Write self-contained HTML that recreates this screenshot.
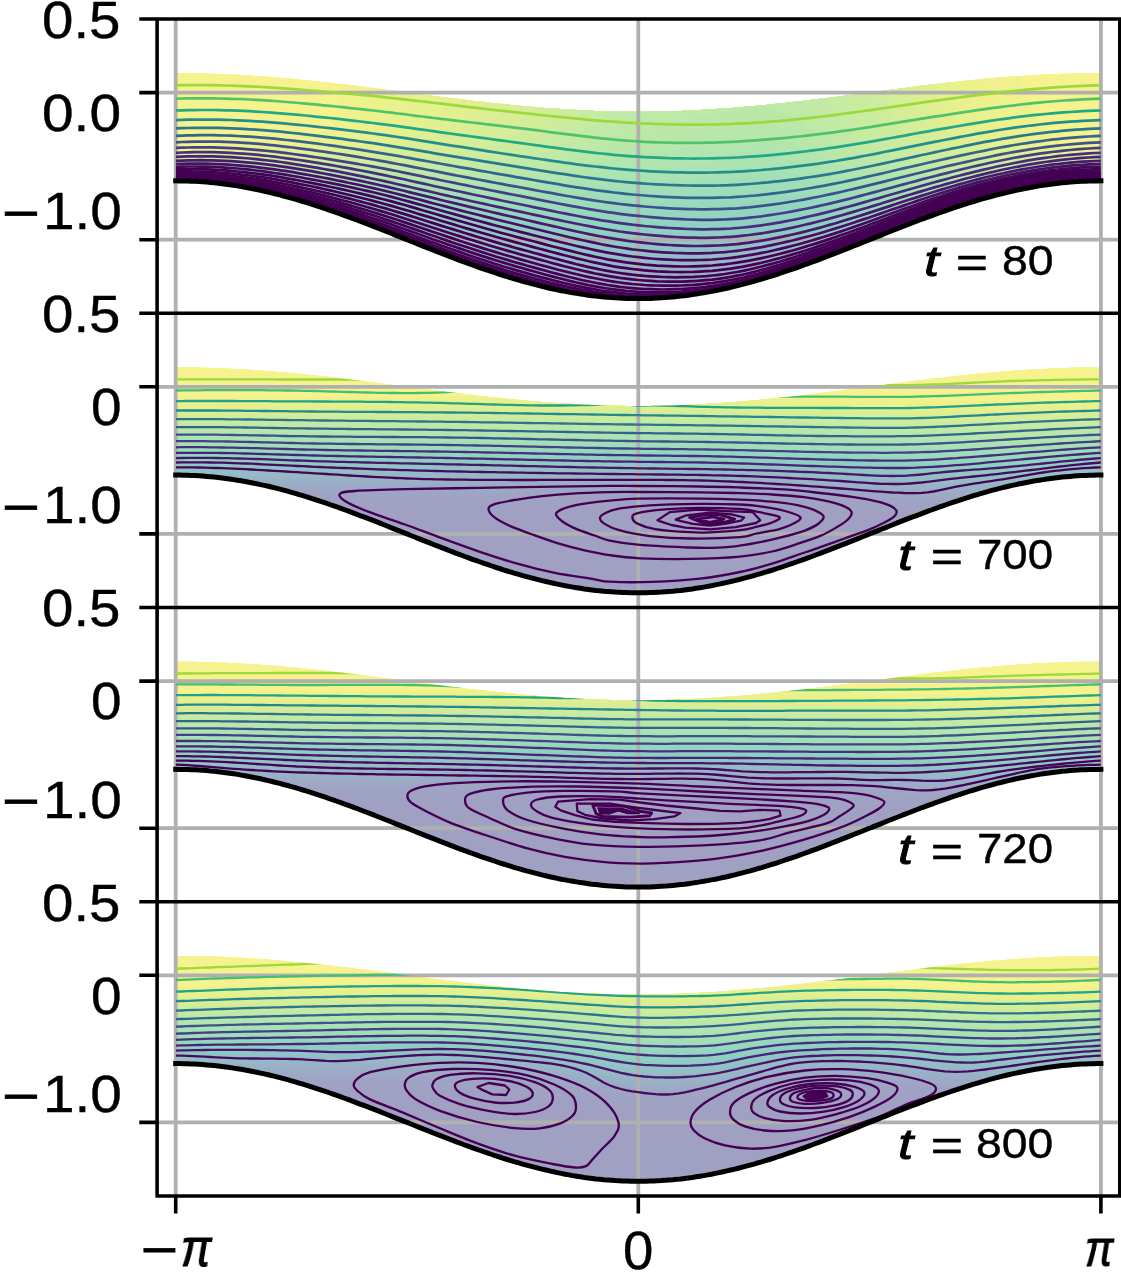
<!DOCTYPE html>
<html><head><meta charset="utf-8"><title>contours</title>
<style>
html,body{margin:0;padding:0;background:#fff}
#fig{position:relative;width:1121px;height:1280px;overflow:hidden;background:#fff;font-family:"Liberation Sans",sans-serif;color:#000}
.t{-webkit-text-stroke:0.4px #000;will-change:transform;position:absolute;white-space:nowrap;line-height:1;transform-origin:0 0}
.i{font-style:italic}
</style></head><body><div id="fig">
<svg width="1121" height="1280" viewBox="0 0 1121 1280" style="position:absolute;left:0;top:0">
<defs><clipPath id="c0"><path d="M175.7 73.1L179.6 73.1L183.4 73.2L187.3 73.2L191.1 73.2L195 73.3L198.8 73.4L202.7 73.5L206.5 73.6L210.4 73.7L214.3 73.8L218.1 73.9L222 74.1L225.8 74.2L229.7 74.4L233.5 74.6L237.4 74.8L241.2 75L245.1 75.2L248.9 75.5L252.8 75.7L256.7 76L260.5 76.3L264.4 76.5L268.2 76.8L272.1 77.1L275.9 77.4L279.8 77.8L283.6 78.1L287.5 78.4L291.4 78.8L295.2 79.1L299.1 79.5L302.9 79.9L306.8 80.3L310.6 80.7L314.5 81.1L318.3 81.5L322.2 81.9L326 82.3L329.9 82.8L333.8 83.2L337.6 83.7L341.5 84.1L345.3 84.6L349.2 85L353 85.5L356.9 86L360.7 86.5L364.6 86.9L368.5 87.4L372.3 87.9L376.2 88.4L380 88.9L383.9 89.4L387.7 89.9L391.6 90.4L395.4 90.9L399.3 91.4L403.1 91.9L407 92.4L410.9 92.9L414.7 93.4L418.6 93.9L422.4 94.4L426.3 94.9L430.1 95.4L434 95.9L437.8 96.4L441.7 96.9L445.6 97.4L449.4 97.9L453.3 98.4L457.1 98.8L461 99.3L464.8 99.8L468.7 100.3L472.5 100.7L476.4 101.2L480.2 101.6L484.1 102.1L488 102.5L491.8 102.9L495.7 103.3L499.5 103.7L503.4 104.1L507.2 104.5L511.1 104.9L514.9 105.3L518.8 105.7L522.7 106L526.5 106.4L530.4 106.7L534.2 107.1L538.1 107.4L541.9 107.7L545.8 108L549.6 108.3L553.5 108.6L557.3 108.8L561.2 109.1L565.1 109.4L568.9 109.6L572.8 109.8L576.6 110L580.5 110.2L584.3 110.4L588.2 110.6L592 110.7L595.9 110.9L599.8 111L603.6 111.2L607.5 111.3L611.3 111.4L615.2 111.5L619 111.5L622.9 111.6L626.7 111.6L630.6 111.7L634.4 111.7L638.3 111.7L642.2 111.7L646 111.7L649.9 111.6L653.7 111.6L657.6 111.5L661.4 111.5L665.3 111.4L669.1 111.3L673 111.2L676.8 111L680.7 110.9L684.6 110.7L688.4 110.6L692.3 110.4L696.1 110.2L700 110L703.8 109.8L707.7 109.6L711.5 109.4L715.4 109.1L719.3 108.8L723.1 108.6L727 108.3L730.8 108L734.7 107.7L738.5 107.4L742.4 107.1L746.2 106.7L750.1 106.4L753.9 106L757.8 105.7L761.7 105.3L765.5 104.9L769.4 104.5L773.2 104.1L777.1 103.7L780.9 103.3L784.8 102.9L788.6 102.5L792.5 102.1L796.4 101.6L800.2 101.2L804.1 100.7L807.9 100.3L811.8 99.8L815.6 99.3L819.5 98.8L823.3 98.4L827.2 97.9L831 97.4L834.9 96.9L838.8 96.4L842.6 95.9L846.5 95.4L850.3 94.9L854.2 94.4L858 93.9L861.9 93.4L865.7 92.9L869.6 92.4L873.5 91.9L877.3 91.4L881.2 90.9L885 90.4L888.9 89.9L892.7 89.4L896.6 88.9L900.4 88.4L904.3 87.9L908.1 87.4L912 86.9L915.9 86.5L919.7 86L923.6 85.5L927.4 85L931.3 84.6L935.1 84.1L939 83.7L942.8 83.2L946.7 82.8L950.6 82.3L954.4 81.9L958.3 81.5L962.1 81.1L966 80.7L969.8 80.3L973.7 79.9L977.5 79.5L981.4 79.1L985.2 78.8L989.1 78.4L993 78.1L996.8 77.8L1000.7 77.4L1004.5 77.1L1008.4 76.8L1012.2 76.5L1016.1 76.3L1019.9 76L1023.8 75.7L1027.7 75.5L1031.5 75.2L1035.4 75L1039.2 74.8L1043.1 74.6L1046.9 74.4L1050.8 74.2L1054.6 74.1L1058.5 73.9L1062.3 73.8L1066.2 73.7L1070.1 73.6L1073.9 73.5L1077.8 73.4L1081.6 73.3L1085.5 73.2L1089.3 73.2L1093.2 73.2L1097 73.1L1100.9 73.1L1100.9 180.8L1097 180.9L1093.2 180.9L1089.3 181L1085.5 181.2L1081.6 181.3L1077.8 181.6L1073.9 181.8L1070.1 182.1L1066.2 182.5L1062.3 182.8L1058.5 183.3L1054.6 183.7L1050.8 184.2L1046.9 184.7L1043.1 185.3L1039.2 185.9L1035.4 186.6L1031.5 187.3L1027.7 188L1023.8 188.7L1019.9 189.5L1016.1 190.3L1012.2 191.2L1008.4 192.1L1004.5 193L1000.7 194L996.8 194.9L993 196L989.1 197L985.2 198.1L981.4 199.2L977.5 200.3L973.7 201.5L969.8 202.7L966 203.9L962.1 205.1L958.3 206.4L954.4 207.6L950.6 208.9L946.7 210.3L942.8 211.6L939 213L935.1 214.4L931.3 215.8L927.4 217.2L923.6 218.6L919.7 220L915.9 221.5L912 223L908.1 224.5L904.3 225.9L900.4 227.5L896.6 229L892.7 230.5L888.9 232L885 233.5L881.2 235.1L877.3 236.6L873.5 238.1L869.6 239.7L865.7 241.2L861.9 242.8L858 244.3L854.2 245.8L850.3 247.4L846.5 248.9L842.6 250.4L838.8 251.9L834.9 253.4L831 254.9L827.2 256.4L823.3 257.9L819.5 259.3L815.6 260.8L811.8 262.2L807.9 263.6L804.1 265L800.2 266.4L796.4 267.8L792.5 269.1L788.6 270.4L784.8 271.7L780.9 273L777.1 274.3L773.2 275.5L769.4 276.7L765.5 277.9L761.7 279.1L757.8 280.2L753.9 281.3L750.1 282.4L746.2 283.4L742.4 284.4L738.5 285.4L734.7 286.4L730.8 287.3L727 288.2L723.1 289L719.3 289.9L715.4 290.7L711.5 291.4L707.7 292.1L703.8 292.8L700 293.4L696.1 294.1L692.3 294.6L688.4 295.2L684.6 295.7L680.7 296.1L676.8 296.5L673 296.9L669.1 297.3L665.3 297.6L661.4 297.8L657.6 298L653.7 298.2L649.9 298.4L646 298.5L642.2 298.5L638.3 298.5L634.4 298.5L630.6 298.5L626.7 298.4L622.9 298.2L619 298L615.2 297.8L611.3 297.6L607.5 297.3L603.6 296.9L599.8 296.5L595.9 296.1L592 295.7L588.2 295.2L584.3 294.6L580.5 294.1L576.6 293.4L572.8 292.8L568.9 292.1L565.1 291.4L561.2 290.7L557.3 289.9L553.5 289L549.6 288.2L545.8 287.3L541.9 286.4L538.1 285.4L534.2 284.4L530.4 283.4L526.5 282.4L522.7 281.3L518.8 280.2L514.9 279.1L511.1 277.9L507.2 276.7L503.4 275.5L499.5 274.3L495.7 273L491.8 271.7L488 270.4L484.1 269.1L480.2 267.8L476.4 266.4L472.5 265L468.7 263.6L464.8 262.2L461 260.8L457.1 259.3L453.3 257.9L449.4 256.4L445.6 254.9L441.7 253.4L437.8 251.9L434 250.4L430.1 248.9L426.3 247.4L422.4 245.8L418.6 244.3L414.7 242.8L410.9 241.2L407 239.7L403.1 238.1L399.3 236.6L395.4 235.1L391.6 233.5L387.7 232L383.9 230.5L380 229L376.2 227.5L372.3 225.9L368.5 224.5L364.6 223L360.7 221.5L356.9 220L353 218.6L349.2 217.2L345.3 215.8L341.5 214.4L337.6 213L333.8 211.6L329.9 210.3L326 208.9L322.2 207.6L318.3 206.4L314.5 205.1L310.6 203.9L306.8 202.7L302.9 201.5L299.1 200.3L295.2 199.2L291.4 198.1L287.5 197L283.6 196L279.8 194.9L275.9 194L272.1 193L268.2 192.1L264.4 191.2L260.5 190.3L256.7 189.5L252.8 188.7L248.9 188L245.1 187.3L241.2 186.6L237.4 185.9L233.5 185.3L229.7 184.7L225.8 184.2L222 183.7L218.1 183.3L214.3 182.8L210.4 182.5L206.5 182.1L202.7 181.8L198.8 181.6L195 181.3L191.1 181.2L187.3 181L183.4 180.9L179.6 180.9L175.7 180.8Z"/></clipPath><clipPath id="c1"><path d="M175.7 367.4L179.6 367.4L183.4 367.4L187.3 367.5L191.1 367.5L195 367.6L198.8 367.6L202.7 367.7L206.5 367.8L210.4 367.9L214.3 368L218.1 368.2L222 368.3L225.8 368.5L229.7 368.7L233.5 368.9L237.4 369.1L241.2 369.3L245.1 369.5L248.9 369.7L252.8 370L256.7 370.2L260.5 370.5L264.4 370.8L268.2 371.1L272.1 371.4L275.9 371.7L279.8 372L283.6 372.3L287.5 372.7L291.4 373L295.2 373.4L299.1 373.8L302.9 374.1L306.8 374.5L310.6 374.9L314.5 375.3L318.3 375.7L322.2 376.2L326 376.6L329.9 377L333.8 377.5L337.6 377.9L341.5 378.4L345.3 378.8L349.2 379.3L353 379.8L356.9 380.2L360.7 380.7L364.6 381.2L368.5 381.7L372.3 382.2L376.2 382.7L380 383.2L383.9 383.7L387.7 384.1L391.6 384.7L395.4 385.2L399.3 385.7L403.1 386.2L407 386.7L410.9 387.2L414.7 387.7L418.6 388.2L422.4 388.7L426.3 389.2L430.1 389.7L434 390.2L437.8 390.7L441.7 391.2L445.6 391.7L449.4 392.1L453.3 392.6L457.1 393.1L461 393.6L464.8 394L468.7 394.5L472.5 395L476.4 395.4L480.2 395.9L484.1 396.3L488 396.7L491.8 397.2L495.7 397.6L499.5 398L503.4 398.4L507.2 398.8L511.1 399.2L514.9 399.6L518.8 399.9L522.7 400.3L526.5 400.6L530.4 401L534.2 401.3L538.1 401.6L541.9 402L545.8 402.3L549.6 402.5L553.5 402.8L557.3 403.1L561.2 403.4L565.1 403.6L568.9 403.8L572.8 404.1L576.6 404.3L580.5 404.5L584.3 404.7L588.2 404.8L592 405L595.9 405.1L599.8 405.3L603.6 405.4L607.5 405.5L611.3 405.6L615.2 405.7L619 405.8L622.9 405.8L626.7 405.9L630.6 405.9L634.4 405.9L638.3 405.9L642.2 405.9L646 405.9L649.9 405.9L653.7 405.8L657.6 405.8L661.4 405.7L665.3 405.6L669.1 405.5L673 405.4L676.8 405.3L680.7 405.1L684.6 405L688.4 404.8L692.3 404.7L696.1 404.5L700 404.3L703.8 404.1L707.7 403.8L711.5 403.6L715.4 403.4L719.3 403.1L723.1 402.8L727 402.5L730.8 402.3L734.7 402L738.5 401.6L742.4 401.3L746.2 401L750.1 400.6L753.9 400.3L757.8 399.9L761.7 399.6L765.5 399.2L769.4 398.8L773.2 398.4L777.1 398L780.9 397.6L784.8 397.2L788.6 396.7L792.5 396.3L796.4 395.9L800.2 395.4L804.1 395L807.9 394.5L811.8 394L815.6 393.6L819.5 393.1L823.3 392.6L827.2 392.1L831 391.7L834.9 391.2L838.8 390.7L842.6 390.2L846.5 389.7L850.3 389.2L854.2 388.7L858 388.2L861.9 387.7L865.7 387.2L869.6 386.7L873.5 386.2L877.3 385.7L881.2 385.2L885 384.7L888.9 384.1L892.7 383.7L896.6 383.2L900.4 382.7L904.3 382.2L908.1 381.7L912 381.2L915.9 380.7L919.7 380.2L923.6 379.8L927.4 379.3L931.3 378.8L935.1 378.4L939 377.9L942.8 377.5L946.7 377L950.6 376.6L954.4 376.2L958.3 375.7L962.1 375.3L966 374.9L969.8 374.5L973.7 374.1L977.5 373.8L981.4 373.4L985.2 373L989.1 372.7L993 372.3L996.8 372L1000.7 371.7L1004.5 371.4L1008.4 371.1L1012.2 370.8L1016.1 370.5L1019.9 370.2L1023.8 370L1027.7 369.7L1031.5 369.5L1035.4 369.3L1039.2 369.1L1043.1 368.9L1046.9 368.7L1050.8 368.5L1054.6 368.3L1058.5 368.2L1062.3 368L1066.2 367.9L1070.1 367.8L1073.9 367.7L1077.8 367.6L1081.6 367.6L1085.5 367.5L1089.3 367.5L1093.2 367.4L1097 367.4L1100.9 367.4L1100.9 475.1L1097 475.1L1093.2 475.2L1089.3 475.3L1085.5 475.4L1081.6 475.6L1077.8 475.8L1073.9 476.1L1070.1 476.4L1066.2 476.7L1062.3 477.1L1058.5 477.5L1054.6 478L1050.8 478.5L1046.9 479L1043.1 479.6L1039.2 480.2L1035.4 480.8L1031.5 481.5L1027.7 482.2L1023.8 483L1019.9 483.8L1016.1 484.6L1012.2 485.4L1008.4 486.3L1004.5 487.2L1000.7 488.2L996.8 489.2L993 490.2L989.1 491.2L985.2 492.3L981.4 493.4L977.5 494.6L973.7 495.7L969.8 496.9L966 498.1L962.1 499.3L958.3 500.6L954.4 501.9L950.6 503.2L946.7 504.5L942.8 505.9L939 507.2L935.1 508.6L931.3 510L927.4 511.4L923.6 512.8L919.7 514.3L915.9 515.8L912 517.2L908.1 518.7L904.3 520.2L900.4 521.7L896.6 523.2L892.7 524.7L888.9 526.3L885 527.8L881.2 529.3L877.3 530.9L873.5 532.4L869.6 533.9L865.7 535.5L861.9 537L858 538.6L854.2 540.1L850.3 541.6L846.5 543.1L842.6 544.7L838.8 546.2L834.9 547.7L831 549.2L827.2 550.7L823.3 552.1L819.5 553.6L815.6 555L811.8 556.5L807.9 557.9L804.1 559.3L800.2 560.7L796.4 562L792.5 563.4L788.6 564.7L784.8 566L780.9 567.3L777.1 568.5L773.2 569.8L769.4 571L765.5 572.2L761.7 573.3L757.8 574.4L753.9 575.6L750.1 576.6L746.2 577.7L742.4 578.7L738.5 579.7L734.7 580.6L730.8 581.5L727 582.4L723.1 583.3L719.3 584.1L715.4 584.9L711.5 585.7L707.7 586.4L703.8 587.1L700 587.7L696.1 588.3L692.3 588.9L688.4 589.4L684.6 589.9L680.7 590.4L676.8 590.8L673 591.2L669.1 591.5L665.3 591.8L661.4 592.1L657.6 592.3L653.7 592.5L649.9 592.6L646 592.7L642.2 592.8L638.3 592.8L634.4 592.8L630.6 592.7L626.7 592.6L622.9 592.5L619 592.3L615.2 592.1L611.3 591.8L607.5 591.5L603.6 591.2L599.8 590.8L595.9 590.4L592 589.9L588.2 589.4L584.3 588.9L580.5 588.3L576.6 587.7L572.8 587.1L568.9 586.4L565.1 585.7L561.2 584.9L557.3 584.1L553.5 583.3L549.6 582.4L545.8 581.5L541.9 580.6L538.1 579.7L534.2 578.7L530.4 577.7L526.5 576.6L522.7 575.6L518.8 574.4L514.9 573.3L511.1 572.2L507.2 571L503.4 569.8L499.5 568.5L495.7 567.3L491.8 566L488 564.7L484.1 563.4L480.2 562L476.4 560.7L472.5 559.3L468.7 557.9L464.8 556.5L461 555L457.1 553.6L453.3 552.1L449.4 550.7L445.6 549.2L441.7 547.7L437.8 546.2L434 544.7L430.1 543.1L426.3 541.6L422.4 540.1L418.6 538.6L414.7 537L410.9 535.5L407 533.9L403.1 532.4L399.3 530.9L395.4 529.3L391.6 527.8L387.7 526.3L383.9 524.7L380 523.2L376.2 521.7L372.3 520.2L368.5 518.7L364.6 517.2L360.7 515.8L356.9 514.3L353 512.8L349.2 511.4L345.3 510L341.5 508.6L337.6 507.2L333.8 505.9L329.9 504.5L326 503.2L322.2 501.9L318.3 500.6L314.5 499.3L310.6 498.1L306.8 496.9L302.9 495.7L299.1 494.6L295.2 493.4L291.4 492.3L287.5 491.2L283.6 490.2L279.8 489.2L275.9 488.2L272.1 487.2L268.2 486.3L264.4 485.4L260.5 484.6L256.7 483.8L252.8 483L248.9 482.2L245.1 481.5L241.2 480.8L237.4 480.2L233.5 479.6L229.7 479L225.8 478.5L222 478L218.1 477.5L214.3 477.1L210.4 476.7L206.5 476.4L202.7 476.1L198.8 475.8L195 475.6L191.1 475.4L187.3 475.3L183.4 475.2L179.6 475.1L175.7 475.1Z"/></clipPath><clipPath id="c2"><path d="M175.7 661.6L179.6 661.6L183.4 661.7L187.3 661.7L191.1 661.7L195 661.8L198.8 661.9L202.7 662L206.5 662.1L210.4 662.2L214.3 662.3L218.1 662.4L222 662.6L225.8 662.7L229.7 662.9L233.5 663.1L237.4 663.3L241.2 663.5L245.1 663.7L248.9 664L252.8 664.2L256.7 664.5L260.5 664.8L264.4 665L268.2 665.3L272.1 665.6L275.9 665.9L279.8 666.3L283.6 666.6L287.5 666.9L291.4 667.3L295.2 667.6L299.1 668L302.9 668.4L306.8 668.8L310.6 669.2L314.5 669.6L318.3 670L322.2 670.4L326 670.8L329.9 671.3L333.8 671.7L337.6 672.2L341.5 672.6L345.3 673.1L349.2 673.5L353 674L356.9 674.5L360.7 675L364.6 675.4L368.5 675.9L372.3 676.4L376.2 676.9L380 677.4L383.9 677.9L387.7 678.4L391.6 678.9L395.4 679.4L399.3 679.9L403.1 680.4L407 680.9L410.9 681.4L414.7 681.9L418.6 682.4L422.4 682.9L426.3 683.4L430.1 683.9L434 684.4L437.8 684.9L441.7 685.4L445.6 685.9L449.4 686.4L453.3 686.9L457.1 687.3L461 687.8L464.8 688.3L468.7 688.8L472.5 689.2L476.4 689.7L480.2 690.1L484.1 690.6L488 691L491.8 691.4L495.7 691.8L499.5 692.2L503.4 692.6L507.2 693L511.1 693.4L514.9 693.8L518.8 694.2L522.7 694.5L526.5 694.9L530.4 695.2L534.2 695.6L538.1 695.9L541.9 696.2L545.8 696.5L549.6 696.8L553.5 697.1L557.3 697.3L561.2 697.6L565.1 697.9L568.9 698.1L572.8 698.3L576.6 698.5L580.5 698.7L584.3 698.9L588.2 699.1L592 699.2L595.9 699.4L599.8 699.5L603.6 699.7L607.5 699.8L611.3 699.9L615.2 700L619 700L622.9 700.1L626.7 700.1L630.6 700.2L634.4 700.2L638.3 700.2L642.2 700.2L646 700.2L649.9 700.1L653.7 700.1L657.6 700L661.4 700L665.3 699.9L669.1 699.8L673 699.7L676.8 699.5L680.7 699.4L684.6 699.2L688.4 699.1L692.3 698.9L696.1 698.7L700 698.5L703.8 698.3L707.7 698.1L711.5 697.9L715.4 697.6L719.3 697.3L723.1 697.1L727 696.8L730.8 696.5L734.7 696.2L738.5 695.9L742.4 695.6L746.2 695.2L750.1 694.9L753.9 694.5L757.8 694.2L761.7 693.8L765.5 693.4L769.4 693L773.2 692.6L777.1 692.2L780.9 691.8L784.8 691.4L788.6 691L792.5 690.6L796.4 690.1L800.2 689.7L804.1 689.2L807.9 688.8L811.8 688.3L815.6 687.8L819.5 687.3L823.3 686.9L827.2 686.4L831 685.9L834.9 685.4L838.8 684.9L842.6 684.4L846.5 683.9L850.3 683.4L854.2 682.9L858 682.4L861.9 681.9L865.7 681.4L869.6 680.9L873.5 680.4L877.3 679.9L881.2 679.4L885 678.9L888.9 678.4L892.7 677.9L896.6 677.4L900.4 676.9L904.3 676.4L908.1 675.9L912 675.4L915.9 675L919.7 674.5L923.6 674L927.4 673.5L931.3 673.1L935.1 672.6L939 672.2L942.8 671.7L946.7 671.3L950.6 670.8L954.4 670.4L958.3 670L962.1 669.6L966 669.2L969.8 668.8L973.7 668.4L977.5 668L981.4 667.6L985.2 667.3L989.1 666.9L993 666.6L996.8 666.3L1000.7 665.9L1004.5 665.6L1008.4 665.3L1012.2 665L1016.1 664.8L1019.9 664.5L1023.8 664.2L1027.7 664L1031.5 663.7L1035.4 663.5L1039.2 663.3L1043.1 663.1L1046.9 662.9L1050.8 662.7L1054.6 662.6L1058.5 662.4L1062.3 662.3L1066.2 662.2L1070.1 662.1L1073.9 662L1077.8 661.9L1081.6 661.8L1085.5 661.7L1089.3 661.7L1093.2 661.7L1097 661.6L1100.9 661.6L1100.9 769.3L1097 769.4L1093.2 769.4L1089.3 769.5L1085.5 769.7L1081.6 769.8L1077.8 770.1L1073.9 770.3L1070.1 770.6L1066.2 771L1062.3 771.3L1058.5 771.8L1054.6 772.2L1050.8 772.7L1046.9 773.2L1043.1 773.8L1039.2 774.4L1035.4 775.1L1031.5 775.8L1027.7 776.5L1023.8 777.2L1019.9 778L1016.1 778.8L1012.2 779.7L1008.4 780.6L1004.5 781.5L1000.7 782.5L996.8 783.4L993 784.5L989.1 785.5L985.2 786.6L981.4 787.7L977.5 788.8L973.7 790L969.8 791.2L966 792.4L962.1 793.6L958.3 794.9L954.4 796.1L950.6 797.4L946.7 798.8L942.8 800.1L939 801.5L935.1 802.9L931.3 804.3L927.4 805.7L923.6 807.1L919.7 808.5L915.9 810L912 811.5L908.1 813L904.3 814.4L900.4 816L896.6 817.5L892.7 819L888.9 820.5L885 822L881.2 823.6L877.3 825.1L873.5 826.6L869.6 828.2L865.7 829.7L861.9 831.3L858 832.8L854.2 834.3L850.3 835.9L846.5 837.4L842.6 838.9L838.8 840.4L834.9 841.9L831 843.4L827.2 844.9L823.3 846.4L819.5 847.8L815.6 849.3L811.8 850.7L807.9 852.1L804.1 853.5L800.2 854.9L796.4 856.3L792.5 857.6L788.6 858.9L784.8 860.2L780.9 861.5L777.1 862.8L773.2 864L769.4 865.2L765.5 866.4L761.7 867.6L757.8 868.7L753.9 869.8L750.1 870.9L746.2 871.9L742.4 872.9L738.5 873.9L734.7 874.9L730.8 875.8L727 876.7L723.1 877.5L719.3 878.4L715.4 879.2L711.5 879.9L707.7 880.6L703.8 881.3L700 881.9L696.1 882.6L692.3 883.1L688.4 883.7L684.6 884.2L680.7 884.6L676.8 885L673 885.4L669.1 885.8L665.3 886.1L661.4 886.3L657.6 886.5L653.7 886.7L649.9 886.9L646 887L642.2 887L638.3 887L634.4 887L630.6 887L626.7 886.9L622.9 886.7L619 886.5L615.2 886.3L611.3 886.1L607.5 885.8L603.6 885.4L599.8 885L595.9 884.6L592 884.2L588.2 883.7L584.3 883.1L580.5 882.6L576.6 881.9L572.8 881.3L568.9 880.6L565.1 879.9L561.2 879.2L557.3 878.4L553.5 877.5L549.6 876.7L545.8 875.8L541.9 874.9L538.1 873.9L534.2 872.9L530.4 871.9L526.5 870.9L522.7 869.8L518.8 868.7L514.9 867.6L511.1 866.4L507.2 865.2L503.4 864L499.5 862.8L495.7 861.5L491.8 860.2L488 858.9L484.1 857.6L480.2 856.3L476.4 854.9L472.5 853.5L468.7 852.1L464.8 850.7L461 849.3L457.1 847.8L453.3 846.4L449.4 844.9L445.6 843.4L441.7 841.9L437.8 840.4L434 838.9L430.1 837.4L426.3 835.9L422.4 834.3L418.6 832.8L414.7 831.3L410.9 829.7L407 828.2L403.1 826.6L399.3 825.1L395.4 823.6L391.6 822L387.7 820.5L383.9 819L380 817.5L376.2 816L372.3 814.4L368.5 813L364.6 811.5L360.7 810L356.9 808.5L353 807.1L349.2 805.7L345.3 804.3L341.5 802.9L337.6 801.5L333.8 800.1L329.9 798.8L326 797.4L322.2 796.1L318.3 794.9L314.5 793.6L310.6 792.4L306.8 791.2L302.9 790L299.1 788.8L295.2 787.7L291.4 786.6L287.5 785.5L283.6 784.5L279.8 783.4L275.9 782.5L272.1 781.5L268.2 780.6L264.4 779.7L260.5 778.8L256.7 778L252.8 777.2L248.9 776.5L245.1 775.8L241.2 775.1L237.4 774.4L233.5 773.8L229.7 773.2L225.8 772.7L222 772.2L218.1 771.8L214.3 771.3L210.4 771L206.5 770.6L202.7 770.3L198.8 770.1L195 769.8L191.1 769.7L187.3 769.5L183.4 769.4L179.6 769.4L175.7 769.3Z"/></clipPath><clipPath id="c3"><path d="M175.7 955.9L179.6 955.9L183.4 955.9L187.3 956L191.1 956L195 956.1L198.8 956.1L202.7 956.2L206.5 956.3L210.4 956.4L214.3 956.5L218.1 956.7L222 956.8L225.8 957L229.7 957.2L233.5 957.4L237.4 957.6L241.2 957.8L245.1 958L248.9 958.2L252.8 958.5L256.7 958.7L260.5 959L264.4 959.3L268.2 959.6L272.1 959.9L275.9 960.2L279.8 960.5L283.6 960.8L287.5 961.2L291.4 961.5L295.2 961.9L299.1 962.3L302.9 962.6L306.8 963L310.6 963.4L314.5 963.8L318.3 964.2L322.2 964.7L326 965.1L329.9 965.5L333.8 966L337.6 966.4L341.5 966.9L345.3 967.3L349.2 967.8L353 968.3L356.9 968.7L360.7 969.2L364.6 969.7L368.5 970.2L372.3 970.7L376.2 971.2L380 971.7L383.9 972.2L387.7 972.6L391.6 973.2L395.4 973.7L399.3 974.2L403.1 974.7L407 975.2L410.9 975.7L414.7 976.2L418.6 976.7L422.4 977.2L426.3 977.7L430.1 978.2L434 978.7L437.8 979.2L441.7 979.7L445.6 980.2L449.4 980.6L453.3 981.1L457.1 981.6L461 982.1L464.8 982.5L468.7 983L472.5 983.5L476.4 983.9L480.2 984.4L484.1 984.8L488 985.2L491.8 985.7L495.7 986.1L499.5 986.5L503.4 986.9L507.2 987.3L511.1 987.7L514.9 988.1L518.8 988.4L522.7 988.8L526.5 989.1L530.4 989.5L534.2 989.8L538.1 990.1L541.9 990.5L545.8 990.8L549.6 991L553.5 991.3L557.3 991.6L561.2 991.9L565.1 992.1L568.9 992.3L572.8 992.6L576.6 992.8L580.5 993L584.3 993.2L588.2 993.3L592 993.5L595.9 993.6L599.8 993.8L603.6 993.9L607.5 994L611.3 994.1L615.2 994.2L619 994.3L622.9 994.3L626.7 994.4L630.6 994.4L634.4 994.4L638.3 994.4L642.2 994.4L646 994.4L649.9 994.4L653.7 994.3L657.6 994.3L661.4 994.2L665.3 994.1L669.1 994L673 993.9L676.8 993.8L680.7 993.6L684.6 993.5L688.4 993.3L692.3 993.2L696.1 993L700 992.8L703.8 992.6L707.7 992.3L711.5 992.1L715.4 991.9L719.3 991.6L723.1 991.3L727 991L730.8 990.8L734.7 990.5L738.5 990.1L742.4 989.8L746.2 989.5L750.1 989.1L753.9 988.8L757.8 988.4L761.7 988.1L765.5 987.7L769.4 987.3L773.2 986.9L777.1 986.5L780.9 986.1L784.8 985.7L788.6 985.2L792.5 984.8L796.4 984.4L800.2 983.9L804.1 983.5L807.9 983L811.8 982.5L815.6 982.1L819.5 981.6L823.3 981.1L827.2 980.6L831 980.2L834.9 979.7L838.8 979.2L842.6 978.7L846.5 978.2L850.3 977.7L854.2 977.2L858 976.7L861.9 976.2L865.7 975.7L869.6 975.2L873.5 974.7L877.3 974.2L881.2 973.7L885 973.2L888.9 972.6L892.7 972.2L896.6 971.7L900.4 971.2L904.3 970.7L908.1 970.2L912 969.7L915.9 969.2L919.7 968.7L923.6 968.3L927.4 967.8L931.3 967.3L935.1 966.9L939 966.4L942.8 966L946.7 965.5L950.6 965.1L954.4 964.7L958.3 964.2L962.1 963.8L966 963.4L969.8 963L973.7 962.6L977.5 962.3L981.4 961.9L985.2 961.5L989.1 961.2L993 960.8L996.8 960.5L1000.7 960.2L1004.5 959.9L1008.4 959.6L1012.2 959.3L1016.1 959L1019.9 958.7L1023.8 958.5L1027.7 958.2L1031.5 958L1035.4 957.8L1039.2 957.6L1043.1 957.4L1046.9 957.2L1050.8 957L1054.6 956.8L1058.5 956.7L1062.3 956.5L1066.2 956.4L1070.1 956.3L1073.9 956.2L1077.8 956.1L1081.6 956.1L1085.5 956L1089.3 956L1093.2 955.9L1097 955.9L1100.9 955.9L1100.9 1063.6L1097 1063.6L1093.2 1063.7L1089.3 1063.8L1085.5 1063.9L1081.6 1064.1L1077.8 1064.3L1073.9 1064.6L1070.1 1064.9L1066.2 1065.2L1062.3 1065.6L1058.5 1066L1054.6 1066.5L1050.8 1067L1046.9 1067.5L1043.1 1068.1L1039.2 1068.7L1035.4 1069.3L1031.5 1070L1027.7 1070.7L1023.8 1071.5L1019.9 1072.3L1016.1 1073.1L1012.2 1073.9L1008.4 1074.8L1004.5 1075.7L1000.7 1076.7L996.8 1077.7L993 1078.7L989.1 1079.7L985.2 1080.8L981.4 1081.9L977.5 1083.1L973.7 1084.2L969.8 1085.4L966 1086.6L962.1 1087.8L958.3 1089.1L954.4 1090.4L950.6 1091.7L946.7 1093L942.8 1094.4L939 1095.7L935.1 1097.1L931.3 1098.5L927.4 1099.9L923.6 1101.3L919.7 1102.8L915.9 1104.3L912 1105.7L908.1 1107.2L904.3 1108.7L900.4 1110.2L896.6 1111.7L892.7 1113.2L888.9 1114.8L885 1116.3L881.2 1117.8L877.3 1119.4L873.5 1120.9L869.6 1122.4L865.7 1124L861.9 1125.5L858 1127.1L854.2 1128.6L850.3 1130.1L846.5 1131.6L842.6 1133.2L838.8 1134.7L834.9 1136.2L831 1137.7L827.2 1139.2L823.3 1140.6L819.5 1142.1L815.6 1143.5L811.8 1145L807.9 1146.4L804.1 1147.8L800.2 1149.2L796.4 1150.5L792.5 1151.9L788.6 1153.2L784.8 1154.5L780.9 1155.8L777.1 1157L773.2 1158.3L769.4 1159.5L765.5 1160.7L761.7 1161.8L757.8 1162.9L753.9 1164.1L750.1 1165.1L746.2 1166.2L742.4 1167.2L738.5 1168.2L734.7 1169.1L730.8 1170L727 1170.9L723.1 1171.8L719.3 1172.6L715.4 1173.4L711.5 1174.2L707.7 1174.9L703.8 1175.6L700 1176.2L696.1 1176.8L692.3 1177.4L688.4 1177.9L684.6 1178.4L680.7 1178.9L676.8 1179.3L673 1179.7L669.1 1180L665.3 1180.3L661.4 1180.6L657.6 1180.8L653.7 1181L649.9 1181.1L646 1181.2L642.2 1181.3L638.3 1181.3L634.4 1181.3L630.6 1181.2L626.7 1181.1L622.9 1181L619 1180.8L615.2 1180.6L611.3 1180.3L607.5 1180L603.6 1179.7L599.8 1179.3L595.9 1178.9L592 1178.4L588.2 1177.9L584.3 1177.4L580.5 1176.8L576.6 1176.2L572.8 1175.6L568.9 1174.9L565.1 1174.2L561.2 1173.4L557.3 1172.6L553.5 1171.8L549.6 1170.9L545.8 1170L541.9 1169.1L538.1 1168.2L534.2 1167.2L530.4 1166.2L526.5 1165.1L522.7 1164.1L518.8 1162.9L514.9 1161.8L511.1 1160.7L507.2 1159.5L503.4 1158.3L499.5 1157L495.7 1155.8L491.8 1154.5L488 1153.2L484.1 1151.9L480.2 1150.5L476.4 1149.2L472.5 1147.8L468.7 1146.4L464.8 1145L461 1143.5L457.1 1142.1L453.3 1140.6L449.4 1139.2L445.6 1137.7L441.7 1136.2L437.8 1134.7L434 1133.2L430.1 1131.6L426.3 1130.1L422.4 1128.6L418.6 1127.1L414.7 1125.5L410.9 1124L407 1122.4L403.1 1120.9L399.3 1119.4L395.4 1117.8L391.6 1116.3L387.7 1114.8L383.9 1113.2L380 1111.7L376.2 1110.2L372.3 1108.7L368.5 1107.2L364.6 1105.7L360.7 1104.3L356.9 1102.8L353 1101.3L349.2 1099.9L345.3 1098.5L341.5 1097.1L337.6 1095.7L333.8 1094.4L329.9 1093L326 1091.7L322.2 1090.4L318.3 1089.1L314.5 1087.8L310.6 1086.6L306.8 1085.4L302.9 1084.2L299.1 1083.1L295.2 1081.9L291.4 1080.8L287.5 1079.7L283.6 1078.7L279.8 1077.7L275.9 1076.7L272.1 1075.7L268.2 1074.8L264.4 1073.9L260.5 1073.1L256.7 1072.3L252.8 1071.5L248.9 1070.7L245.1 1070L241.2 1069.3L237.4 1068.7L233.5 1068.1L229.7 1067.5L225.8 1067L222 1066.5L218.1 1066L214.3 1065.6L210.4 1065.2L206.5 1064.9L202.7 1064.6L198.8 1064.3L195 1064.1L191.1 1063.9L187.3 1063.8L183.4 1063.7L179.6 1063.6L175.7 1063.6Z"/></clipPath></defs>
<rect width="1121" height="1280" fill="#fff"/>
<g clip-path="url(#c0)"><rect x="170" y="59" width="940" height="250" fill="#fdf391"/><path d="M175.7 67.1L187.7 67.2L199.7 67.4L211.7 67.7L223.7 68.2L235.7 68.7L247.7 69.4L259.7 70.2L271.7 71.1L283.7 72.1L295.7 73.2L307.7 74.4L319.7 75.6L331.7 77L343.7 78.4L355.7 79.8L367.7 81.3L379.7 82.9L391.7 84.4L403.7 86L415.7 87.6L427.7 89.1L439.7 90.7L451.7 92.2L463.7 93.7L475.7 95.1L487.7 96.5L499.7 97.8L511.7 99L523.7 100.1L535.7 101.2L547.7 102.2L559.7 103L571.7 103.8L583.7 104.4L595.7 104.9L607.7 105.3L619.7 105.5L631.7 105.7L643.7 105.7L655.7 105.6L667.7 105.3L679.7 104.9L691.7 104.4L703.7 103.8L715.7 103.1L727.7 102.2L739.7 101.3L751.7 100.3L763.7 99.1L775.7 97.9L787.7 96.6L799.7 95.2L811.7 93.8L823.7 92.3L835.7 90.8L847.7 89.3L859.7 87.7L871.7 86.1L883.7 84.6L895.7 83L907.7 81.5L919.7 80L931.7 78.5L943.7 77.1L955.7 75.8L967.7 74.5L979.7 73.3L991.7 72.2L1003.7 71.2L1015.7 70.3L1027.7 69.5L1039.7 68.8L1051.7 68.2L1063.7 67.8L1075.7 67.4L1087.7 67.2L1099.7 67.1L1100.9 67.1V309H175.7Z" fill="#f9f28f"/><path d="M175.7 67.1L187.7 67.2L199.7 67.4L211.7 67.7L223.7 68.2L235.7 68.7L247.7 69.4L259.7 70.2L271.7 71.1L283.7 72.1L295.7 73.2L307.7 74.4L319.7 75.6L331.7 77L343.7 78.4L355.7 79.8L367.7 81.3L379.7 82.9L391.7 84.4L403.7 86L415.7 87.6L427.7 89.1L439.7 90.7L451.7 92.2L463.7 93.7L475.7 95.1L487.7 96.5L499.7 97.8L511.7 99L523.7 100.1L535.7 101.2L547.7 102.2L559.7 103L571.7 103.8L583.7 104.4L595.7 104.9L607.7 105.3L619.7 105.5L631.7 105.7L643.7 105.7L655.7 105.6L667.7 105.3L679.7 104.9L691.7 104.4L703.7 103.8L715.7 103.1L727.7 102.2L739.7 101.3L751.7 100.3L763.7 99.1L775.7 97.9L787.7 96.6L799.7 95.2L811.7 93.8L823.7 92.3L835.7 90.8L847.7 89.3L859.7 87.7L871.7 86.1L883.7 84.6L895.7 83L907.7 81.5L919.7 80L931.7 78.5L943.7 77.1L955.7 75.8L967.7 74.5L979.7 73.3L991.7 72.2L1003.7 71.2L1015.7 70.3L1027.7 69.5L1039.7 68.8L1051.7 68.2L1063.7 67.8L1075.7 67.4L1087.7 67.2L1099.7 67.1L1100.9 149.8V309H175.7Z" fill="#f6f28d"/><path d="M175.7 152.2L187.7 150.5L199.7 147.8L211.7 144.9L223.7 143L235.7 141.5L247.7 140.4L259.7 139.5L271.7 138.6L283.7 137.6L295.7 136.4L307.7 134.7L319.7 132.3L331.7 129.1L343.7 78.4L355.7 79.8L367.7 81.3L379.7 82.9L391.7 84.4L403.7 86L415.7 87.6L427.7 89.1L439.7 90.7L451.7 92.2L463.7 93.7L475.7 95.1L487.7 96.5L499.7 97.8L511.7 99L523.7 100.1L535.7 101.2L547.7 102.2L559.7 103L571.7 103.8L583.7 104.4L595.7 104.9L607.7 105.3L619.7 105.5L631.7 105.7L643.7 105.7L655.7 105.6L667.7 105.3L679.7 104.9L691.7 104.4L703.7 103.8L715.7 103.1L727.7 102.2L739.7 101.3L751.7 100.3L763.7 99.1L775.7 97.9L787.7 96.6L799.7 95.2L811.7 93.8L823.7 92.3L835.7 90.8L847.7 89.3L859.7 87.7L871.7 86.1L883.7 84.6L895.7 83L907.7 81.5L919.7 80L931.7 78.5L943.7 77.1L955.7 75.8L967.7 74.5L979.7 73.3L991.7 72.2L1003.7 71.2L1015.7 70.3L1027.7 95.1L1039.7 123.2L1051.7 135.9L1063.7 142.1L1075.7 147.4L1087.7 150.8L1099.7 152.1L1100.9 152.2V309H175.7Z" fill="#f0f18c"/><path d="M175.7 153.6L187.7 152.2L199.7 150.9L211.7 149.1L223.7 146.9L235.7 145.5L247.7 144.4L259.7 143.8L271.7 143.4L283.7 143.2L295.7 143.1L307.7 142.1L319.7 139.7L331.7 136.9L343.7 133.9L355.7 129.9L367.7 81.3L379.7 82.9L391.7 84.4L403.7 86L415.7 87.6L427.7 89.1L439.7 90.7L451.7 92.2L463.7 93.7L475.7 95.1L487.7 96.5L499.7 97.8L511.7 99L523.7 100.1L535.7 101.2L547.7 102.2L559.7 103L571.7 103.8L583.7 104.4L595.7 104.9L607.7 105.3L619.7 105.5L631.7 105.7L643.7 105.7L655.7 105.6L667.7 105.3L679.7 104.9L691.7 104.4L703.7 103.8L715.7 103.1L727.7 102.2L739.7 101.3L751.7 100.3L763.7 99.1L775.7 97.9L787.7 96.6L799.7 95.2L811.7 93.8L823.7 92.3L835.7 90.8L847.7 89.3L859.7 87.7L871.7 86.1L883.7 84.6L895.7 83L907.7 81.5L919.7 80L931.7 78.5L943.7 77.1L955.7 75.8L967.7 74.5L979.7 73.3L991.7 89.3L1003.7 105.7L1015.7 122.1L1027.7 133.8L1039.7 140.1L1051.7 144.8L1063.7 149.1L1075.7 151.6L1087.7 152.7L1099.7 153.6L1100.9 153.6V309H175.7Z" fill="#edf18c"/><path d="M175.7 154.8L187.7 153.5L199.7 152.5L211.7 151.6L223.7 150.3L235.7 148.7L247.7 147.7L259.7 147.1L271.7 146.8L283.7 146.8L295.7 147L307.7 146.8L319.7 145.8L331.7 143.2L343.7 140.4L355.7 137.6L367.7 134.1L379.7 127.5L391.7 84.4L403.7 86L415.7 87.6L427.7 89.1L439.7 90.7L451.7 92.2L463.7 93.7L475.7 95.1L487.7 96.5L499.7 97.8L511.7 99L523.7 100.1L535.7 101.2L547.7 102.2L559.7 103L571.7 103.8L583.7 104.4L595.7 104.9L607.7 105.3L619.7 105.5L631.7 105.7L643.7 105.7L655.7 105.6L667.7 105.3L679.7 104.9L691.7 104.4L703.7 103.8L715.7 103.1L727.7 102.2L739.7 101.3L751.7 100.3L763.7 99.1L775.7 97.9L787.7 96.6L799.7 95.2L811.7 93.8L823.7 92.3L835.7 90.8L847.7 89.3L859.7 87.7L871.7 86.1L883.7 84.6L895.7 83L907.7 81.5L919.7 80L931.7 78.5L943.7 77.1L955.7 75.8L967.7 92.5L979.7 108.3L991.7 121L1003.7 131.4L1015.7 138.7L1027.7 143.2L1039.7 147L1051.7 150.6L1063.7 152.6L1075.7 153.5L1087.7 154.1L1099.7 154.8L1100.9 154.8V309H175.7Z" fill="#e9f08d"/><path d="M175.7 155.8L187.7 154.6L199.7 153.7L211.7 153.1L223.7 152.5L235.7 151.5L247.7 150.5L259.7 149.9L271.7 149.6L283.7 149.7L295.7 150L307.7 150L319.7 149.7L331.7 148.5L343.7 146L355.7 143.4L367.7 140.8L379.7 137.6L391.7 133.1L403.7 121.8L415.7 105.4L427.7 89.1L439.7 90.7L451.7 92.2L463.7 93.7L475.7 95.1L487.7 96.5L499.7 97.8L511.7 99L523.7 100.1L535.7 101.2L547.7 102.2L559.7 103L571.7 103.8L583.7 104.4L595.7 104.9L607.7 105.3L619.7 105.5L631.7 105.7L643.7 105.7L655.7 105.6L667.7 105.3L679.7 104.9L691.7 104.4L703.7 103.8L715.7 103.1L727.7 102.2L739.7 101.3L751.7 100.3L763.7 99.1L775.7 97.9L787.7 96.6L799.7 95.2L811.7 93.8L823.7 92.3L835.7 90.8L847.7 89.3L859.7 87.7L871.7 86.1L883.7 84.6L895.7 83L907.7 81.5L919.7 80L931.7 78.5L943.7 77.1L955.7 102.2L967.7 118.4L979.7 129.7L991.7 137.4L1003.7 142.2L1015.7 145.8L1027.7 148.9L1039.7 152L1051.7 153.9L1063.7 154.6L1075.7 155L1087.7 155.4L1099.7 155.8L1100.9 155.9V309H175.7Z" fill="#e5f08f"/><path d="M175.7 156.9L187.7 155.6L199.7 154.8L211.7 154.2L223.7 153.9L235.7 153.7L247.7 153L259.7 152.4L271.7 152.1L283.7 152.2L295.7 152.6L307.7 152.7L319.7 152.6L331.7 152.2L343.7 151L355.7 148.5L367.7 146.2L379.7 143.8L391.7 141.1L403.7 138.1L415.7 133.6L427.7 123.7L439.7 113.6L451.7 92.2L463.7 93.7L475.7 95.1L487.7 96.5L499.7 97.8L511.7 99L523.7 100.1L535.7 101.2L547.7 102.2L559.7 103L571.7 103.8L583.7 104.4L595.7 104.9L607.7 105.3L619.7 105.5L631.7 105.7L643.7 105.7L655.7 105.6L667.7 105.3L679.7 104.9L691.7 104.4L703.7 103.8L715.7 103.1L727.7 102.2L739.7 101.3L751.7 100.3L763.7 99.1L775.7 97.9L787.7 96.6L799.7 95.2L811.7 93.8L823.7 92.3L835.7 90.8L847.7 89.3L859.7 87.7L871.7 86.1L883.7 84.6L895.7 83L907.7 81.5L919.7 80L931.7 78.5L943.7 108.4L955.7 124.6L967.7 134.9L979.7 141.8L991.7 145.3L1003.7 148.2L1015.7 150.9L1027.7 153.6L1039.7 155.3L1051.7 155.9L1063.7 156.1L1075.7 156.3L1087.7 156.5L1099.7 156.8L1100.9 156.9V309H175.7Z" fill="#e1ef91"/><path d="M175.7 157.8L187.7 156.6L199.7 155.7L211.7 155.2L223.7 155L235.7 155L247.7 155L259.7 154.6L271.7 154.4L283.7 154.5L295.7 154.9L307.7 155.1L319.7 155.1L331.7 154.9L343.7 154.4L355.7 153.2L367.7 151L379.7 148.9L391.7 146.9L403.7 144.9L415.7 142.8L427.7 139.6L439.7 133.3L451.7 125.6L463.7 118.4L475.7 109.2L487.7 96.5L499.7 97.8L511.7 99L523.7 100.1L535.7 101.2L547.7 102.2L559.7 103L571.7 103.8L583.7 104.4L595.7 104.9L607.7 105.3L619.7 105.5L631.7 105.7L643.7 105.7L655.7 105.6L667.7 105.3L679.7 104.9L691.7 104.4L703.7 103.8L715.7 103.1L727.7 102.2L739.7 101.3L751.7 100.3L763.7 99.1L775.7 97.9L787.7 96.6L799.7 95.2L811.7 93.8L823.7 92.3L835.7 90.8L847.7 89.3L859.7 87.7L871.7 86.1L883.7 84.6L895.7 83L907.7 81.5L919.7 80L931.7 112.9L943.7 128.7L955.7 138.3L967.7 145L979.7 148.2L991.7 150.6L1003.7 152.9L1015.7 155.2L1027.7 156.9L1039.7 157.4L1051.7 157.5L1063.7 157.4L1075.7 157.4L1087.7 157.5L1099.7 157.8L1100.9 157.8V309H175.7Z" fill="#dbee94"/><path d="M175.7 158.7L187.7 157.5L199.7 156.6L211.7 156.2L223.7 156L235.7 156.1L247.7 156.4L259.7 156.6L271.7 156.5L283.7 156.6L295.7 157L307.7 157.3L319.7 157.3L331.7 157.3L343.7 157.1L355.7 156.7L367.7 155.4L379.7 153.5L391.7 151.8L403.7 150.3L415.7 148.9L427.7 146.9L439.7 144.2L451.7 139.9L463.7 133.5L475.7 127.7L487.7 122L499.7 114.9L511.7 99L523.7 100.1L535.7 101.2L547.7 102.2L559.7 103L571.7 103.8L583.7 104.4L595.7 104.9L607.7 105.3L619.7 105.5L631.7 105.7L643.7 105.7L655.7 105.6L667.7 105.3L679.7 104.9L691.7 104.4L703.7 103.8L715.7 103.1L727.7 102.2L739.7 101.3L751.7 100.3L763.7 99.1L775.7 97.9L787.7 96.6L799.7 95.2L811.7 93.8L823.7 92.3L835.7 90.8L847.7 89.3L859.7 87.7L871.7 86.1L883.7 84.6L895.7 83L907.7 81.5L919.7 116.7L931.7 131.9L943.7 140.9L955.7 147.4L967.7 150.6L979.7 153L991.7 155L1003.7 157L1015.7 158.6L1027.7 159.2L1039.7 159.2L1051.7 158.9L1063.7 158.7L1075.7 158.5L1087.7 158.5L1099.7 158.7L1100.9 158.7V309H175.7Z" fill="#d7ee97"/><path d="M175.7 159.6L187.7 158.3L199.7 157.5L211.7 157L223.7 156.9L235.7 157.1L247.7 157.5L259.7 158L271.7 158.4L283.7 158.6L295.7 158.9L307.7 159.3L319.7 159.4L331.7 159.5L343.7 159.5L355.7 159.3L367.7 159L379.7 157.7L391.7 156.2L403.7 154.9L415.7 153.9L427.7 152.5L439.7 150.6L451.7 148.1L463.7 144.8L475.7 139.8L487.7 134.6L499.7 129.8L511.7 124.7L523.7 118.1L535.7 101.2L547.7 102.2L559.7 103L571.7 103.8L583.7 104.4L595.7 104.9L607.7 105.3L619.7 105.5L631.7 105.7L643.7 105.7L655.7 105.6L667.7 105.3L679.7 104.9L691.7 104.4L703.7 103.8L715.7 103.1L727.7 102.2L739.7 101.3L751.7 100.3L763.7 99.1L775.7 97.9L787.7 96.6L799.7 95.2L811.7 93.8L823.7 92.3L835.7 90.8L847.7 89.3L859.7 87.7L871.7 86.1L883.7 84.6L895.7 83L907.7 120.7L919.7 134.7L931.7 143L943.7 149.5L955.7 152.7L967.7 155L979.7 157.1L991.7 158.9L1003.7 160.5L1015.7 161.1L1027.7 161L1039.7 160.6L1051.7 160.2L1063.7 159.8L1075.7 159.6L1087.7 159.5L1099.7 159.6L1100.9 159.6V309H175.7Z" fill="#d3ed99"/><path d="M175.7 160.3L187.7 159.2L199.7 158.3L211.7 157.9L223.7 157.8L235.7 158L247.7 158.5L259.7 159.2L271.7 159.9L283.7 160.4L295.7 160.8L307.7 161.1L319.7 161.3L331.7 161.5L343.7 161.6L355.7 161.6L367.7 161.7L379.7 161.3L391.7 160.3L403.7 159.2L415.7 158.3L427.7 157.2L439.7 155.7L451.7 153.9L463.7 151.8L475.7 149L487.7 145.3L499.7 140.5L511.7 136.2L523.7 131.7L535.7 125.7L547.7 114.4L559.7 103L571.7 103.8L583.7 104.4L595.7 104.9L607.7 105.3L619.7 105.5L631.7 105.7L643.7 105.7L655.7 105.6L667.7 105.3L679.7 104.9L691.7 104.4L703.7 103.8L715.7 103.1L727.7 102.2L739.7 101.3L751.7 100.3L763.7 99.1L775.7 97.9L787.7 96.6L799.7 95.2L811.7 93.8L823.7 92.3L835.7 90.8L847.7 89.3L859.7 87.7L871.7 86.1L883.7 84.6L895.7 125.4L907.7 137.4L919.7 145.1L931.7 151.4L943.7 154.6L955.7 156.9L967.7 158.9L979.7 160.9L991.7 162.5L1003.7 163.2L1015.7 163.2L1027.7 162.6L1039.7 162L1051.7 161.4L1063.7 160.8L1075.7 160.4L1087.7 160.3L1099.7 160.3L1100.9 160.3V309H175.7Z" fill="#cfec9c"/><path d="M175.7 161L187.7 159.9L199.7 159.1L211.7 158.7L223.7 158.6L235.7 158.9L247.7 159.4L259.7 160.1L271.7 161L283.7 162L295.7 162.6L307.7 162.9L319.7 163.2L331.7 163.3L343.7 163.5L355.7 163.7L367.7 163.9L379.7 164L391.7 163.9L403.7 163.2L415.7 162.4L427.7 161.5L439.7 160.3L451.7 158.8L463.7 157.1L475.7 155.1L487.7 152.8L499.7 149.9L511.7 145.9L523.7 141.8L535.7 137.1L547.7 130.9L559.7 121.7L571.7 103.8L583.7 104.4L595.7 104.9L607.7 105.3L619.7 105.5L631.7 105.7L643.7 105.7L655.7 105.6L667.7 105.3L679.7 104.9L691.7 104.4L703.7 103.8L715.7 103.1L727.7 102.2L739.7 101.3L751.7 100.3L763.7 99.1L775.7 97.9L787.7 96.6L799.7 95.2L811.7 93.8L823.7 92.3L835.7 90.8L847.7 89.3L859.7 87.7L871.7 105.9L883.7 130.6L895.7 140.3L907.7 147.1L919.7 153.1L931.7 156.5L943.7 158.7L955.7 160.6L967.7 162.6L979.7 164.5L991.7 165.5L1003.7 165.5L1015.7 164.9L1027.7 164.1L1039.7 163.3L1051.7 162.4L1063.7 161.7L1075.7 161.3L1087.7 161.1L1099.7 161L1100.9 161V309H175.7Z" fill="#cbec9f"/><path d="M175.7 161.6L187.7 160.7L199.7 159.9L211.7 159.5L223.7 159.4L235.7 159.7L247.7 160.2L259.7 161.1L271.7 162L283.7 163.1L295.7 164.1L307.7 164.6L319.7 164.9L331.7 165.1L343.7 165.3L355.7 165.6L367.7 166L379.7 166.3L391.7 166.7L403.7 166.8L415.7 166.3L427.7 165.5L439.7 164.4L451.7 163.2L463.7 161.8L475.7 160.2L487.7 158.5L499.7 156.4L511.7 154L523.7 151L535.7 146.6L547.7 141.5L559.7 135.2L571.7 127L583.7 104.4L595.7 104.9L607.7 105.3L619.7 105.5L631.7 105.7L643.7 105.7L655.7 105.6L667.7 105.3L679.7 104.9L691.7 104.4L703.7 103.8L715.7 103.1L727.7 102.2L739.7 101.3L751.7 100.3L763.7 99.1L775.7 97.9L787.7 96.6L799.7 95.2L811.7 93.8L823.7 92.3L835.7 90.8L847.7 89.3L859.7 121L871.7 135.9L883.7 143.4L895.7 149.4L907.7 154.9L919.7 158.5L931.7 160.5L943.7 162.3L955.7 164.2L967.7 166.2L979.7 167.8L991.7 168L1003.7 167.4L1015.7 166.4L1027.7 165.4L1039.7 164.3L1051.7 163.3L1063.7 162.6L1075.7 162L1087.7 161.6L1099.7 161.6L1100.9 161.6V309H175.7Z" fill="#c6eba2"/><path d="M175.7 162.2L187.7 161.3L199.7 160.7L211.7 160.3L223.7 160.2L235.7 160.4L247.7 161.1L259.7 161.9L271.7 163L283.7 164.2L295.7 165.4L307.7 166.2L319.7 166.6L331.7 166.8L343.7 167.1L355.7 167.4L367.7 167.9L379.7 168.4L391.7 169L403.7 169.6L415.7 169.9L427.7 169.3L439.7 168.3L451.7 167.3L463.7 166.1L475.7 164.7L487.7 163.3L499.7 161.7L511.7 160L523.7 158L535.7 155.2L547.7 150.8L559.7 145.3L571.7 139.1L583.7 131.7L595.7 121.7L607.7 105.3L619.7 105.5L631.7 105.7L643.7 105.7L655.7 105.6L667.7 105.3L679.7 104.9L691.7 104.4L703.7 103.8L715.7 103.1L727.7 102.2L739.7 101.3L751.7 100.3L763.7 99.1L775.7 97.9L787.7 96.6L799.7 95.2L811.7 93.8L823.7 92.3L835.7 114.8L847.7 128.6L859.7 140.6L871.7 147L883.7 152L895.7 156.9L907.7 160.5L919.7 162.4L931.7 164L943.7 165.7L955.7 167.7L967.7 169.8L979.7 170.6L991.7 170.1L1003.7 169L1015.7 167.7L1027.7 166.4L1039.7 165.2L1051.7 164.1L1063.7 163.2L1075.7 162.6L1087.7 162.2L1099.7 162.2L1100.9 162.2V309H175.7Z" fill="#c3eaa4"/><path d="M175.7 162.7L187.7 161.9L199.7 161.4L211.7 161L223.7 160.9L235.7 161.2L247.7 161.8L259.7 162.7L271.7 163.8L283.7 165.1L295.7 166.5L307.7 167.7L319.7 168.2L331.7 168.5L343.7 168.8L355.7 169.2L367.7 169.7L379.7 170.3L391.7 171.1L403.7 171.9L415.7 172.7L427.7 172.8L439.7 172.1L451.7 171.1L463.7 170L475.7 168.9L487.7 167.7L499.7 166.4L511.7 165L523.7 163.6L535.7 161.7L547.7 158.7L559.7 154.5L571.7 149L583.7 143.1L595.7 136.6L607.7 129.5L619.7 121L631.7 105.7L643.7 105.7L655.7 105.6L667.7 105.3L679.7 104.9L691.7 104.4L703.7 103.8L715.7 103.1L727.7 102.2L739.7 101.3L751.7 100.3L763.7 99.1L775.7 97.9L787.7 96.6L799.7 95.2L811.7 112L823.7 122.7L835.7 133.7L847.7 143.9L859.7 150.4L871.7 155L883.7 159.2L895.7 162.8L907.7 164.5L919.7 165.8L931.7 167.3L943.7 169.1L955.7 171.4L967.7 173.1L979.7 172.9L991.7 171.8L1003.7 170.4L1015.7 168.9L1027.7 167.3L1039.7 165.9L1051.7 164.7L1063.7 163.8L1075.7 163.2L1087.7 162.8L1099.7 162.7L1100.9 162.7V309H175.7Z" fill="#bfe9a7"/><path d="M175.7 163.2L187.7 162.5L199.7 162L211.7 161.7L223.7 161.7L235.7 162L247.7 162.6L259.7 163.5L271.7 164.7L283.7 166L295.7 167.5L307.7 168.8L319.7 169.7L331.7 170.1L343.7 170.5L355.7 170.9L367.7 171.4L379.7 172.1L391.7 173L403.7 174.1L415.7 175.1L427.7 175.7L439.7 175.6L451.7 174.8L463.7 173.8L475.7 172.8L487.7 171.7L499.7 170.6L511.7 169.6L523.7 168.5L535.7 167L547.7 164.8L559.7 161.9L571.7 158L583.7 152.8L595.7 147.4L607.7 142L619.7 137L631.7 132.9L643.7 130.2L655.7 127.7L667.7 124.9L679.7 122L691.7 119L703.7 115.9L715.7 112.9L727.7 110L739.7 107.8L751.7 106.3L763.7 106.5L775.7 110.1L787.7 115.2L799.7 121.6L811.7 128.9L823.7 137.9L835.7 146.5L847.7 153L859.7 158.1L871.7 161.9L883.7 165.1L895.7 166.7L907.7 167.8L919.7 169L931.7 170.6L943.7 172.7L955.7 175.1L967.7 175.7L979.7 174.9L991.7 173.3L1003.7 171.6L1015.7 169.7L1027.7 168.1L1039.7 166.6L1051.7 165.4L1063.7 164.4L1075.7 163.7L1087.7 163.3L1099.7 163.2L1100.9 163.2V309H175.7Z" fill="#bbe8a9"/><path d="M175.7 163.7L187.7 163L199.7 162.6L211.7 162.4L223.7 162.4L235.7 162.7L247.7 163.4L259.7 164.3L271.7 165.5L283.7 166.9L295.7 168.4L307.7 169.9L319.7 171.1L331.7 171.7L343.7 172.1L355.7 172.5L367.7 173.1L379.7 173.8L391.7 174.8L403.7 176L415.7 177.3L427.7 178.2L439.7 178.6L451.7 178.3L463.7 177.4L475.7 176.5L487.7 175.5L499.7 174.6L511.7 173.7L523.7 172.9L535.7 171.7L547.7 170L559.7 167.7L571.7 164.9L583.7 161.4L595.7 157.1L607.7 152.4L619.7 148.2L631.7 145L643.7 143.1L655.7 141.2L667.7 139.3L679.7 137.3L691.7 135.2L703.7 133.1L715.7 131.1L727.7 129.1L739.7 127.3L751.7 125.6L763.7 124.9L775.7 126.4L787.7 129.8L799.7 135L811.7 141.9L823.7 149.1L835.7 155.2L847.7 160.4L859.7 164.7L871.7 167.8L883.7 169.2L895.7 170L907.7 170.9L919.7 172.1L931.7 174L943.7 176.6L955.7 178.3L967.7 177.9L979.7 176.4L991.7 174.5L1003.7 172.4L1015.7 170.5L1027.7 168.8L1039.7 167.3L1051.7 166L1063.7 164.9L1075.7 164.2L1087.7 163.8L1099.7 163.7L1100.9 163.7V309H175.7Z" fill="#b8e7ab"/><path d="M175.7 164.1L187.7 163.5L199.7 163.2L211.7 163L223.7 163.2L235.7 163.5L247.7 164.1L259.7 165.1L271.7 166.3L283.7 167.7L295.7 169.3L307.7 170.9L319.7 172.3L331.7 173.2L343.7 173.7L355.7 174.1L367.7 174.7L379.7 175.5L391.7 176.5L403.7 177.8L415.7 179.3L427.7 180.4L439.7 181.2L451.7 181.4L463.7 180.9L475.7 180.1L487.7 179.2L499.7 178.4L511.7 177.7L523.7 177L535.7 176L547.7 174.6L559.7 172.8L571.7 170.5L583.7 167.9L595.7 164.9L607.7 161.6L619.7 158.2L631.7 155.4L643.7 153.7L655.7 152.1L667.7 150.4L679.7 148.6L691.7 146.8L703.7 144.9L715.7 143.1L727.7 141.2L739.7 139.4L751.7 137.7L763.7 136.9L775.7 138.1L787.7 141.3L799.7 146.4L811.7 151.8L823.7 157.2L835.7 162.3L847.7 166.8L859.7 170.5L871.7 171.9L883.7 172.5L895.7 173.1L907.7 174L919.7 175.4L931.7 177.7L943.7 180.5L955.7 180.9L967.7 179.6L979.7 177.6L991.7 175.4L1003.7 173.3L1015.7 171.3L1027.7 169.4L1039.7 167.8L1051.7 166.5L1063.7 165.5L1075.7 164.7L1087.7 164.3L1099.7 164.1L1100.9 164.2V309H175.7Z" fill="#b3e6ae"/><path d="M175.7 164.6L187.7 164L199.7 163.7L211.7 163.6L223.7 163.8L235.7 164.2L247.7 164.9L259.7 165.8L271.7 167L283.7 168.5L295.7 170.1L307.7 171.8L319.7 173.4L331.7 174.6L343.7 175.3L355.7 175.8L367.7 176.3L379.7 177.2L391.7 178.2L403.7 179.6L415.7 181.1L427.7 182.5L439.7 183.5L451.7 184L463.7 184.1L475.7 183.6L487.7 182.8L499.7 182.1L511.7 181.5L523.7 180.9L535.7 180.2L547.7 179L559.7 177.4L571.7 175.5L583.7 173.3L595.7 171L607.7 168.5L619.7 166.2L631.7 164.3L643.7 163.1L655.7 161.8L667.7 160.3L679.7 158.7L691.7 157.1L703.7 155.3L715.7 153.5L727.7 151.7L739.7 149.9L751.7 148.2L763.7 147.3L775.7 148.5L787.7 151.3L799.7 155.1L811.7 159.6L823.7 164.1L835.7 168.6L847.7 172.6L859.7 174.7L871.7 175.3L883.7 175.6L895.7 176.1L907.7 177.1L919.7 178.9L931.7 182.1L943.7 183.6L955.7 182.8L967.7 180.9L979.7 178.6L991.7 176.3L1003.7 174L1015.7 171.9L1027.7 170L1039.7 168.4L1051.7 167L1063.7 166L1075.7 165.2L1087.7 164.7L1099.7 164.6L1100.9 164.6V309H175.7Z" fill="#b0e4b0"/><path d="M175.7 165L187.7 164.5L199.7 164.2L211.7 164.2L223.7 164.5L235.7 165L247.7 165.6L259.7 166.6L271.7 167.8L283.7 169.3L295.7 171L307.7 172.7L319.7 174.4L331.7 175.8L343.7 176.8L355.7 177.4L367.7 178L379.7 178.8L391.7 179.9L403.7 181.3L415.7 183L427.7 184.4L439.7 185.6L451.7 186.5L463.7 186.9L475.7 186.8L487.7 186.3L499.7 185.7L511.7 185.1L523.7 184.7L535.7 184.1L547.7 183.1L559.7 181.7L571.7 180.1L583.7 178.2L595.7 176.3L607.7 174.3L619.7 172.5L631.7 171L643.7 170.1L655.7 169.2L667.7 168.1L679.7 166.8L691.7 165.4L703.7 163.9L715.7 162.3L727.7 160.6L739.7 158.9L751.7 157.2L763.7 156.2L775.7 157L787.7 159.2L799.7 162.4L811.7 166.2L823.7 170.3L835.7 174.3L847.7 177.1L859.7 178.1L871.7 178.3L883.7 178.5L895.7 179.1L907.7 180.4L919.7 183.1L931.7 186L943.7 186L955.7 184.3L967.7 182L979.7 179.6L991.7 177L1003.7 174.7L1015.7 172.5L1027.7 170.6L1039.7 169L1051.7 167.5L1063.7 166.4L1075.7 165.7L1087.7 165.2L1099.7 165L1100.9 165V309H175.7Z" fill="#ace3b2"/><path d="M175.7 165.5L187.7 165L199.7 164.7L211.7 164.8L223.7 165.1L235.7 165.6L247.7 166.4L259.7 167.4L271.7 168.6L283.7 170.1L295.7 171.8L307.7 173.6L319.7 175.4L331.7 177L343.7 178.2L355.7 179L367.7 179.6L379.7 180.4L391.7 181.5L403.7 183L415.7 184.7L427.7 186.3L439.7 187.7L451.7 188.7L463.7 189.4L475.7 189.7L487.7 189.6L499.7 189.2L511.7 188.7L523.7 188.4L535.7 187.9L547.7 187L559.7 185.9L571.7 184.4L583.7 182.8L595.7 181.1L607.7 179.4L619.7 177.9L631.7 176.8L643.7 176.1L655.7 175.3L667.7 174.4L679.7 173.4L691.7 172.1L703.7 170.8L715.7 169.3L727.7 167.8L739.7 166.2L751.7 164.6L763.7 163.5L775.7 164L787.7 165.9L799.7 168.7L811.7 172.2L823.7 175.9L835.7 179.1L847.7 180.7L859.7 181.2L871.7 181.3L883.7 181.4L895.7 182.2L907.7 184.2L919.7 187.9L931.7 189L943.7 187.7L955.7 185.5L967.7 183L979.7 180.4L991.7 177.8L1003.7 175.4L1015.7 173.2L1027.7 171.2L1039.7 169.5L1051.7 168L1063.7 166.9L1075.7 166.1L1087.7 165.6L1099.7 165.5L1100.9 165.5V309H175.7Z" fill="#a9e2b3"/><path d="M175.7 165.9L187.7 165.4L199.7 165.2L211.7 165.3L223.7 165.7L235.7 166.3L247.7 167.1L259.7 168.1L271.7 169.4L283.7 170.9L295.7 172.6L307.7 174.5L319.7 176.3L331.7 178.1L343.7 179.5L355.7 180.5L367.7 181.2L379.7 182L391.7 183.2L403.7 184.7L415.7 186.4L427.7 188.1L439.7 189.6L451.7 190.9L463.7 191.8L475.7 192.4L487.7 192.6L499.7 192.6L511.7 192.3L523.7 192.1L535.7 191.7L547.7 190.9L559.7 189.8L571.7 188.6L583.7 187.1L595.7 185.6L607.7 184.1L619.7 182.9L631.7 181.9L643.7 181.4L655.7 180.8L667.7 180L679.7 179.1L691.7 178L703.7 176.8L715.7 175.5L727.7 174.1L739.7 172.5L751.7 171L763.7 169.9L775.7 170.3L787.7 171.9L799.7 174.5L811.7 177.7L823.7 180.9L835.7 182.9L847.7 183.8L859.7 184.2L871.7 184.1L883.7 184.4L895.7 185.7L907.7 189L919.7 191.6L931.7 191.2L943.7 189.1L955.7 186.6L967.7 183.9L979.7 181.2L991.7 178.5L1003.7 176L1015.7 173.7L1027.7 171.7L1039.7 170L1051.7 168.5L1063.7 167.4L1075.7 166.5L1087.7 166.1L1099.7 165.9L1100.9 165.9V309H175.7Z" fill="#a6e1b5"/><path d="M175.7 166.3L187.7 165.9L199.7 165.7L211.7 165.9L223.7 166.3L235.7 166.9L247.7 167.8L259.7 168.9L271.7 170.2L283.7 171.7L295.7 173.4L307.7 175.3L319.7 177.3L331.7 179.1L343.7 180.7L355.7 182L367.7 182.8L379.7 183.7L391.7 184.8L403.7 186.3L415.7 188.2L427.7 189.9L439.7 191.5L451.7 192.9L463.7 194.1L475.7 194.9L487.7 195.4L499.7 195.6L511.7 195.7L523.7 195.7L535.7 195.4L547.7 194.7L559.7 193.7L571.7 192.6L583.7 191.3L595.7 189.9L607.7 188.6L619.7 187.5L631.7 186.7L643.7 186.3L655.7 185.9L667.7 185.2L679.7 184.4L691.7 183.4L703.7 182.3L715.7 181.1L727.7 179.7L739.7 178.3L751.7 176.8L763.7 175.7L775.7 176L787.7 177.5L799.7 179.9L811.7 182.8L823.7 184.9L835.7 186.2L847.7 186.8L859.7 187.1L871.7 187.1L883.7 187.7L895.7 189.9L907.7 193.7L919.7 194.3L931.7 192.7L943.7 190.3L955.7 187.6L967.7 184.7L979.7 181.9L991.7 179.1L1003.7 176.6L1015.7 174.3L1027.7 172.2L1039.7 170.5L1051.7 169L1063.7 167.8L1075.7 167L1087.7 166.5L1099.7 166.3L1100.9 166.3V309H175.7Z" fill="#a2dfb7"/><path d="M175.7 166.7L187.7 166.3L199.7 166.2L211.7 166.4L223.7 166.8L235.7 167.5L247.7 168.5L259.7 169.6L271.7 171L283.7 172.5L295.7 174.3L307.7 176.2L319.7 178.2L331.7 180.1L343.7 181.9L355.7 183.4L367.7 184.5L379.7 185.3L391.7 186.5L403.7 188L415.7 189.9L427.7 191.7L439.7 193.4L451.7 195L463.7 196.3L475.7 197.3L487.7 198L499.7 198.5L511.7 198.8L523.7 199L535.7 198.9L547.7 198.4L559.7 197.6L571.7 196.5L583.7 195.3L595.7 194.1L607.7 193L619.7 192L631.7 191.3L643.7 191L655.7 190.6L667.7 190.1L679.7 189.4L691.7 188.5L703.7 187.5L715.7 186.3L727.7 185L739.7 183.6L751.7 182.1L763.7 181.1L775.7 181.3L787.7 182.7L799.7 184.9L811.7 187L823.7 188.4L835.7 189.3L847.7 189.8L859.7 190L871.7 190.2L883.7 191.5L895.7 195.1L907.7 197.2L919.7 196.3L931.7 194.1L943.7 191.4L955.7 188.5L967.7 185.5L979.7 182.6L991.7 179.8L1003.7 177.2L1015.7 174.8L1027.7 172.8L1039.7 171L1051.7 169.5L1063.7 168.3L1075.7 167.4L1087.7 166.9L1099.7 166.7L1100.9 166.7V309H175.7Z" fill="#a0deb9"/><path d="M175.7 167.1L187.7 166.8L199.7 166.7L211.7 166.9L223.7 167.4L235.7 168.1L247.7 169.1L259.7 170.3L271.7 171.7L283.7 173.3L295.7 175.1L307.7 177.1L319.7 179.1L331.7 181.2L343.7 183.1L355.7 184.7L367.7 186L379.7 187L391.7 188.1L403.7 189.7L415.7 191.6L427.7 193.5L439.7 195.3L451.7 196.9L463.7 198.4L475.7 199.6L487.7 200.5L499.7 201.2L511.7 201.8L523.7 202.2L535.7 202.3L547.7 202.1L559.7 201.4L571.7 200.4L583.7 199.4L595.7 198.2L607.7 197.2L619.7 196.3L631.7 195.7L643.7 195.5L655.7 195.2L667.7 194.7L679.7 194.1L691.7 193.3L703.7 192.4L715.7 191.3L727.7 190L739.7 188.7L751.7 187.2L763.7 186.1L775.7 186.4L787.7 187.6L799.7 189.2L811.7 190.7L823.7 191.7L835.7 192.3L847.7 192.7L859.7 193L871.7 193.7L883.7 196.3L895.7 199.5L907.7 199.7L919.7 197.9L931.7 195.4L943.7 192.4L955.7 189.3L967.7 186.3L979.7 183.3L991.7 180.4L1003.7 177.8L1015.7 175.4L1027.7 173.3L1039.7 171.4L1051.7 169.9L1063.7 168.7L1075.7 167.9L1087.7 167.3L1099.7 167.1L1100.9 167.1V309H175.7Z" fill="#9dddba"/><path d="M175.7 167.6L187.7 167.2L199.7 167.1L211.7 167.4L223.7 167.9L235.7 168.7L247.7 169.7L259.7 171L271.7 172.5L283.7 174.2L295.7 176L307.7 178L319.7 180.1L331.7 182.2L343.7 184.2L355.7 186L367.7 187.5L379.7 188.7L391.7 189.9L403.7 191.4L415.7 193.3L427.7 195.2L439.7 197.1L451.7 198.9L463.7 200.4L475.7 201.8L487.7 202.9L499.7 203.8L511.7 204.6L523.7 205.2L535.7 205.5L547.7 205.5L559.7 205L571.7 204.3L583.7 203.3L595.7 202.3L607.7 201.3L619.7 200.5L631.7 200L643.7 199.9L655.7 199.7L667.7 199.3L679.7 198.7L691.7 198L703.7 197.1L715.7 196L727.7 194.8L739.7 193.5L751.7 192.1L763.7 191L775.7 191.1L787.7 192L799.7 193.1L811.7 194L823.7 194.7L835.7 195.2L847.7 195.6L859.7 196.3L871.7 198L883.7 201.4L895.7 202.8L907.7 201.7L919.7 199.4L931.7 196.5L943.7 193.4L955.7 190.2L967.7 187L979.7 183.9L991.7 181L1003.7 178.3L1015.7 175.9L1027.7 173.8L1039.7 171.9L1051.7 170.4L1063.7 169.2L1075.7 168.3L1087.7 167.7L1099.7 167.6L1100.9 167.6V309H175.7Z" fill="#9bdcbb"/><path d="M175.7 168L187.7 167.6L199.7 167.6L211.7 167.9L223.7 168.4L235.7 169.3L247.7 170.4L259.7 171.7L271.7 173.2L283.7 175L295.7 176.8L307.7 178.9L319.7 181L331.7 183.2L343.7 185.3L355.7 187.3L367.7 189L379.7 190.4L391.7 191.7L403.7 193.2L415.7 195.1L427.7 197L439.7 199L451.7 200.8L463.7 202.5L475.7 204L487.7 205.3L499.7 206.3L511.7 207.3L523.7 208.1L535.7 208.6L547.7 208.8L559.7 208.5L571.7 208L583.7 207.2L595.7 206.3L607.7 205.5L619.7 204.7L631.7 204.3L643.7 204.2L655.7 204.1L667.7 203.7L679.7 203.2L691.7 202.5L703.7 201.6L715.7 200.6L727.7 199.5L739.7 198.1L751.7 196.7L763.7 195.5L775.7 195.3L787.7 195.8L799.7 196.6L811.7 197.2L823.7 197.7L835.7 198.2L847.7 198.8L859.7 200.1L871.7 202.9L883.7 205.4L895.7 205.4L907.7 203.5L919.7 200.7L931.7 197.6L943.7 194.3L955.7 190.9L967.7 187.7L979.7 184.6L991.7 181.6L1003.7 178.9L1015.7 176.4L1027.7 174.2L1039.7 172.4L1051.7 170.8L1063.7 169.6L1075.7 168.7L1087.7 168.2L1099.7 168L1100.9 168V309H175.7Z" fill="#99dabd"/><path d="M175.7 168.4L187.7 168.1L199.7 168.1L211.7 168.4L223.7 169L235.7 169.8L247.7 171L259.7 172.4L271.7 174L283.7 175.8L295.7 177.7L307.7 179.8L319.7 182L331.7 184.2L343.7 186.4L355.7 188.5L367.7 190.4L379.7 192L391.7 193.4L403.7 195L415.7 196.9L427.7 198.9L439.7 200.8L451.7 202.7L463.7 204.5L475.7 206.1L487.7 207.5L499.7 208.8L511.7 209.9L523.7 210.8L535.7 211.5L547.7 211.9L559.7 211.8L571.7 211.5L583.7 210.9L595.7 210.2L607.7 209.5L619.7 208.9L631.7 208.5L643.7 208.5L655.7 208.3L667.7 208L679.7 207.5L691.7 206.8L703.7 206L715.7 205L727.7 203.7L739.7 202.4L751.7 200.9L763.7 199.6L775.7 199.2L787.7 199.4L799.7 199.8L811.7 200.3L823.7 200.7L835.7 201.2L847.7 202.2L859.7 204.5L871.7 207.6L883.7 208.7L895.7 207.6L907.7 205L919.7 201.9L931.7 198.6L943.7 195.1L955.7 191.7L967.7 188.4L979.7 185.2L991.7 182.2L1003.7 179.4L1015.7 176.9L1027.7 174.7L1039.7 172.9L1051.7 171.3L1063.7 170L1075.7 169.1L1087.7 168.6L1099.7 168.4L1100.9 168.4V309H175.7Z" fill="#96d8be"/><path d="M175.7 168.8L187.7 168.5L199.7 168.5L211.7 168.8L223.7 169.5L235.7 170.4L247.7 171.6L259.7 173L271.7 174.7L283.7 176.5L295.7 178.6L307.7 180.7L319.7 183L331.7 185.3L343.7 187.6L355.7 189.8L367.7 191.8L379.7 193.6L391.7 195.2L403.7 196.9L415.7 198.8L427.7 200.7L439.7 202.7L451.7 204.7L463.7 206.5L475.7 208.2L487.7 209.8L499.7 211.2L511.7 212.4L523.7 213.5L535.7 214.4L547.7 214.9L559.7 215L571.7 214.8L583.7 214.4L595.7 213.9L607.7 213.3L619.7 212.8L631.7 212.5L643.7 212.5L655.7 212.4L667.7 212.1L679.7 211.6L691.7 210.9L703.7 210L715.7 209L727.7 207.7L739.7 206.3L751.7 204.7L763.7 203.4L775.7 202.8L787.7 202.8L799.7 203L811.7 203.3L823.7 203.7L835.7 204.4L847.7 206.1L859.7 209.2L871.7 211.6L883.7 211.5L895.7 209.4L907.7 206.4L919.7 203L931.7 199.5L943.7 196L955.7 192.5L967.7 189.1L979.7 185.8L991.7 182.8L1003.7 180L1015.7 177.5L1027.7 175.2L1039.7 173.3L1051.7 171.7L1063.7 170.5L1075.7 169.6L1087.7 169L1099.7 168.8L1100.9 168.8V309H175.7Z" fill="#94d7bf"/><path d="M175.7 169.2L187.7 168.9L199.7 169L211.7 169.3L223.7 170L235.7 171L247.7 172.2L259.7 173.7L271.7 175.4L283.7 177.3L295.7 179.4L307.7 181.6L319.7 184L331.7 186.3L343.7 188.7L355.7 191L367.7 193.2L379.7 195.2L391.7 196.9L403.7 198.7L415.7 200.7L427.7 202.7L439.7 204.7L451.7 206.6L463.7 208.5L475.7 210.3L487.7 212L499.7 213.5L511.7 214.9L523.7 216.1L535.7 217.1L547.7 217.8L559.7 218L571.7 218.1L583.7 217.8L595.7 217.5L607.7 217L619.7 216.6L631.7 216.4L643.7 216.4L655.7 216.3L667.7 215.9L679.7 215.4L691.7 214.7L703.7 213.8L715.7 212.7L727.7 211.5L739.7 210L751.7 208.4L763.7 206.9L775.7 206.2L787.7 206L799.7 206L811.7 206.2L823.7 206.7L835.7 207.8L847.7 210.1L859.7 213.5L871.7 215.3L883.7 213.9L895.7 211.1L907.7 207.7L919.7 204.1L931.7 200.4L943.7 196.8L955.7 193.2L967.7 189.7L979.7 186.4L991.7 183.3L1003.7 180.5L1015.7 178L1027.7 175.7L1039.7 173.8L1051.7 172.2L1063.7 170.9L1075.7 170L1087.7 169.4L1099.7 169.2L1100.9 169.2V309H175.7Z" fill="#93d6c0"/><path d="M175.7 169.6L187.7 169.4L199.7 169.4L211.7 169.8L223.7 170.5L235.7 171.5L247.7 172.8L259.7 174.3L271.7 176.1L283.7 178.1L295.7 180.2L307.7 182.5L319.7 185L331.7 187.4L343.7 189.9L355.7 192.3L367.7 194.6L379.7 196.7L391.7 198.6L403.7 200.5L415.7 202.6L427.7 204.6L439.7 206.6L451.7 208.6L463.7 210.6L475.7 212.5L487.7 214.2L499.7 215.8L511.7 217.3L523.7 218.7L535.7 219.8L547.7 220.6L559.7 221L571.7 221.2L583.7 221.1L595.7 220.8L607.7 220.5L619.7 220.2L631.7 220.1L643.7 220.1L655.7 219.9L667.7 219.6L679.7 219.1L691.7 218.3L703.7 217.4L715.7 216.3L727.7 215L739.7 213.5L751.7 211.8L763.7 210.2L775.7 209.4L787.7 209L799.7 209L811.7 209.2L823.7 209.9L835.7 211.4L847.7 214.3L859.7 218L871.7 218.5L883.7 215.9L895.7 212.6L907.7 208.9L919.7 205.1L931.7 201.3L943.7 197.5L955.7 193.9L967.7 190.4L979.7 187L991.7 183.9L1003.7 181.1L1015.7 178.5L1027.7 176.2L1039.7 174.3L1051.7 172.6L1063.7 171.4L1075.7 170.4L1087.7 169.9L1099.7 169.6L1100.9 169.6V309H175.7Z" fill="#91d4c1"/><path d="M175.7 170.1L187.7 169.8L199.7 169.9L211.7 170.3L223.7 171L235.7 172L247.7 173.4L259.7 175L271.7 176.8L283.7 178.8L295.7 181.1L307.7 183.5L319.7 186L331.7 188.5L343.7 191.1L355.7 193.6L367.7 196L379.7 198.3L391.7 200.3L403.7 202.3L415.7 204.4L427.7 206.5L439.7 208.6L451.7 210.7L463.7 212.6L475.7 214.6L487.7 216.4L499.7 218.1L511.7 219.7L523.7 221.2L535.7 222.4L547.7 223.3L559.7 223.8L571.7 224.1L583.7 224.2L595.7 224.1L607.7 223.9L619.7 223.7L631.7 223.6L643.7 223.5L655.7 223.4L667.7 223.1L679.7 222.5L691.7 221.8L703.7 220.8L715.7 219.7L727.7 218.3L739.7 216.8L751.7 215L763.7 213.5L775.7 212.5L787.7 212.1L799.7 212L811.7 212.3L823.7 213.2L835.7 215.1L847.7 218.5L859.7 222.4L871.7 221L883.7 217.7L895.7 214L907.7 210.1L919.7 206.1L931.7 202.2L943.7 198.3L955.7 194.6L967.7 191L979.7 187.6L991.7 184.5L1003.7 181.6L1015.7 179L1027.7 176.7L1039.7 174.7L1051.7 173.1L1063.7 171.8L1075.7 170.9L1087.7 170.3L1099.7 170.1L1100.9 170.1V309H175.7Z" fill="#90d3c2"/><path d="M175.7 170.5L187.7 170.3L199.7 170.3L211.7 170.8L223.7 171.5L235.7 172.6L247.7 173.9L259.7 175.6L271.7 177.5L283.7 179.6L295.7 181.9L307.7 184.4L319.7 186.9L331.7 189.6L343.7 192.3L355.7 194.9L367.7 197.4L379.7 199.8L391.7 202L403.7 204.2L415.7 206.3L427.7 208.4L439.7 210.6L451.7 212.7L463.7 214.7L475.7 216.7L487.7 218.6L499.7 220.4L511.7 222L523.7 223.6L535.7 224.9L547.7 225.9L559.7 226.6L571.7 227L583.7 227.2L595.7 227.2L607.7 227.1L619.7 227L631.7 226.9L643.7 226.9L655.7 226.7L667.7 226.4L679.7 225.8L691.7 225L703.7 224L715.7 222.9L727.7 221.5L739.7 219.9L751.7 218.2L763.7 216.5L775.7 215.5L787.7 215L799.7 214.9L811.7 215.4L823.7 216.5L835.7 218.8L847.7 223.4L859.7 225.8L871.7 223.1L883.7 219.3L895.7 215.3L907.7 211.1L919.7 207L931.7 202.9L943.7 199L955.7 195.2L967.7 191.6L979.7 188.2L991.7 185L1003.7 182.1L1015.7 179.5L1027.7 177.2L1039.7 175.2L1051.7 173.6L1063.7 172.2L1075.7 171.3L1087.7 170.7L1099.7 170.5L1100.9 170.5V309H175.7Z" fill="#8fd1c3"/><path d="M175.7 170.9L187.7 170.7L199.7 170.8L211.7 171.3L223.7 172L235.7 173.1L247.7 174.5L259.7 176.2L271.7 178.1L283.7 180.3L295.7 182.7L307.7 185.2L319.7 187.9L331.7 190.7L343.7 193.5L355.7 196.2L367.7 198.9L379.7 201.4L391.7 203.7L403.7 206L415.7 208.2L427.7 210.3L439.7 212.5L451.7 214.7L463.7 216.8L475.7 218.8L487.7 220.8L499.7 222.6L511.7 224.4L523.7 226L535.7 227.4L547.7 228.4L559.7 229.2L571.7 229.8L583.7 230.1L595.7 230.2L607.7 230.2L619.7 230.1L631.7 230.1L643.7 230.1L655.7 229.9L667.7 229.5L679.7 228.9L691.7 228.1L703.7 227.1L715.7 225.9L727.7 224.5L739.7 222.9L751.7 221.2L763.7 219.5L775.7 218.4L787.7 217.9L799.7 217.9L811.7 218.4L823.7 219.7L835.7 222.7L847.7 228.1L859.7 228.3L871.7 224.7L883.7 220.6L895.7 216.3L907.7 212L919.7 207.8L931.7 203.7L943.7 199.7L955.7 195.9L967.7 192.2L979.7 188.7L991.7 185.5L1003.7 182.6L1015.7 180L1027.7 177.7L1039.7 175.7L1051.7 174L1063.7 172.7L1075.7 171.7L1087.7 171.1L1099.7 170.9L1100.9 170.9V309H175.7Z" fill="#8fd0c3"/><path d="M175.7 171.3L187.7 171.1L199.7 171.3L211.7 171.7L223.7 172.5L235.7 173.7L247.7 175.1L259.7 176.8L271.7 178.8L283.7 181L295.7 183.5L307.7 186.1L319.7 188.9L331.7 191.8L343.7 194.7L355.7 197.5L367.7 200.3L379.7 203L391.7 205.4L403.7 207.8L415.7 210L427.7 212.2L439.7 214.4L451.7 216.6L463.7 218.8L475.7 220.9L487.7 222.9L499.7 224.8L511.7 226.6L523.7 228.3L535.7 229.8L547.7 230.9L559.7 231.8L571.7 232.4L583.7 232.8L595.7 233.1L607.7 233.1L619.7 233.1L631.7 233.1L643.7 233.1L655.7 232.9L667.7 232.5L679.7 231.9L691.7 231.1L703.7 230.1L715.7 228.9L727.7 227.5L739.7 225.9L751.7 224.1L763.7 222.4L775.7 221.3L787.7 220.8L799.7 220.7L811.7 221.3L823.7 223L835.7 227.3L847.7 231.4L859.7 229.9L871.7 226.1L883.7 221.7L895.7 217.3L907.7 213L919.7 208.7L931.7 204.5L943.7 200.4L955.7 196.5L967.7 192.8L979.7 189.3L991.7 186.1L1003.7 183.1L1015.7 180.5L1027.7 178.1L1039.7 176.1L1051.7 174.5L1063.7 173.1L1075.7 172.2L1087.7 171.6L1099.7 171.3L1100.9 171.3V309H175.7Z" fill="#8fcec4"/><path d="M175.7 171.8L187.7 171.6L199.7 171.7L211.7 172.2L223.7 173L235.7 174.2L247.7 175.6L259.7 177.4L271.7 179.4L283.7 181.7L295.7 184.2L307.7 187L319.7 189.8L331.7 192.8L343.7 195.8L355.7 198.9L367.7 201.8L379.7 204.6L391.7 207.2L403.7 209.6L415.7 211.9L427.7 214.1L439.7 216.4L451.7 218.6L463.7 220.7L475.7 222.9L487.7 225L499.7 226.9L511.7 228.8L523.7 230.6L535.7 232.1L547.7 233.4L559.7 234.3L571.7 235L583.7 235.5L595.7 235.8L607.7 235.9L619.7 236L631.7 236L643.7 236L655.7 235.8L667.7 235.4L679.7 234.8L691.7 234L703.7 233L715.7 231.7L727.7 230.3L739.7 228.7L751.7 226.9L763.7 225.2L775.7 224.1L787.7 223.5L799.7 223.5L811.7 224.2L823.7 226.5L835.7 232L847.7 233.7L859.7 231.3L871.7 227.1L883.7 222.6L895.7 218.1L907.7 213.7L919.7 209.3L931.7 205.1L943.7 201L955.7 197L967.7 193.3L979.7 189.8L991.7 186.6L1003.7 183.6L1015.7 181L1027.7 178.6L1039.7 176.6L1051.7 174.9L1063.7 173.6L1075.7 172.6L1087.7 172L1099.7 171.8L1100.9 171.8V309H175.7Z" fill="#8fcdc4"/><path d="M175.7 172.2L187.7 172L199.7 172.2L211.7 172.7L223.7 173.5L235.7 174.7L247.7 176.2L259.7 178L271.7 180.1L283.7 182.4L295.7 185L307.7 187.8L319.7 190.8L331.7 193.9L343.7 197L355.7 200.2L367.7 203.3L379.7 206.2L391.7 208.9L403.7 211.5L415.7 213.8L427.7 216.1L439.7 218.3L451.7 220.5L463.7 222.7L475.7 224.8L487.7 226.9L499.7 229L511.7 230.9L523.7 232.8L535.7 234.4L547.7 235.7L559.7 236.7L571.7 237.5L583.7 238.1L595.7 238.4L607.7 238.6L619.7 238.7L631.7 238.8L643.7 238.8L655.7 238.6L667.7 238.2L679.7 237.6L691.7 236.7L703.7 235.7L715.7 234.5L727.7 233L739.7 231.4L751.7 229.6L763.7 227.9L775.7 226.7L787.7 226.1L799.7 226.1L811.7 227.2L823.7 230.4L835.7 235.4L847.7 235.4L859.7 232.2L871.7 228L883.7 223.4L895.7 218.9L907.7 214.4L919.7 210L931.7 205.7L943.7 201.5L955.7 197.6L967.7 193.8L979.7 190.3L991.7 187.1L1003.7 184.1L1015.7 181.4L1027.7 179.1L1039.7 177L1051.7 175.3L1063.7 174L1075.7 173L1087.7 172.4L1099.7 172.2L1100.9 172.2V309H175.7Z" fill="#8fccc5"/><path d="M175.7 172.6L187.7 172.4L199.7 172.6L211.7 173.2L223.7 174L235.7 175.2L247.7 176.8L259.7 178.6L271.7 180.7L283.7 183.1L295.7 185.7L307.7 188.6L319.7 191.7L331.7 194.8L343.7 198.1L355.7 201.4L367.7 204.7L379.7 207.8L391.7 210.7L403.7 213.4L415.7 215.8L427.7 218L439.7 220.2L451.7 222.4L463.7 224.6L475.7 226.8L487.7 228.9L499.7 231L511.7 232.9L523.7 234.8L535.7 236.5L547.7 237.9L559.7 239L571.7 239.9L583.7 240.5L595.7 240.9L607.7 241.2L619.7 241.4L631.7 241.4L643.7 241.4L655.7 241.2L667.7 240.8L679.7 240.2L691.7 239.4L703.7 238.3L715.7 237.1L727.7 235.6L739.7 234L751.7 232.1L763.7 230.3L775.7 229.2L787.7 228.6L799.7 228.8L811.7 230.2L823.7 234.6L835.7 237.8L847.7 236.4L859.7 233.1L871.7 228.9L883.7 224.2L895.7 219.6L907.7 215.1L919.7 210.6L931.7 206.3L943.7 202.1L955.7 198.1L967.7 194.4L979.7 190.8L991.7 187.5L1003.7 184.6L1015.7 181.9L1027.7 179.5L1039.7 177.5L1051.7 175.8L1063.7 174.4L1075.7 173.4L1087.7 172.8L1099.7 172.6L1100.9 172.6V309H175.7Z" fill="#8fcac5"/><path d="M175.7 173L187.7 172.9L199.7 173.1L211.7 173.6L223.7 174.5L235.7 175.8L247.7 177.3L259.7 179.2L271.7 181.3L283.7 183.8L295.7 186.5L307.7 189.4L319.7 192.5L331.7 195.8L343.7 199.2L355.7 202.7L367.7 206.1L379.7 209.4L391.7 212.5L403.7 215.3L415.7 217.8L427.7 220L439.7 222.2L451.7 224.4L463.7 226.6L475.7 228.7L487.7 230.9L499.7 232.9L511.7 234.9L523.7 236.8L535.7 238.5L547.7 239.9L559.7 241.1L571.7 242L583.7 242.7L595.7 243.3L607.7 243.6L619.7 243.8L631.7 243.9L643.7 243.9L655.7 243.7L667.7 243.3L679.7 242.7L691.7 241.8L703.7 240.7L715.7 239.4L727.7 237.9L739.7 236.3L751.7 234.5L763.7 232.7L775.7 231.5L787.7 231L799.7 231.4L811.7 233.5L823.7 238.1L835.7 239.6L847.7 237.4L859.7 233.9L871.7 229.5L883.7 224.9L895.7 220.3L907.7 215.7L919.7 211.2L931.7 206.9L943.7 202.7L955.7 198.7L967.7 194.9L979.7 191.3L991.7 188L1003.7 185L1015.7 182.3L1027.7 179.9L1039.7 177.9L1051.7 176.2L1063.7 174.8L1075.7 173.8L1087.7 173.2L1099.7 173L1100.9 173V309H175.7Z" fill="#90c8c6"/><path d="M175.7 173.4L187.7 173.3L199.7 173.5L211.7 174.1L223.7 175L235.7 176.3L247.7 177.9L259.7 179.8L271.7 182L283.7 184.4L295.7 187.2L307.7 190.2L319.7 193.4L331.7 196.8L343.7 200.3L355.7 203.9L367.7 207.4L379.7 210.9L391.7 214.2L403.7 217.2L415.7 219.9L427.7 222.1L439.7 224.2L451.7 226.4L463.7 228.5L475.7 230.6L487.7 232.8L499.7 234.8L511.7 236.9L523.7 238.8L535.7 240.5L547.7 241.9L559.7 243.1L571.7 244L583.7 244.8L595.7 245.4L607.7 245.7L619.7 246L631.7 246.1L643.7 246.1L655.7 245.9L667.7 245.4L679.7 244.8L691.7 244L703.7 242.9L715.7 241.6L727.7 240.1L739.7 238.5L751.7 236.6L763.7 234.9L775.7 233.8L787.7 233.4L799.7 234.1L811.7 237L823.7 240.9L835.7 240.8L847.7 238.4L859.7 234.6L871.7 230.2L883.7 225.6L895.7 220.9L907.7 216.3L919.7 211.8L931.7 207.4L943.7 203.2L955.7 199.2L967.7 195.3L979.7 191.8L991.7 188.5L1003.7 185.5L1015.7 182.8L1027.7 180.4L1039.7 178.3L1051.7 176.6L1063.7 175.2L1075.7 174.3L1087.7 173.6L1099.7 173.4L1100.9 173.4V309H175.7Z" fill="#90c7c6"/><path d="M175.7 173.8L187.7 173.7L199.7 173.9L211.7 174.5L223.7 175.5L235.7 176.8L247.7 178.4L259.7 180.3L271.7 182.6L283.7 185.1L295.7 187.9L307.7 190.9L319.7 194.2L331.7 197.7L343.7 201.3L355.7 205L367.7 208.7L379.7 212.3L391.7 215.8L403.7 219L415.7 221.9L427.7 224.2L439.7 226.3L451.7 228.4L463.7 230.5L475.7 232.6L487.7 234.7L499.7 236.8L511.7 238.8L523.7 240.7L535.7 242.4L547.7 243.8L559.7 245L571.7 246L583.7 246.8L595.7 247.3L607.7 247.7L619.7 248L631.7 248.1L643.7 248.1L655.7 247.9L667.7 247.5L679.7 246.9L691.7 246L703.7 244.9L715.7 243.7L727.7 242.2L739.7 240.6L751.7 238.8L763.7 237.1L775.7 236L787.7 235.8L799.7 236.9L811.7 240.3L823.7 242.9L835.7 241.9L847.7 239.1L859.7 235.4L871.7 230.9L883.7 226.2L895.7 221.5L907.7 216.9L919.7 212.4L931.7 207.9L943.7 203.7L955.7 199.6L967.7 195.8L979.7 192.2L991.7 188.9L1003.7 185.9L1015.7 183.2L1027.7 180.8L1039.7 178.7L1051.7 177L1063.7 175.6L1075.7 174.7L1087.7 174L1099.7 173.8L1100.9 173.8V309H175.7Z" fill="#91c5c6"/><path d="M175.7 174.2L187.7 174.1L199.7 174.4L211.7 175L223.7 176L235.7 177.3L247.7 178.9L259.7 180.9L271.7 183.2L283.7 185.7L295.7 188.6L307.7 191.7L319.7 195L331.7 198.6L343.7 202.3L355.7 206.1L367.7 209.9L379.7 213.7L391.7 217.3L403.7 220.8L415.7 223.8L427.7 226.3L439.7 228.4L451.7 230.4L463.7 232.4L475.7 234.5L487.7 236.6L499.7 238.7L511.7 240.7L523.7 242.6L535.7 244.3L547.7 245.7L559.7 246.9L571.7 247.9L583.7 248.7L595.7 249.2L607.7 249.6L619.7 249.9L631.7 250L643.7 250L655.7 249.8L667.7 249.4L679.7 248.8L691.7 248L703.7 246.9L715.7 245.6L727.7 244.2L739.7 242.6L751.7 240.8L763.7 239.2L775.7 238.2L787.7 238.2L799.7 239.8L811.7 243.1L823.7 244.5L835.7 242.9L847.7 239.9L859.7 236.1L871.7 231.6L883.7 226.9L895.7 222.2L907.7 217.5L919.7 212.9L931.7 208.5L943.7 204.2L955.7 200.1L967.7 196.3L979.7 192.7L991.7 189.4L1003.7 186.3L1015.7 183.6L1027.7 181.2L1039.7 179.1L1051.7 177.4L1063.7 176L1075.7 175L1087.7 174.4L1099.7 174.2L1100.9 174.2V309H175.7Z" fill="#91c4c6"/><path d="M175.7 174.6L187.7 174.5L199.7 174.8L211.7 175.5L223.7 176.5L235.7 177.8L247.7 179.5L259.7 181.5L271.7 183.8L283.7 186.4L295.7 189.2L307.7 192.4L319.7 195.8L331.7 199.4L343.7 203.2L355.7 207.1L367.7 211L379.7 215L391.7 218.8L403.7 222.4L415.7 225.7L427.7 228.3L439.7 230.5L451.7 232.4L463.7 234.4L475.7 236.4L487.7 238.5L499.7 240.5L511.7 242.5L523.7 244.5L535.7 246.2L547.7 247.6L559.7 248.8L571.7 249.7L583.7 250.5L595.7 251.1L607.7 251.5L619.7 251.7L631.7 251.9L643.7 251.9L655.7 251.7L667.7 251.3L679.7 250.7L691.7 249.8L703.7 248.8L715.7 247.6L727.7 246.2L739.7 244.6L751.7 242.9L763.7 241.3L775.7 240.4L787.7 240.6L799.7 242.6L811.7 245.5L823.7 245.7L835.7 243.8L847.7 240.7L859.7 236.7L871.7 232.1L883.7 227.4L895.7 222.7L907.7 218L919.7 213.4L931.7 209L943.7 204.7L955.7 200.6L967.7 196.7L979.7 193.1L991.7 189.8L1003.7 186.8L1015.7 184L1027.7 181.6L1039.7 179.5L1051.7 177.8L1063.7 176.4L1075.7 175.4L1087.7 174.8L1099.7 174.6L1100.9 174.6V309H175.7Z" fill="#92c2c6"/><path d="M175.7 175L187.7 174.9L199.7 175.2L211.7 175.9L223.7 176.9L235.7 178.3L247.7 180L259.7 182L271.7 184.4L283.7 187L295.7 189.9L307.7 193.1L319.7 196.6L331.7 200.3L343.7 204.1L355.7 208.1L367.7 212.2L379.7 216.2L391.7 220.2L403.7 223.9L415.7 227.4L427.7 230.2L439.7 232.5L451.7 234.5L463.7 236.4L475.7 238.3L487.7 240.3L499.7 242.4L511.7 244.4L523.7 246.3L535.7 248.1L547.7 249.5L559.7 250.7L571.7 251.6L583.7 252.4L595.7 252.9L607.7 253.3L619.7 253.6L631.7 253.7L643.7 253.7L655.7 253.5L667.7 253.1L679.7 252.5L691.7 251.7L703.7 250.7L715.7 249.5L727.7 248.2L739.7 246.6L751.7 244.9L763.7 243.4L775.7 242.6L787.7 243.1L799.7 245.3L811.7 247.3L823.7 247L835.7 244.6L847.7 241.3L859.7 237.3L871.7 232.7L883.7 228L895.7 223.2L907.7 218.5L919.7 213.9L931.7 209.5L943.7 205.1L955.7 201L967.7 197.2L979.7 193.6L991.7 190.2L1003.7 187.2L1015.7 184.4L1027.7 182L1039.7 179.9L1051.7 178.2L1063.7 176.8L1075.7 175.8L1087.7 175.2L1099.7 175L1100.9 175V309H175.7Z" fill="#92c1c7"/><path d="M175.7 175.4L187.7 175.3L199.7 175.6L211.7 176.3L223.7 177.4L235.7 178.8L247.7 180.5L259.7 182.6L271.7 184.9L283.7 187.6L295.7 190.5L307.7 193.8L319.7 197.3L331.7 201.1L343.7 205L355.7 209.1L367.7 213.2L379.7 217.4L391.7 221.5L403.7 225.4L415.7 229L427.7 232L439.7 234.4L451.7 236.5L463.7 238.3L475.7 240.2L487.7 242.2L499.7 244.2L511.7 246.2L523.7 248.2L535.7 250L547.7 251.4L559.7 252.6L571.7 253.5L583.7 254.2L595.7 254.8L607.7 255.1L619.7 255.4L631.7 255.5L643.7 255.5L655.7 255.3L667.7 254.9L679.7 254.4L691.7 253.6L703.7 252.6L715.7 251.5L727.7 250.2L739.7 248.7L751.7 247L763.7 245.5L775.7 244.8L787.7 245.6L799.7 247.7L811.7 248.9L823.7 247.9L835.7 245.4L847.7 241.9L859.7 237.9L871.7 233.3L883.7 228.5L895.7 223.8L907.7 219.1L919.7 214.4L931.7 209.9L943.7 205.6L955.7 201.5L967.7 197.6L979.7 194L991.7 190.6L1003.7 187.6L1015.7 184.8L1027.7 182.4L1039.7 180.3L1051.7 178.6L1063.7 177.2L1075.7 176.2L1087.7 175.6L1099.7 175.4L1100.9 175.4V309H175.7Z" fill="#93bfc7"/><path d="M175.7 175.7L187.7 175.7L199.7 176.1L211.7 176.8L223.7 177.8L235.7 179.3L247.7 181L259.7 183.1L271.7 185.5L283.7 188.2L295.7 191.2L307.7 194.5L319.7 198L331.7 201.9L343.7 205.9L355.7 210L367.7 214.3L379.7 218.5L391.7 222.7L403.7 226.8L415.7 230.5L427.7 233.7L439.7 236.3L451.7 238.4L463.7 240.3L475.7 242.1L487.7 244L499.7 246L511.7 248L523.7 250L535.7 251.8L547.7 253.3L559.7 254.5L571.7 255.4L583.7 256.1L595.7 256.6L607.7 257L619.7 257.2L631.7 257.3L643.7 257.3L655.7 257.1L667.7 256.8L679.7 256.2L691.7 255.5L703.7 254.6L715.7 253.5L727.7 252.2L739.7 250.7L751.7 249L763.7 247.5L775.7 247L787.7 247.9L799.7 249.8L811.7 250.3L823.7 248.9L835.7 246.1L847.7 242.6L859.7 238.5L871.7 233.9L883.7 229.1L895.7 224.3L907.7 219.6L919.7 214.9L931.7 210.4L943.7 206L955.7 201.9L967.7 198L979.7 194.4L991.7 191L1003.7 188L1015.7 185.2L1027.7 182.8L1039.7 180.7L1051.7 179L1063.7 177.6L1075.7 176.6L1087.7 176L1099.7 175.7L1100.9 175.7V309H175.7Z" fill="#93bec7"/><path d="M175.7 176.1L187.7 176.1L199.7 176.5L211.7 177.2L223.7 178.3L235.7 179.7L247.7 181.5L259.7 183.6L271.7 186.1L283.7 188.8L295.7 191.8L307.7 195.1L319.7 198.8L331.7 202.6L343.7 206.7L355.7 210.9L367.7 215.3L379.7 219.6L391.7 223.9L403.7 228.1L415.7 231.9L427.7 235.3L439.7 238L451.7 240.3L463.7 242.2L475.7 244L487.7 245.8L499.7 247.7L511.7 249.8L523.7 251.8L535.7 253.6L547.7 255.2L559.7 256.4L571.7 257.3L583.7 258.1L595.7 258.6L607.7 258.9L619.7 259.1L631.7 259.2L643.7 259.2L655.7 259.1L667.7 258.7L679.7 258.2L691.7 257.5L703.7 256.6L715.7 255.5L727.7 254.2L739.7 252.7L751.7 251L763.7 249.5L775.7 249.1L787.7 250.2L799.7 251.6L811.7 251.6L823.7 249.8L835.7 246.9L847.7 243.2L859.7 239L871.7 234.4L883.7 229.6L895.7 224.8L907.7 220.1L919.7 215.4L931.7 210.9L943.7 206.5L955.7 202.3L967.7 198.4L979.7 194.8L991.7 191.4L1003.7 188.4L1015.7 185.6L1027.7 183.2L1039.7 181.1L1051.7 179.4L1063.7 178L1075.7 177L1087.7 176.4L1099.7 176.1L1100.9 176.1V309H175.7Z" fill="#94bdc7"/><path d="M175.7 176.5L187.7 176.5L199.7 176.9L211.7 177.6L223.7 178.8L235.7 180.2L247.7 182L259.7 184.2L271.7 186.6L283.7 189.4L295.7 192.4L307.7 195.8L319.7 199.5L331.7 203.4L343.7 207.5L355.7 211.8L367.7 216.2L379.7 220.7L391.7 225.1L403.7 229.4L415.7 233.3L427.7 236.8L439.7 239.7L451.7 242.1L463.7 244L475.7 245.8L487.7 247.6L499.7 249.5L511.7 251.5L523.7 253.5L535.7 255.4L547.7 257L559.7 258.3L571.7 259.3L583.7 260L595.7 260.5L607.7 260.9L619.7 261.1L631.7 261.1L643.7 261.1L655.7 261L667.7 260.7L679.7 260.2L691.7 259.5L703.7 258.6L715.7 257.5L727.7 256.2L739.7 254.7L751.7 252.9L763.7 251.5L775.7 251.2L787.7 252.3L799.7 253.3L811.7 252.7L823.7 250.7L835.7 247.6L847.7 243.8L859.7 239.5L871.7 234.9L883.7 230.1L895.7 225.3L907.7 220.6L919.7 215.9L931.7 211.3L943.7 206.9L955.7 202.8L967.7 198.8L979.7 195.2L991.7 191.8L1003.7 188.8L1015.7 186L1027.7 183.6L1039.7 181.5L1051.7 179.8L1063.7 178.4L1075.7 177.4L1087.7 176.7L1099.7 176.5L1100.9 176.5V309H175.7Z" fill="#95bbc7"/><path d="M175.7 176.9L187.7 176.9L199.7 177.3L211.7 178.1L223.7 179.2L235.7 180.7L247.7 182.5L259.7 184.7L271.7 187.2L283.7 190L295.7 193.1L307.7 196.5L319.7 200.2L331.7 204.1L343.7 208.3L355.7 212.7L367.7 217.2L379.7 221.7L391.7 226.2L403.7 230.6L415.7 234.7L427.7 238.3L439.7 241.3L451.7 243.8L463.7 245.9L475.7 247.7L487.7 249.4L499.7 251.3L511.7 253.2L523.7 255.3L535.7 257.2L547.7 258.8L559.7 260.1L571.7 261.1L583.7 261.9L595.7 262.5L607.7 262.8L619.7 263.1L631.7 263.1L643.7 263.1L655.7 263L667.7 262.7L679.7 262.2L691.7 261.4L703.7 260.5L715.7 259.4L727.7 258.1L739.7 256.6L751.7 254.9L763.7 253.4L775.7 253.3L787.7 254.2L799.7 254.8L811.7 253.9L823.7 251.5L835.7 248.2L847.7 244.4L859.7 240.1L871.7 235.4L883.7 230.6L895.7 225.8L907.7 221L919.7 216.3L931.7 211.8L943.7 207.4L955.7 203.2L967.7 199.3L979.7 195.6L991.7 192.2L1003.7 189.2L1015.7 186.4L1027.7 184L1039.7 181.9L1051.7 180.1L1063.7 178.8L1075.7 177.7L1087.7 177.1L1099.7 176.9L1100.9 176.9V309H175.7Z" fill="#95b9c7"/><path d="M175.7 177.2L187.7 177.3L199.7 177.7L211.7 178.5L223.7 179.7L235.7 181.2L247.7 183L259.7 185.2L271.7 187.7L283.7 190.5L295.7 193.7L307.7 197.1L319.7 200.8L331.7 204.9L343.7 209.1L355.7 213.5L367.7 218.1L379.7 222.7L391.7 227.3L403.7 231.8L415.7 236L427.7 239.7L439.7 242.9L451.7 245.5L463.7 247.7L475.7 249.6L487.7 251.3L499.7 253.1L511.7 255L523.7 257L535.7 259L547.7 260.6L559.7 261.9L571.7 263L583.7 263.8L595.7 264.4L607.7 264.8L619.7 265L631.7 265.1L643.7 265.1L655.7 264.9L667.7 264.6L679.7 264.1L691.7 263.4L703.7 262.5L715.7 261.4L727.7 260L739.7 258.5L751.7 256.8L763.7 255.4L775.7 255.3L787.7 256.1L799.7 256.2L811.7 254.9L823.7 252.3L835.7 248.9L847.7 244.9L859.7 240.6L871.7 235.9L883.7 231.1L895.7 226.3L907.7 221.5L919.7 216.8L931.7 212.2L943.7 207.8L955.7 203.6L967.7 199.6L979.7 196L991.7 192.6L1003.7 189.6L1015.7 186.8L1027.7 184.4L1039.7 182.3L1051.7 180.5L1063.7 179.1L1075.7 178.1L1087.7 177.5L1099.7 177.2L1100.9 177.2V309H175.7Z" fill="#96b8c7"/><path d="M175.7 177.6L187.7 177.7L199.7 178.1L211.7 178.9L223.7 180.1L235.7 181.6L247.7 183.5L259.7 185.7L271.7 188.3L283.7 191.1L295.7 194.2L307.7 197.7L319.7 201.5L331.7 205.6L343.7 209.9L355.7 214.4L367.7 219L379.7 223.7L391.7 228.4L403.7 232.9L415.7 237.2L427.7 241.1L439.7 244.4L451.7 247.2L463.7 249.5L475.7 251.4L487.7 253.2L499.7 254.9L511.7 256.8L523.7 258.9L535.7 260.8L547.7 262.4L559.7 263.8L571.7 264.8L583.7 265.7L595.7 266.3L607.7 266.7L619.7 266.9L631.7 267L643.7 267L655.7 266.9L667.7 266.6L679.7 266L691.7 265.3L703.7 264.4L715.7 263.3L727.7 262L739.7 260.5L751.7 258.7L763.7 257.4L775.7 257.4L787.7 257.9L799.7 257.6L811.7 255.9L823.7 253.1L835.7 249.5L847.7 245.5L859.7 241.1L871.7 236.4L883.7 231.6L895.7 226.8L907.7 222L919.7 217.2L931.7 212.6L943.7 208.2L955.7 204L967.7 200L979.7 196.4L991.7 193L1003.7 189.9L1015.7 187.2L1027.7 184.7L1039.7 182.6L1051.7 180.9L1063.7 179.5L1075.7 178.5L1087.7 177.9L1099.7 177.6L1100.9 177.6V309H175.7Z" fill="#97b6c7"/><path d="M175.7 178L187.7 178.1L199.7 178.5L211.7 179.3L223.7 180.5L235.7 182.1L247.7 184L259.7 186.2L271.7 188.8L283.7 191.7L295.7 194.8L307.7 198.3L319.7 202.2L331.7 206.3L343.7 210.6L355.7 215.2L367.7 219.9L379.7 224.7L391.7 229.4L403.7 234.1L415.7 238.5L427.7 242.4L439.7 245.9L451.7 248.8L463.7 251.3L475.7 253.3L487.7 255.1L499.7 256.8L511.7 258.7L523.7 260.7L535.7 262.7L547.7 264.3L559.7 265.6L571.7 266.7L583.7 267.6L595.7 268.2L607.7 268.6L619.7 268.9L631.7 269L643.7 269L655.7 268.8L667.7 268.5L679.7 268L691.7 267.3L703.7 266.4L715.7 265.3L727.7 264L739.7 262.5L751.7 260.7L763.7 259.4L775.7 259.4L787.7 259.6L799.7 258.8L811.7 256.8L823.7 253.8L835.7 250.2L847.7 246.1L859.7 241.6L871.7 236.9L883.7 232.1L895.7 227.2L907.7 222.4L919.7 217.7L931.7 213L943.7 208.6L955.7 204.4L967.7 200.4L979.7 196.7L991.7 193.4L1003.7 190.3L1015.7 187.5L1027.7 185.1L1039.7 183L1051.7 181.2L1063.7 179.9L1075.7 178.8L1087.7 178.2L1099.7 178L1100.9 178V309H175.7Z" fill="#97b5c6"/><path d="M175.7 178.3L187.7 178.4L199.7 178.9L211.7 179.7L223.7 181L235.7 182.5L247.7 184.5L259.7 186.7L271.7 189.3L283.7 192.2L295.7 195.4L307.7 199L319.7 202.8L331.7 207L343.7 211.4L355.7 216L367.7 220.8L379.7 225.6L391.7 230.4L403.7 235.2L415.7 239.6L427.7 243.7L439.7 247.3L451.7 250.4L463.7 253L475.7 255.2L487.7 257.1L499.7 258.8L511.7 260.6L523.7 262.7L535.7 264.6L547.7 266.2L559.7 267.6L571.7 268.7L583.7 269.5L595.7 270.2L607.7 270.6L619.7 270.9L631.7 271L643.7 271L655.7 270.8L667.7 270.5L679.7 270L691.7 269.3L703.7 268.4L715.7 267.4L727.7 266.1L739.7 264.6L751.7 262.8L763.7 261.5L775.7 261.3L787.7 261.2L799.7 260L811.7 257.7L823.7 254.6L835.7 250.8L847.7 246.6L859.7 242.1L871.7 237.4L883.7 232.6L895.7 227.7L907.7 222.9L919.7 218.1L931.7 213.5L943.7 209L955.7 204.8L967.7 200.8L979.7 197.1L991.7 193.8L1003.7 190.7L1015.7 187.9L1027.7 185.5L1039.7 183.4L1051.7 181.6L1063.7 180.2L1075.7 179.2L1087.7 178.6L1099.7 178.3L1100.9 178.3V309H175.7Z" fill="#98b3c6"/><path d="M175.7 178.7L187.7 178.8L199.7 179.3L211.7 180.2L223.7 181.4L235.7 183L247.7 184.9L259.7 187.2L271.7 189.8L283.7 192.8L295.7 196L307.7 199.6L319.7 203.5L331.7 207.7L343.7 212.1L355.7 216.8L367.7 221.6L379.7 226.5L391.7 231.4L403.7 236.3L415.7 240.8L427.7 245L439.7 248.7L451.7 252L463.7 254.8L475.7 257L487.7 259L499.7 260.9L511.7 262.7L523.7 264.8L535.7 266.7L547.7 268.4L559.7 269.7L571.7 270.8L583.7 271.6L595.7 272.3L607.7 272.7L619.7 272.9L631.7 273L643.7 273L655.7 272.9L667.7 272.6L679.7 272.1L691.7 271.5L703.7 270.6L715.7 269.5L727.7 268.3L739.7 266.8L751.7 265L763.7 263.6L775.7 263.3L787.7 262.7L799.7 261.2L811.7 258.6L823.7 255.3L835.7 251.4L847.7 247.1L859.7 242.6L871.7 237.9L883.7 233L895.7 228.2L907.7 223.3L919.7 218.5L931.7 213.9L943.7 209.4L955.7 205.2L967.7 201.2L979.7 197.5L991.7 194.1L1003.7 191.1L1015.7 188.3L1027.7 185.8L1039.7 183.7L1051.7 182L1063.7 180.6L1075.7 179.6L1087.7 178.9L1099.7 178.7L1100.9 178.7V309H175.7Z" fill="#99b1c6"/><path d="M175.7 179.1L187.7 179.2L199.7 179.7L211.7 180.6L223.7 181.8L235.7 183.4L247.7 185.4L259.7 187.7L271.7 190.4L283.7 193.3L295.7 196.6L307.7 200.2L319.7 204.1L331.7 208.3L343.7 212.8L355.7 217.6L367.7 222.5L379.7 227.4L391.7 232.4L403.7 237.3L415.7 241.9L427.7 246.2L439.7 250.1L451.7 253.5L463.7 256.5L475.7 258.9L487.7 261L499.7 262.9L511.7 264.9L523.7 267L535.7 269L547.7 270.6L559.7 272L571.7 273.1L583.7 273.9L595.7 274.5L607.7 274.9L619.7 275.1L631.7 275.3L643.7 275.3L655.7 275.1L667.7 274.8L679.7 274.3L691.7 273.7L703.7 272.9L715.7 271.9L727.7 270.6L739.7 269.1L751.7 267.3L763.7 265.8L775.7 265.2L787.7 264.3L799.7 262.4L811.7 259.5L823.7 256L835.7 252L847.7 247.7L859.7 243.1L871.7 238.4L883.7 233.5L895.7 228.6L907.7 223.7L919.7 218.9L931.7 214.3L943.7 209.8L955.7 205.6L967.7 201.6L979.7 197.9L991.7 194.5L1003.7 191.4L1015.7 188.6L1027.7 186.2L1039.7 184.1L1051.7 182.3L1063.7 180.9L1075.7 179.9L1087.7 179.3L1099.7 179.1L1100.9 179.1V309H175.7Z" fill="#99b0c6"/><path d="M175.7 179.4L187.7 179.6L199.7 180.1L211.7 181L223.7 182.3L235.7 183.9L247.7 185.9L259.7 188.2L271.7 190.9L283.7 193.9L295.7 197.1L307.7 200.8L319.7 204.7L331.7 209L343.7 213.5L355.7 218.3L367.7 223.3L379.7 228.3L391.7 233.4L403.7 238.4L415.7 243.1L427.7 247.5L439.7 251.5L451.7 255.1L463.7 258.2L475.7 260.8L487.7 263L499.7 265L511.7 267L523.7 269.2L535.7 271.3L547.7 273L559.7 274.5L571.7 275.6L583.7 276.4L595.7 276.9L607.7 277.4L619.7 277.6L631.7 277.7L643.7 277.7L655.7 277.6L667.7 277.3L679.7 276.9L691.7 276.3L703.7 275.5L715.7 274.4L727.7 273.1L739.7 271.5L751.7 269.6L763.7 268L775.7 267L787.7 265.7L799.7 263.5L811.7 260.4L823.7 256.7L835.7 252.6L847.7 248.2L859.7 243.6L871.7 238.8L883.7 234L895.7 229.1L907.7 224.2L919.7 219.4L931.7 214.7L943.7 210.2L955.7 205.9L967.7 201.9L979.7 198.2L991.7 194.9L1003.7 191.8L1015.7 189L1027.7 186.5L1039.7 184.4L1051.7 182.7L1063.7 181.3L1075.7 180.3L1087.7 179.7L1099.7 179.4L1100.9 179.4V309H175.7Z" fill="#9aaec6"/><path d="M175.7 179.8L187.7 179.9L199.7 180.5L211.7 181.4L223.7 182.7L235.7 184.3L247.7 186.4L259.7 188.7L271.7 191.4L283.7 194.4L295.7 197.7L307.7 201.3L319.7 205.3L331.7 209.6L343.7 214.2L355.7 219.1L367.7 224.1L379.7 304L391.7 304L403.7 304L415.7 304L427.7 304L439.7 304L451.7 256.6L463.7 259.8L475.7 262.6L487.7 265L499.7 267.2L511.7 269.3L523.7 271.6L535.7 273.7L547.7 275.6L559.7 277.1L571.7 278.3L583.7 279.1L595.7 279.7L607.7 280.2L619.7 280.4L631.7 280.5L643.7 280.5L655.7 280.4L667.7 280.1L679.7 279.7L691.7 279.1L703.7 278.2L715.7 277.1L727.7 275.7L739.7 274L751.7 272L763.7 270.2L775.7 268.9L787.7 267.2L799.7 264.5L811.7 261.2L823.7 257.4L835.7 304L847.7 304L859.7 304L871.7 304L883.7 304L895.7 304L907.7 224.6L919.7 219.8L931.7 215.1L943.7 210.6L955.7 206.3L967.7 202.3L979.7 198.6L991.7 195.2L1003.7 192.1L1015.7 189.4L1027.7 186.9L1039.7 184.8L1051.7 183L1063.7 181.7L1075.7 180.6L1087.7 180L1099.7 179.8L1100.9 179.8V309H175.7Z" fill="#9badc6"/><path d="M175.7 180.1L187.7 180.3L199.7 180.8L211.7 181.8L223.7 183.1L235.7 184.8L247.7 186.8L259.7 189.2L271.7 191.9L283.7 194.9L295.7 198.2L307.7 201.9L319.7 205.9L331.7 210.3L343.7 214.9L355.7 304L367.7 304L379.7 304L391.7 304L403.7 304L415.7 304L427.7 304L439.7 304L451.7 304L463.7 261.5L475.7 264.5L487.7 267.1L499.7 269.4L511.7 271.6L523.7 274L535.7 276.3L547.7 278.2L559.7 279.8L571.7 281.1L583.7 282L595.7 282.7L607.7 283.2L619.7 283.5L631.7 283.6L643.7 283.6L655.7 283.5L667.7 283.2L679.7 282.7L691.7 282L703.7 281.1L715.7 279.9L727.7 278.4L739.7 276.6L751.7 274.5L763.7 272.4L775.7 270.8L787.7 268.6L799.7 265.6L811.7 262.1L823.7 304L835.7 304L847.7 304L859.7 304L871.7 304L883.7 304L895.7 304L907.7 304L919.7 304L931.7 215.5L943.7 211L955.7 206.7L967.7 202.7L979.7 199L991.7 195.6L1003.7 192.5L1015.7 189.7L1027.7 187.3L1039.7 185.1L1051.7 183.4L1063.7 182L1075.7 181L1087.7 180.4L1099.7 180.1L1100.9 180.1V309H175.7Z" fill="#9cabc5"/><path d="M175.7 180.5L187.7 180.7L199.7 181.2L211.7 182.2L223.7 183.5L235.7 185.2L247.7 187.3L259.7 189.7L271.7 192.4L283.7 195.4L295.7 198.8L307.7 202.5L319.7 206.6L331.7 304L343.7 304L355.7 304L367.7 304L379.7 304L391.7 304L403.7 304L415.7 304L427.7 304L439.7 304L451.7 304L463.7 304L475.7 304L487.7 269.2L499.7 271.6L511.7 274L523.7 276.6L535.7 279L547.7 281L559.7 282.8L571.7 284.1L583.7 285.2L595.7 286L607.7 286.5L619.7 286.8L631.7 286.9L643.7 286.9L655.7 286.8L667.7 286.5L679.7 286L691.7 285.2L703.7 284.2L715.7 282.9L727.7 281.3L739.7 279.3L751.7 277L763.7 274.7L775.7 272.6L787.7 269.9L799.7 304L811.7 304L823.7 304L835.7 304L847.7 304L859.7 304L871.7 304L883.7 304L895.7 304L907.7 304L919.7 304L931.7 304L943.7 304L955.7 207.1L967.7 203L979.7 199.3L991.7 195.9L1003.7 192.8L1015.7 190.1L1027.7 187.6L1039.7 185.5L1051.7 183.7L1063.7 182.4L1075.7 181.3L1087.7 180.7L1099.7 180.5L1100.9 180.5V309H175.7Z" fill="#9da9c5"/><path d="M175.7 180.8L187.7 181L199.7 181.6L211.7 182.6L223.7 183.9L235.7 185.7L247.7 187.7L259.7 190.2L271.7 192.9L283.7 196L295.7 304L307.7 304L319.7 304L331.7 304L343.7 304L355.7 304L367.7 304L379.7 304L391.7 304L403.7 304L415.7 304L427.7 304L439.7 304L451.7 304L463.7 304L475.7 304L487.7 304L499.7 274L511.7 276.6L523.7 279.3L535.7 281.8L547.7 284.1L559.7 286L571.7 287.5L583.7 288.6L595.7 289.5L607.7 290.1L619.7 290.5L631.7 290.7L643.7 290.7L655.7 290.5L667.7 290.2L679.7 289.6L691.7 288.7L703.7 287.6L715.7 286.2L727.7 284.4L739.7 282.2L751.7 279.7L763.7 277L775.7 274.4L787.7 304L799.7 304L811.7 304L823.7 304L835.7 304L847.7 304L859.7 304L871.7 304L883.7 304L895.7 304L907.7 304L919.7 304L931.7 304L943.7 304L955.7 304L967.7 304L979.7 304L991.7 196.3L1003.7 193.2L1015.7 190.4L1027.7 188L1039.7 185.8L1051.7 184.1L1063.7 182.7L1075.7 181.7L1087.7 181.1L1099.7 180.8L1100.9 180.8V309H175.7Z" fill="#9da8c5"/><path d="M175.7 304L187.7 304L199.7 304L211.7 304L223.7 304L235.7 304L247.7 304L259.7 304L271.7 304L283.7 304L295.7 304L307.7 304L319.7 304L331.7 304L343.7 304L355.7 304L367.7 304L379.7 304L391.7 304L403.7 304L415.7 304L427.7 304L439.7 304L451.7 304L463.7 304L475.7 304L487.7 304L499.7 304L511.7 304L523.7 304L535.7 304L547.7 287.5L559.7 289.6L571.7 291.3L583.7 292.7L595.7 293.7L607.7 294.4L619.7 294.9L631.7 295.1L643.7 295.1L655.7 294.9L667.7 294.5L679.7 293.8L691.7 292.9L703.7 291.5L715.7 289.8L727.7 287.7L739.7 304L751.7 304L763.7 304L775.7 304L787.7 304L799.7 304L811.7 304L823.7 304L835.7 304L847.7 304L859.7 304L871.7 304L883.7 304L895.7 304L907.7 304L919.7 304L931.7 304L943.7 304L955.7 304L967.7 304L979.7 304L991.7 304L1003.7 304L1015.7 304L1027.7 304L1039.7 304L1051.7 304L1063.7 304L1075.7 304L1087.7 304L1099.7 304L1100.9 304V309H175.7Z" fill="#9ea6c4"/></g>
<g clip-path="url(#c1)"><rect x="170" y="353.2" width="940" height="250" fill="#fdf391"/><path d="M175.7 360.2L200.7 360.2L225.7 360.2L250.7 360.2L275.7 360.2L300.7 360.2L325.7 360.2L350.7 360.2L375.7 360.2L400.7 360.2L425.7 360.2L450.7 360.2L475.7 360.2L500.7 360.2L525.7 360.2L550.7 360.2L575.7 360.2L600.7 360.2L625.7 360.2L650.7 360.2L675.7 360.2L700.7 360.2L725.7 360.2L750.7 360.2L775.7 360.2L800.7 360.2L825.7 360.2L850.7 360.2L875.7 360.2L900.7 360.2L925.7 360.2L950.7 360.2L975.7 360.2L1000.7 360.2L1025.7 360.2L1050.7 360.2L1075.7 360.2L1100.7 360.2L1100.9 360.2V603.2H175.7Z" fill="#f9f28f"/><path d="M175.7 360.2L200.7 360.2L225.7 360.2L250.7 360.2L275.7 360.2L300.7 360.2L325.7 360.2L350.7 360.2L375.7 360.2L400.7 360.2L425.7 360.2L450.7 360.2L475.7 360.2L500.7 360.2L525.7 360.2L550.7 360.2L575.7 360.2L600.7 360.2L625.7 360.2L650.7 360.2L675.7 360.2L700.7 360.2L725.7 360.2L750.7 360.2L775.7 360.2L800.7 360.2L825.7 360.2L850.7 360.2L875.7 360.2L900.7 360.2L925.7 360.2L950.7 360.2L975.7 360.2L1000.7 360.2L1025.7 360.2L1050.7 360.2L1075.7 360.2L1100.7 360.2L1100.9 360.2V603.2H175.7Z" fill="#f6f28d"/><path d="M175.7 399L200.7 398.5L225.7 398L250.7 397.5L275.7 397.1L300.7 396.9L325.7 396.7L350.7 396.6L375.7 396.4L400.7 396.3L425.7 396.1L450.7 396L475.7 395.8L500.7 395.7L525.7 395.5L550.7 395.3L575.7 395.1L600.7 394.8L625.7 394.6L650.7 394.7L675.7 395L700.7 395.4L725.7 395.7L750.7 396L775.7 396.5L800.7 396.9L825.7 397.3L850.7 397.8L875.7 398.6L900.7 399.6L925.7 400.3L950.7 401.1L975.7 401.3L1000.7 401.3L1025.7 401.3L1050.7 401.2L1075.7 400.3L1100.7 399L1100.9 399V603.2H175.7Z" fill="#f0f18c"/><path d="M175.7 401.7L200.7 401.1L225.7 400.6L250.7 400.1L275.7 399.7L300.7 399.5L325.7 399.3L350.7 399.1L375.7 399L400.7 398.9L425.7 398.8L450.7 398.6L475.7 398.5L500.7 398.3L525.7 398.1L550.7 397.9L575.7 397.7L600.7 397.4L625.7 397.3L650.7 397.3L675.7 397.6L700.7 398L725.7 398.3L750.7 398.7L775.7 399.1L800.7 399.5L825.7 399.9L850.7 400.4L875.7 401.2L900.7 402.1L925.7 403L950.7 403.6L975.7 403.9L1000.7 403.9L1025.7 403.9L1050.7 403.8L1075.7 402.9L1100.7 401.7L1100.9 401.7V603.2H175.7Z" fill="#edf18c"/><path d="M175.7 404.2L200.7 403.7L225.7 403.1L250.7 402.7L275.7 402.3L300.7 402L325.7 401.9L350.7 401.7L375.7 401.6L400.7 401.5L425.7 401.4L450.7 401.2L475.7 401L500.7 400.9L525.7 400.7L550.7 400.5L575.7 400.2L600.7 400L625.7 399.9L650.7 399.9L675.7 400.2L700.7 400.6L725.7 400.9L750.7 401.3L775.7 401.6L800.7 402.1L825.7 402.5L850.7 403L875.7 403.8L900.7 404.7L925.7 405.6L950.7 406.2L975.7 406.5L1000.7 406.5L1025.7 406.5L1050.7 406.4L1075.7 405.5L1100.7 404.2L1100.9 404.2V603.2H175.7Z" fill="#e9f08d"/><path d="M175.7 406.8L200.7 406.3L225.7 405.7L250.7 405.3L275.7 404.9L300.7 404.6L325.7 404.4L350.7 404.3L375.7 404.2L400.7 404.1L425.7 403.9L450.7 403.8L475.7 403.6L500.7 403.4L525.7 403.2L550.7 403.1L575.7 402.8L600.7 402.6L625.7 402.4L650.7 402.5L675.7 402.8L700.7 403.2L725.7 403.5L750.7 403.8L775.7 404.2L800.7 404.6L825.7 405.1L850.7 405.6L875.7 406.4L900.7 407.3L925.7 408.1L950.7 408.8L975.7 409L1000.7 409L1025.7 409L1050.7 408.9L1075.7 408.1L1100.7 406.8L1100.9 406.8V603.2H175.7Z" fill="#e5f08f"/><path d="M175.7 409.3L200.7 408.8L225.7 408.2L250.7 407.8L275.7 407.4L300.7 407.1L325.7 407L350.7 406.8L375.7 406.7L400.7 406.6L425.7 406.5L450.7 406.3L475.7 406.1L500.7 405.9L525.7 405.8L550.7 405.6L575.7 405.3L600.7 405.1L625.7 404.9L650.7 405L675.7 405.3L700.7 405.7L725.7 406L750.7 406.4L775.7 406.7L800.7 407.1L825.7 407.6L850.7 408.1L875.7 408.9L900.7 409.8L925.7 410.7L950.7 411.4L975.7 411.6L1000.7 411.6L1025.7 411.6L1050.7 411.4L1075.7 410.5L1100.7 409.3L1100.9 409.3V603.2H175.7Z" fill="#e1ef91"/><path d="M175.7 411.6L200.7 411L225.7 410.5L250.7 410.1L275.7 409.7L300.7 409.5L325.7 409.3L350.7 409.1L375.7 409L400.7 408.9L425.7 408.8L450.7 408.6L475.7 408.5L500.7 408.3L525.7 408.1L550.7 407.9L575.7 407.7L600.7 407.5L625.7 407.3L650.7 407.3L675.7 407.6L700.7 408L725.7 408.4L750.7 408.7L775.7 409.1L800.7 409.5L825.7 410L850.7 410.5L875.7 411.3L900.7 412.3L925.7 413.1L950.7 413.8L975.7 414.1L1000.7 414L1025.7 413.9L1050.7 413.7L1075.7 412.8L1100.7 411.6L1100.9 411.6V603.2H175.7Z" fill="#dbee94"/><path d="M175.7 413.8L200.7 413.3L225.7 412.8L250.7 412.3L275.7 412L300.7 411.7L325.7 411.6L350.7 411.4L375.7 411.3L400.7 411.2L425.7 411.1L450.7 410.9L475.7 410.8L500.7 410.6L525.7 410.4L550.7 410.3L575.7 410L600.7 409.8L625.7 409.6L650.7 409.7L675.7 410L700.7 410.3L725.7 410.7L750.7 411L775.7 411.4L800.7 411.9L825.7 412.3L850.7 412.9L875.7 413.7L900.7 414.7L925.7 415.6L950.7 416.2L975.7 416.5L1000.7 416.4L1025.7 416.3L1050.7 416L1075.7 415.1L1100.7 413.8L1100.9 413.8V603.2H175.7Z" fill="#d7ee97"/><path d="M175.7 416.1L200.7 415.5L225.7 415L250.7 414.6L275.7 414.2L300.7 414L325.7 413.8L350.7 413.7L375.7 413.6L400.7 413.5L425.7 413.4L450.7 413.2L475.7 413.1L500.7 412.9L525.7 412.7L550.7 412.6L575.7 412.3L600.7 412.1L625.7 412L650.7 412L675.7 412.3L700.7 412.7L725.7 413L750.7 413.4L775.7 413.8L800.7 414.2L825.7 414.7L850.7 415.3L875.7 416.1L900.7 417.1L925.7 418L950.7 418.7L975.7 418.9L1000.7 418.8L1025.7 418.6L1050.7 418.3L1075.7 417.4L1100.7 416.1L1100.9 416.1V603.2H175.7Z" fill="#d3ed99"/><path d="M175.7 418.3L200.7 417.8L225.7 417.3L250.7 416.8L275.7 416.5L300.7 416.3L325.7 416.1L350.7 416L375.7 415.9L400.7 415.8L425.7 415.7L450.7 415.5L475.7 415.4L500.7 415.2L525.7 415.1L550.7 414.9L575.7 414.7L600.7 414.4L625.7 414.3L650.7 414.3L675.7 414.6L700.7 415L725.7 415.3L750.7 415.7L775.7 416.1L800.7 416.6L825.7 417.1L850.7 417.7L875.7 418.5L900.7 419.5L925.7 420.4L950.7 421.1L975.7 421.3L1000.7 421.2L1025.7 420.9L1050.7 420.6L1075.7 419.6L1100.7 418.3L1100.9 418.3V603.2H175.7Z" fill="#cfec9c"/><path d="M175.7 420.4L200.7 419.9L225.7 419.4L250.7 418.9L275.7 418.6L300.7 418.4L325.7 418.2L350.7 418.1L375.7 418L400.7 417.9L425.7 417.8L450.7 417.7L475.7 417.5L500.7 417.4L525.7 417.2L550.7 417.1L575.7 416.8L600.7 416.6L625.7 416.5L650.7 416.5L675.7 416.8L700.7 417.1L725.7 417.5L750.7 417.9L775.7 418.3L800.7 418.8L825.7 419.3L850.7 419.9L875.7 420.8L900.7 421.7L925.7 422.7L950.7 423.3L975.7 423.6L1000.7 423.4L1025.7 423.1L1050.7 422.7L1075.7 421.7L1100.7 420.4L1100.9 420.4V603.2H175.7Z" fill="#cbec9f"/><path d="M175.7 422.4L200.7 421.9L225.7 421.4L250.7 421L275.7 420.7L300.7 420.4L325.7 420.3L350.7 420.2L375.7 420.1L400.7 420L425.7 419.9L450.7 419.8L475.7 419.6L500.7 419.5L525.7 419.3L550.7 419.2L575.7 419L600.7 418.8L625.7 418.6L650.7 418.7L675.7 418.9L700.7 419.3L725.7 419.6L750.7 420L775.7 420.4L800.7 421L825.7 421.5L850.7 422.1L875.7 423L900.7 424L925.7 424.9L950.7 425.6L975.7 425.8L1000.7 425.6L1025.7 425.3L1050.7 424.8L1075.7 423.8L1100.7 422.4L1100.9 422.4V603.2H175.7Z" fill="#c6eba2"/><path d="M175.7 424.5L200.7 424L225.7 423.5L250.7 423.1L275.7 422.7L300.7 422.5L325.7 422.4L350.7 422.3L375.7 422.2L400.7 422.1L425.7 422L450.7 421.9L475.7 421.7L500.7 421.6L525.7 421.5L550.7 421.3L575.7 421.1L600.7 420.9L625.7 420.8L650.7 420.8L675.7 421.1L700.7 421.4L725.7 421.7L750.7 422.1L775.7 422.6L800.7 423.1L825.7 423.7L850.7 424.3L875.7 425.2L900.7 426.2L925.7 427.1L950.7 427.8L975.7 428L1000.7 427.8L1025.7 427.4L1050.7 426.9L1075.7 425.9L1100.7 424.5L1100.9 424.5V603.2H175.7Z" fill="#c3eaa4"/><path d="M175.7 426.5L200.7 426L225.7 425.6L250.7 425.1L275.7 424.8L300.7 424.6L325.7 424.5L350.7 424.4L375.7 424.3L400.7 424.2L425.7 424.1L450.7 424L475.7 423.8L500.7 423.7L525.7 423.6L550.7 423.4L575.7 423.2L600.7 423.1L625.7 422.9L650.7 423L675.7 423.2L700.7 423.5L725.7 423.8L750.7 424.2L775.7 424.7L800.7 425.3L825.7 425.9L850.7 426.5L875.7 427.4L900.7 428.4L925.7 429.3L950.7 430L975.7 430.3L1000.7 430L1025.7 429.6L1050.7 429.1L1075.7 428L1100.7 426.5L1100.9 426.5V603.2H175.7Z" fill="#bfe9a7"/><path d="M175.7 428.6L200.7 428.1L225.7 427.7L250.7 427.3L275.7 426.9L300.7 426.7L325.7 426.6L350.7 426.5L375.7 426.4L400.7 426.3L425.7 426.3L450.7 426.1L475.7 426L500.7 425.9L525.7 425.7L550.7 425.6L575.7 425.4L600.7 425.2L625.7 425.1L650.7 425.1L675.7 425.3L700.7 425.7L725.7 426L750.7 426.4L775.7 426.9L800.7 427.5L825.7 428.1L850.7 428.8L875.7 429.6L900.7 430.7L925.7 431.6L950.7 432.3L975.7 432.5L1000.7 432.3L1025.7 431.8L1050.7 431.2L1075.7 430.1L1100.7 428.6L1100.9 428.6V603.2H175.7Z" fill="#bbe8a9"/><path d="M175.7 431.1L200.7 430.6L225.7 430.1L250.7 429.7L275.7 429.4L300.7 429.2L325.7 429L350.7 429L375.7 428.9L400.7 428.8L425.7 428.7L450.7 428.6L475.7 428.5L500.7 428.4L525.7 428.2L550.7 428.1L575.7 427.9L600.7 427.8L625.7 427.7L650.7 427.7L675.7 427.9L700.7 428.2L725.7 428.5L750.7 428.9L775.7 429.5L800.7 430.1L825.7 430.7L850.7 431.4L875.7 432.3L900.7 433.3L925.7 434.2L950.7 434.9L975.7 435.1L1000.7 434.9L1025.7 434.3L1050.7 433.7L1075.7 432.5L1100.7 431.1L1100.9 431.1V603.2H175.7Z" fill="#b8e7ab"/><path d="M175.7 433.5L200.7 433L225.7 432.6L250.7 432.2L275.7 431.9L300.7 431.7L325.7 431.5L350.7 431.5L375.7 431.4L400.7 431.3L425.7 431.2L450.7 431.1L475.7 431L500.7 430.9L525.7 430.8L550.7 430.7L575.7 430.5L600.7 430.3L625.7 430.2L650.7 430.2L675.7 430.5L700.7 430.7L725.7 431L750.7 431.5L775.7 432L800.7 432.7L825.7 433.3L850.7 434L875.7 434.9L900.7 435.9L925.7 436.8L950.7 437.5L975.7 437.8L1000.7 437.5L1025.7 436.9L1050.7 436.2L1075.7 435L1100.7 433.5L1100.9 433.5V603.2H175.7Z" fill="#b3e6ae"/><path d="M175.7 436L200.7 435.5L225.7 435L250.7 434.6L275.7 434.3L300.7 434.2L325.7 434L350.7 434L375.7 433.9L400.7 433.8L425.7 433.7L450.7 433.6L475.7 433.5L500.7 433.4L525.7 433.3L550.7 433.2L575.7 433L600.7 432.9L625.7 432.8L650.7 432.8L675.7 433L700.7 433.3L725.7 433.6L750.7 434L775.7 434.6L800.7 435.3L825.7 436L850.7 436.6L875.7 437.5L900.7 438.6L925.7 439.5L950.7 440.2L975.7 440.5L1000.7 440.1L1025.7 439.5L1050.7 438.7L1075.7 437.5L1100.7 436L1100.9 436V603.2H175.7Z" fill="#b0e4b0"/><path d="M175.7 438.5L200.7 437.9L225.7 437.5L250.7 437.1L275.7 436.8L300.7 436.6L325.7 436.5L350.7 436.4L375.7 436.3L400.7 436.3L425.7 436.2L450.7 436.1L475.7 436L500.7 435.9L525.7 435.8L550.7 435.7L575.7 435.6L600.7 435.5L625.7 435.4L650.7 435.4L675.7 435.6L700.7 435.8L725.7 436L750.7 436.5L775.7 437.2L800.7 437.8L825.7 438.6L850.7 439.2L875.7 440.1L900.7 441.2L925.7 442.1L950.7 442.8L975.7 443.1L1000.7 442.8L1025.7 442L1050.7 441.3L1075.7 440L1100.7 438.5L1100.9 438.5V603.2H175.7Z" fill="#ace3b2"/><path d="M175.7 440.5L200.7 440L225.7 439.6L250.7 439.2L275.7 438.9L300.7 438.7L325.7 438.6L350.7 438.5L375.7 438.5L400.7 438.4L425.7 438.4L450.7 438.3L475.7 438.2L500.7 438.1L525.7 438L550.7 437.9L575.7 437.7L600.7 437.6L625.7 437.5L650.7 437.5L675.7 437.7L700.7 437.9L725.7 438.2L750.7 438.7L775.7 439.3L800.7 440.1L825.7 440.8L850.7 441.5L875.7 442.4L900.7 443.4L925.7 444.4L950.7 445.1L975.7 445.3L1000.7 445L1025.7 444.2L1050.7 443.4L1075.7 442.1L1100.7 440.5L1100.9 440.5V603.2H175.7Z" fill="#a9e2b3"/><path d="M175.7 442.6L200.7 442.1L225.7 441.6L250.7 441.3L275.7 441L300.7 440.8L325.7 440.7L350.7 440.6L375.7 440.6L400.7 440.5L425.7 440.5L450.7 440.4L475.7 440.3L500.7 440.2L525.7 440.1L550.7 440L575.7 439.9L600.7 439.7L625.7 439.7L650.7 439.7L675.7 439.8L700.7 440L725.7 440.4L750.7 440.9L775.7 441.5L800.7 442.2L825.7 443L850.7 443.7L875.7 444.6L900.7 445.6L925.7 446.6L950.7 447.3L975.7 447.6L1000.7 447.2L1025.7 446.3L1050.7 445.5L1075.7 444.2L1100.7 442.6L1100.9 442.6V603.2H175.7Z" fill="#a6e1b5"/><path d="M175.7 444.6L200.7 444.2L225.7 443.7L250.7 443.3L275.7 443L300.7 442.9L325.7 442.8L350.7 442.7L375.7 442.7L400.7 442.6L425.7 442.6L450.7 442.5L475.7 442.4L500.7 442.3L525.7 442.2L550.7 442.1L575.7 442L600.7 441.9L625.7 441.8L650.7 441.8L675.7 442L700.7 442.2L725.7 442.5L750.7 443L775.7 443.6L800.7 444.4L825.7 445.2L850.7 445.9L875.7 446.8L900.7 447.9L925.7 448.8L950.7 449.5L975.7 449.8L1000.7 449.4L1025.7 448.5L1050.7 447.6L1075.7 446.2L1100.7 444.6L1100.9 444.6V603.2H175.7Z" fill="#a2dfb7"/><path d="M175.7 446.7L200.7 446.2L225.7 445.8L250.7 445.4L275.7 445.1L300.7 444.9L325.7 444.9L350.7 444.8L375.7 444.8L400.7 444.7L425.7 444.6L450.7 444.6L475.7 444.5L500.7 444.4L525.7 444.3L550.7 444.2L575.7 444.1L600.7 444L625.7 444L650.7 444L675.7 444.1L700.7 444.3L725.7 444.6L750.7 445.1L775.7 445.8L800.7 446.6L825.7 447.3L850.7 448.1L875.7 449L900.7 450.1L925.7 451L950.7 451.7L975.7 452L1000.7 451.6L1025.7 450.6L1050.7 449.7L1075.7 448.3L1100.7 446.7L1100.9 446.7V603.2H175.7Z" fill="#a0deb9"/><path d="M175.7 448.6L200.7 448L225.7 447.6L250.7 447.3L275.7 447L300.7 446.8L325.7 446.7L350.7 446.7L375.7 446.6L400.7 446.6L425.7 446.5L450.7 446.4L475.7 446.4L500.7 446.3L525.7 446.2L550.7 446.1L575.7 446.1L600.7 446L625.7 445.9L650.7 445.9L675.7 446L700.7 446.2L725.7 446.5L750.7 447.1L775.7 447.7L800.7 448.6L825.7 449.3L850.7 450.1L875.7 451L900.7 452L925.7 453.1L950.7 453.7L975.7 454L1000.7 453.5L1025.7 452.6L1050.7 451.6L1075.7 450.2L1100.7 448.6L1100.9 448.6V603.2H175.7Z" fill="#9dddba"/><path d="M175.7 449.9L200.7 449.4L225.7 449L250.7 448.6L275.7 448.4L300.7 448.2L325.7 448.1L350.7 448.1L375.7 448L400.7 448L425.7 447.9L450.7 447.9L475.7 447.8L500.7 447.7L525.7 447.7L550.7 447.6L575.7 447.5L600.7 447.4L625.7 447.3L650.7 447.3L675.7 447.5L700.7 447.6L725.7 447.9L750.7 448.5L775.7 449.2L800.7 450L825.7 450.8L850.7 451.5L875.7 452.5L900.7 453.5L925.7 454.5L950.7 455.2L975.7 455.5L1000.7 455L1025.7 454L1050.7 453L1075.7 451.6L1100.7 449.9L1100.9 449.9V603.2H175.7Z" fill="#9bdcbb"/><path d="M175.7 451.2L200.7 450.8L225.7 450.3L250.7 450L275.7 449.7L300.7 449.5L325.7 449.5L350.7 449.4L375.7 449.4L400.7 449.3L425.7 449.3L450.7 449.2L475.7 449.2L500.7 449.1L525.7 449L550.7 449L575.7 448.9L600.7 448.8L625.7 448.7L650.7 448.7L675.7 448.8L700.7 449L725.7 449.3L750.7 449.8L775.7 450.5L800.7 451.4L825.7 452.2L850.7 452.9L875.7 453.9L900.7 455L925.7 455.9L950.7 456.7L975.7 456.9L1000.7 456.4L1025.7 455.4L1050.7 454.3L1075.7 452.9L1100.7 451.2L1100.9 451.2V603.2H175.7Z" fill="#99dabd"/><path d="M175.7 452.5L200.7 452.1L225.7 451.7L250.7 451.3L275.7 451L300.7 450.9L325.7 450.8L350.7 450.8L375.7 450.7L400.7 450.7L425.7 450.6L450.7 450.6L475.7 450.5L500.7 450.5L525.7 450.4L550.7 450.3L575.7 450.2L600.7 450.1L625.7 450.1L650.7 450.1L675.7 450.2L700.7 450.4L725.7 450.6L750.7 451.2L775.7 451.9L800.7 452.8L825.7 453.6L850.7 454.4L875.7 455.3L900.7 456.4L925.7 457.4L950.7 458.1L975.7 458.3L1000.7 457.8L1025.7 456.8L1050.7 455.7L1075.7 454.2L1100.7 452.5L1100.9 452.5V603.2H175.7Z" fill="#96d8be"/><path d="M175.7 453.9L200.7 453.4L225.7 453L250.7 452.6L275.7 452.4L300.7 452.2L325.7 452.2L350.7 452.1L375.7 452.1L400.7 452L425.7 452L450.7 451.9L475.7 451.9L500.7 451.8L525.7 451.8L550.7 451.7L575.7 451.6L600.7 451.5L625.7 451.5L650.7 451.5L675.7 451.6L700.7 451.7L725.7 452L750.7 452.6L775.7 453.3L800.7 454.1L825.7 455L850.7 455.8L875.7 456.7L900.7 457.8L925.7 458.8L950.7 459.5L975.7 459.8L1000.7 459.2L1025.7 458.2L1050.7 457L1075.7 455.6L1100.7 453.9L1100.9 453.9V603.2H175.7Z" fill="#94d7bf"/><path d="M175.7 455.2L200.7 454.7L225.7 454.3L250.7 454L275.7 453.7L300.7 453.6L325.7 453.5L350.7 453.4L375.7 453.4L400.7 453.4L425.7 453.3L450.7 453.3L475.7 453.2L500.7 453.2L525.7 453.1L550.7 453.1L575.7 453L600.7 452.9L625.7 452.8L650.7 452.9L675.7 453L700.7 453.1L725.7 453.4L750.7 453.9L775.7 454.7L800.7 455.5L825.7 456.4L850.7 457.2L875.7 458.2L900.7 459.2L925.7 460.2L950.7 460.9L975.7 461.2L1000.7 460.7L1025.7 459.5L1050.7 458.4L1075.7 456.9L1100.7 455.2L1100.9 455.2V603.2H175.7Z" fill="#93d6c0"/><path d="M175.7 456.5L200.7 456L225.7 455.6L250.7 455.3L275.7 455L300.7 454.8L325.7 454.8L350.7 454.7L375.7 454.7L400.7 454.7L425.7 454.6L450.7 454.6L475.7 454.5L500.7 454.5L525.7 454.4L550.7 454.4L575.7 454.3L600.7 454.3L625.7 454.2L650.7 454.2L675.7 454.3L700.7 454.4L725.7 454.7L750.7 455.3L775.7 456L800.7 456.9L825.7 457.7L850.7 458.6L875.7 459.6L900.7 460.6L925.7 461.6L950.7 462.3L975.7 462.6L1000.7 462L1025.7 460.9L1050.7 459.8L1075.7 458.2L1100.7 456.5L1100.9 456.5V603.2H175.7Z" fill="#91d4c1"/><path d="M175.7 457.6L200.7 457.2L225.7 456.7L250.7 456.4L275.7 456.1L300.7 456L325.7 456L350.7 455.9L375.7 455.9L400.7 455.9L425.7 455.8L450.7 455.8L475.7 455.7L500.7 455.7L525.7 455.6L550.7 455.6L575.7 455.5L600.7 455.4L625.7 455.4L650.7 455.4L675.7 455.5L700.7 455.6L725.7 455.9L750.7 456.5L775.7 457.2L800.7 458.1L825.7 459L850.7 459.8L875.7 460.8L900.7 461.9L925.7 462.8L950.7 463.6L975.7 463.8L1000.7 463.3L1025.7 462.1L1050.7 460.9L1075.7 459.4L1100.7 457.6L1100.9 457.6V603.2H175.7Z" fill="#90d3c2"/><path d="M175.7 458.7L200.7 458.2L225.7 457.8L250.7 457.5L275.7 457.2L300.7 457.1L325.7 457L350.7 457L375.7 457L400.7 456.9L425.7 456.9L450.7 456.9L475.7 456.8L500.7 456.8L525.7 456.7L550.7 456.7L575.7 456.6L600.7 456.5L625.7 456.5L650.7 456.5L675.7 456.6L700.7 456.7L725.7 457L750.7 457.5L775.7 458.3L800.7 459.2L825.7 460.1L850.7 460.9L875.7 461.9L900.7 463L925.7 464L950.7 464.7L975.7 465L1000.7 464.4L1025.7 463.2L1050.7 462L1075.7 460.4L1100.7 458.7L1100.9 458.7V603.2H175.7Z" fill="#8fd1c3"/><path d="M175.7 459.7L200.7 459.3L225.7 458.9L250.7 458.5L275.7 458.3L300.7 458.1L325.7 458.1L350.7 458.1L375.7 458L400.7 458L425.7 458L450.7 457.9L475.7 457.9L500.7 457.8L525.7 457.8L550.7 457.7L575.7 457.7L600.7 457.6L625.7 457.6L650.7 457.6L675.7 457.7L700.7 457.8L725.7 458.1L750.7 458.6L775.7 459.4L800.7 460.3L825.7 461.2L850.7 462L875.7 463L900.7 464.1L925.7 465.1L950.7 465.8L975.7 466.1L1000.7 465.5L1025.7 464.3L1050.7 463.1L1075.7 461.5L1100.7 459.7L1100.9 459.7V603.2H175.7Z" fill="#8fd0c3"/><path d="M175.7 460.8L200.7 460.3L225.7 459.9L250.7 459.6L275.7 459.3L300.7 459.2L325.7 459.2L350.7 459.1L375.7 459.1L400.7 459.1L425.7 459.1L450.7 459L475.7 459L500.7 458.9L525.7 458.9L550.7 458.8L575.7 458.8L600.7 458.7L625.7 458.7L650.7 458.7L675.7 458.8L700.7 458.9L725.7 459.1L750.7 459.7L775.7 460.5L800.7 461.5L825.7 462.4L850.7 463.2L875.7 464.2L900.7 465.3L925.7 466.3L950.7 467L975.7 467.2L1000.7 466.6L1025.7 465.4L1050.7 464.1L1075.7 462.6L1100.7 460.8L1100.9 460.8V603.2H175.7Z" fill="#8fcec4"/><path d="M175.7 461.8L200.7 461.4L225.7 461L250.7 460.6L275.7 460.4L300.7 460.3L325.7 460.2L350.7 460.2L375.7 460.2L400.7 460.2L425.7 460.1L450.7 460.1L475.7 460.1L500.7 460L525.7 460L550.7 459.9L575.7 459.9L600.7 459.8L625.7 459.8L650.7 459.8L675.7 459.9L700.7 460L725.7 460.2L750.7 460.8L775.7 461.6L800.7 462.6L825.7 463.5L850.7 464.3L875.7 465.3L900.7 466.4L925.7 467.4L950.7 468.1L975.7 468.4L1000.7 467.8L1025.7 466.5L1050.7 465.2L1075.7 463.6L1100.7 461.8L1100.9 461.8V603.2H175.7Z" fill="#8fcdc4"/><path d="M175.7 462.9L200.7 462.5L225.7 462.1L250.7 461.7L275.7 461.5L300.7 461.3L325.7 461.3L350.7 461.3L375.7 461.3L400.7 461.2L425.7 461.2L450.7 461.2L475.7 461.1L500.7 461.1L525.7 461.1L550.7 461L575.7 461L600.7 460.9L625.7 460.9L650.7 460.9L675.7 461L700.7 461L725.7 461.3L750.7 461.9L775.7 462.8L800.7 463.7L825.7 464.6L850.7 465.4L875.7 466.4L900.7 467.5L925.7 468.5L950.7 469.3L975.7 469.5L1000.7 468.9L1025.7 467.6L1050.7 466.3L1075.7 464.7L1100.7 462.9L1100.9 462.9V603.2H175.7Z" fill="#8fccc5"/><path d="M175.7 464L200.7 463.5L225.7 463.1L250.7 462.8L275.7 462.5L300.7 462.4L325.7 462.4L350.7 462.4L375.7 462.3L400.7 462.3L425.7 462.3L450.7 462.3L475.7 462.2L500.7 462.2L525.7 462.2L550.7 462.1L575.7 462.1L600.7 462L625.7 462L650.7 462L675.7 462.1L700.7 462.1L725.7 462.4L750.7 463L775.7 463.9L800.7 464.8L825.7 465.7L850.7 466.6L875.7 467.6L900.7 468.7L925.7 469.7L950.7 470.4L975.7 470.7L1000.7 470L1025.7 468.7L1050.7 467.4L1075.7 465.8L1100.7 464L1100.9 464V603.2H175.7Z" fill="#8fcac5"/><path d="M175.7 465L200.7 464.6L225.7 464.2L250.7 463.8L275.7 463.6L300.7 463.5L325.7 463.4L350.7 463.4L375.7 463.4L400.7 463.4L425.7 463.3L450.7 463.3L475.7 463.3L500.7 463.3L525.7 463.2L550.7 463.2L575.7 463.2L600.7 463.1L625.7 463.1L650.7 463.1L675.7 463.2L700.7 463.2L725.7 463.5L750.7 464.1L775.7 464.9L800.7 465.9L825.7 466.8L850.7 467.7L875.7 468.7L900.7 469.8L925.7 470.8L950.7 471.5L975.7 471.8L1000.7 471.2L1025.7 469.8L1050.7 468.5L1075.7 466.8L1100.7 465L1100.9 465V603.2H175.7Z" fill="#90c8c6"/><path d="M175.7 466L200.7 465.6L225.7 465.2L250.7 464.8L275.7 464.6L300.7 464.5L325.7 464.5L350.7 464.4L375.7 464.4L400.7 464.4L425.7 464.4L450.7 464.4L475.7 464.3L500.7 464.3L525.7 464.3L550.7 464.2L575.7 464.2L600.7 464.2L625.7 464.1L650.7 464.1L675.7 464.2L700.7 464.3L725.7 464.5L750.7 465.2L775.7 466L800.7 467L825.7 467.9L850.7 468.8L875.7 469.8L900.7 470.9L925.7 471.9L950.7 472.6L975.7 472.9L1000.7 472.2L1025.7 470.9L1050.7 469.5L1075.7 467.9L1100.7 466L1100.9 466V603.2H175.7Z" fill="#90c7c6"/><path d="M175.7 467L200.7 466.6L225.7 466.2L250.7 465.8L275.7 465.6L300.7 465.5L325.7 465.5L350.7 465.4L375.7 465.4L400.7 465.4L425.7 465.4L450.7 465.4L475.7 465.3L500.7 465.3L525.7 465.3L550.7 465.3L575.7 465.2L600.7 465.2L625.7 465.2L650.7 465.2L675.7 465.2L700.7 465.3L725.7 465.5L750.7 466.2L775.7 467L800.7 468L825.7 469L850.7 469.8L875.7 470.8L900.7 471.9L925.7 472.9L950.7 473.7L975.7 473.9L1000.7 473.3L1025.7 471.9L1050.7 470.5L1075.7 468.8L1100.7 467L1100.9 467V603.2H175.7Z" fill="#91c5c6"/><path d="M175.7 468L200.7 467.5L225.7 467.1L250.7 466.8L275.7 466.6L300.7 466.5L325.7 466.4L350.7 466.4L375.7 466.4L400.7 466.4L425.7 466.4L450.7 466.4L475.7 466.3L500.7 466.3L525.7 466.3L550.7 466.3L575.7 466.2L600.7 466.2L625.7 466.2L650.7 466.2L675.7 466.2L700.7 466.3L725.7 466.6L750.7 467.2L775.7 468L800.7 469L825.7 470L850.7 470.9L875.7 471.9L900.7 473L925.7 474L950.7 474.7L975.7 475L1000.7 474.3L1025.7 472.9L1050.7 471.5L1075.7 469.8L1100.7 468L1100.9 468V603.2H175.7Z" fill="#91c4c6"/><path d="M175.7 468.9L200.7 468.5L225.7 468.1L250.7 467.8L275.7 467.6L300.7 467.5L325.7 467.4L350.7 467.4L375.7 467.4L400.7 467.4L425.7 467.4L450.7 467.4L475.7 467.3L500.7 467.3L525.7 467.3L550.7 467.3L575.7 467.2L600.7 467.2L625.7 467.2L650.7 467.2L675.7 467.2L700.7 467.3L725.7 467.6L750.7 468.2L775.7 469.1L800.7 470.1L825.7 471L850.7 471.9L875.7 472.9L900.7 474L925.7 475L950.7 475.8L975.7 476L1000.7 475.4L1025.7 473.9L1050.7 472.5L1075.7 470.8L1100.7 468.9L1100.9 468.9V603.2H175.7Z" fill="#92c2c6"/><path d="M175.7 469.9L200.7 469.5L225.7 469.1L250.7 468.8L275.7 468.5L300.7 468.4L325.7 468.4L350.7 468.4L375.7 468.4L400.7 468.4L425.7 468.4L450.7 468.4L475.7 468.3L500.7 468.3L525.7 468.3L550.7 468.3L575.7 468.3L600.7 468.2L625.7 468.2L650.7 468.2L675.7 468.3L700.7 468.3L725.7 468.6L750.7 469.2L775.7 470.1L800.7 471.1L825.7 472.1L850.7 473L875.7 474L900.7 475.1L925.7 476.1L950.7 476.8L975.7 477L1000.7 476.4L1025.7 475L1050.7 473.5L1075.7 471.8L1100.7 469.9L1100.9 469.9V603.2H175.7Z" fill="#92c1c7"/><path d="M175.7 470.9L200.7 470.5L225.7 470.1L250.7 469.8L275.7 469.5L300.7 469.4L325.7 469.4L350.7 469.4L375.7 469.4L400.7 469.4L425.7 469.4L450.7 469.4L475.7 469.3L500.7 469.3L525.7 469.3L550.7 469.3L575.7 469.3L600.7 469.3L625.7 469.2L650.7 469.2L675.7 469.3L700.7 469.3L725.7 469.6L750.7 470.2L775.7 471.1L800.7 472.1L825.7 473.1L850.7 474L875.7 475L900.7 476.1L925.7 477.1L950.7 477.8L975.7 478.1L1000.7 477.4L1025.7 476L1050.7 474.5L1075.7 472.8L1100.7 470.9L1100.9 470.9V603.2H175.7Z" fill="#93bfc7"/><path d="M175.7 471.9L200.7 471.5L225.7 471.1L250.7 470.8L275.7 470.5L300.7 470.4L325.7 470.4L350.7 470.4L375.7 470.4L400.7 470.4L425.7 470.4L450.7 470.4L475.7 470.4L500.7 470.4L525.7 470.3L550.7 470.3L575.7 470.3L600.7 470.3L625.7 470.3L650.7 470.3L675.7 470.3L700.7 470.3L725.7 470.6L750.7 471.2L775.7 472.2L800.7 473.2L825.7 474.2L850.7 475.1L875.7 476.1L900.7 477.1L925.7 478.1L950.7 478.8L975.7 479.1L1000.7 478.4L1025.7 477L1050.7 475.5L1075.7 473.8L1100.7 471.9L1100.9 471.9V603.2H175.7Z" fill="#93bec7"/><path d="M175.7 472.9L200.7 472.5L225.7 472.1L250.7 471.8L275.7 471.6L300.7 471.5L325.7 471.5L350.7 471.5L375.7 471.5L400.7 471.5L425.7 471.5L450.7 471.4L475.7 471.4L500.7 471.4L525.7 471.4L550.7 471.4L575.7 471.4L600.7 471.4L625.7 471.4L650.7 471.4L675.7 471.4L700.7 471.4L725.7 471.7L750.7 472.3L775.7 473.2L800.7 474.3L825.7 475.3L850.7 476.1L875.7 477.2L900.7 478.3L925.7 479.2L950.7 479.9L975.7 480.2L1000.7 479.5L1025.7 478.1L1050.7 476.6L1075.7 474.9L1100.7 472.9L1100.9 472.9V603.2H175.7Z" fill="#94bdc7"/><path d="M175.7 474L200.7 473.6L225.7 473.2L250.7 472.9L275.7 472.7L300.7 472.6L325.7 472.6L350.7 472.6L375.7 472.6L400.7 472.6L425.7 472.6L450.7 472.6L475.7 472.6L500.7 472.6L525.7 472.5L550.7 472.5L575.7 472.5L600.7 472.5L625.7 472.5L650.7 472.5L675.7 472.5L700.7 472.5L725.7 472.8L750.7 473.5L775.7 474.4L800.7 475.4L825.7 476.4L850.7 477.3L875.7 478.3L900.7 479.4L925.7 480.4L950.7 481.1L975.7 481.3L1000.7 480.7L1025.7 479.3L1050.7 477.8L1075.7 476L1100.7 474L1100.9 474V603.2H175.7Z" fill="#95bbc7"/><path d="M175.7 475.1L200.7 474.7L225.7 474.3L250.7 474L275.7 473.8L300.7 473.7L325.7 473.7L350.7 473.7L375.7 473.7L400.7 473.7L425.7 473.7L450.7 473.7L475.7 473.7L500.7 473.7L525.7 473.7L550.7 473.7L575.7 473.7L600.7 473.7L625.7 473.7L650.7 473.7L675.7 473.7L700.7 473.7L725.7 473.9L750.7 474.6L775.7 475.5L800.7 476.6L825.7 477.6L850.7 478.4L875.7 479.5L900.7 480.5L925.7 481.5L950.7 482.2L975.7 482.5L1000.7 481.8L1025.7 480.4L1050.7 478.9L1075.7 477.1L1100.7 475.1L1100.9 475.1V603.2H175.7Z" fill="#95b9c7"/><path d="M175.7 476.3L200.7 475.9L225.7 475.5L250.7 475.1L275.7 474.9L300.7 474.8L325.7 474.8L350.7 474.8L375.7 474.8L400.7 474.8L425.7 474.8L450.7 474.8L475.7 474.8L500.7 474.8L525.7 474.8L550.7 474.8L575.7 474.8L600.7 474.8L625.7 474.8L650.7 474.8L675.7 474.8L700.7 474.8L725.7 475.1L750.7 475.8L775.7 476.7L800.7 477.7L825.7 478.7L850.7 479.6L875.7 480.6L900.7 481.7L925.7 482.7L950.7 483.4L975.7 483.6L1000.7 483L1025.7 481.6L1050.7 480.1L1075.7 478.3L1100.7 476.3L1100.9 476.3V603.2H175.7Z" fill="#96b8c7"/><path d="M175.7 477.4L200.7 477L225.7 476.6L250.7 476.3L275.7 476L300.7 476L325.7 476L350.7 476L375.7 476L400.7 476L425.7 476L450.7 476L475.7 476L500.7 476L525.7 476L550.7 476L575.7 476L600.7 476L625.7 476L650.7 476L675.7 476L700.7 476L725.7 476.2L750.7 476.9L775.7 477.8L800.7 478.9L825.7 479.9L850.7 480.7L875.7 481.8L900.7 482.8L925.7 483.8L950.7 484.5L975.7 484.8L1000.7 484.1L1025.7 482.7L1050.7 481.2L1075.7 479.4L1100.7 477.4L1100.9 477.4V603.2H175.7Z" fill="#97b6c7"/><path d="M175.7 478.6L200.7 478.2L225.7 477.8L250.7 477.4L275.7 477.2L300.7 477.1L325.7 477.1L350.7 477.1L375.7 477.1L400.7 477.1L425.7 477.1L450.7 477.1L475.7 477.1L500.7 477.1L525.7 477.1L550.7 477.1L575.7 477.1L600.7 477.1L625.7 477.1L650.7 477.1L675.7 477.1L700.7 477.1L725.7 477.4L750.7 478.1L775.7 479L800.7 480L825.7 481L850.7 481.9L875.7 482.9L900.7 484L925.7 485L950.7 485.7L975.7 485.9L1000.7 485.3L1025.7 483.8L1050.7 482.4L1075.7 480.6L1100.7 478.6L1100.9 478.6V603.2H175.7Z" fill="#97b5c6"/><path d="M175.7 479.8L200.7 479.4L225.7 478.9L250.7 478.6L275.7 478.4L300.7 478.3L325.7 478.3L350.7 478.3L375.7 478.3L400.7 478.3L425.7 478.3L450.7 478.3L475.7 478.3L500.7 478.3L525.7 478.3L550.7 478.3L575.7 478.3L600.7 478.3L625.7 478.3L650.7 478.3L675.7 478.3L700.7 478.3L725.7 478.6L750.7 479.3L775.7 480.2L800.7 481.2L825.7 482.2L850.7 483.1L875.7 484.1L900.7 485.2L925.7 486.2L950.7 486.9L975.7 487.1L1000.7 486.5L1025.7 485L1050.7 483.6L1075.7 481.8L1100.7 479.8L1100.9 479.8V603.2H175.7Z" fill="#98b3c6"/><path d="M175.7 481.1L200.7 480.6L225.7 480.2L250.7 479.9L275.7 479.7L300.7 479.6L325.7 479.6L350.7 479.6L375.7 479.6L400.7 479.6L425.7 479.6L450.7 479.6L475.7 479.6L500.7 479.6L525.7 479.6L550.7 479.6L575.7 479.6L600.7 479.6L625.7 479.6L650.7 479.6L675.7 479.6L700.7 479.6L725.7 479.9L750.7 480.5L775.7 481.5L800.7 482.5L825.7 483.5L850.7 484.4L875.7 485.4L900.7 486.5L925.7 487.5L950.7 488.2L975.7 488.4L1000.7 487.8L1025.7 486.3L1050.7 484.9L1075.7 483.1L1100.7 481.1L1100.9 481.1V603.2H175.7Z" fill="#99b1c6"/><path d="M175.7 482.4L200.7 482L225.7 481.6L250.7 481.2L275.7 481L300.7 480.9L325.7 480.9L350.7 480.9L375.7 480.9L400.7 480.9L425.7 480.9L450.7 480.9L475.7 480.9L500.7 480.9L525.7 480.9L550.7 480.9L575.7 480.9L600.7 480.9L625.7 480.9L650.7 480.9L675.7 480.9L700.7 480.9L725.7 481.2L750.7 481.9L775.7 482.8L800.7 483.8L825.7 484.8L850.7 485.7L875.7 486.7L900.7 487.8L925.7 488.8L950.7 489.5L975.7 489.7L1000.7 489.1L1025.7 487.7L1050.7 486.2L1075.7 484.4L1100.7 482.4L1100.9 482.4V603.2H175.7Z" fill="#99b0c6"/><path d="M175.7 483.7L200.7 483.3L225.7 482.9L250.7 482.5L275.7 482.3L300.7 482.2L325.7 482.2L350.7 482.2L375.7 482.2L400.7 482.2L425.7 482.2L450.7 482.2L475.7 482.2L500.7 482.2L525.7 482.2L550.7 482.2L575.7 482.2L600.7 482.2L625.7 482.2L650.7 482.2L675.7 482.2L700.7 482.2L725.7 482.5L750.7 483.2L775.7 484.1L800.7 485.1L825.7 486.1L850.7 487L875.7 488L900.7 489.1L925.7 490.1L950.7 490.8L975.7 491.1L1000.7 490.4L1025.7 489L1050.7 487.5L1075.7 485.7L1100.7 483.7L1100.9 483.7V603.2H175.7Z" fill="#9aaec6"/><path d="M175.7 485L200.7 484.6L225.7 484.2L250.7 483.9L275.7 483.6L300.7 483.5L325.7 483.5L350.7 483.5L375.7 483.5L400.7 483.5L425.7 483.5L450.7 483.5L475.7 483.5L500.7 483.5L525.7 483.5L550.7 483.5L575.7 483.5L600.7 483.5L625.7 483.5L650.7 483.5L675.7 483.5L700.7 483.5L725.7 483.8L750.7 484.5L775.7 485.4L800.7 486.5L825.7 487.5L850.7 488.3L875.7 489.3L900.7 490.4L925.7 491.4L950.7 492.1L975.7 492.4L1000.7 491.7L1025.7 490.3L1050.7 488.8L1075.7 487L1100.7 485L1100.9 485V603.2H175.7Z" fill="#9badc6"/><path d="M175.7 486.4L200.7 485.9L225.7 485.5L250.7 485.2L275.7 485L300.7 484.9L325.7 484.9L350.7 484.9L375.7 484.9L400.7 484.9L425.7 484.9L450.7 484.9L475.7 484.9L500.7 484.9L525.7 484.9L550.7 484.9L575.7 484.9L600.7 484.9L625.7 484.9L650.7 484.9L675.7 484.9L700.7 484.9L725.7 485.2L750.7 485.8L775.7 486.8L800.7 487.8L825.7 488.8L850.7 489.7L875.7 490.7L900.7 491.7L925.7 492.7L950.7 493.5L975.7 493.7L1000.7 493L1025.7 491.6L1050.7 490.1L1075.7 488.3L1100.7 486.4L1100.9 486.4V603.2H175.7Z" fill="#9cabc5"/><path d="M175.7 488.1L200.7 487.6L225.7 487.2L250.7 486.9L275.7 486.7L300.7 486.6L325.7 486.6L350.7 486.6L375.7 486.6L400.7 486.6L425.7 486.6L450.7 486.6L475.7 486.6L500.7 486.6L525.7 486.6L550.7 486.6L575.7 486.6L600.7 486.6L625.7 486.6L650.7 486.6L675.7 486.6L700.7 486.6L725.7 486.9L750.7 487.5L775.7 488.5L800.7 489.5L825.7 490.5L850.7 491.4L875.7 492.4L900.7 493.5L925.7 494.4L950.7 495.2L975.7 495.4L1000.7 494.7L1025.7 493.3L1050.7 491.8L1075.7 490.1L1100.7 488.1L1100.9 488.1V603.2H175.7Z" fill="#9da9c5"/><path d="M175.7 490.1L200.7 489.6L225.7 489.2L250.7 488.9L275.7 488.7L300.7 488.6L325.7 488.6L350.7 488.6L375.7 488.6L400.7 488.6L425.7 488.6L450.7 488.6L475.7 488.6L500.7 488.6L525.7 488.6L550.7 488.6L575.7 488.6L600.7 488.6L625.7 488.6L650.7 488.6L675.7 488.6L700.7 488.6L725.7 488.9L750.7 489.5L775.7 490.5L800.7 491.5L825.7 492.5L850.7 493.4L875.7 494.4L900.7 495.5L925.7 496.5L950.7 497.2L975.7 497.4L1000.7 496.8L1025.7 495.3L1050.7 493.8L1075.7 492.1L1100.7 490.1L1100.9 490.1V603.2H175.7Z" fill="#9da8c5"/><path d="M175.7 492.1L200.7 491.6L225.7 491.2L250.7 490.9L275.7 490.7L300.7 490.6L325.7 490.6L350.7 490.6L375.7 490.6L400.7 490.6L425.7 490.6L450.7 490.6L475.7 490.6L500.7 490.6L525.7 490.6L550.7 490.6L575.7 490.6L600.7 490.6L625.7 490.6L650.7 490.6L675.7 490.6L700.7 490.6L725.7 490.9L750.7 491.5L775.7 492.5L800.7 493.5L825.7 494.5L850.7 495.4L875.7 496.4L900.7 497.5L925.7 498.5L950.7 499.2L975.7 499.4L1000.7 498.8L1025.7 497.3L1050.7 495.8L1075.7 494.1L1100.7 492.1L1100.9 492.1V603.2H175.7Z" fill="#9ea6c4"/><path d="M175.7 494.1L200.7 493.7L225.7 493.2L250.7 492.9L275.7 492.7L300.7 492.6L325.7 492.6L350.7 492.6L375.7 492.6L400.7 492.6L425.7 492.6L450.7 492.6L475.7 492.6L500.7 492.6L525.7 492.6L550.7 492.6L575.7 492.6L600.7 492.6L625.7 492.6L650.7 492.6L675.7 492.6L700.7 492.6L725.7 492.9L750.7 493.6L775.7 494.5L800.7 495.5L825.7 496.5L850.7 497.4L875.7 498.4L900.7 499.5L925.7 500.5L950.7 501.2L975.7 501.4L1000.7 500.8L1025.7 499.3L1050.7 497.9L1075.7 496.1L1100.7 494.1L1100.9 494.1V603.2H175.7Z" fill="#9fa4c4"/><path d="M175.7 497.4L200.7 497L225.7 496.6L250.7 496.2L275.7 496L300.7 495.9L325.7 495.9L350.7 495.9L375.7 495.9L400.7 495.9L425.7 495.9L450.7 495.9L475.7 495.9L500.7 495.9L525.7 495.9L550.7 495.9L575.7 495.9L600.7 495.9L625.7 495.9L650.7 495.9L675.7 495.9L700.7 495.9L725.7 496.2L750.7 496.9L775.7 497.8L800.7 498.8L825.7 499.8L850.7 500.7L875.7 501.7L900.7 502.8L925.7 503.8L950.7 504.5L975.7 504.8L1000.7 504.1L1025.7 502.7L1050.7 501.2L1075.7 499.4L1100.7 497.4L1100.9 497.4V603.2H175.7Z" fill="#a0a2c3"/><path d="M175.7 506.2L200.7 506.2L225.7 506.2L250.7 506.2L275.7 504.8L300.7 504.8L325.7 504.8L350.7 504.8L375.7 504.8L400.7 504.8L425.7 504.8L450.7 504.8L475.7 504.8L500.7 504.8L525.7 504.8L550.7 504.8L575.7 504.8L600.7 504.8L625.7 504.8L650.7 504.8L675.7 504.8L700.7 504.8L725.7 504.8L750.7 506.2L775.7 507.7L800.7 507.7L825.7 509.1L850.7 510.6L875.7 510.6L900.7 512L925.7 513.5L950.7 513.5L975.7 513.5L1000.7 513.5L1025.7 512L1050.7 510.6L1075.7 509.1L1100.7 506.2L1100.9 506.2V603.2H175.7Z" fill="#a0a0c3"/></g>
<g clip-path="url(#c2)"><rect x="170" y="647.5" width="940" height="250" fill="#fdf391"/><path d="M175.7 654.5L200.7 654.5L225.7 654.5L250.7 654.5L275.7 654.5L300.7 654.5L325.7 654.5L350.7 654.5L375.7 654.5L400.7 654.5L425.7 654.5L450.7 654.5L475.7 654.5L500.7 654.5L525.7 654.5L550.7 654.5L575.7 654.5L600.7 654.5L625.7 654.5L650.7 654.5L675.7 654.5L700.7 654.5L725.7 654.5L750.7 654.5L775.7 654.5L800.7 654.5L825.7 654.5L850.7 654.5L875.7 654.5L900.7 654.5L925.7 654.5L950.7 654.5L975.7 654.5L1000.7 654.5L1025.7 654.5L1050.7 654.5L1075.7 654.5L1100.7 654.5L1100.9 654.5V897.5H175.7Z" fill="#f9f28f"/><path d="M175.7 654.5L200.7 654.5L225.7 654.5L250.7 654.5L275.7 654.5L300.7 654.5L325.7 654.5L350.7 654.5L375.7 654.5L400.7 654.5L425.7 654.5L450.7 654.5L475.7 654.5L500.7 654.5L525.7 654.5L550.7 654.5L575.7 654.5L600.7 654.5L625.7 654.5L650.7 654.5L675.7 654.5L700.7 654.5L725.7 654.5L750.7 654.5L775.7 654.5L800.7 654.5L825.7 654.5L850.7 654.5L875.7 654.5L900.7 654.5L925.7 654.5L950.7 654.5L975.7 654.5L1000.7 654.5L1025.7 654.5L1050.7 654.5L1075.7 654.5L1100.7 654.5L1100.9 654.5V897.5H175.7Z" fill="#f6f28d"/><path d="M175.7 693.3L200.7 692.8L225.7 692.2L250.7 691.7L275.7 691.4L300.7 691.1L325.7 691L350.7 690.8L375.7 690.7L400.7 690.5L425.7 690.4L450.7 690.2L475.7 690.1L500.7 689.9L525.7 689.8L550.7 689.6L575.7 689.3L600.7 689L625.7 688.9L650.7 688.9L675.7 689.3L700.7 689.7L725.7 690L750.7 690.3L775.7 690.7L800.7 691.2L825.7 691.5L850.7 692.1L875.7 692.9L900.7 693.8L925.7 694.6L950.7 695.3L975.7 695.6L1000.7 695.6L1025.7 695.6L1050.7 695.5L1075.7 694.5L1100.7 693.3L1100.9 693.3V897.5H175.7Z" fill="#f0f18c"/><path d="M175.7 695.9L200.7 695.4L225.7 694.8L250.7 694.4L275.7 694L300.7 693.7L325.7 693.5L350.7 693.4L375.7 693.3L400.7 693.2L425.7 693L450.7 692.9L475.7 692.7L500.7 692.5L525.7 692.3L550.7 692.2L575.7 691.9L600.7 691.7L625.7 691.5L650.7 691.6L675.7 691.9L700.7 692.3L725.7 692.6L750.7 692.9L775.7 693.3L800.7 693.7L825.7 694.2L850.7 694.7L875.7 695.5L900.7 696.4L925.7 697.2L950.7 697.9L975.7 698.1L1000.7 698.1L1025.7 698.1L1050.7 698L1075.7 697.2L1100.7 695.9L1100.9 695.9V897.5H175.7Z" fill="#edf18c"/><path d="M175.7 698.5L200.7 697.9L225.7 697.4L250.7 696.9L275.7 696.6L300.7 696.3L325.7 696.1L350.7 696L375.7 695.8L400.7 695.7L425.7 695.6L450.7 695.5L475.7 695.3L500.7 695.1L525.7 694.9L550.7 694.7L575.7 694.5L600.7 694.3L625.7 694.1L650.7 694.1L675.7 694.4L700.7 694.8L725.7 695.2L750.7 695.5L775.7 695.9L800.7 696.3L825.7 696.7L850.7 697.3L875.7 698L900.7 699L925.7 699.8L950.7 700.5L975.7 700.7L1000.7 700.7L1025.7 700.7L1050.7 700.6L1075.7 699.8L1100.7 698.5L1100.9 698.5V897.5H175.7Z" fill="#e9f08d"/><path d="M175.7 701.1L200.7 700.5L225.7 700L250.7 699.5L275.7 699.1L300.7 698.9L325.7 698.7L350.7 698.5L375.7 698.4L400.7 698.3L425.7 698.2L450.7 698L475.7 697.9L500.7 697.7L525.7 697.5L550.7 697.3L575.7 697.1L600.7 696.8L625.7 696.7L650.7 696.7L675.7 697L700.7 697.4L725.7 697.7L750.7 698.1L775.7 698.5L800.7 698.9L825.7 699.3L850.7 699.8L875.7 700.6L900.7 701.5L925.7 702.4L950.7 703L975.7 703.3L1000.7 703.3L1025.7 703.3L1050.7 703.2L1075.7 702.3L1100.7 701.1L1100.9 701.1V897.5H175.7Z" fill="#e5f08f"/><path d="M175.7 703.6L200.7 703L225.7 702.5L250.7 702L275.7 701.6L300.7 701.4L325.7 701.2L350.7 701.1L375.7 701L400.7 700.8L425.7 700.7L450.7 700.5L475.7 700.4L500.7 700.2L525.7 700L550.7 699.8L575.7 699.6L600.7 699.4L625.7 699.2L650.7 699.2L675.7 699.6L700.7 699.9L725.7 700.3L750.7 700.6L775.7 701L800.7 701.4L825.7 701.8L850.7 702.4L875.7 703.1L900.7 704.1L925.7 705L950.7 705.6L975.7 705.9L1000.7 705.9L1025.7 705.8L1050.7 705.7L1075.7 704.8L1100.7 703.6L1100.9 703.6V897.5H175.7Z" fill="#e1ef91"/><path d="M175.7 705.8L200.7 705.3L225.7 704.8L250.7 704.3L275.7 704L300.7 703.7L325.7 703.5L350.7 703.4L375.7 703.3L400.7 703.2L425.7 703L450.7 702.9L475.7 702.7L500.7 702.5L525.7 702.4L550.7 702.2L575.7 701.9L600.7 701.7L625.7 701.5L650.7 701.6L675.7 701.9L700.7 702.3L725.7 702.6L750.7 703L775.7 703.3L800.7 703.8L825.7 704.2L850.7 704.8L875.7 705.6L900.7 706.5L925.7 707.4L950.7 708.1L975.7 708.3L1000.7 708.3L1025.7 708.2L1050.7 708L1075.7 707.1L1100.7 705.8L1100.9 705.8V897.5H175.7Z" fill="#dbee94"/><path d="M175.7 708.1L200.7 707.5L225.7 707L250.7 706.6L275.7 706.2L300.7 706L325.7 705.8L350.7 705.7L375.7 705.6L400.7 705.5L425.7 705.3L450.7 705.2L475.7 705L500.7 704.9L525.7 704.7L550.7 704.5L575.7 704.3L600.7 704L625.7 703.9L650.7 703.9L675.7 704.2L700.7 704.6L725.7 704.9L750.7 705.3L775.7 705.7L800.7 706.1L825.7 706.6L850.7 707.2L875.7 708L900.7 708.9L925.7 709.8L950.7 710.5L975.7 710.7L1000.7 710.7L1025.7 710.5L1050.7 710.3L1075.7 709.3L1100.7 708.1L1100.9 708.1V897.5H175.7Z" fill="#d7ee97"/><path d="M175.7 710.3L200.7 709.8L225.7 709.3L250.7 708.8L275.7 708.5L300.7 708.2L325.7 708.1L350.7 708L375.7 707.8L400.7 707.7L425.7 707.6L450.7 707.5L475.7 707.3L500.7 707.2L525.7 707L550.7 706.8L575.7 706.6L600.7 706.4L625.7 706.2L650.7 706.3L675.7 706.6L700.7 706.9L725.7 707.2L750.7 707.6L775.7 708L800.7 708.5L825.7 709L850.7 709.6L875.7 710.4L900.7 711.3L925.7 712.2L950.7 712.9L975.7 713.2L1000.7 713.1L1025.7 712.8L1050.7 712.5L1075.7 711.6L1100.7 710.3L1100.9 710.3V897.5H175.7Z" fill="#d3ed99"/><path d="M175.7 712.5L200.7 712L225.7 711.5L250.7 711.1L275.7 710.7L300.7 710.5L325.7 710.3L350.7 710.2L375.7 710.1L400.7 710L425.7 709.9L450.7 709.8L475.7 709.6L500.7 709.5L525.7 709.3L550.7 709.1L575.7 708.9L600.7 708.7L625.7 708.6L650.7 708.6L675.7 708.9L700.7 709.2L725.7 709.6L750.7 709.9L775.7 710.4L800.7 710.8L825.7 711.4L850.7 712L875.7 712.8L900.7 713.7L925.7 714.6L950.7 715.3L975.7 715.6L1000.7 715.4L1025.7 715.2L1050.7 714.8L1075.7 713.9L1100.7 712.5L1100.9 712.5V897.5H175.7Z" fill="#cfec9c"/><path d="M175.7 714.6L200.7 714.1L225.7 713.6L250.7 713.2L275.7 712.9L300.7 712.6L325.7 712.5L350.7 712.4L375.7 712.3L400.7 712.2L425.7 712.1L450.7 711.9L475.7 711.8L500.7 711.6L525.7 711.5L550.7 711.3L575.7 711.1L600.7 710.9L625.7 710.8L650.7 710.8L675.7 711.1L700.7 711.4L725.7 711.7L750.7 712.1L775.7 712.6L800.7 713.1L825.7 713.6L850.7 714.2L875.7 715L900.7 716L925.7 716.9L950.7 717.6L975.7 717.8L1000.7 717.7L1025.7 717.4L1050.7 717L1075.7 716L1100.7 714.6L1100.9 714.6V897.5H175.7Z" fill="#cbec9f"/><path d="M175.7 716.7L200.7 716.2L225.7 715.7L250.7 715.3L275.7 714.9L300.7 714.7L325.7 714.5L350.7 714.4L375.7 714.3L400.7 714.3L425.7 714.2L450.7 714L475.7 713.9L500.7 713.7L525.7 713.6L550.7 713.4L575.7 713.2L600.7 713L625.7 712.9L650.7 712.9L675.7 713.2L700.7 713.5L725.7 713.8L750.7 714.2L775.7 714.7L800.7 715.2L825.7 715.8L850.7 716.4L875.7 717.2L900.7 718.2L925.7 719.1L950.7 719.8L975.7 720.1L1000.7 719.9L1025.7 719.5L1050.7 719.1L1075.7 718.1L1100.7 716.7L1100.9 716.7V897.5H175.7Z" fill="#c6eba2"/><path d="M175.7 718.7L200.7 718.2L225.7 717.7L250.7 717.3L275.7 717L300.7 716.8L325.7 716.6L350.7 716.5L375.7 716.4L400.7 716.3L425.7 716.2L450.7 716.1L475.7 716L500.7 715.8L525.7 715.7L550.7 715.6L575.7 715.4L600.7 715.2L625.7 715L650.7 715.1L675.7 715.3L700.7 715.6L725.7 715.9L750.7 716.4L775.7 716.8L800.7 717.4L825.7 718L850.7 718.6L875.7 719.4L900.7 720.4L925.7 721.3L950.7 722L975.7 722.3L1000.7 722.1L1025.7 721.7L1050.7 721.2L1075.7 720.1L1100.7 718.7L1100.9 718.7V897.5H175.7Z" fill="#c3eaa4"/><path d="M175.7 720.8L200.7 720.3L225.7 719.8L250.7 719.4L275.7 719.1L300.7 718.8L325.7 718.7L350.7 718.6L375.7 718.5L400.7 718.4L425.7 718.3L450.7 718.2L475.7 718.1L500.7 718L525.7 717.8L550.7 717.7L575.7 717.5L600.7 717.3L625.7 717.2L650.7 717.2L675.7 717.5L700.7 717.7L725.7 718.1L750.7 718.5L775.7 719L800.7 719.6L825.7 720.2L850.7 720.8L875.7 721.6L900.7 722.6L925.7 723.6L950.7 724.2L975.7 724.5L1000.7 724.3L1025.7 723.8L1050.7 723.3L1075.7 722.2L1100.7 720.8L1100.9 720.8V897.5H175.7Z" fill="#bfe9a7"/><path d="M175.7 722.9L200.7 722.4L225.7 721.9L250.7 721.5L275.7 721.1L300.7 720.9L325.7 720.8L350.7 720.7L375.7 720.7L400.7 720.6L425.7 720.5L450.7 720.4L475.7 720.3L500.7 720.1L525.7 720L550.7 719.8L575.7 719.6L600.7 719.5L625.7 719.4L650.7 719.4L675.7 719.6L700.7 719.9L725.7 720.3L750.7 720.7L775.7 721.2L800.7 721.8L825.7 722.4L850.7 723L875.7 723.9L900.7 724.9L925.7 725.8L950.7 726.5L975.7 726.7L1000.7 726.5L1025.7 726L1050.7 725.4L1075.7 724.3L1100.7 722.9L1100.9 722.9V897.5H175.7Z" fill="#bbe8a9"/><path d="M175.7 725.3L200.7 724.8L225.7 724.3L250.7 723.9L275.7 723.6L300.7 723.4L325.7 723.3L350.7 723.2L375.7 723.1L400.7 723L425.7 723L450.7 722.9L475.7 722.7L500.7 722.6L525.7 722.5L550.7 722.4L575.7 722.2L600.7 722L625.7 721.9L650.7 721.9L675.7 722.2L700.7 722.4L725.7 722.7L750.7 723.2L775.7 723.7L800.7 724.3L825.7 725L850.7 725.6L875.7 726.5L900.7 727.5L925.7 728.4L950.7 729.1L975.7 729.4L1000.7 729.1L1025.7 728.6L1050.7 727.9L1075.7 726.8L1100.7 725.3L1100.9 725.3V897.5H175.7Z" fill="#b8e7ab"/><path d="M175.7 727.8L200.7 727.3L225.7 726.8L250.7 726.4L275.7 726.1L300.7 725.9L325.7 725.8L350.7 725.7L375.7 725.6L400.7 725.6L425.7 725.5L450.7 725.4L475.7 725.3L500.7 725.1L525.7 725L550.7 724.9L575.7 724.7L600.7 724.6L625.7 724.5L650.7 724.5L675.7 724.7L700.7 725L725.7 725.3L750.7 725.7L775.7 726.3L800.7 726.9L825.7 727.6L850.7 728.3L875.7 729.1L900.7 730.2L925.7 731.1L950.7 731.8L975.7 732L1000.7 731.7L1025.7 731.1L1050.7 730.5L1075.7 729.3L1100.7 727.8L1100.9 727.8V897.5H175.7Z" fill="#b3e6ae"/><path d="M175.7 730.2L200.7 729.8L225.7 729.3L250.7 728.9L275.7 728.6L300.7 728.4L325.7 728.3L350.7 728.2L375.7 728.1L400.7 728.1L425.7 728L450.7 727.9L475.7 727.8L500.7 727.7L525.7 727.6L550.7 727.5L575.7 727.3L600.7 727.2L625.7 727.1L650.7 727.1L675.7 727.3L700.7 727.5L725.7 727.8L750.7 728.3L775.7 728.9L800.7 729.5L825.7 730.2L850.7 730.9L875.7 731.8L900.7 732.8L925.7 733.8L950.7 734.5L975.7 734.7L1000.7 734.4L1025.7 733.7L1050.7 733L1075.7 731.8L1100.7 730.2L1100.9 730.2V897.5H175.7Z" fill="#b0e4b0"/><path d="M175.7 732.7L200.7 732.2L225.7 731.7L250.7 731.3L275.7 731.1L300.7 730.8L325.7 730.7L350.7 730.7L375.7 730.6L400.7 730.5L425.7 730.4L450.7 730.4L475.7 730.3L500.7 730.2L525.7 730.1L550.7 730L575.7 729.8L600.7 729.7L625.7 729.6L650.7 729.6L675.7 729.8L700.7 730L725.7 730.3L750.7 730.8L775.7 731.4L800.7 732.1L825.7 732.8L850.7 733.5L875.7 734.4L900.7 735.5L925.7 736.4L950.7 737.1L975.7 737.3L1000.7 737L1025.7 736.2L1050.7 735.5L1075.7 734.2L1100.7 732.7L1100.9 732.7V897.5H175.7Z" fill="#ace3b2"/><path d="M175.7 734.8L200.7 734.3L225.7 733.8L250.7 733.4L275.7 733.1L300.7 733L325.7 732.9L350.7 732.8L375.7 732.7L400.7 732.7L425.7 732.6L450.7 732.5L475.7 732.4L500.7 732.3L525.7 732.2L550.7 732.1L575.7 732L600.7 731.9L625.7 731.8L650.7 731.8L675.7 732L700.7 732.2L725.7 732.5L750.7 733L775.7 733.6L800.7 734.3L825.7 735L850.7 735.7L875.7 736.7L900.7 737.7L925.7 738.6L950.7 739.3L975.7 739.6L1000.7 739.2L1025.7 738.4L1050.7 737.6L1075.7 736.3L1100.7 734.8L1100.9 734.8V897.5H175.7Z" fill="#a9e2b3"/><path d="M175.7 736.8L200.7 736.3L225.7 735.9L250.7 735.5L275.7 735.2L300.7 735L325.7 735L350.7 734.9L375.7 734.8L400.7 734.8L425.7 734.7L450.7 734.6L475.7 734.5L500.7 734.4L525.7 734.3L550.7 734.2L575.7 734.1L600.7 734L625.7 733.9L650.7 733.9L675.7 734.1L700.7 734.3L725.7 734.6L750.7 735.1L775.7 735.7L800.7 736.5L825.7 737.2L850.7 737.9L875.7 738.9L900.7 739.9L925.7 740.9L950.7 741.6L975.7 741.8L1000.7 741.4L1025.7 740.6L1050.7 739.7L1075.7 738.4L1100.7 736.8L1100.9 736.8V897.5H175.7Z" fill="#a6e1b5"/><path d="M175.7 738.9L200.7 738.4L225.7 738L250.7 737.6L275.7 737.3L300.7 737.1L325.7 737L350.7 737L375.7 736.9L400.7 736.9L425.7 736.8L450.7 736.7L475.7 736.6L500.7 736.6L525.7 736.5L550.7 736.4L575.7 736.3L600.7 736.1L625.7 736.1L650.7 736.1L675.7 736.2L700.7 736.4L725.7 736.7L750.7 737.2L775.7 737.9L800.7 738.6L825.7 739.4L850.7 740.1L875.7 741.1L900.7 742.1L925.7 743.1L950.7 743.8L975.7 744L1000.7 743.6L1025.7 742.7L1050.7 741.8L1075.7 740.5L1100.7 738.9L1100.9 738.9V897.5H175.7Z" fill="#a2dfb7"/><path d="M175.7 740.9L200.7 740.5L225.7 740L250.7 739.6L275.7 739.4L300.7 739.2L325.7 739.1L350.7 739.1L375.7 739L400.7 739L425.7 738.9L450.7 738.8L475.7 738.8L500.7 738.7L525.7 738.6L550.7 738.5L575.7 738.4L600.7 738.3L625.7 738.2L650.7 738.2L675.7 738.4L700.7 738.5L725.7 738.8L750.7 739.4L775.7 740L800.7 740.8L825.7 741.6L850.7 742.3L875.7 743.3L900.7 744.3L925.7 745.3L950.7 746L975.7 746.3L1000.7 745.8L1025.7 744.9L1050.7 743.9L1075.7 742.6L1100.7 740.9L1100.9 740.9V897.5H175.7Z" fill="#a0deb9"/><path d="M175.7 742.8L200.7 742.3L225.7 741.9L250.7 741.6L275.7 741.3L300.7 741.1L325.7 741L350.7 740.9L375.7 740.9L400.7 740.8L425.7 740.7L450.7 740.7L475.7 740.6L500.7 740.5L525.7 740.5L550.7 740.4L575.7 740.3L600.7 740.2L625.7 740.2L650.7 740.2L675.7 740.3L700.7 740.4L725.7 740.7L750.7 741.3L775.7 741.9L800.7 742.8L825.7 743.5L850.7 744.4L875.7 745.2L900.7 746.3L925.7 747.3L950.7 748L975.7 748.3L1000.7 747.8L1025.7 746.8L1050.7 745.9L1075.7 744.5L1100.7 742.8L1100.9 742.8V897.5H175.7Z" fill="#9dddba"/><path d="M175.7 744.2L200.7 743.7L225.7 743.3L250.7 742.9L275.7 742.6L300.7 742.5L325.7 742.4L350.7 742.3L375.7 742.3L400.7 742.2L425.7 742.2L450.7 742.1L475.7 742.1L500.7 742L525.7 741.9L550.7 741.8L575.7 741.7L600.7 741.6L625.7 741.6L650.7 741.6L675.7 741.7L700.7 741.9L725.7 742.2L750.7 742.7L775.7 743.4L800.7 744.2L825.7 745L850.7 745.8L875.7 746.7L900.7 747.8L925.7 748.8L950.7 749.5L975.7 749.7L1000.7 749.3L1025.7 748.3L1050.7 747.2L1075.7 745.8L1100.7 744.2L1100.9 744.2V897.5H175.7Z" fill="#9bdcbb"/><path d="M175.7 745.5L200.7 745L225.7 744.6L250.7 744.2L275.7 743.9L300.7 743.8L325.7 743.7L350.7 743.7L375.7 743.6L400.7 743.6L425.7 743.5L450.7 743.5L475.7 743.4L500.7 743.3L525.7 743.3L550.7 743.2L575.7 743.1L600.7 743L625.7 743L650.7 743L675.7 743.1L700.7 743.2L725.7 743.5L750.7 744.1L775.7 744.8L800.7 745.6L825.7 746.4L850.7 747.2L875.7 748.2L900.7 749.2L925.7 750.2L950.7 750.9L975.7 751.2L1000.7 750.7L1025.7 749.7L1050.7 748.6L1075.7 747.2L1100.7 745.5L1100.9 745.5V897.5H175.7Z" fill="#99dabd"/><path d="M175.7 746.8L200.7 746.3L225.7 745.9L250.7 745.5L275.7 745.3L300.7 745.1L325.7 745.1L350.7 745L375.7 745L400.7 744.9L425.7 744.9L450.7 744.8L475.7 744.8L500.7 744.7L525.7 744.6L550.7 744.6L575.7 744.5L600.7 744.4L625.7 744.3L650.7 744.3L675.7 744.5L700.7 744.6L725.7 744.9L750.7 745.4L775.7 746.2L800.7 747L825.7 747.8L850.7 748.6L875.7 749.6L900.7 750.6L925.7 751.6L950.7 752.3L975.7 752.6L1000.7 752.1L1025.7 751L1050.7 749.9L1075.7 748.5L1100.7 746.8L1100.9 746.8V897.5H175.7Z" fill="#96d8be"/><path d="M175.7 748.1L200.7 747.7L225.7 747.2L250.7 746.9L275.7 746.6L300.7 746.5L325.7 746.4L350.7 746.4L375.7 746.3L400.7 746.3L425.7 746.2L450.7 746.2L475.7 746.1L500.7 746.1L525.7 746L550.7 745.9L575.7 745.9L600.7 745.8L625.7 745.7L650.7 745.7L675.7 745.8L700.7 746L725.7 746.3L750.7 746.8L775.7 747.6L800.7 748.4L825.7 749.2L850.7 750L875.7 751L900.7 752.1L925.7 753L950.7 753.8L975.7 754L1000.7 753.5L1025.7 752.4L1050.7 751.3L1075.7 749.8L1100.7 748.1L1100.9 748.1V897.5H175.7Z" fill="#94d7bf"/><path d="M175.7 749.4L200.7 749L225.7 748.6L250.7 748.2L275.7 747.9L300.7 747.8L325.7 747.7L350.7 747.7L375.7 747.7L400.7 747.6L425.7 747.6L450.7 747.5L475.7 747.5L500.7 747.4L525.7 747.4L550.7 747.3L575.7 747.2L600.7 747.1L625.7 747.1L650.7 747.1L675.7 747.2L700.7 747.3L725.7 747.6L750.7 748.2L775.7 748.9L800.7 749.8L825.7 750.6L850.7 751.4L875.7 752.4L900.7 753.5L925.7 754.5L950.7 755.2L975.7 755.4L1000.7 754.9L1025.7 753.8L1050.7 752.7L1075.7 751.2L1100.7 749.4L1100.9 749.4V897.5H175.7Z" fill="#93d6c0"/><path d="M175.7 750.7L200.7 750.3L225.7 749.9L250.7 749.5L275.7 749.2L300.7 749.1L325.7 749L350.7 749L375.7 749L400.7 748.9L425.7 748.9L450.7 748.8L475.7 748.8L500.7 748.7L525.7 748.7L550.7 748.6L575.7 748.6L600.7 748.5L625.7 748.5L650.7 748.5L675.7 748.6L700.7 748.7L725.7 748.9L750.7 749.5L775.7 750.3L800.7 751.2L825.7 752L850.7 752.9L875.7 753.8L900.7 754.9L925.7 755.9L950.7 756.6L975.7 756.9L1000.7 756.3L1025.7 755.1L1050.7 754L1075.7 752.5L1100.7 750.7L1100.9 750.7V897.5H175.7Z" fill="#91d4c1"/><path d="M175.7 751.9L200.7 751.4L225.7 751L250.7 750.6L275.7 750.4L300.7 750.3L325.7 750.2L350.7 750.2L375.7 750.1L400.7 750.1L425.7 750.1L450.7 750L475.7 750L500.7 749.9L525.7 749.9L550.7 749.8L575.7 749.7L600.7 749.7L625.7 749.6L650.7 749.6L675.7 749.7L700.7 749.8L725.7 750.1L750.7 750.7L775.7 751.5L800.7 752.4L825.7 753.2L850.7 754L875.7 755L900.7 756.1L925.7 757.1L950.7 757.8L975.7 758.1L1000.7 757.5L1025.7 756.3L1050.7 755.1L1075.7 753.6L1100.7 751.9L1100.9 751.9V897.5H175.7Z" fill="#90d3c2"/><path d="M175.7 752.9L200.7 752.5L225.7 752.1L250.7 751.7L275.7 751.5L300.7 751.3L325.7 751.3L350.7 751.2L375.7 751.2L400.7 751.2L425.7 751.1L450.7 751.1L475.7 751.1L500.7 751L525.7 751L550.7 750.9L575.7 750.8L600.7 750.8L625.7 750.7L650.7 750.7L675.7 750.8L700.7 750.9L725.7 751.2L750.7 751.8L775.7 752.6L800.7 753.5L825.7 754.4L850.7 755.2L875.7 756.2L900.7 757.2L925.7 758.2L950.7 758.9L975.7 759.2L1000.7 758.6L1025.7 757.4L1050.7 756.2L1075.7 754.7L1100.7 752.9L1100.9 752.9V897.5H175.7Z" fill="#8fd1c3"/><path d="M175.7 754L200.7 753.5L225.7 753.1L250.7 752.8L275.7 752.5L300.7 752.4L325.7 752.3L350.7 752.3L375.7 752.3L400.7 752.3L425.7 752.2L450.7 752.2L475.7 752.1L500.7 752.1L525.7 752L550.7 752L575.7 751.9L600.7 751.9L625.7 751.8L650.7 751.8L675.7 751.9L700.7 752L725.7 752.3L750.7 752.9L775.7 753.7L800.7 754.6L825.7 755.5L850.7 756.3L875.7 757.3L900.7 758.4L925.7 759.4L950.7 760.1L975.7 760.4L1000.7 759.8L1025.7 758.5L1050.7 757.3L1075.7 755.8L1100.7 754L1100.9 754V897.5H175.7Z" fill="#8fd0c3"/><path d="M175.7 755L200.7 754.6L225.7 754.2L250.7 753.8L275.7 753.6L300.7 753.5L325.7 753.4L350.7 753.4L375.7 753.4L400.7 753.3L425.7 753.3L450.7 753.3L475.7 753.2L500.7 753.2L525.7 753.1L550.7 753.1L575.7 753L600.7 753L625.7 752.9L650.7 752.9L675.7 753L700.7 753.1L725.7 753.4L750.7 754L775.7 754.8L800.7 755.7L825.7 756.6L850.7 757.4L875.7 758.4L900.7 759.5L925.7 760.5L950.7 761.2L975.7 761.5L1000.7 760.9L1025.7 759.7L1050.7 758.4L1075.7 756.8L1100.7 755L1100.9 755V897.5H175.7Z" fill="#8fcec4"/><path d="M175.7 756.1L200.7 755.7L225.7 755.2L250.7 754.9L275.7 754.6L300.7 754.5L325.7 754.5L350.7 754.5L375.7 754.4L400.7 754.4L425.7 754.4L450.7 754.3L475.7 754.3L500.7 754.3L525.7 754.2L550.7 754.2L575.7 754.1L600.7 754.1L625.7 754L650.7 754L675.7 754.1L700.7 754.2L725.7 754.5L750.7 755.1L775.7 755.9L800.7 756.8L825.7 757.7L850.7 758.6L875.7 759.6L900.7 760.7L925.7 761.6L950.7 762.4L975.7 762.6L1000.7 762L1025.7 760.8L1050.7 759.5L1075.7 757.9L1100.7 756.1L1100.9 756.1V897.5H175.7Z" fill="#8fcdc4"/><path d="M175.7 757.2L200.7 756.7L225.7 756.3L250.7 756L275.7 755.7L300.7 755.6L325.7 755.6L350.7 755.5L375.7 755.5L400.7 755.5L425.7 755.5L450.7 755.4L475.7 755.4L500.7 755.4L525.7 755.3L550.7 755.3L575.7 755.2L600.7 755.2L625.7 755.1L650.7 755.2L675.7 755.2L700.7 755.3L725.7 755.6L750.7 756.2L775.7 757L800.7 757.9L825.7 758.9L850.7 759.7L875.7 760.7L900.7 761.8L925.7 762.8L950.7 763.5L975.7 763.8L1000.7 763.2L1025.7 761.9L1050.7 760.6L1075.7 759L1100.7 757.2L1100.9 757.2V897.5H175.7Z" fill="#8fccc5"/><path d="M175.7 758.2L200.7 757.8L225.7 757.4L250.7 757L275.7 756.8L300.7 756.7L325.7 756.6L350.7 756.6L375.7 756.6L400.7 756.6L425.7 756.5L450.7 756.5L475.7 756.5L500.7 756.4L525.7 756.4L550.7 756.4L575.7 756.3L600.7 756.3L625.7 756.2L650.7 756.3L675.7 756.3L700.7 756.4L725.7 756.7L750.7 757.3L775.7 758.1L800.7 759L825.7 760L850.7 760.8L875.7 761.8L900.7 762.9L925.7 763.9L950.7 764.7L975.7 764.9L1000.7 764.3L1025.7 763L1050.7 761.6L1075.7 760L1100.7 758.2L1100.9 758.2V897.5H175.7Z" fill="#8fcac5"/><path d="M175.7 759.2L200.7 758.8L225.7 758.4L250.7 758.1L275.7 757.8L300.7 757.7L325.7 757.7L350.7 757.7L375.7 757.6L400.7 757.6L425.7 757.6L450.7 757.6L475.7 757.5L500.7 757.5L525.7 757.5L550.7 757.4L575.7 757.4L600.7 757.4L625.7 757.3L650.7 757.3L675.7 757.4L700.7 757.5L725.7 757.7L750.7 758.4L775.7 759.2L800.7 760.2L825.7 761.1L850.7 761.9L875.7 763L900.7 764.1L925.7 765L950.7 765.8L975.7 766.1L1000.7 765.4L1025.7 764.1L1050.7 762.7L1075.7 761.1L1100.7 759.2L1100.9 759.2V897.5H175.7Z" fill="#90c8c6"/><path d="M175.7 760.3L200.7 759.8L225.7 759.4L250.7 759.1L275.7 758.8L300.7 758.7L325.7 758.7L350.7 758.7L375.7 758.7L400.7 758.7L425.7 758.6L450.7 758.6L475.7 758.6L500.7 758.5L525.7 758.5L550.7 758.5L575.7 758.4L600.7 758.4L625.7 758.4L650.7 758.4L675.7 758.4L700.7 758.5L725.7 758.8L750.7 759.4L775.7 760.2L800.7 761.2L825.7 762.2L850.7 763L875.7 764L900.7 765.1L925.7 766.1L950.7 766.9L975.7 767.1L1000.7 766.5L1025.7 765.1L1050.7 763.7L1075.7 762.1L1100.7 760.3L1100.9 760.3V897.5H175.7Z" fill="#90c7c6"/><path d="M175.7 761.2L200.7 760.8L225.7 760.4L250.7 760.1L275.7 759.8L300.7 759.7L325.7 759.7L350.7 759.7L375.7 759.7L400.7 759.6L425.7 759.6L450.7 759.6L475.7 759.6L500.7 759.6L525.7 759.5L550.7 759.5L575.7 759.5L600.7 759.4L625.7 759.4L650.7 759.4L675.7 759.5L700.7 759.5L725.7 759.8L750.7 760.4L775.7 761.3L800.7 762.2L825.7 763.2L850.7 764.1L875.7 765.1L900.7 766.2L925.7 767.2L950.7 767.9L975.7 768.2L1000.7 767.5L1025.7 766.1L1050.7 764.7L1075.7 763.1L1100.7 761.2L1100.9 761.2V897.5H175.7Z" fill="#91c5c6"/><path d="M175.7 762.2L200.7 761.8L225.7 761.4L250.7 761.1L275.7 760.8L300.7 760.7L325.7 760.7L350.7 760.7L375.7 760.7L400.7 760.6L425.7 760.6L450.7 760.6L475.7 760.6L500.7 760.6L525.7 760.5L550.7 760.5L575.7 760.5L600.7 760.5L625.7 760.4L650.7 760.4L675.7 760.5L700.7 760.5L725.7 760.8L750.7 761.4L775.7 762.3L800.7 763.3L825.7 764.2L850.7 765.1L875.7 766.1L900.7 767.2L925.7 768.3L950.7 769L975.7 769.2L1000.7 768.6L1025.7 767.2L1050.7 765.7L1075.7 764.1L1100.7 762.2L1100.9 762.2V897.5H175.7Z" fill="#91c4c6"/><path d="M175.7 763.2L200.7 762.8L225.7 762.4L250.7 762L275.7 761.8L300.7 761.7L325.7 761.7L350.7 761.7L375.7 761.7L400.7 761.6L425.7 761.6L450.7 761.6L475.7 761.6L500.7 761.6L525.7 761.5L550.7 761.5L575.7 761.5L600.7 761.5L625.7 761.5L650.7 761.5L675.7 761.5L700.7 761.5L725.7 761.8L750.7 762.4L775.7 763.3L800.7 764.3L825.7 765.3L850.7 766.2L875.7 767.2L900.7 768.3L925.7 769.3L950.7 770L975.7 770.3L1000.7 769.6L1025.7 768.2L1050.7 766.7L1075.7 765.1L1100.7 763.2L1100.9 763.2V897.5H175.7Z" fill="#92c2c6"/><path d="M175.7 764.2L200.7 763.7L225.7 763.4L250.7 763L275.7 762.8L300.7 762.7L325.7 762.7L350.7 762.7L375.7 762.6L400.7 762.6L425.7 762.6L450.7 762.6L475.7 762.6L500.7 762.6L525.7 762.6L550.7 762.5L575.7 762.5L600.7 762.5L625.7 762.5L650.7 762.5L675.7 762.5L700.7 762.5L725.7 762.8L750.7 763.5L775.7 764.3L800.7 765.3L825.7 766.3L850.7 767.2L875.7 768.2L900.7 769.3L925.7 770.3L950.7 771L975.7 771.3L1000.7 770.6L1025.7 769.2L1050.7 767.7L1075.7 766.1L1100.7 764.2L1100.9 764.2V897.5H175.7Z" fill="#92c1c7"/><path d="M175.7 765.2L200.7 764.7L225.7 764.3L250.7 764L275.7 763.8L300.7 763.7L325.7 763.7L350.7 763.7L375.7 763.6L400.7 763.6L425.7 763.6L450.7 763.6L475.7 763.6L500.7 763.6L525.7 763.6L550.7 763.6L575.7 763.5L600.7 763.5L625.7 763.5L650.7 763.5L675.7 763.5L700.7 763.6L725.7 763.8L750.7 764.5L775.7 765.4L800.7 766.4L825.7 767.4L850.7 768.3L875.7 769.3L900.7 770.4L925.7 771.4L950.7 772.1L975.7 772.3L1000.7 771.7L1025.7 770.2L1050.7 768.7L1075.7 767L1100.7 765.2L1100.9 765.2V897.5H175.7Z" fill="#93bfc7"/><path d="M175.7 766.1L200.7 765.7L225.7 765.3L250.7 765L275.7 764.8L300.7 764.7L325.7 764.7L350.7 764.7L375.7 764.7L400.7 764.6L425.7 764.6L450.7 764.6L475.7 764.6L500.7 764.6L525.7 764.6L550.7 764.6L575.7 764.6L600.7 764.5L625.7 764.5L650.7 764.5L675.7 764.6L700.7 764.6L725.7 764.9L750.7 765.5L775.7 766.4L800.7 767.4L825.7 768.4L850.7 769.3L875.7 770.3L900.7 771.4L925.7 772.4L950.7 773.1L975.7 773.4L1000.7 772.7L1025.7 771.3L1050.7 769.8L1075.7 768.1L1100.7 766.1L1100.9 766.1V897.5H175.7Z" fill="#93bec7"/><path d="M175.7 767.2L200.7 766.8L225.7 766.4L250.7 766L275.7 765.8L300.7 765.7L325.7 765.7L350.7 765.7L375.7 765.7L400.7 765.7L425.7 765.7L450.7 765.7L475.7 765.7L500.7 765.7L525.7 765.7L550.7 765.7L575.7 765.6L600.7 765.6L625.7 765.6L650.7 765.6L675.7 765.6L700.7 765.7L725.7 765.9L750.7 766.6L775.7 767.5L800.7 768.5L825.7 769.5L850.7 770.4L875.7 771.4L900.7 772.5L925.7 773.5L950.7 774.2L975.7 774.4L1000.7 773.8L1025.7 772.4L1050.7 770.9L1075.7 769.1L1100.7 767.2L1100.9 767.2V897.5H175.7Z" fill="#94bdc7"/><path d="M175.7 768.3L200.7 767.9L225.7 767.5L250.7 767.2L275.7 766.9L300.7 766.8L325.7 766.8L350.7 766.8L375.7 766.8L400.7 766.8L425.7 766.8L450.7 766.8L475.7 766.8L500.7 766.8L525.7 766.8L550.7 766.8L575.7 766.8L600.7 766.8L625.7 766.8L650.7 766.8L675.7 766.8L700.7 766.8L725.7 767.1L750.7 767.7L775.7 768.6L800.7 769.7L825.7 770.7L850.7 771.5L875.7 772.6L900.7 773.6L925.7 774.6L950.7 775.3L975.7 775.6L1000.7 774.9L1025.7 773.5L1050.7 772L1075.7 770.2L1100.7 768.3L1100.9 768.3V897.5H175.7Z" fill="#95bbc7"/><path d="M175.7 769.4L200.7 769L225.7 768.6L250.7 768.3L275.7 768L300.7 768L325.7 768L350.7 768L375.7 767.9L400.7 767.9L425.7 767.9L450.7 767.9L475.7 767.9L500.7 767.9L525.7 767.9L550.7 767.9L575.7 767.9L600.7 767.9L625.7 767.9L650.7 767.9L675.7 767.9L700.7 767.9L725.7 768.2L750.7 768.9L775.7 769.8L800.7 770.8L825.7 771.8L850.7 772.7L875.7 773.7L900.7 774.8L925.7 775.8L950.7 776.5L975.7 776.7L1000.7 776.1L1025.7 774.7L1050.7 773.2L1075.7 771.4L1100.7 769.4L1100.9 769.4V897.5H175.7Z" fill="#95b9c7"/><path d="M175.7 770.5L200.7 770.1L225.7 769.7L250.7 769.4L275.7 769.2L300.7 769.1L325.7 769.1L350.7 769.1L375.7 769.1L400.7 769.1L425.7 769.1L450.7 769.1L475.7 769.1L500.7 769.1L525.7 769.1L550.7 769.1L575.7 769.1L600.7 769.1L625.7 769.1L650.7 769.1L675.7 769.1L700.7 769.1L725.7 769.3L750.7 770L775.7 770.9L800.7 772L825.7 773L850.7 773.8L875.7 774.9L900.7 775.9L925.7 776.9L950.7 777.6L975.7 777.9L1000.7 777.2L1025.7 775.8L1050.7 774.3L1075.7 772.5L1100.7 770.5L1100.9 770.5V897.5H175.7Z" fill="#96b8c7"/><path d="M175.7 771.7L200.7 771.3L225.7 770.8L250.7 770.5L275.7 770.3L300.7 770.2L325.7 770.2L350.7 770.2L375.7 770.2L400.7 770.2L425.7 770.2L450.7 770.2L475.7 770.2L500.7 770.2L525.7 770.2L550.7 770.2L575.7 770.2L600.7 770.2L625.7 770.2L650.7 770.2L675.7 770.2L700.7 770.2L725.7 770.5L750.7 771.2L775.7 772.1L800.7 773.1L825.7 774.1L850.7 775L875.7 776L900.7 777.1L925.7 778.1L950.7 778.8L975.7 779L1000.7 778.4L1025.7 776.9L1050.7 775.5L1075.7 773.7L1100.7 771.7L1100.9 771.7V897.5H175.7Z" fill="#97b6c7"/><path d="M175.7 772.8L200.7 772.4L225.7 772L250.7 771.7L275.7 771.4L300.7 771.4L325.7 771.4L350.7 771.4L375.7 771.4L400.7 771.4L425.7 771.4L450.7 771.4L475.7 771.4L500.7 771.4L525.7 771.4L550.7 771.4L575.7 771.4L600.7 771.4L625.7 771.4L650.7 771.4L675.7 771.4L700.7 771.4L725.7 771.6L750.7 772.3L775.7 773.2L800.7 774.3L825.7 775.3L850.7 776.2L875.7 777.2L900.7 778.2L925.7 779.2L950.7 779.9L975.7 780.2L1000.7 779.5L1025.7 778.1L1050.7 776.6L1075.7 774.8L1100.7 772.8L1100.9 772.8V897.5H175.7Z" fill="#97b5c6"/><path d="M175.7 774L200.7 773.6L225.7 773.2L250.7 772.9L275.7 772.7L300.7 772.6L325.7 772.6L350.7 772.6L375.7 772.6L400.7 772.6L425.7 772.6L450.7 772.6L475.7 772.6L500.7 772.6L525.7 772.6L550.7 772.6L575.7 772.6L600.7 772.6L625.7 772.6L650.7 772.6L675.7 772.6L700.7 772.6L725.7 772.8L750.7 773.5L775.7 774.4L800.7 775.5L825.7 776.5L850.7 777.3L875.7 778.4L900.7 779.4L925.7 780.4L950.7 781.1L975.7 781.4L1000.7 780.7L1025.7 779.3L1050.7 777.8L1075.7 776L1100.7 774L1100.9 774V897.5H175.7Z" fill="#98b3c6"/><path d="M175.7 775.3L200.7 774.9L225.7 774.5L250.7 774.2L275.7 773.9L300.7 773.9L325.7 773.9L350.7 773.9L375.7 773.9L400.7 773.9L425.7 773.9L450.7 773.9L475.7 773.9L500.7 773.9L525.7 773.9L550.7 773.9L575.7 773.9L600.7 773.9L625.7 773.9L650.7 773.9L675.7 773.9L700.7 773.9L725.7 774.1L750.7 774.8L775.7 775.7L800.7 776.8L825.7 777.8L850.7 778.6L875.7 779.7L900.7 780.7L925.7 781.7L950.7 782.4L975.7 782.7L1000.7 782L1025.7 780.6L1050.7 779.1L1075.7 777.3L1100.7 775.3L1100.9 775.3V897.5H175.7Z" fill="#99b1c6"/><path d="M175.7 776.6L200.7 776.2L225.7 775.8L250.7 775.5L275.7 775.3L300.7 775.2L325.7 775.2L350.7 775.2L375.7 775.2L400.7 775.2L425.7 775.2L450.7 775.2L475.7 775.2L500.7 775.2L525.7 775.2L550.7 775.2L575.7 775.2L600.7 775.2L625.7 775.2L650.7 775.2L675.7 775.2L700.7 775.2L725.7 775.4L750.7 776.1L775.7 777L800.7 778.1L825.7 779.1L850.7 780L875.7 781L900.7 782L925.7 783L950.7 783.7L975.7 784L1000.7 783.3L1025.7 781.9L1050.7 780.4L1075.7 778.6L1100.7 776.6L1100.9 776.6V897.5H175.7Z" fill="#99b0c6"/><path d="M175.7 778L200.7 777.5L225.7 777.1L250.7 776.8L275.7 776.6L300.7 776.5L325.7 776.5L350.7 776.5L375.7 776.5L400.7 776.5L425.7 776.5L450.7 776.5L475.7 776.5L500.7 776.5L525.7 776.5L550.7 776.5L575.7 776.5L600.7 776.5L625.7 776.5L650.7 776.5L675.7 776.5L700.7 776.5L725.7 776.8L750.7 777.4L775.7 778.4L800.7 779.4L825.7 780.4L850.7 781.3L875.7 782.3L900.7 783.4L925.7 784.3L950.7 785L975.7 785.3L1000.7 784.6L1025.7 783.2L1050.7 781.7L1075.7 780L1100.7 778L1100.9 778V897.5H175.7Z" fill="#9aaec6"/><path d="M175.7 779.3L200.7 778.8L225.7 778.4L250.7 778.1L275.7 777.9L300.7 777.8L325.7 777.8L350.7 777.8L375.7 777.8L400.7 777.8L425.7 777.8L450.7 777.8L475.7 777.8L500.7 777.8L525.7 777.8L550.7 777.8L575.7 777.8L600.7 777.8L625.7 777.8L650.7 777.8L675.7 777.8L700.7 777.8L725.7 778.1L750.7 778.7L775.7 779.7L800.7 780.7L825.7 781.7L850.7 782.6L875.7 783.6L900.7 784.7L925.7 785.7L950.7 786.4L975.7 786.6L1000.7 786L1025.7 784.5L1050.7 783L1075.7 781.3L1100.7 779.3L1100.9 779.3V897.5H175.7Z" fill="#9badc6"/><path d="M175.7 780.6L200.7 780.2L225.7 779.7L250.7 779.5L275.7 779.2L300.7 779.2L325.7 779.2L350.7 779.2L375.7 779.2L400.7 779.2L425.7 779.2L450.7 779.2L475.7 779.2L500.7 779.2L525.7 779.2L550.7 779.2L575.7 779.2L600.7 779.2L625.7 779.2L650.7 779.2L675.7 779.2L700.7 779.2L725.7 779.4L750.7 780.1L775.7 781L800.7 782.1L825.7 783L850.7 783.9L875.7 785L900.7 786L925.7 787L950.7 787.7L975.7 788L1000.7 787.3L1025.7 785.8L1050.7 784.4L1075.7 782.6L1100.7 780.6L1100.9 780.6V897.5H175.7Z" fill="#9cabc5"/><path d="M175.7 782.3L200.7 781.9L225.7 781.5L250.7 781.1L275.7 780.9L300.7 780.8L325.7 780.8L350.7 780.8L375.7 780.8L400.7 780.8L425.7 780.8L450.7 780.8L475.7 780.8L500.7 780.8L525.7 780.8L550.7 780.8L575.7 780.8L600.7 780.8L625.7 780.8L650.7 780.8L675.7 780.8L700.7 780.8L725.7 781.1L750.7 781.8L775.7 782.7L800.7 783.8L825.7 784.8L850.7 785.6L875.7 786.6L900.7 787.7L925.7 788.7L950.7 789.4L975.7 789.7L1000.7 789L1025.7 787.6L1050.7 786.1L1075.7 784.3L1100.7 782.3L1100.9 782.3V897.5H175.7Z" fill="#9da9c5"/><path d="M175.7 784.3L200.7 783.9L225.7 783.5L250.7 783.2L275.7 782.9L300.7 782.8L325.7 782.8L350.7 782.8L375.7 782.8L400.7 782.8L425.7 782.8L450.7 782.8L475.7 782.8L500.7 782.8L525.7 782.8L550.7 782.8L575.7 782.8L600.7 782.8L625.7 782.8L650.7 782.8L675.7 782.8L700.7 782.8L725.7 783.1L750.7 783.8L775.7 784.7L800.7 785.8L825.7 786.8L850.7 787.6L875.7 788.6L900.7 789.7L925.7 790.7L950.7 791.4L975.7 791.7L1000.7 791L1025.7 789.6L1050.7 788.1L1075.7 786.3L1100.7 784.3L1100.9 784.3V897.5H175.7Z" fill="#9da8c5"/><path d="M175.7 786.3L200.7 785.9L225.7 785.5L250.7 785.2L275.7 784.9L300.7 784.9L325.7 784.9L350.7 784.9L375.7 784.9L400.7 784.9L425.7 784.9L450.7 784.9L475.7 784.9L500.7 784.9L525.7 784.9L550.7 784.9L575.7 784.9L600.7 784.9L625.7 784.9L650.7 784.9L675.7 784.9L700.7 784.9L725.7 785.1L750.7 785.8L775.7 786.7L800.7 787.8L825.7 788.8L850.7 789.6L875.7 790.6L900.7 791.7L925.7 792.7L950.7 793.4L975.7 793.7L1000.7 793L1025.7 791.6L1050.7 790.1L1075.7 788.3L1100.7 786.3L1100.9 786.3V897.5H175.7Z" fill="#9ea6c4"/><path d="M175.7 788.3L200.7 787.9L225.7 787.5L250.7 787.2L275.7 786.9L300.7 786.9L325.7 786.9L350.7 786.9L375.7 786.9L400.7 786.9L425.7 786.9L450.7 786.9L475.7 786.9L500.7 786.9L525.7 786.9L550.7 786.9L575.7 786.9L600.7 786.9L625.7 786.9L650.7 786.9L675.7 786.9L700.7 786.9L725.7 787.1L750.7 787.8L775.7 788.7L800.7 789.8L825.7 790.8L850.7 791.6L875.7 792.7L900.7 793.7L925.7 794.7L950.7 795.4L975.7 795.7L1000.7 795L1025.7 793.6L1050.7 792.1L1075.7 790.3L1100.7 788.3L1100.9 788.3V897.5H175.7Z" fill="#9fa4c4"/><path d="M175.7 791.7L200.7 791.2L225.7 790.8L250.7 790.5L275.7 790.3L300.7 790.2L325.7 790.2L350.7 790.2L375.7 790.2L400.7 790.2L425.7 790.2L450.7 790.2L475.7 790.2L500.7 790.2L525.7 790.2L550.7 790.2L575.7 790.2L600.7 790.2L625.7 790.2L650.7 790.2L675.7 790.2L700.7 790.2L725.7 790.4L750.7 791.1L775.7 792.1L800.7 793.1L825.7 794.1L850.7 795L875.7 796L900.7 797.1L925.7 798L950.7 798.7L975.7 799L1000.7 798.3L1025.7 796.9L1050.7 795.4L1075.7 793.7L1100.7 791.7L1100.9 791.7V897.5H175.7Z" fill="#a0a2c3"/><path d="M175.7 800.5L200.7 800.5L225.7 800.5L250.7 800.5L275.7 799L300.7 799L325.7 799L350.7 799L375.7 799L400.7 799L425.7 799L450.7 799L475.7 799L500.7 799L525.7 799L550.7 799L575.7 799L600.7 799L625.7 799L650.7 799L675.7 799L700.7 799L725.7 799L750.7 800.5L775.7 801.9L800.7 801.9L825.7 803.4L850.7 804.8L875.7 804.8L900.7 806.3L925.7 807.7L950.7 807.7L975.7 807.7L1000.7 807.7L1025.7 806.3L1050.7 804.8L1075.7 803.4L1100.7 800.5L1100.9 800.5V897.5H175.7Z" fill="#a0a0c3"/></g>
<g clip-path="url(#c3)"><rect x="170" y="941.8" width="940" height="250" fill="#fdf391"/><path d="M175.7 948.7L200.7 948.7L225.7 948.7L250.7 948.7L275.7 948.7L300.7 948.7L325.7 948.7L350.7 948.7L375.7 948.7L400.7 948.7L425.7 948.7L450.7 948.7L475.7 948.7L500.7 948.7L525.7 948.7L550.7 948.7L575.7 948.7L600.7 948.7L625.7 948.7L650.7 948.7L675.7 948.7L700.7 948.7L725.7 948.7L750.7 948.7L775.7 948.7L800.7 948.7L825.7 948.7L850.7 948.7L875.7 948.7L900.7 948.7L925.7 948.7L950.7 948.7L975.7 948.7L1000.7 948.7L1025.7 948.7L1050.7 948.7L1075.7 948.7L1100.7 948.7L1100.9 948.7V1191.8H175.7Z" fill="#f9f28f"/><path d="M175.7 948.7L200.7 948.7L225.7 948.7L250.7 948.7L275.7 948.7L300.7 948.7L325.7 948.7L350.7 948.7L375.7 948.7L400.7 948.7L425.7 948.7L450.7 948.7L475.7 948.7L500.7 948.7L525.7 948.7L550.7 948.7L575.7 948.7L600.7 948.7L625.7 948.7L650.7 948.7L675.7 948.7L700.7 948.7L725.7 948.7L750.7 948.7L775.7 948.7L800.7 948.7L825.7 948.7L850.7 948.7L875.7 948.7L900.7 948.7L925.7 948.7L950.7 948.7L975.7 948.7L1000.7 948.7L1025.7 948.7L1050.7 948.7L1075.7 948.7L1100.7 948.7L1100.9 948.7V1191.8H175.7Z" fill="#f6f28d"/><path d="M175.7 987.5L200.7 986.9L225.7 986.1L250.7 985.6L275.7 985.1L300.7 984.6L325.7 984.2L350.7 983.9L375.7 983.6L400.7 983.3L425.7 983.1L450.7 983.1L475.7 983.2L500.7 983.5L525.7 983.9L550.7 984.5L575.7 985.7L600.7 986.7L625.7 987.4L650.7 987.5L675.7 987.5L700.7 987.5L725.7 987.3L750.7 986.3L775.7 984.9L800.7 983.9L825.7 984.1L850.7 984.6L875.7 985.4L900.7 986.1L925.7 987.1L950.7 988.3L975.7 989.4L1000.7 989.8L1025.7 989.7L1050.7 989.3L1075.7 988.6L1100.7 987.5L1100.9 987.5V1191.8H175.7Z" fill="#f0f18c"/><path d="M175.7 990.2L200.7 989.5L225.7 988.8L250.7 988.2L275.7 987.6L300.7 987.2L325.7 986.8L350.7 986.5L375.7 986.2L400.7 985.9L425.7 985.8L450.7 985.8L475.7 985.9L500.7 986.1L525.7 986.4L550.7 987.2L575.7 988.3L600.7 989.3L625.7 990L650.7 990.2L675.7 990.2L700.7 990.2L725.7 989.9L750.7 988.9L775.7 987.5L800.7 986.5L825.7 986.7L850.7 987.3L875.7 988L900.7 988.7L925.7 989.7L950.7 990.9L975.7 992L1000.7 992.4L1025.7 992.3L1050.7 991.9L1075.7 991.2L1100.7 990.2L1100.9 990.2V1191.8H175.7Z" fill="#edf18c"/><path d="M175.7 992.7L200.7 992L225.7 991.3L250.7 990.7L275.7 990.2L300.7 989.8L325.7 989.4L350.7 989.1L375.7 988.7L400.7 988.5L425.7 988.4L450.7 988.3L475.7 988.5L500.7 988.7L525.7 989L550.7 989.7L575.7 990.9L600.7 991.8L625.7 992.6L650.7 992.7L675.7 992.7L700.7 992.7L725.7 992.5L750.7 991.5L775.7 990.1L800.7 989.1L825.7 989.3L850.7 989.8L875.7 990.6L900.7 991.3L925.7 992.3L950.7 993.5L975.7 994.5L1000.7 995L1025.7 994.8L1050.7 994.5L1075.7 993.8L1100.7 992.7L1100.9 992.7V1191.8H175.7Z" fill="#e9f08d"/><path d="M175.7 995.3L200.7 994.6L225.7 993.9L250.7 993.3L275.7 992.8L300.7 992.4L325.7 992L350.7 991.6L375.7 991.3L400.7 991.1L425.7 990.9L450.7 990.9L475.7 991L500.7 991.3L525.7 991.6L550.7 992.3L575.7 993.5L600.7 994.4L625.7 995.2L650.7 995.3L675.7 995.3L700.7 995.3L725.7 995L750.7 994L775.7 992.6L800.7 991.6L825.7 991.9L850.7 992.4L875.7 993.1L900.7 993.9L925.7 994.8L950.7 996.1L975.7 997.1L1000.7 997.5L1025.7 997.4L1050.7 997.1L1075.7 996.4L1100.7 995.3L1100.9 995.3V1191.8H175.7Z" fill="#e5f08f"/><path d="M175.7 997.8L200.7 997.1L225.7 996.4L250.7 995.8L275.7 995.3L300.7 994.9L325.7 994.5L350.7 994.2L375.7 993.8L400.7 993.6L425.7 993.4L450.7 993.4L475.7 993.6L500.7 993.8L525.7 994.1L550.7 994.8L575.7 996L600.7 997L625.7 997.8L650.7 997.9L675.7 997.9L700.7 997.9L725.7 997.6L750.7 996.6L775.7 995.2L800.7 994.2L825.7 994.4L850.7 994.9L875.7 995.7L900.7 996.4L925.7 997.4L950.7 998.6L975.7 999.7L1000.7 1000.1L1025.7 1000L1050.7 999.6L1075.7 998.8L1100.7 997.8L1100.9 997.8V1191.8H175.7Z" fill="#e1ef91"/><path d="M175.7 1000.1L200.7 999.4L225.7 998.7L250.7 998.1L275.7 997.6L300.7 997.2L325.7 996.9L350.7 996.5L375.7 996.2L400.7 995.9L425.7 995.8L450.7 995.8L475.7 995.9L500.7 996.1L525.7 996.5L550.7 997.2L575.7 998.4L600.7 999.5L625.7 1000.5L650.7 1000.6L675.7 1000.6L700.7 1000.6L725.7 1000.2L750.7 999L775.7 997.5L800.7 996.5L825.7 996.7L850.7 997.3L875.7 998L900.7 998.7L925.7 999.7L950.7 1001L975.7 1002L1000.7 1002.5L1025.7 1002.3L1050.7 1001.9L1075.7 1001.1L1100.7 1000.1L1100.9 1000.1V1191.8H175.7Z" fill="#dbee94"/><path d="M175.7 1002.3L200.7 1001.6L225.7 1000.9L250.7 1000.3L275.7 999.8L300.7 999.4L325.7 999.1L350.7 998.8L375.7 998.5L400.7 998.2L425.7 998.1L450.7 998.1L475.7 998.2L500.7 998.4L525.7 998.8L550.7 999.5L575.7 1000.9L600.7 1002.1L625.7 1003.1L650.7 1003.3L675.7 1003.3L700.7 1003.2L725.7 1002.8L750.7 1001.4L775.7 999.9L800.7 998.8L825.7 999.1L850.7 999.6L875.7 1000.3L900.7 1001.1L925.7 1002.1L950.7 1003.3L975.7 1004.4L1000.7 1004.8L1025.7 1004.7L1050.7 1004.2L1075.7 1003.4L1100.7 1002.3L1100.9 1002.3V1191.8H175.7Z" fill="#d7ee97"/><path d="M175.7 1004.6L200.7 1003.8L225.7 1003.1L250.7 1002.5L275.7 1002L300.7 1001.6L325.7 1001.3L350.7 1001L375.7 1000.7L400.7 1000.5L425.7 1000.3L450.7 1000.3L475.7 1000.5L500.7 1000.7L525.7 1001.1L550.7 1001.9L575.7 1003.4L600.7 1004.6L625.7 1005.8L650.7 1006L675.7 1006L700.7 1005.9L725.7 1005.3L750.7 1003.9L775.7 1002.2L800.7 1001.2L825.7 1001.4L850.7 1001.9L875.7 1002.7L900.7 1003.4L925.7 1004.4L950.7 1005.7L975.7 1006.7L1000.7 1007.2L1025.7 1007L1050.7 1006.5L1075.7 1005.7L1100.7 1004.6L1100.9 1004.6V1191.8H175.7Z" fill="#d3ed99"/><path d="M175.7 1006.8L200.7 1006L225.7 1005.3L250.7 1004.7L275.7 1004.2L300.7 1003.8L325.7 1003.5L350.7 1003.2L375.7 1002.9L400.7 1002.7L425.7 1002.6L450.7 1002.6L475.7 1002.7L500.7 1003L525.7 1003.4L550.7 1004.3L575.7 1005.8L600.7 1007.2L625.7 1008.5L650.7 1008.7L675.7 1008.6L700.7 1008.5L725.7 1007.9L750.7 1006.4L775.7 1004.6L800.7 1003.5L825.7 1003.7L850.7 1004.2L875.7 1005L900.7 1005.7L925.7 1006.8L950.7 1008L975.7 1009.1L1000.7 1009.6L1025.7 1009.4L1050.7 1008.9L1075.7 1008L1100.7 1006.8L1100.9 1006.8V1191.8H175.7Z" fill="#cfec9c"/><path d="M175.7 1008.9L200.7 1008.1L225.7 1007.4L250.7 1006.8L275.7 1006.3L300.7 1005.9L325.7 1005.6L350.7 1005.3L375.7 1005L400.7 1004.8L425.7 1004.7L450.7 1004.7L475.7 1004.8L500.7 1005.1L525.7 1005.5L550.7 1006.5L575.7 1008.1L600.7 1009.6L625.7 1011L650.7 1011.2L675.7 1011.1L700.7 1011L725.7 1010.3L750.7 1008.7L775.7 1006.8L800.7 1005.6L825.7 1005.9L850.7 1006.4L875.7 1007.2L900.7 1007.9L925.7 1009L950.7 1010.2L975.7 1011.3L1000.7 1011.8L1025.7 1011.6L1050.7 1011L1075.7 1010.1L1100.7 1008.9L1100.9 1008.9V1191.8H175.7Z" fill="#cbec9f"/><path d="M175.7 1010.9L200.7 1010.1L225.7 1009.4L250.7 1008.8L275.7 1008.3L300.7 1007.9L325.7 1007.6L350.7 1007.3L375.7 1007L400.7 1006.8L425.7 1006.7L450.7 1006.7L475.7 1006.9L500.7 1007.2L525.7 1007.7L550.7 1008.7L575.7 1010.4L600.7 1012L625.7 1013.5L650.7 1013.7L675.7 1013.6L700.7 1013.4L725.7 1012.7L750.7 1010.9L775.7 1009L800.7 1007.7L825.7 1008L850.7 1008.6L875.7 1009.3L900.7 1010.1L925.7 1011.1L950.7 1012.4L975.7 1013.5L1000.7 1013.9L1025.7 1013.7L1050.7 1013.2L1075.7 1012.2L1100.7 1010.9L1100.9 1010.9V1191.8H175.7Z" fill="#c6eba2"/><path d="M175.7 1013L200.7 1012.2L225.7 1011.4L250.7 1010.8L275.7 1010.3L300.7 1009.9L325.7 1009.6L350.7 1009.3L375.7 1009.1L400.7 1008.9L425.7 1008.8L450.7 1008.8L475.7 1009L500.7 1009.3L525.7 1009.8L550.7 1010.8L575.7 1012.7L600.7 1014.3L625.7 1015.9L650.7 1016.2L675.7 1016.1L700.7 1015.8L725.7 1015.1L750.7 1013.2L775.7 1011.2L800.7 1009.9L825.7 1010.1L850.7 1010.7L875.7 1011.5L900.7 1012.2L925.7 1013.3L950.7 1014.6L975.7 1015.7L1000.7 1016.1L1025.7 1015.9L1050.7 1015.3L1075.7 1014.3L1100.7 1013L1100.9 1013V1191.8H175.7Z" fill="#c3eaa4"/><path d="M175.7 1015L200.7 1014.2L225.7 1013.5L250.7 1012.8L275.7 1012.3L300.7 1011.9L325.7 1011.6L350.7 1011.4L375.7 1011.1L400.7 1010.9L425.7 1010.8L450.7 1010.8L475.7 1011L500.7 1011.4L525.7 1011.9L550.7 1013L575.7 1014.9L600.7 1016.7L625.7 1018.4L650.7 1018.7L675.7 1018.5L700.7 1018.3L725.7 1017.4L750.7 1015.5L775.7 1013.3L800.7 1012L825.7 1012.2L850.7 1012.8L875.7 1013.6L900.7 1014.4L925.7 1015.4L950.7 1016.7L975.7 1017.8L1000.7 1018.3L1025.7 1018.1L1050.7 1017.4L1075.7 1016.4L1100.7 1015L1100.9 1015V1191.8H175.7Z" fill="#bfe9a7"/><path d="M175.7 1017.1L200.7 1016.3L225.7 1015.5L250.7 1014.9L275.7 1014.3L300.7 1013.9L325.7 1013.7L350.7 1013.5L375.7 1013.2L400.7 1013.1L425.7 1013L450.7 1013L475.7 1013.2L500.7 1013.5L525.7 1014L550.7 1015.2L575.7 1017.3L600.7 1019.1L625.7 1020.9L650.7 1021.1L675.7 1021L700.7 1020.7L725.7 1019.8L750.7 1017.8L775.7 1015.5L800.7 1014.2L825.7 1014.4L850.7 1015L875.7 1015.8L900.7 1016.6L925.7 1017.6L950.7 1018.9L975.7 1020L1000.7 1020.5L1025.7 1020.3L1050.7 1019.6L1075.7 1018.6L1100.7 1017.1L1100.9 1017.1V1191.8H175.7Z" fill="#bbe8a9"/><path d="M175.7 1019.6L200.7 1018.7L225.7 1017.9L250.7 1017.2L275.7 1016.7L300.7 1016.3L325.7 1016.1L350.7 1015.8L375.7 1015.6L400.7 1015.5L425.7 1015.4L450.7 1015.4L475.7 1015.6L500.7 1016L525.7 1016.6L550.7 1017.8L575.7 1019.9L600.7 1021.9L625.7 1023.8L650.7 1024.1L675.7 1023.9L700.7 1023.6L725.7 1022.6L750.7 1020.4L775.7 1018.1L800.7 1016.7L825.7 1016.9L850.7 1017.5L875.7 1018.3L900.7 1019.1L925.7 1020.2L950.7 1021.5L975.7 1022.6L1000.7 1023L1025.7 1022.8L1050.7 1022.1L1075.7 1021L1100.7 1019.6L1100.9 1019.6V1191.8H175.7Z" fill="#b8e7ab"/><path d="M175.7 1022L200.7 1021.1L225.7 1020.3L250.7 1019.6L275.7 1019.1L300.7 1018.8L325.7 1018.5L350.7 1018.3L375.7 1018.1L400.7 1017.9L425.7 1017.8L450.7 1017.8L475.7 1018.1L500.7 1018.5L525.7 1019.1L550.7 1020.4L575.7 1022.6L600.7 1024.7L625.7 1026.7L650.7 1027.1L675.7 1026.9L700.7 1026.5L725.7 1025.5L750.7 1023.1L775.7 1020.7L800.7 1019.2L825.7 1019.5L850.7 1020.1L875.7 1020.9L900.7 1021.7L925.7 1022.7L950.7 1024.1L975.7 1025.2L1000.7 1025.6L1025.7 1025.4L1050.7 1024.7L1075.7 1023.5L1100.7 1022L1100.9 1022V1191.8H175.7Z" fill="#b3e6ae"/><path d="M175.7 1024.5L200.7 1023.6L225.7 1022.8L250.7 1022L275.7 1021.5L300.7 1021.2L325.7 1020.9L350.7 1020.7L375.7 1020.5L400.7 1020.4L425.7 1020.3L450.7 1020.3L475.7 1020.5L500.7 1021L525.7 1021.6L550.7 1023L575.7 1025.4L600.7 1027.5L625.7 1029.7L650.7 1030L675.7 1029.8L700.7 1029.4L725.7 1028.3L750.7 1025.9L775.7 1023.3L800.7 1021.8L825.7 1022L850.7 1022.6L875.7 1023.4L900.7 1024.3L925.7 1025.3L950.7 1026.7L975.7 1027.8L1000.7 1028.3L1025.7 1028L1050.7 1027.3L1075.7 1026.1L1100.7 1024.5L1100.9 1024.5V1191.8H175.7Z" fill="#b0e4b0"/><path d="M175.7 1027L200.7 1026L225.7 1025.1L250.7 1024.4L275.7 1023.9L300.7 1023.5L325.7 1023.3L350.7 1023.1L375.7 1022.9L400.7 1022.8L425.7 1022.7L450.7 1022.7L475.7 1023L500.7 1023.4L525.7 1024.1L550.7 1025.6L575.7 1028L600.7 1030.3L625.7 1032.6L650.7 1033L675.7 1032.7L700.7 1032.3L725.7 1031.2L750.7 1028.5L775.7 1025.9L800.7 1024.3L825.7 1024.5L850.7 1025.1L875.7 1025.9L900.7 1026.8L925.7 1027.9L950.7 1029.2L975.7 1030.3L1000.7 1030.8L1025.7 1030.5L1050.7 1029.8L1075.7 1028.5L1100.7 1027L1100.9 1027V1191.8H175.7Z" fill="#ace3b2"/><path d="M175.7 1029L200.7 1028.1L225.7 1027.2L250.7 1026.5L275.7 1025.9L300.7 1025.6L325.7 1025.4L350.7 1025.2L375.7 1025L400.7 1024.9L425.7 1024.8L450.7 1024.8L475.7 1025.1L500.7 1025.6L525.7 1026.3L550.7 1027.8L575.7 1030.3L600.7 1032.7L625.7 1035.1L650.7 1035.5L675.7 1035.2L700.7 1034.8L725.7 1033.5L750.7 1030.8L775.7 1028.1L800.7 1026.4L825.7 1026.7L850.7 1027.3L875.7 1028.1L900.7 1029L925.7 1030.1L950.7 1031.4L975.7 1032.6L1000.7 1033L1025.7 1032.7L1050.7 1031.9L1075.7 1030.7L1100.7 1029L1100.9 1029V1191.8H175.7Z" fill="#a9e2b3"/><path d="M175.7 1031.1L200.7 1030.1L225.7 1029.2L250.7 1028.5L275.7 1027.9L300.7 1027.6L325.7 1027.4L350.7 1027.2L375.7 1027.1L400.7 1026.9L425.7 1026.9L450.7 1026.9L475.7 1027.2L500.7 1027.7L525.7 1028.4L550.7 1029.9L575.7 1032.6L600.7 1035.1L625.7 1037.5L650.7 1037.9L675.7 1037.7L700.7 1037.2L725.7 1035.9L750.7 1033.1L775.7 1030.3L800.7 1028.5L825.7 1028.8L850.7 1029.4L875.7 1030.3L900.7 1031.1L925.7 1032.2L950.7 1033.6L975.7 1034.7L1000.7 1035.2L1025.7 1034.9L1050.7 1034.1L1075.7 1032.8L1100.7 1031.1L1100.9 1031.1V1191.8H175.7Z" fill="#a6e1b5"/><path d="M175.7 1033.1L200.7 1032.2L225.7 1031.3L250.7 1030.5L275.7 1029.9L300.7 1029.6L325.7 1029.4L350.7 1029.3L375.7 1029.1L400.7 1029L425.7 1028.9L450.7 1028.9L475.7 1029.2L500.7 1029.8L525.7 1030.5L550.7 1032.1L575.7 1034.9L600.7 1037.5L625.7 1040L650.7 1040.4L675.7 1040.1L700.7 1039.6L725.7 1038.3L750.7 1035.3L775.7 1032.4L800.7 1030.7L825.7 1030.9L850.7 1031.6L875.7 1032.4L900.7 1033.3L925.7 1034.4L950.7 1035.7L975.7 1036.9L1000.7 1037.4L1025.7 1037.1L1050.7 1036.2L1075.7 1034.9L1100.7 1033.1L1100.9 1033.1V1191.8H175.7Z" fill="#a2dfb7"/><path d="M175.7 1035.2L200.7 1034.2L225.7 1033.3L250.7 1032.5L275.7 1031.9L300.7 1031.6L325.7 1031.5L350.7 1031.3L375.7 1031.1L400.7 1031L425.7 1031L450.7 1031L475.7 1031.3L500.7 1031.9L525.7 1032.6L550.7 1034.3L575.7 1037.1L600.7 1039.8L625.7 1042.5L650.7 1042.9L675.7 1042.6L700.7 1042L725.7 1040.6L750.7 1037.6L775.7 1034.6L800.7 1032.8L825.7 1033.1L850.7 1033.7L875.7 1034.6L900.7 1035.4L925.7 1036.5L950.7 1037.9L975.7 1039.1L1000.7 1039.5L1025.7 1039.2L1050.7 1038.3L1075.7 1037L1100.7 1035.2L1100.9 1035.2V1191.8H175.7Z" fill="#a0deb9"/><path d="M175.7 1037.1L200.7 1036L225.7 1035.1L250.7 1034.4L275.7 1033.7L300.7 1033.4L325.7 1033.3L350.7 1033.1L375.7 1033L400.7 1032.9L425.7 1032.9L450.7 1032.9L475.7 1033.1L500.7 1033.7L525.7 1034.5L550.7 1036.2L575.7 1039.1L600.7 1041.9L625.7 1044.7L650.7 1045.1L675.7 1044.8L700.7 1044.3L725.7 1042.8L750.7 1039.7L775.7 1036.5L800.7 1034.7L825.7 1034.9L850.7 1035.7L875.7 1036.4L900.7 1037.4L925.7 1038.5L950.7 1039.9L975.7 1041L1000.7 1041.5L1025.7 1041.2L1050.7 1040.3L1075.7 1038.9L1100.7 1037.1L1100.9 1037.1V1191.8H175.7Z" fill="#9dddba"/><path d="M175.7 1038.4L200.7 1037.4L225.7 1036.5L250.7 1035.7L275.7 1035.1L300.7 1034.8L325.7 1034.6L350.7 1034.5L375.7 1034.4L400.7 1034.3L425.7 1034.2L450.7 1034.2L475.7 1034.5L500.7 1035.1L525.7 1036L550.7 1037.7L575.7 1040.7L600.7 1043.5L625.7 1046.3L650.7 1046.8L675.7 1046.5L700.7 1045.9L725.7 1044.4L750.7 1041.2L775.7 1038L800.7 1036.1L825.7 1036.4L850.7 1037.1L875.7 1037.9L900.7 1038.8L925.7 1039.9L950.7 1041.3L975.7 1042.5L1000.7 1042.9L1025.7 1042.6L1050.7 1041.7L1075.7 1040.3L1100.7 1038.4L1100.9 1038.4V1191.8H175.7Z" fill="#9bdcbb"/><path d="M175.7 1039.7L200.7 1038.7L225.7 1037.8L250.7 1037L275.7 1036.4L300.7 1036.1L325.7 1035.9L350.7 1035.8L375.7 1035.7L400.7 1035.6L425.7 1035.5L450.7 1035.5L475.7 1035.9L500.7 1036.5L525.7 1037.3L550.7 1039.1L575.7 1042.2L600.7 1045L625.7 1047.9L650.7 1048.4L675.7 1048L700.7 1047.4L725.7 1045.9L750.7 1042.6L775.7 1039.4L800.7 1037.5L825.7 1037.8L850.7 1038.4L875.7 1039.3L900.7 1040.2L925.7 1041.3L950.7 1042.7L975.7 1043.9L1000.7 1044.3L1025.7 1044L1050.7 1043.1L1075.7 1041.6L1100.7 1039.7L1100.9 1039.7V1191.8H175.7Z" fill="#99dabd"/><path d="M175.7 1041L200.7 1040L225.7 1039.1L250.7 1038.2L275.7 1037.7L300.7 1037.4L325.7 1037.2L350.7 1037.1L375.7 1037L400.7 1036.9L425.7 1036.8L450.7 1036.9L475.7 1037.2L500.7 1037.8L525.7 1038.7L550.7 1040.5L575.7 1043.6L600.7 1046.6L625.7 1049.5L650.7 1050L675.7 1049.6L700.7 1049L725.7 1047.4L750.7 1044.1L775.7 1040.8L800.7 1038.9L825.7 1039.1L850.7 1039.8L875.7 1040.7L900.7 1041.5L925.7 1042.7L950.7 1044.1L975.7 1045.3L1000.7 1045.7L1025.7 1045.4L1050.7 1044.4L1075.7 1042.9L1100.7 1041L1100.9 1041V1191.8H175.7Z" fill="#96d8be"/><path d="M175.7 1042.4L200.7 1041.3L225.7 1040.4L250.7 1039.5L275.7 1039L300.7 1038.7L325.7 1038.5L350.7 1038.4L375.7 1038.3L400.7 1038.2L425.7 1038.2L450.7 1038.2L475.7 1038.5L500.7 1039.2L525.7 1040L550.7 1041.9L575.7 1045.1L600.7 1048.1L625.7 1051.1L650.7 1051.5L675.7 1051.2L700.7 1050.5L725.7 1048.9L750.7 1045.5L775.7 1042.2L800.7 1040.2L825.7 1040.5L850.7 1041.2L875.7 1042L900.7 1042.9L925.7 1044.1L950.7 1045.5L975.7 1046.6L1000.7 1047.1L1025.7 1046.8L1050.7 1045.8L1075.7 1044.3L1100.7 1042.4L1100.9 1042.4V1191.8H175.7Z" fill="#94d7bf"/><path d="M175.7 1043.7L200.7 1042.6L225.7 1041.7L250.7 1040.8L275.7 1040.2L300.7 1040L325.7 1039.8L350.7 1039.7L375.7 1039.6L400.7 1039.5L425.7 1039.5L450.7 1039.5L475.7 1039.8L500.7 1040.5L525.7 1041.4L550.7 1043.3L575.7 1046.5L600.7 1049.6L625.7 1052.6L650.7 1053.1L675.7 1052.8L700.7 1052.1L725.7 1050.4L750.7 1047L775.7 1043.6L800.7 1041.6L825.7 1041.9L850.7 1042.5L875.7 1043.4L900.7 1044.3L925.7 1045.4L950.7 1046.8L975.7 1048L1000.7 1048.5L1025.7 1048.2L1050.7 1047.2L1075.7 1045.6L1100.7 1043.7L1100.9 1043.7V1191.8H175.7Z" fill="#93d6c0"/><path d="M175.7 1045L200.7 1043.9L225.7 1042.9L250.7 1042.1L275.7 1041.5L300.7 1041.3L325.7 1041.1L350.7 1041L375.7 1040.9L400.7 1040.8L425.7 1040.8L450.7 1040.8L475.7 1041.2L500.7 1041.8L525.7 1042.8L550.7 1044.6L575.7 1047.9L600.7 1051.1L625.7 1054.2L650.7 1054.7L675.7 1054.3L700.7 1053.6L725.7 1051.9L750.7 1048.4L775.7 1045L800.7 1042.9L825.7 1043.2L850.7 1043.9L875.7 1044.7L900.7 1045.7L925.7 1046.8L950.7 1048.2L975.7 1049.4L1000.7 1049.9L1025.7 1049.5L1050.7 1048.6L1075.7 1047L1100.7 1045L1100.9 1045V1191.8H175.7Z" fill="#91d4c1"/><path d="M175.7 1046.1L200.7 1045L225.7 1044L250.7 1043.2L275.7 1042.6L300.7 1042.3L325.7 1042.2L350.7 1042.1L375.7 1042L400.7 1041.9L425.7 1041.9L450.7 1041.9L475.7 1042.3L500.7 1043L525.7 1043.9L550.7 1045.9L575.7 1049.2L600.7 1052.4L625.7 1055.5L650.7 1056.1L675.7 1055.7L700.7 1055L725.7 1053.2L750.7 1049.6L775.7 1046.2L800.7 1044.1L825.7 1044.4L850.7 1045.1L875.7 1045.9L900.7 1046.8L925.7 1048L950.7 1049.4L975.7 1050.6L1000.7 1051.1L1025.7 1050.7L1050.7 1049.7L1075.7 1048.1L1100.7 1046.1L1100.9 1046.1V1191.8H175.7Z" fill="#90d3c2"/><path d="M175.7 1047.2L200.7 1046.1L225.7 1045.1L250.7 1044.2L275.7 1043.7L300.7 1043.4L325.7 1043.3L350.7 1043.2L375.7 1043.1L400.7 1043L425.7 1043L450.7 1043L475.7 1043.4L500.7 1044L525.7 1045L550.7 1047L575.7 1050.4L600.7 1053.6L625.7 1056.8L650.7 1057.3L675.7 1056.9L700.7 1056.2L725.7 1054.5L750.7 1050.8L775.7 1047.3L800.7 1045.2L825.7 1045.5L850.7 1046.2L875.7 1047L900.7 1047.9L925.7 1049.1L950.7 1050.5L975.7 1051.7L1000.7 1052.2L1025.7 1051.8L1050.7 1050.8L1075.7 1049.2L1100.7 1047.2L1100.9 1047.2V1191.8H175.7Z" fill="#8fd1c3"/><path d="M175.7 1048.2L200.7 1047.1L225.7 1046.1L250.7 1045.3L275.7 1044.7L300.7 1044.4L325.7 1044.3L350.7 1044.2L375.7 1044.1L400.7 1044.1L425.7 1044L450.7 1044L475.7 1044.4L500.7 1045.1L525.7 1046.1L550.7 1048.1L575.7 1051.5L600.7 1054.8L625.7 1058.1L650.7 1058.6L675.7 1058.2L700.7 1057.5L725.7 1055.7L750.7 1052L775.7 1048.4L800.7 1046.3L825.7 1046.6L850.7 1047.2L875.7 1048.1L900.7 1049L925.7 1050.2L950.7 1051.6L975.7 1052.8L1000.7 1053.3L1025.7 1052.9L1050.7 1051.9L1075.7 1050.3L1100.7 1048.2L1100.9 1048.2V1191.8H175.7Z" fill="#8fd0c3"/><path d="M175.7 1049.3L200.7 1048.2L225.7 1047.2L250.7 1046.3L275.7 1045.7L300.7 1045.4L325.7 1045.4L350.7 1045.3L375.7 1045.2L400.7 1045.1L425.7 1045.1L450.7 1045.1L475.7 1045.5L500.7 1046.2L525.7 1047.2L550.7 1049.2L575.7 1052.7L600.7 1056L625.7 1059.3L650.7 1059.9L675.7 1059.5L700.7 1058.7L725.7 1056.9L750.7 1053.1L775.7 1049.5L800.7 1047.4L825.7 1047.7L850.7 1048.3L875.7 1049.2L900.7 1050.1L925.7 1051.3L950.7 1052.7L975.7 1053.9L1000.7 1054.4L1025.7 1054.1L1050.7 1053L1075.7 1051.4L1100.7 1049.3L1100.9 1049.3V1191.8H175.7Z" fill="#8fcec4"/><path d="M175.7 1050.3L200.7 1049.2L225.7 1048.2L250.7 1047.4L275.7 1046.8L300.7 1046.5L325.7 1046.4L350.7 1046.3L375.7 1046.2L400.7 1046.2L425.7 1046.1L450.7 1046.2L475.7 1046.5L500.7 1047.3L525.7 1048.3L550.7 1050.3L575.7 1053.9L600.7 1057.3L625.7 1060.6L650.7 1061.2L675.7 1060.7L700.7 1060L725.7 1058.1L750.7 1054.3L775.7 1050.6L800.7 1048.5L825.7 1048.7L850.7 1049.4L875.7 1050.3L900.7 1051.3L925.7 1052.4L950.7 1053.8L975.7 1055.1L1000.7 1055.6L1025.7 1055.2L1050.7 1054.1L1075.7 1052.4L1100.7 1050.3L1100.9 1050.3V1191.8H175.7Z" fill="#8fcdc4"/><path d="M175.7 1051.4L200.7 1050.3L225.7 1049.2L250.7 1048.4L275.7 1047.8L300.7 1047.5L325.7 1047.4L350.7 1047.3L375.7 1047.3L400.7 1047.2L425.7 1047.2L450.7 1047.2L475.7 1047.6L500.7 1048.3L525.7 1049.4L550.7 1051.4L575.7 1055L600.7 1058.5L625.7 1061.9L650.7 1062.4L675.7 1062L700.7 1061.2L725.7 1059.3L750.7 1055.5L775.7 1051.8L800.7 1049.5L825.7 1049.8L850.7 1050.5L875.7 1051.4L900.7 1052.4L925.7 1053.5L950.7 1055L975.7 1056.2L1000.7 1056.7L1025.7 1056.3L1050.7 1055.2L1075.7 1053.5L1100.7 1051.4L1100.9 1051.4V1191.8H175.7Z" fill="#8fccc5"/><path d="M175.7 1052.5L200.7 1051.3L225.7 1050.3L250.7 1049.4L275.7 1048.8L300.7 1048.6L325.7 1048.5L350.7 1048.4L375.7 1048.3L400.7 1048.3L425.7 1048.2L450.7 1048.3L475.7 1048.7L500.7 1049.4L525.7 1050.4L550.7 1052.6L575.7 1056.2L600.7 1059.7L625.7 1063.1L650.7 1063.6L675.7 1063.2L700.7 1062.5L725.7 1060.5L750.7 1056.6L775.7 1052.9L800.7 1050.6L825.7 1050.9L850.7 1051.6L875.7 1052.5L900.7 1053.5L925.7 1054.6L950.7 1056.1L975.7 1057.3L1000.7 1057.8L1025.7 1057.4L1050.7 1056.3L1075.7 1054.6L1100.7 1052.5L1100.9 1052.5V1191.8H175.7Z" fill="#8fcac5"/><path d="M175.7 1053.5L200.7 1052.4L225.7 1051.3L250.7 1050.4L275.7 1049.8L300.7 1049.6L325.7 1049.5L350.7 1049.4L375.7 1049.4L400.7 1049.3L425.7 1049.3L450.7 1049.3L475.7 1049.7L500.7 1050.5L525.7 1051.5L550.7 1053.7L575.7 1057.3L600.7 1060.9L625.7 1064.3L650.7 1064.8L675.7 1064.4L700.7 1063.6L725.7 1061.8L750.7 1057.8L775.7 1054L800.7 1051.7L825.7 1052L850.7 1052.7L875.7 1053.6L900.7 1054.6L925.7 1055.7L950.7 1057.2L975.7 1058.4L1000.7 1058.9L1025.7 1058.5L1050.7 1057.4L1075.7 1055.7L1100.7 1053.5L1100.9 1053.5V1191.8H175.7Z" fill="#90c8c6"/><path d="M175.7 1054.5L200.7 1053.4L225.7 1052.3L250.7 1051.4L275.7 1050.8L300.7 1050.6L325.7 1050.5L350.7 1050.4L375.7 1050.4L400.7 1050.3L425.7 1050.3L450.7 1050.3L475.7 1050.7L500.7 1051.5L525.7 1052.5L550.7 1054.7L575.7 1058.4L600.7 1062L625.7 1065.3L650.7 1065.8L675.7 1065.4L700.7 1064.7L725.7 1062.9L750.7 1058.9L775.7 1055L800.7 1052.8L825.7 1053L850.7 1053.8L875.7 1054.7L900.7 1055.6L925.7 1056.8L950.7 1058.2L975.7 1059.5L1000.7 1059.9L1025.7 1059.5L1050.7 1058.4L1075.7 1056.7L1100.7 1054.5L1100.9 1054.5V1191.8H175.7Z" fill="#90c7c6"/><path d="M175.7 1055.5L200.7 1054.3L225.7 1053.3L250.7 1052.4L275.7 1051.8L300.7 1051.5L325.7 1051.5L350.7 1051.4L375.7 1051.3L400.7 1051.3L425.7 1051.3L450.7 1051.3L475.7 1051.7L500.7 1052.5L525.7 1053.6L550.7 1055.8L575.7 1059.5L600.7 1063.2L625.7 1066.4L650.7 1066.8L675.7 1066.5L700.7 1065.8L725.7 1064L750.7 1060L775.7 1056.1L800.7 1053.8L825.7 1054.1L850.7 1054.8L875.7 1055.7L900.7 1056.6L925.7 1057.8L950.7 1059.3L975.7 1060.5L1000.7 1061L1025.7 1060.6L1050.7 1059.4L1075.7 1057.7L1100.7 1055.5L1100.9 1055.5V1191.8H175.7Z" fill="#91c5c6"/><path d="M175.7 1056.5L200.7 1055.3L225.7 1054.2L250.7 1053.3L275.7 1052.7L300.7 1052.5L325.7 1052.4L350.7 1052.4L375.7 1052.3L400.7 1052.3L425.7 1052.2L450.7 1052.3L475.7 1052.7L500.7 1053.5L525.7 1054.6L550.7 1056.8L575.7 1060.6L600.7 1064.2L625.7 1067.4L650.7 1067.9L675.7 1067.5L700.7 1066.8L725.7 1065L750.7 1061L775.7 1057.1L800.7 1054.8L825.7 1055.1L850.7 1055.8L875.7 1056.7L900.7 1057.6L925.7 1058.8L950.7 1060.3L975.7 1061.5L1000.7 1062L1025.7 1061.6L1050.7 1060.4L1075.7 1058.7L1100.7 1056.5L1100.9 1056.5V1191.8H175.7Z" fill="#91c4c6"/><path d="M175.7 1057.4L200.7 1056.3L225.7 1055.2L250.7 1054.3L275.7 1053.7L300.7 1053.4L325.7 1053.4L350.7 1053.3L375.7 1053.3L400.7 1053.2L425.7 1053.2L450.7 1053.3L475.7 1053.7L500.7 1054.5L525.7 1055.6L550.7 1057.8L575.7 1061.7L600.7 1065.2L625.7 1068.4L650.7 1068.9L675.7 1068.5L700.7 1067.8L725.7 1066L750.7 1062.1L775.7 1058.1L800.7 1055.8L825.7 1056.1L850.7 1056.8L875.7 1057.7L900.7 1058.7L925.7 1059.9L950.7 1061.3L975.7 1062.5L1000.7 1063L1025.7 1062.6L1050.7 1061.5L1075.7 1059.7L1100.7 1057.4L1100.9 1057.4V1191.8H175.7Z" fill="#92c2c6"/><path d="M175.7 1058.4L200.7 1057.2L225.7 1056.2L250.7 1055.3L275.7 1054.6L300.7 1054.4L325.7 1054.3L350.7 1054.3L375.7 1054.3L400.7 1054.2L425.7 1054.2L450.7 1054.2L475.7 1054.7L500.7 1055.5L525.7 1056.6L550.7 1058.9L575.7 1062.8L600.7 1066.3L625.7 1069.4L650.7 1069.9L675.7 1069.5L700.7 1068.8L725.7 1067.1L750.7 1063.2L775.7 1059.2L800.7 1056.8L825.7 1057.1L850.7 1057.8L875.7 1058.8L900.7 1059.7L925.7 1060.9L950.7 1062.3L975.7 1063.6L1000.7 1064.1L1025.7 1063.7L1050.7 1062.5L1075.7 1060.7L1100.7 1058.4L1100.9 1058.4V1191.8H175.7Z" fill="#92c1c7"/><path d="M175.7 1059.4L200.7 1058.2L225.7 1057.1L250.7 1056.2L275.7 1055.6L300.7 1055.3L325.7 1055.3L350.7 1055.3L375.7 1055.2L400.7 1055.2L425.7 1055.2L450.7 1055.2L475.7 1055.7L500.7 1056.5L525.7 1057.6L550.7 1059.9L575.7 1063.8L600.7 1067.3L625.7 1070.4L650.7 1070.9L675.7 1070.5L700.7 1069.8L725.7 1068.1L750.7 1064.2L775.7 1060.2L800.7 1057.8L825.7 1058.1L850.7 1058.8L875.7 1059.8L900.7 1060.7L925.7 1061.9L950.7 1063.4L975.7 1064.6L1000.7 1065.1L1025.7 1064.7L1050.7 1063.5L1075.7 1061.7L1100.7 1059.4L1100.9 1059.4V1191.8H175.7Z" fill="#93bfc7"/><path d="M175.7 1060.4L200.7 1059.2L225.7 1058.1L250.7 1057.2L275.7 1056.6L300.7 1056.3L325.7 1056.3L350.7 1056.3L375.7 1056.2L400.7 1056.2L425.7 1056.2L450.7 1056.2L475.7 1056.6L500.7 1057.5L525.7 1058.6L550.7 1060.9L575.7 1064.9L600.7 1068.3L625.7 1071.5L650.7 1072L675.7 1071.6L700.7 1070.9L725.7 1069.1L750.7 1065.3L775.7 1061.2L800.7 1058.8L825.7 1059.1L850.7 1059.8L875.7 1060.8L900.7 1061.7L925.7 1062.9L950.7 1064.4L975.7 1065.6L1000.7 1066.1L1025.7 1065.7L1050.7 1064.5L1075.7 1062.7L1100.7 1060.4L1100.9 1060.4V1191.8H175.7Z" fill="#93bec7"/><path d="M175.7 1061.4L200.7 1060.2L225.7 1059.1L250.7 1058.2L275.7 1057.6L300.7 1057.3L325.7 1057.3L350.7 1057.3L375.7 1057.2L400.7 1057.2L425.7 1057.2L450.7 1057.3L475.7 1057.7L500.7 1058.5L525.7 1059.7L550.7 1062L575.7 1066L600.7 1069.4L625.7 1072.6L650.7 1073.1L675.7 1072.7L700.7 1072L725.7 1070.2L750.7 1066.3L775.7 1062.4L800.7 1059.9L825.7 1060.2L850.7 1060.9L875.7 1061.9L900.7 1062.8L925.7 1064L950.7 1065.5L975.7 1066.7L1000.7 1067.2L1025.7 1066.8L1050.7 1065.6L1075.7 1063.8L1100.7 1061.4L1100.9 1061.4V1191.8H175.7Z" fill="#94bdc7"/><path d="M175.7 1062.5L200.7 1061.3L225.7 1060.2L250.7 1059.3L275.7 1058.7L300.7 1058.4L325.7 1058.4L350.7 1058.4L375.7 1058.3L400.7 1058.3L425.7 1058.3L450.7 1058.4L475.7 1058.8L500.7 1059.7L525.7 1060.8L550.7 1063.2L575.7 1067.1L600.7 1070.6L625.7 1073.7L650.7 1074.2L675.7 1073.8L700.7 1073.1L725.7 1071.4L750.7 1067.5L775.7 1063.5L800.7 1061L825.7 1061.3L850.7 1062.1L875.7 1063L900.7 1064L925.7 1065.2L950.7 1066.6L975.7 1067.9L1000.7 1068.4L1025.7 1067.9L1050.7 1066.8L1075.7 1064.9L1100.7 1062.5L1100.9 1062.5V1191.8H175.7Z" fill="#95bbc7"/><path d="M175.7 1063.6L200.7 1062.4L225.7 1061.3L250.7 1060.4L275.7 1059.7L300.7 1059.5L325.7 1059.5L350.7 1059.4L375.7 1059.4L400.7 1059.4L425.7 1059.4L450.7 1059.5L475.7 1059.9L500.7 1060.8L525.7 1061.9L550.7 1064.4L575.7 1068.3L600.7 1071.7L625.7 1074.9L650.7 1075.4L675.7 1075L700.7 1074.3L725.7 1072.5L750.7 1068.6L775.7 1064.7L800.7 1062.2L825.7 1062.5L850.7 1063.2L875.7 1064.2L900.7 1065.1L925.7 1066.3L950.7 1067.8L975.7 1069L1000.7 1069.5L1025.7 1069.1L1050.7 1067.9L1075.7 1066L1100.7 1063.6L1100.9 1063.6V1191.8H175.7Z" fill="#95b9c7"/><path d="M175.7 1064.8L200.7 1063.5L225.7 1062.4L250.7 1061.4L275.7 1060.8L300.7 1060.6L325.7 1060.6L350.7 1060.5L375.7 1060.5L400.7 1060.5L425.7 1060.5L450.7 1060.6L475.7 1061L500.7 1061.9L525.7 1063.1L550.7 1065.5L575.7 1069.4L600.7 1072.9L625.7 1076L650.7 1076.5L675.7 1076.1L700.7 1075.4L725.7 1073.6L750.7 1069.8L775.7 1065.8L800.7 1063.3L825.7 1063.6L850.7 1064.4L875.7 1065.3L900.7 1066.3L925.7 1067.5L950.7 1068.9L975.7 1070.2L1000.7 1070.7L1025.7 1070.2L1050.7 1069.1L1075.7 1067.2L1100.7 1064.8L1100.9 1064.8V1191.8H175.7Z" fill="#96b8c7"/><path d="M175.7 1065.9L200.7 1064.6L225.7 1063.5L250.7 1062.5L275.7 1061.9L300.7 1061.6L325.7 1061.6L350.7 1061.6L375.7 1061.6L400.7 1061.6L425.7 1061.6L450.7 1061.7L475.7 1062.1L500.7 1063L525.7 1064.2L550.7 1066.7L575.7 1070.6L600.7 1074L625.7 1077.2L650.7 1077.7L675.7 1077.3L700.7 1076.6L725.7 1074.8L750.7 1070.9L775.7 1067L800.7 1064.5L825.7 1064.8L850.7 1065.5L875.7 1066.5L900.7 1067.4L925.7 1068.6L950.7 1070.1L975.7 1071.3L1000.7 1071.8L1025.7 1071.4L1050.7 1070.2L1075.7 1068.3L1100.7 1065.9L1100.9 1065.9V1191.8H175.7Z" fill="#97b6c7"/><path d="M175.7 1067.1L200.7 1065.8L225.7 1064.6L250.7 1063.6L275.7 1063L300.7 1062.7L325.7 1062.7L350.7 1062.7L375.7 1062.7L400.7 1062.7L425.7 1062.7L450.7 1062.8L475.7 1063.2L500.7 1064.1L525.7 1065.4L550.7 1067.8L575.7 1071.7L600.7 1075.2L625.7 1078.3L650.7 1078.8L675.7 1078.4L700.7 1077.7L725.7 1075.9L750.7 1072.1L775.7 1068.1L800.7 1065.6L825.7 1065.9L850.7 1066.7L875.7 1067.6L900.7 1068.6L925.7 1069.8L950.7 1071.2L975.7 1072.5L1000.7 1073L1025.7 1072.5L1050.7 1071.4L1075.7 1069.5L1100.7 1067.1L1100.9 1067.1V1191.8H175.7Z" fill="#97b5c6"/><path d="M175.7 1068.3L200.7 1067L225.7 1065.8L250.7 1064.8L275.7 1064.1L300.7 1063.9L325.7 1063.9L350.7 1063.9L375.7 1063.9L400.7 1063.9L425.7 1063.9L450.7 1063.9L475.7 1064.4L500.7 1065.4L525.7 1066.6L550.7 1069L575.7 1072.9L600.7 1076.3L625.7 1079.5L650.7 1080L675.7 1079.6L700.7 1078.9L725.7 1077.2L750.7 1073.3L775.7 1069.3L800.7 1066.8L825.7 1067.1L850.7 1067.9L875.7 1068.8L900.7 1069.8L925.7 1071L950.7 1072.5L975.7 1073.7L1000.7 1074.2L1025.7 1073.8L1050.7 1072.6L1075.7 1070.7L1100.7 1068.3L1100.9 1068.3V1191.8H175.7Z" fill="#98b3c6"/><path d="M175.7 1069.6L200.7 1068.3L225.7 1067.1L250.7 1066.1L275.7 1065.4L300.7 1065.2L325.7 1065.2L350.7 1065.2L375.7 1065.2L400.7 1065.2L425.7 1065.2L450.7 1065.2L475.7 1065.7L500.7 1066.6L525.7 1067.9L550.7 1070.3L575.7 1074.2L600.7 1077.6L625.7 1080.8L650.7 1081.3L675.7 1080.9L700.7 1080.2L725.7 1078.4L750.7 1074.6L775.7 1070.6L800.7 1068.1L825.7 1068.4L850.7 1069.2L875.7 1070.1L900.7 1071.1L925.7 1072.3L950.7 1073.7L975.7 1075L1000.7 1075.5L1025.7 1075L1050.7 1073.9L1075.7 1072L1100.7 1069.6L1100.9 1069.6V1191.8H175.7Z" fill="#99b1c6"/><path d="M175.7 1070.9L200.7 1069.6L225.7 1068.4L250.7 1067.4L275.7 1066.7L300.7 1066.5L325.7 1066.5L350.7 1066.5L375.7 1066.5L400.7 1066.5L425.7 1066.5L450.7 1066.5L475.7 1067L500.7 1068L525.7 1069.2L550.7 1071.6L575.7 1075.5L600.7 1079L625.7 1082.1L650.7 1082.6L675.7 1082.2L700.7 1081.5L725.7 1079.8L750.7 1075.9L775.7 1071.9L800.7 1069.4L825.7 1069.7L850.7 1070.5L875.7 1071.4L900.7 1072.4L925.7 1073.6L950.7 1075.1L975.7 1076.3L1000.7 1076.8L1025.7 1076.4L1050.7 1075.2L1075.7 1073.3L1100.7 1070.9L1100.9 1070.9V1191.8H175.7Z" fill="#99b0c6"/><path d="M175.7 1072.2L200.7 1070.9L225.7 1069.7L250.7 1068.7L275.7 1068L300.7 1067.8L325.7 1067.8L350.7 1067.8L375.7 1067.8L400.7 1067.8L425.7 1067.8L450.7 1067.8L475.7 1068.3L500.7 1069.3L525.7 1070.5L550.7 1072.9L575.7 1076.8L600.7 1080.3L625.7 1083.4L650.7 1083.9L675.7 1083.5L700.7 1082.8L725.7 1081.1L750.7 1077.2L775.7 1073.2L800.7 1070.7L825.7 1071L850.7 1071.8L875.7 1072.7L900.7 1073.7L925.7 1074.9L950.7 1076.4L975.7 1077.6L1000.7 1078.1L1025.7 1077.7L1050.7 1076.5L1075.7 1074.6L1100.7 1072.2L1100.9 1072.2V1191.8H175.7Z" fill="#9aaec6"/><path d="M175.7 1073.5L200.7 1072.2L225.7 1071L250.7 1070L275.7 1069.3L300.7 1069.1L325.7 1069.1L350.7 1069.1L375.7 1069.1L400.7 1069.1L425.7 1069.1L450.7 1069.2L475.7 1069.7L500.7 1070.6L525.7 1071.8L550.7 1074.2L575.7 1078.1L600.7 1081.6L625.7 1084.8L650.7 1085.2L675.7 1084.9L700.7 1084.1L725.7 1082.4L750.7 1078.5L775.7 1074.6L800.7 1072L825.7 1072.4L850.7 1073.1L875.7 1074.1L900.7 1075L925.7 1076.2L950.7 1077.7L975.7 1078.9L1000.7 1079.4L1025.7 1079L1050.7 1077.8L1075.7 1075.9L1100.7 1073.5L1100.9 1073.5V1191.8H175.7Z" fill="#9badc6"/><path d="M175.7 1074.9L200.7 1073.6L225.7 1072.4L250.7 1071.3L275.7 1070.7L300.7 1070.5L325.7 1070.5L350.7 1070.5L375.7 1070.5L400.7 1070.5L425.7 1070.5L450.7 1070.5L475.7 1071L500.7 1071.9L525.7 1073.1L550.7 1075.6L575.7 1079.5L600.7 1082.9L625.7 1086.1L650.7 1086.6L675.7 1086.2L700.7 1085.5L725.7 1083.8L750.7 1079.8L775.7 1075.9L800.7 1073.4L825.7 1073.7L850.7 1074.4L875.7 1075.4L900.7 1076.4L925.7 1077.6L950.7 1079L975.7 1080.2L1000.7 1080.8L1025.7 1080.3L1050.7 1079.2L1075.7 1077.2L1100.7 1074.9L1100.9 1074.9V1191.8H175.7Z" fill="#9cabc5"/><path d="M175.7 1076.6L200.7 1075.3L225.7 1074.1L250.7 1073.1L275.7 1072.4L300.7 1072.1L325.7 1072.1L350.7 1072.1L375.7 1072.1L400.7 1072.1L425.7 1072.1L450.7 1072.2L475.7 1072.7L500.7 1073.6L525.7 1074.9L550.7 1077.3L575.7 1081.2L600.7 1084.6L625.7 1087.8L650.7 1088.3L675.7 1087.9L700.7 1087.2L725.7 1085.4L750.7 1081.6L775.7 1077.6L800.7 1075.1L825.7 1075.4L850.7 1076.1L875.7 1077.1L900.7 1078.1L925.7 1079.3L950.7 1080.7L975.7 1081.9L1000.7 1082.4L1025.7 1082L1050.7 1080.8L1075.7 1079L1100.7 1076.6L1100.9 1076.6V1191.8H175.7Z" fill="#9da9c5"/><path d="M175.7 1078.6L200.7 1077.3L225.7 1076.1L250.7 1075.1L275.7 1074.4L300.7 1074.2L325.7 1074.2L350.7 1074.2L375.7 1074.2L400.7 1074.2L425.7 1074.2L450.7 1074.2L475.7 1074.7L500.7 1075.6L525.7 1076.9L550.7 1079.3L575.7 1083.2L600.7 1086.6L625.7 1089.8L650.7 1090.3L675.7 1089.9L700.7 1089.2L725.7 1087.4L750.7 1083.6L775.7 1079.6L800.7 1077.1L825.7 1077.4L850.7 1078.2L875.7 1079.1L900.7 1080.1L925.7 1081.3L950.7 1082.7L975.7 1084L1000.7 1084.5L1025.7 1084L1050.7 1082.8L1075.7 1081L1100.7 1078.6L1100.9 1078.6V1191.8H175.7Z" fill="#9da8c5"/><path d="M175.7 1080.6L200.7 1079.3L225.7 1078.1L250.7 1077.1L275.7 1076.4L300.7 1076.2L325.7 1076.2L350.7 1076.2L375.7 1076.2L400.7 1076.2L425.7 1076.2L450.7 1076.2L475.7 1076.7L500.7 1077.6L525.7 1078.9L550.7 1081.3L575.7 1085.2L600.7 1088.6L625.7 1091.8L650.7 1092.3L675.7 1091.9L700.7 1091.2L725.7 1089.4L750.7 1085.6L775.7 1081.6L800.7 1079.1L825.7 1079.4L850.7 1080.2L875.7 1081.1L900.7 1082.1L925.7 1083.3L950.7 1084.7L975.7 1086L1000.7 1086.5L1025.7 1086L1050.7 1084.9L1075.7 1083L1100.7 1080.6L1100.9 1080.6V1191.8H175.7Z" fill="#9ea6c4"/><path d="M175.7 1082.6L200.7 1081.3L225.7 1080.1L250.7 1079.1L275.7 1078.4L300.7 1078.2L325.7 1078.2L350.7 1078.2L375.7 1078.2L400.7 1078.2L425.7 1078.2L450.7 1078.2L475.7 1078.7L500.7 1079.6L525.7 1080.9L550.7 1083.3L575.7 1087.2L600.7 1090.7L625.7 1093.8L650.7 1094.3L675.7 1093.9L700.7 1093.2L725.7 1091.4L750.7 1087.6L775.7 1083.6L800.7 1081.1L825.7 1081.4L850.7 1082.2L875.7 1083.1L900.7 1084.1L925.7 1085.3L950.7 1086.7L975.7 1088L1000.7 1088.5L1025.7 1088L1050.7 1086.9L1075.7 1085L1100.7 1082.6L1100.9 1082.6V1191.8H175.7Z" fill="#9fa4c4"/><path d="M175.7 1085.9L200.7 1084.6L225.7 1083.4L250.7 1082.4L275.7 1081.7L300.7 1081.5L325.7 1081.5L350.7 1081.5L375.7 1081.5L400.7 1081.5L425.7 1081.5L450.7 1081.5L475.7 1082L500.7 1083L525.7 1084.2L550.7 1086.6L575.7 1090.5L600.7 1094L625.7 1097.1L650.7 1097.6L675.7 1097.2L700.7 1096.5L725.7 1094.8L750.7 1090.9L775.7 1086.9L800.7 1084.4L825.7 1084.7L850.7 1085.5L875.7 1086.4L900.7 1087.4L925.7 1088.6L950.7 1090.1L975.7 1091.3L1000.7 1091.8L1025.7 1091.4L1050.7 1090.2L1075.7 1088.3L1100.7 1085.9L1100.9 1085.9V1191.8H175.7Z" fill="#a0a2c3"/><path d="M175.7 1094.7L200.7 1093.3L225.7 1093.3L250.7 1091.8L275.7 1090.4L300.7 1090.4L325.7 1090.4L350.7 1090.4L375.7 1090.4L400.7 1090.4L425.7 1090.4L450.7 1090.4L475.7 1091.8L500.7 1091.8L525.7 1093.3L550.7 1096.2L575.7 1100.5L600.7 1103.4L625.7 1106.3L650.7 1106.3L675.7 1106.3L700.7 1106.3L725.7 1103.4L750.7 1100.5L775.7 1096.2L800.7 1093.3L825.7 1094.7L850.7 1094.7L875.7 1096.2L900.7 1096.2L925.7 1097.6L950.7 1099.1L975.7 1100.5L1000.7 1100.5L1025.7 1100.5L1050.7 1099.1L1075.7 1097.6L1100.7 1094.7L1100.9 1094.7V1191.8H175.7Z" fill="#a0a0c3"/></g>
<path d="M175.7 19V1196M638.3 19V1196M1100.9 19V1196M157.1 92.6H1119.8M157.1 239.7H1119.8M157.1 386.8H1119.8M157.1 533.9H1119.8M157.1 681.1H1119.8M157.1 828.2H1119.8M157.1 975.3H1119.8M157.1 1122.4H1119.8" stroke="#b0b0b0" stroke-width="3.8" fill="none"/>
<path clip-path="url(#c0)" d="M175.7 85.3L181.9 85.2L188 85.1L194.2 85.1L200.4 85.1L206.5 85.1L212.7 85.2L218.9 85.3L225 85.5L231.2 85.6L237.4 85.9L243.5 86.1L249.7 86.4L255.9 86.7L262.1 87L268.2 87.4L274.4 87.8L280.6 88.2L286.7 88.6L292.9 89.1L299.1 89.5L305.2 90L311.4 90.5L317.6 91L323.7 91.5L329.9 92L336.1 92.6L342.2 93.1L348.4 93.7L354.6 94.2L360.7 94.8L366.9 95.4L373.1 96L379.2 96.7L385.4 97.3L391.6 98L397.7 98.6L403.9 99.3L410.1 100.1L416.3 100.8L422.4 101.5L428.6 102.2L434.8 103L440.9 103.7L447.1 104.4L453.3 105.2L459.4 105.9L465.6 106.6L471.8 107.3L477.9 108L484.1 108.8L490.3 109.5L496.4 110.2L502.6 110.8L508.8 111.5L514.9 112.2L521.1 112.9L527.3 113.5L533.4 114.2L539.6 114.8L545.8 115.5L551.9 116.1L558.1 116.8L564.3 117.4L570.5 118L576.6 118.6L582.8 119.2L589 119.8L595.1 120.3L601.3 120.8L607.5 121.3L613.6 121.7L619.8 122.2L626 122.6L632.1 122.9L638.3 123.2L644.5 123.5L650.6 123.7L656.8 124L663 124.2L669.1 124.3L675.3 124.5L681.5 124.6L687.6 124.6L693.8 124.7L700 124.6L706.1 124.6L712.3 124.5L718.5 124.4L724.7 124.2L730.8 124L737 123.7L743.2 123.4L749.3 123.1L755.5 122.7L761.7 122.3L767.8 121.8L774 121.3L780.2 120.8L786.3 120.3L792.5 119.7L798.7 119.1L804.8 118.4L811 117.8L817.2 117.1L823.3 116.3L829.5 115.6L835.7 114.8L841.8 114L848 113.2L854.2 112.4L860.3 111.5L866.5 110.7L872.7 109.8L878.9 108.9L885 108L891.2 107.1L897.4 106.2L903.5 105.3L909.7 104.4L915.9 103.5L922 102.6L928.2 101.7L934.4 100.9L940.5 100L946.7 99.1L952.9 98.3L959 97.5L965.2 96.7L971.4 95.9L977.5 95.1L983.7 94.4L989.9 93.6L996 92.9L1002.2 92.2L1008.4 91.5L1014.5 90.9L1020.7 90.3L1026.9 89.7L1033.1 89.1L1039.2 88.6L1045.4 88.1L1051.6 87.7L1057.7 87.2L1063.9 86.8L1070.1 86.5L1076.2 86.2L1082.4 85.9L1088.6 85.7L1094.7 85.4L1100.9 85.3" stroke="#9bd93c" stroke-width="2.7" fill="none"/>
<path clip-path="url(#c0)" d="M175.7 98.7L181.9 98.5L188 98.4L194.2 98.3L200.4 98.3L206.5 98.3L212.7 98.4L218.9 98.5L225 98.6L231.2 98.8L237.4 99L243.5 99.2L249.7 99.5L255.9 99.8L262.1 100.2L268.2 100.6L274.4 101L280.6 101.5L286.7 102L292.9 102.5L299.1 103L305.2 103.6L311.4 104.1L317.6 104.7L323.7 105.3L329.9 105.9L336.1 106.5L342.2 107.2L348.4 107.8L354.6 108.5L360.7 109.1L366.9 109.8L373.1 110.5L379.2 111.2L385.4 112L391.6 112.7L397.7 113.5L403.9 114.2L410.1 115L416.3 115.8L422.4 116.5L428.6 117.3L434.8 118L440.9 118.8L447.1 119.5L453.3 120.3L459.4 121L465.6 121.8L471.8 122.5L477.9 123.2L484.1 124L490.3 124.7L496.4 125.4L502.6 126.2L508.8 126.9L514.9 127.6L521.1 128.4L527.3 129.2L533.4 129.9L539.6 130.7L545.8 131.5L551.9 132.3L558.1 133.1L564.3 133.9L570.5 134.7L576.6 135.4L582.8 136.2L589 136.9L595.1 137.6L601.3 138.3L607.5 138.9L613.6 139.5L619.8 140.1L626 140.6L632.1 141L638.3 141.4L644.5 141.8L650.6 142.1L656.8 142.3L663 142.5L669.1 142.7L675.3 142.8L681.5 142.9L687.6 142.9L693.8 142.9L700 142.8L706.1 142.7L712.3 142.6L718.5 142.4L724.7 142.2L730.8 141.9L737 141.6L743.2 141.2L749.3 140.8L755.5 140.4L761.7 139.9L767.8 139.4L774 138.9L780.2 138.4L786.3 137.8L792.5 137.2L798.7 136.5L804.8 135.9L811 135.2L817.2 134.4L823.3 133.7L829.5 132.9L835.7 132.1L841.8 131.2L848 130.4L854.2 129.5L860.3 128.5L866.5 127.6L872.7 126.6L878.9 125.6L885 124.7L891.2 123.7L897.4 122.7L903.5 121.7L909.7 120.7L915.9 119.7L922 118.7L928.2 117.7L934.4 116.7L940.5 115.8L946.7 114.8L952.9 113.8L959 112.9L965.2 112L971.4 111.1L977.5 110.2L983.7 109.3L989.9 108.4L996 107.6L1002.2 106.8L1008.4 106L1014.5 105.3L1020.7 104.5L1026.9 103.9L1033.1 103.2L1039.2 102.6L1045.4 102L1051.6 101.5L1057.7 101L1063.9 100.5L1070.1 100.1L1076.2 99.8L1082.4 99.4L1088.6 99.1L1094.7 98.9L1100.9 98.7" stroke="#4ec36b" stroke-width="2.7" fill="none"/>
<path clip-path="url(#c0)" d="M175.7 110.5L181.9 110.3L188 110.2L194.2 110.1L200.4 110L206.5 110L212.7 110L218.9 110.1L225 110.3L231.2 110.4L237.4 110.7L243.5 110.9L249.7 111.2L255.9 111.6L262.1 112L268.2 112.4L274.4 112.8L280.6 113.3L286.7 113.8L292.9 114.4L299.1 114.9L305.2 115.5L311.4 116.1L317.6 116.8L323.7 117.4L329.9 118L336.1 118.7L342.2 119.4L348.4 120.1L354.6 120.8L360.7 121.5L366.9 122.3L373.1 123L379.2 123.8L385.4 124.6L391.6 125.4L397.7 126.2L403.9 127.1L410.1 127.9L416.3 128.8L422.4 129.7L428.6 130.5L434.8 131.4L440.9 132.3L447.1 133.1L453.3 134L459.4 134.8L465.6 135.6L471.8 136.5L477.9 137.3L484.1 138.2L490.3 139L496.4 139.8L502.6 140.7L508.8 141.5L514.9 142.3L521.1 143.2L527.3 144L533.4 144.9L539.6 145.7L545.8 146.6L551.9 147.4L558.1 148.2L564.3 149.1L570.5 149.9L576.6 150.6L582.8 151.4L589 152.1L595.1 152.9L601.3 153.5L607.5 154.2L613.6 154.8L619.8 155.3L626 155.8L632.1 156.3L638.3 156.7L644.5 157.1L650.6 157.4L656.8 157.7L663 157.9L669.1 158.2L675.3 158.3L681.5 158.4L687.6 158.5L693.8 158.6L700 158.5L706.1 158.5L712.3 158.4L718.5 158.2L724.7 158L730.8 157.8L737 157.5L743.2 157.1L749.3 156.7L755.5 156.3L761.7 155.8L767.8 155.3L774 154.8L780.2 154.2L786.3 153.6L792.5 152.9L798.7 152.2L804.8 151.5L811 150.7L817.2 149.9L823.3 149.1L829.5 148.2L835.7 147.3L841.8 146.4L848 145.4L854.2 144.4L860.3 143.4L866.5 142.3L872.7 141.3L878.9 140.2L885 139.1L891.2 138L897.4 136.9L903.5 135.8L909.7 134.6L915.9 133.5L922 132.4L928.2 131.3L934.4 130.2L940.5 129.2L946.7 128.1L952.9 127L959 126L965.2 124.9L971.4 123.9L977.5 122.9L983.7 121.9L989.9 120.9L996 120L1002.2 119.1L1008.4 118.3L1014.5 117.4L1020.7 116.7L1026.9 115.9L1033.1 115.2L1039.2 114.6L1045.4 114L1051.6 113.4L1057.7 112.9L1063.9 112.4L1070.1 112L1076.2 111.6L1082.4 111.2L1088.6 110.9L1094.7 110.7L1100.9 110.5" stroke="#22a884" stroke-width="2.7" fill="none"/>
<path clip-path="url(#c0)" d="M175.7 120.1L181.9 119.9L188 119.7L194.2 119.6L200.4 119.6L206.5 119.6L212.7 119.6L218.9 119.7L225 119.8L231.2 120L237.4 120.3L243.5 120.6L249.7 120.9L255.9 121.3L262.1 121.7L268.2 122.1L274.4 122.6L280.6 123.1L286.7 123.7L292.9 124.3L299.1 124.9L305.2 125.5L311.4 126.2L317.6 126.8L323.7 127.5L329.9 128.2L336.1 128.9L342.2 129.6L348.4 130.3L354.6 131.1L360.7 131.9L366.9 132.7L373.1 133.5L379.2 134.3L385.4 135.2L391.6 136.1L397.7 137L403.9 137.9L410.1 138.9L416.3 139.9L422.4 140.9L428.6 141.8L434.8 142.8L440.9 143.8L447.1 144.8L453.3 145.8L459.4 146.7L465.6 147.7L471.8 148.7L477.9 149.6L484.1 150.6L490.3 151.6L496.4 152.5L502.6 153.5L508.8 154.4L514.9 155.3L521.1 156.3L527.3 157.2L533.4 158.1L539.6 159L545.8 159.9L551.9 160.8L558.1 161.7L564.3 162.6L570.5 163.4L576.6 164.3L582.8 165.1L589 165.8L595.1 166.5L601.3 167.2L607.5 167.9L613.6 168.5L619.8 169.1L626 169.6L632.1 170.1L638.3 170.5L644.5 170.9L650.6 171.3L656.8 171.6L663 171.8L669.1 172.1L675.3 172.3L681.5 172.4L687.6 172.6L693.8 172.6L700 172.6L706.1 172.6L712.3 172.5L718.5 172.4L724.7 172.2L730.8 172L737 171.7L743.2 171.3L749.3 170.9L755.5 170.5L761.7 170L767.8 169.5L774 168.9L780.2 168.3L786.3 167.6L792.5 166.9L798.7 166.2L804.8 165.4L811 164.6L817.2 163.8L823.3 162.9L829.5 161.9L835.7 161L841.8 159.9L848 158.9L854.2 157.8L860.3 156.7L866.5 155.5L872.7 154.3L878.9 153.1L885 151.8L891.2 150.6L897.4 149.4L903.5 148.1L909.7 146.9L915.9 145.6L922 144.4L928.2 143.2L934.4 141.9L940.5 140.7L946.7 139.5L952.9 138.3L959 137.1L965.2 136L971.4 134.8L977.5 133.7L983.7 132.6L989.9 131.6L996 130.5L1002.2 129.5L1008.4 128.6L1014.5 127.7L1020.7 126.8L1026.9 126L1033.1 125.3L1039.2 124.5L1045.4 123.9L1051.6 123.2L1057.7 122.7L1063.9 122.1L1070.1 121.7L1076.2 121.3L1082.4 120.9L1088.6 120.6L1094.7 120.3L1100.9 120.1" stroke="#218e8d" stroke-width="2.7" fill="none"/>
<path clip-path="url(#c0)" d="M175.7 128.4L181.9 128.2L188 128L194.2 127.9L200.4 127.8L206.5 127.8L212.7 127.8L218.9 127.9L225 128.1L231.2 128.3L237.4 128.6L243.5 128.9L249.7 129.3L255.9 129.7L262.1 130.1L268.2 130.6L274.4 131.2L280.6 131.7L286.7 132.3L292.9 133L299.1 133.7L305.2 134.4L311.4 135.1L317.6 135.8L323.7 136.6L329.9 137.3L336.1 138.1L342.2 138.9L348.4 139.8L354.6 140.6L360.7 141.5L366.9 142.3L373.1 143.2L379.2 144.2L385.4 145.1L391.6 146.1L397.7 147.1L403.9 148.1L410.1 149.1L416.3 150.2L422.4 151.2L428.6 152.2L434.8 153.3L440.9 154.3L447.1 155.3L453.3 156.3L459.4 157.4L465.6 158.4L471.8 159.4L477.9 160.4L484.1 161.4L490.3 162.4L496.4 163.4L502.6 164.4L508.8 165.4L514.9 166.4L521.1 167.4L527.3 168.4L533.4 169.4L539.6 170.3L545.8 171.3L551.9 172.3L558.1 173.3L564.3 174.2L570.5 175.2L576.6 176.1L582.8 177L589 177.8L595.1 178.6L601.3 179.4L607.5 180.1L613.6 180.8L619.8 181.5L626 182.1L632.1 182.6L638.3 183.1L644.5 183.6L650.6 184L656.8 184.3L663 184.7L669.1 185L675.3 185.2L681.5 185.4L687.6 185.5L693.8 185.6L700 185.7L706.1 185.7L712.3 185.6L718.5 185.5L724.7 185.3L730.8 185.1L737 184.8L743.2 184.4L749.3 184L755.5 183.5L761.7 182.9L767.8 182.4L774 181.7L780.2 181.1L786.3 180.4L792.5 179.6L798.7 178.8L804.8 177.9L811 177L817.2 176.1L823.3 175.1L829.5 174.1L835.7 173L841.8 171.9L848 170.7L854.2 169.5L860.3 168.3L866.5 167L872.7 165.7L878.9 164.4L885 163.1L891.2 161.7L897.4 160.4L903.5 159.1L909.7 157.7L915.9 156.4L922 155L928.2 153.7L934.4 152.4L940.5 151L946.7 149.7L952.9 148.4L959 147.2L965.2 145.9L971.4 144.7L977.5 143.4L983.7 142.2L989.9 141.1L996 140L1002.2 138.9L1008.4 137.8L1014.5 136.9L1020.7 135.9L1026.9 135L1033.1 134.2L1039.2 133.4L1045.4 132.6L1051.6 131.9L1057.7 131.3L1063.9 130.7L1070.1 130.2L1076.2 129.7L1082.4 129.3L1088.6 128.9L1094.7 128.6L1100.9 128.4" stroke="#2a788e" stroke-width="2.7" fill="none"/>
<path clip-path="url(#c0)" d="M175.7 135.9L181.9 135.6L188 135.4L194.2 135.3L200.4 135.2L206.5 135.2L212.7 135.2L218.9 135.3L225 135.5L231.2 135.7L237.4 136L243.5 136.3L249.7 136.7L255.9 137.1L262.1 137.6L268.2 138.2L274.4 138.7L280.6 139.3L286.7 140L292.9 140.7L299.1 141.4L305.2 142.2L311.4 142.9L317.6 143.7L323.7 144.5L329.9 145.4L336.1 146.2L342.2 147.1L348.4 148L354.6 148.9L360.7 149.9L366.9 150.8L373.1 151.8L379.2 152.8L385.4 153.8L391.6 154.9L397.7 155.9L403.9 157L410.1 158.2L416.3 159.3L422.4 160.4L428.6 161.5L434.8 162.6L440.9 163.8L447.1 164.9L453.3 166L459.4 167.1L465.6 168.2L471.8 169.2L477.9 170.3L484.1 171.4L490.3 172.5L496.4 173.6L502.6 174.6L508.8 175.7L514.9 176.8L521.1 177.8L527.3 178.9L533.4 180L539.6 181.1L545.8 182.1L551.9 183.2L558.1 184.2L564.3 185.3L570.5 186.3L576.6 187.3L582.8 188.2L589 189.2L595.1 190.1L601.3 190.9L607.5 191.7L613.6 192.5L619.8 193.2L626 193.9L632.1 194.5L638.3 195L644.5 195.5L650.6 196L656.8 196.4L663 196.8L669.1 197.1L675.3 197.4L681.5 197.6L687.6 197.8L693.8 197.9L700 197.9L706.1 197.9L712.3 197.9L718.5 197.7L724.7 197.5L730.8 197.3L737 196.9L743.2 196.5L749.3 196L755.5 195.5L761.7 194.8L767.8 194.2L774 193.4L780.2 192.7L786.3 191.8L792.5 190.9L798.7 190L804.8 189L811 188L817.2 186.9L823.3 185.8L829.5 184.6L835.7 183.4L841.8 182.2L848 180.9L854.2 179.6L860.3 178.2L866.5 176.9L872.7 175.5L878.9 174.1L885 172.7L891.2 171.2L897.4 169.8L903.5 168.4L909.7 167L915.9 165.6L922 164.2L928.2 162.8L934.4 161.4L940.5 160L946.7 158.6L952.9 157.3L959 155.9L965.2 154.6L971.4 153.3L977.5 152L983.7 150.8L989.9 149.5L996 148.3L1002.2 147.2L1008.4 146.1L1014.5 145L1020.7 144L1026.9 143.1L1033.1 142.1L1039.2 141.3L1045.4 140.5L1051.6 139.7L1057.7 139.1L1063.9 138.4L1070.1 137.9L1076.2 137.3L1082.4 136.9L1088.6 136.5L1094.7 136.1L1100.9 135.9" stroke="#32648e" stroke-width="2.7" fill="none"/>
<path clip-path="url(#c0)" d="M175.7 142.3L181.9 142L188 141.8L194.2 141.7L200.4 141.6L206.5 141.6L212.7 141.6L218.9 141.7L225 141.9L231.2 142.1L237.4 142.4L243.5 142.8L249.7 143.2L255.9 143.7L262.1 144.2L268.2 144.8L274.4 145.4L280.6 146.1L286.7 146.8L292.9 147.5L299.1 148.3L305.2 149.1L311.4 149.9L317.6 150.8L323.7 151.7L329.9 152.6L336.1 153.5L342.2 154.4L348.4 155.4L354.6 156.4L360.7 157.4L366.9 158.5L373.1 159.5L379.2 160.6L385.4 161.7L391.6 162.9L397.7 164L403.9 165.2L410.1 166.4L416.3 167.6L422.4 168.8L428.6 170L434.8 171.2L440.9 172.4L447.1 173.6L453.3 174.8L459.4 176L465.6 177.2L471.8 178.3L477.9 179.5L484.1 180.7L490.3 181.8L496.4 183L502.6 184.1L508.8 185.3L514.9 186.4L521.1 187.5L527.3 188.7L533.4 189.8L539.6 191L545.8 192.1L551.9 193.2L558.1 194.4L564.3 195.5L570.5 196.5L576.6 197.6L582.8 198.6L589 199.6L595.1 200.6L601.3 201.5L607.5 202.4L613.6 203.2L619.8 204L626 204.7L632.1 205.3L638.3 205.9L644.5 206.5L650.6 207L656.8 207.5L663 207.9L669.1 208.3L675.3 208.6L681.5 208.8L687.6 209.1L693.8 209.2L700 209.3L706.1 209.3L712.3 209.2L718.5 209.1L724.7 208.9L730.8 208.6L737 208.3L743.2 207.8L749.3 207.3L755.5 206.6L761.7 205.9L767.8 205.2L774 204.4L780.2 203.5L786.3 202.5L792.5 201.5L798.7 200.5L804.8 199.4L811 198.2L817.2 197L823.3 195.7L829.5 194.4L835.7 193.1L841.8 191.7L848 190.3L854.2 188.9L860.3 187.4L866.5 185.9L872.7 184.4L878.9 182.9L885 181.4L891.2 179.8L897.4 178.3L903.5 176.8L909.7 175.3L915.9 173.8L922 172.3L928.2 170.8L934.4 169.3L940.5 167.8L946.7 166.3L952.9 164.9L959 163.5L965.2 162.1L971.4 160.7L977.5 159.3L983.7 158L989.9 156.7L996 155.4L1002.2 154.2L1008.4 153L1014.5 151.9L1020.7 150.8L1026.9 149.8L1033.1 148.9L1039.2 148L1045.4 147.1L1051.6 146.3L1057.7 145.6L1063.9 145L1070.1 144.4L1076.2 143.8L1082.4 143.3L1088.6 142.9L1094.7 142.6L1100.9 142.3" stroke="#3b528b" stroke-width="2.7" fill="none"/>
<path clip-path="url(#c0)" d="M175.7 147.9L181.9 147.7L188 147.5L194.2 147.4L200.4 147.3L206.5 147.3L212.7 147.4L218.9 147.6L225 147.8L231.2 148.1L237.4 148.4L243.5 148.8L249.7 149.3L255.9 149.8L262.1 150.4L268.2 151L274.4 151.7L280.6 152.4L286.7 153.2L292.9 154L299.1 154.9L305.2 155.7L311.4 156.6L317.6 157.5L323.7 158.4L329.9 159.4L336.1 160.4L342.2 161.3L348.4 162.4L354.6 163.4L360.7 164.5L366.9 165.5L373.1 166.6L379.2 167.8L385.4 168.9L391.6 170.1L397.7 171.3L403.9 172.6L410.1 173.8L416.3 175.1L422.4 176.4L428.6 177.7L434.8 178.9L440.9 180.2L447.1 181.5L453.3 182.7L459.4 184L465.6 185.2L471.8 186.5L477.9 187.7L484.1 188.9L490.3 190.2L496.4 191.4L502.6 192.6L508.8 193.8L514.9 195L521.1 196.2L527.3 197.4L533.4 198.6L539.6 199.9L545.8 201.1L551.9 202.3L558.1 203.5L564.3 204.6L570.5 205.8L576.6 206.9L582.8 208L589 209.1L595.1 210.1L601.3 211.1L607.5 212.1L613.6 212.9L619.8 213.8L626 214.6L632.1 215.3L638.3 215.9L644.5 216.5L650.6 217.1L656.8 217.6L663 218.1L669.1 218.5L675.3 218.9L681.5 219.2L687.6 219.5L693.8 219.7L700 219.8L706.1 219.8L712.3 219.8L718.5 219.7L724.7 219.5L730.8 219.2L737 218.8L743.2 218.3L749.3 217.7L755.5 217L761.7 216.3L767.8 215.4L774 214.5L780.2 213.5L786.3 212.5L792.5 211.4L798.7 210.2L804.8 209L811 207.7L817.2 206.4L823.3 205L829.5 203.6L835.7 202.1L841.8 200.6L848 199.1L854.2 197.5L860.3 195.9L866.5 194.3L872.7 192.6L878.9 191L885 189.3L891.2 187.7L897.4 186L903.5 184.4L909.7 182.7L915.9 181.1L922 179.4L928.2 177.8L934.4 176.2L940.5 174.6L946.7 173.1L952.9 171.5L959 170L965.2 168.5L971.4 167L977.5 165.6L983.7 164.2L989.9 162.8L996 161.5L1002.2 160.2L1008.4 159L1014.5 157.8L1020.7 156.7L1026.9 155.6L1033.1 154.6L1039.2 153.7L1045.4 152.8L1051.6 152L1057.7 151.3L1063.9 150.6L1070.1 150L1076.2 149.4L1082.4 148.9L1088.6 148.5L1094.7 148.1L1100.9 147.9" stroke="#424086" stroke-width="2.7" fill="none"/>
<path clip-path="url(#c0)" d="M175.7 152.8L181.9 152.5L188 152.3L194.2 152.2L200.4 152.1L206.5 152.2L212.7 152.2L218.9 152.4L225 152.6L231.2 152.9L237.4 153.3L243.5 153.7L249.7 154.2L255.9 154.7L262.1 155.3L268.2 156L274.4 156.7L280.6 157.5L286.7 158.3L292.9 159.1L299.1 160L305.2 160.9L311.4 161.9L317.6 162.9L323.7 163.9L329.9 164.9L336.1 166L342.2 167.1L348.4 168.2L354.6 169.3L360.7 170.5L366.9 171.7L373.1 172.9L379.2 174.1L385.4 175.4L391.6 176.7L397.7 178L403.9 179.3L410.1 180.7L416.3 182.1L422.4 183.4L428.6 184.8L434.8 186.2L440.9 187.5L447.1 188.9L453.3 190.2L459.4 191.5L465.6 192.9L471.8 194.2L477.9 195.5L484.1 196.8L490.3 198.1L496.4 199.4L502.6 200.7L508.8 202L514.9 203.2L521.1 204.5L527.3 205.8L533.4 207.1L539.6 208.3L545.8 209.6L551.9 210.9L558.1 212.2L564.3 213.4L570.5 214.6L576.6 215.8L582.8 217L589 218.1L595.1 219.2L601.3 220.3L607.5 221.2L613.6 222.2L619.8 223.1L626 223.9L632.1 224.7L638.3 225.3L644.5 226L650.6 226.5L656.8 227.1L663 227.6L669.1 228L675.3 228.4L681.5 228.7L687.6 229L693.8 229.2L700 229.3L706.1 229.3L712.3 229.2L718.5 229.1L724.7 228.8L730.8 228.5L737 228L743.2 227.5L749.3 226.9L755.5 226.1L761.7 225.3L767.8 224.4L774 223.4L780.2 222.3L786.3 221.2L792.5 220L798.7 218.7L804.8 217.4L811 216L817.2 214.6L823.3 213.1L829.5 211.6L835.7 210L841.8 208.4L848 206.8L854.2 205.1L860.3 203.4L866.5 201.6L872.7 199.8L878.9 198.1L885 196.3L891.2 194.5L897.4 192.8L903.5 191L909.7 189.2L915.9 187.5L922 185.7L928.2 184L934.4 182.3L940.5 180.6L946.7 179L952.9 177.3L959 175.7L965.2 174.1L971.4 172.6L977.5 171.1L983.7 169.6L989.9 168.2L996 166.8L1002.2 165.5L1008.4 164.2L1014.5 163L1020.7 161.8L1026.9 160.7L1033.1 159.7L1039.2 158.7L1045.4 157.8L1051.6 157L1057.7 156.2L1063.9 155.5L1070.1 154.9L1076.2 154.3L1082.4 153.8L1088.6 153.4L1094.7 153L1100.9 152.8" stroke="#46307e" stroke-width="2.7" fill="none"/>
<path clip-path="url(#c0)" d="M175.7 156.9L181.9 156.6L188 156.4L194.2 156.3L200.4 156.3L206.5 156.3L212.7 156.4L218.9 156.6L225 156.8L231.2 157.2L237.4 157.6L243.5 158L249.7 158.5L255.9 159.1L262.1 159.8L268.2 160.5L274.4 161.2L280.6 162L286.7 162.9L292.9 163.8L299.1 164.8L305.2 165.8L311.4 166.8L317.6 167.9L323.7 169L329.9 170.1L336.1 171.2L342.2 172.4L348.4 173.6L354.6 174.9L360.7 176.1L366.9 177.4L373.1 178.7L379.2 180L385.4 181.4L391.6 182.8L397.7 184.2L403.9 185.6L410.1 187L416.3 188.5L422.4 189.9L428.6 191.3L434.8 192.8L440.9 194.2L447.1 195.6L453.3 197L459.4 198.4L465.6 199.8L471.8 201.2L477.9 202.5L484.1 203.9L490.3 205.2L496.4 206.6L502.6 207.9L508.8 209.3L514.9 210.6L521.1 211.9L527.3 213.2L533.4 214.6L539.6 215.9L545.8 217.3L551.9 218.6L558.1 219.9L564.3 221.2L570.5 222.5L576.6 223.8L582.8 225L589 226.2L595.1 227.4L601.3 228.5L607.5 229.5L613.6 230.5L619.8 231.5L626 232.3L632.1 233.1L638.3 233.8L644.5 234.5L650.6 235.1L656.8 235.7L663 236.2L669.1 236.6L675.3 237L681.5 237.3L687.6 237.6L693.8 237.7L700 237.8L706.1 237.8L712.3 237.7L718.5 237.5L724.7 237.2L730.8 236.8L737 236.3L743.2 235.7L749.3 235L755.5 234.2L761.7 233.3L767.8 232.3L774 231.2L780.2 230.1L786.3 228.9L792.5 227.6L798.7 226.2L804.8 224.8L811 223.4L817.2 221.8L823.3 220.2L829.5 218.6L835.7 216.9L841.8 215.2L848 213.4L854.2 211.6L860.3 209.8L866.5 208L872.7 206.1L878.9 204.2L885 202.3L891.2 200.4L897.4 198.5L903.5 196.6L909.7 194.8L915.9 192.9L922 191.1L928.2 189.2L934.4 187.4L940.5 185.7L946.7 183.9L952.9 182.2L959 180.5L965.2 178.8L971.4 177.2L977.5 175.6L983.7 174.1L989.9 172.6L996 171.2L1002.2 169.8L1008.4 168.5L1014.5 167.3L1020.7 166.1L1026.9 164.9L1033.1 163.9L1039.2 162.9L1045.4 162L1051.6 161.1L1057.7 160.3L1063.9 159.6L1070.1 159L1076.2 158.4L1082.4 157.9L1088.6 157.5L1094.7 157.1L1100.9 156.9" stroke="#482475" stroke-width="2.7" fill="none"/>
<path clip-path="url(#c0)" d="M175.7 160.8L181.9 160.6L188 160.4L194.2 160.3L200.4 160.2L206.5 160.3L212.7 160.4L218.9 160.6L225 160.9L231.2 161.2L237.4 161.6L243.5 162.1L249.7 162.6L255.9 163.2L262.1 163.9L268.2 164.6L274.4 165.4L280.6 166.3L286.7 167.2L292.9 168.1L299.1 169.1L305.2 170.2L311.4 171.2L317.6 172.3L323.7 173.5L329.9 174.6L336.1 175.8L342.2 177.1L348.4 178.3L354.6 179.6L360.7 180.9L366.9 182.2L373.1 183.6L379.2 185L385.4 186.4L391.6 187.9L397.7 189.3L403.9 190.8L410.1 192.4L416.3 193.9L422.4 195.4L428.6 196.9L434.8 198.4L440.9 200L447.1 201.5L453.3 202.9L459.4 204.4L465.6 205.9L471.8 207.4L477.9 208.8L484.1 210.3L490.3 211.7L496.4 213.1L502.6 214.6L508.8 216L514.9 217.4L521.1 218.8L527.3 220.2L533.4 221.6L539.6 223.1L545.8 224.5L551.9 225.9L558.1 227.3L564.3 228.7L570.5 230.1L576.6 231.5L582.8 232.8L589 234.1L595.1 235.4L601.3 236.5L607.5 237.7L613.6 238.7L619.8 239.7L626 240.7L632.1 241.5L638.3 242.2L644.5 242.9L650.6 243.5L656.8 244.1L663 244.6L669.1 245L675.3 245.4L681.5 245.7L687.6 245.9L693.8 246L700 246L706.1 245.9L712.3 245.7L718.5 245.5L724.7 245.1L730.8 244.6L737 244.1L743.2 243.4L749.3 242.6L755.5 241.7L761.7 240.7L767.8 239.6L774 238.4L780.2 237.2L786.3 235.9L792.5 234.5L798.7 233.1L804.8 231.6L811 230L817.2 228.4L823.3 226.7L829.5 224.9L835.7 223.2L841.8 221.3L848 219.4L854.2 217.5L860.3 215.6L866.5 213.6L872.7 211.6L878.9 209.6L885 207.6L891.2 205.6L897.4 203.5L903.5 201.5L909.7 199.5L915.9 197.6L922 195.6L928.2 193.7L934.4 191.7L940.5 189.9L946.7 188L952.9 186.2L959 184.4L965.2 182.7L971.4 181L977.5 179.4L983.7 177.8L989.9 176.3L996 174.8L1002.2 173.5L1008.4 172.1L1014.5 170.9L1020.7 169.7L1026.9 168.5L1033.1 167.5L1039.2 166.5L1045.4 165.6L1051.6 164.7L1057.7 164L1063.9 163.3L1070.1 162.7L1076.2 162.1L1082.4 161.7L1088.6 161.3L1094.7 161L1100.9 160.8" stroke="#481a6c" stroke-width="2.7" fill="none"/>
<path clip-path="url(#c0)" d="M175.7 164L181.9 163.8L188 163.7L194.2 163.6L200.4 163.6L206.5 163.7L212.7 163.9L218.9 164.1L225 164.4L231.2 164.8L237.4 165.3L243.5 165.8L249.7 166.4L255.9 167.1L262.1 167.8L268.2 168.6L274.4 169.4L280.6 170.3L286.7 171.2L292.9 172.2L299.1 173.3L305.2 174.4L311.4 175.5L317.6 176.6L323.7 177.8L329.9 178.9L336.1 180.2L342.2 181.4L348.4 182.7L354.6 184L360.7 185.3L366.9 186.7L373.1 188.1L379.2 189.5L385.4 191L391.6 192.5L397.7 194L403.9 195.6L410.1 197.2L416.3 198.8L422.4 200.4L428.6 202.1L434.8 203.7L440.9 205.3L447.1 206.9L453.3 208.5L459.4 210.1L465.6 211.7L471.8 213.3L477.9 214.8L484.1 216.4L490.3 217.9L496.4 219.5L502.6 221L508.8 222.5L514.9 224L521.1 225.5L527.3 227L533.4 228.5L539.6 230L545.8 231.5L551.9 233L558.1 234.5L564.3 236L570.5 237.5L576.6 238.9L582.8 240.3L589 241.6L595.1 242.9L601.3 244.2L607.5 245.4L613.6 246.5L619.8 247.5L626 248.4L632.1 249.3L638.3 250L644.5 250.7L650.6 251.3L656.8 251.8L663 252.3L669.1 252.7L675.3 253L681.5 253.2L687.6 253.3L693.8 253.4L700 253.3L706.1 253.1L712.3 252.9L718.5 252.5L724.7 252.1L730.8 251.5L737 250.8L743.2 250L749.3 249.1L755.5 248.1L761.7 247.1L767.8 245.9L774 244.6L780.2 243.3L786.3 241.9L792.5 240.5L798.7 238.9L804.8 237.3L811 235.7L817.2 234L823.3 232.2L829.5 230.3L835.7 228.4L841.8 226.5L848 224.5L854.2 222.5L860.3 220.4L866.5 218.4L872.7 216.2L878.9 214.1L885 212L891.2 209.8L897.4 207.7L903.5 205.6L909.7 203.5L915.9 201.4L922 199.3L928.2 197.3L934.4 195.3L940.5 193.3L946.7 191.4L952.9 189.5L959 187.6L965.2 185.9L971.4 184.1L977.5 182.4L983.7 180.8L989.9 179.3L996 177.8L1002.2 176.4L1008.4 175L1014.5 173.8L1020.7 172.6L1026.9 171.4L1033.1 170.4L1039.2 169.4L1045.4 168.5L1051.6 167.7L1057.7 166.9L1063.9 166.3L1070.1 165.7L1076.2 165.2L1082.4 164.8L1088.6 164.4L1094.7 164.2L1100.9 164" stroke="#471063" stroke-width="2.7" fill="none"/>
<path clip-path="url(#c0)" d="M175.7 166.8L181.9 166.6L188 166.5L194.2 166.5L200.4 166.6L206.5 166.7L212.7 166.9L218.9 167.2L225 167.6L231.2 168L237.4 168.5L243.5 169.1L249.7 169.7L255.9 170.5L262.1 171.2L268.2 172.1L274.4 173L280.6 173.9L286.7 174.9L292.9 176L299.1 177L305.2 178.2L311.4 179.3L317.6 180.5L323.7 181.7L329.9 182.9L336.1 184.1L342.2 185.4L348.4 186.7L354.6 188.1L360.7 189.5L366.9 190.9L373.1 192.3L379.2 193.8L385.4 195.3L391.6 196.9L397.7 198.5L403.9 200.2L410.1 201.9L416.3 203.6L422.4 205.3L428.6 207L434.8 208.8L440.9 210.5L447.1 212.2L453.3 213.9L459.4 215.6L465.6 217.4L471.8 219.1L477.9 220.7L484.1 222.4L490.3 224.1L496.4 225.7L502.6 227.3L508.8 228.9L514.9 230.5L521.1 232.1L527.3 233.6L533.4 235.2L539.6 236.8L545.8 238.3L551.9 239.9L558.1 241.5L564.3 243L570.5 244.5L576.6 246L582.8 247.4L589 248.8L595.1 250.1L601.3 251.4L607.5 252.6L613.6 253.7L619.8 254.7L626 255.7L632.1 256.5L638.3 257.2L644.5 257.9L650.6 258.5L656.8 259L663 259.4L669.1 259.7L675.3 260L681.5 260.1L687.6 260.2L693.8 260.2L700 260L706.1 259.8L712.3 259.5L718.5 259L724.7 258.5L730.8 257.9L737 257.1L743.2 256.2L749.3 255.2L755.5 254.1L761.7 252.9L767.8 251.7L774 250.3L780.2 248.9L786.3 247.4L792.5 245.8L798.7 244.2L804.8 242.5L811 240.8L817.2 238.9L823.3 237L829.5 235.1L835.7 233.1L841.8 231.1L848 229L854.2 226.9L860.3 224.7L866.5 222.5L872.7 220.3L878.9 218L885 215.8L891.2 213.6L897.4 211.3L903.5 209.1L909.7 206.9L915.9 204.7L922 202.6L928.2 200.4L934.4 198.4L940.5 196.3L946.7 194.3L952.9 192.3L959 190.4L965.2 188.6L971.4 186.8L977.5 185.1L983.7 183.4L989.9 181.9L996 180.3L1002.2 178.9L1008.4 177.5L1014.5 176.3L1020.7 175L1026.9 173.9L1033.1 172.9L1039.2 171.9L1045.4 171L1051.6 170.2L1057.7 169.5L1063.9 168.8L1070.1 168.3L1076.2 167.8L1082.4 167.4L1088.6 167.1L1094.7 166.9L1100.9 166.8" stroke="#46085c" stroke-width="2.7" fill="none"/>
<path clip-path="url(#c0)" d="M175.7 169.3L181.9 169.2L188 169.1L194.2 169.1L200.4 169.2L206.5 169.4L212.7 169.7L218.9 170L225 170.4L231.2 170.9L237.4 171.5L243.5 172.1L249.7 172.8L255.9 173.5L262.1 174.4L268.2 175.2L274.4 176.2L280.6 177.2L286.7 178.3L292.9 179.4L299.1 180.5L305.2 181.7L311.4 182.9L317.6 184.1L323.7 185.4L329.9 186.7L336.1 188L342.2 189.4L348.4 190.7L354.6 192.2L360.7 193.6L366.9 195.1L373.1 196.6L379.2 198.2L385.4 199.8L391.6 201.4L397.7 203.1L403.9 204.8L410.1 206.6L416.3 208.4L422.4 210.2L428.6 212L434.8 213.8L440.9 215.6L447.1 217.4L453.3 219.2L459.4 221L465.6 222.8L471.8 224.5L477.9 226.3L484.1 228L490.3 229.8L496.4 231.5L502.6 233.2L508.8 234.8L514.9 236.5L521.1 238.1L527.3 239.7L533.4 241.3L539.6 242.9L545.8 244.6L551.9 246.2L558.1 247.8L564.3 249.4L570.5 250.9L576.6 252.5L582.8 254L589 255.4L595.1 256.7L601.3 258L607.5 259.3L613.6 260.4L619.8 261.4L626 262.4L632.1 263.2L638.3 263.9L644.5 264.6L650.6 265.1L656.8 265.6L663 265.9L669.1 266.2L675.3 266.4L681.5 266.5L687.6 266.5L693.8 266.4L700 266.2L706.1 265.9L712.3 265.5L718.5 264.9L724.7 264.3L730.8 263.5L737 262.7L743.2 261.7L749.3 260.6L755.5 259.4L761.7 258.1L767.8 256.7L774 255.3L780.2 253.7L786.3 252.1L792.5 250.5L798.7 248.7L804.8 246.9L811 245L817.2 243.1L823.3 241.1L829.5 239.1L835.7 237L841.8 234.8L848 232.7L854.2 230.5L860.3 228.2L866.5 225.9L872.7 223.6L878.9 221.3L885 219L891.2 216.6L897.4 214.3L903.5 212L909.7 209.7L915.9 207.4L922 205.1L928.2 202.9L934.4 200.7L940.5 198.6L946.7 196.5L952.9 194.5L959 192.5L965.2 190.6L971.4 188.8L977.5 187L983.7 185.3L989.9 183.7L996 182.2L1002.2 180.8L1008.4 179.4L1014.5 178.2L1020.7 177L1026.9 175.9L1033.1 174.8L1039.2 173.9L1045.4 173.1L1051.6 172.3L1057.7 171.6L1063.9 171L1070.1 170.5L1076.2 170.1L1082.4 169.8L1088.6 169.5L1094.7 169.4L1100.9 169.3" stroke="#440154" stroke-width="2.7" fill="none"/>
<path clip-path="url(#c0)" d="M175.7 171.5L181.9 171.4L188 171.4L194.2 171.5L200.4 171.6L206.5 171.8L212.7 172.1L218.9 172.5L225 173L231.2 173.5L237.4 174.1L243.5 174.8L249.7 175.5L255.9 176.3L262.1 177.2L268.2 178.2L274.4 179.2L280.6 180.3L286.7 181.4L292.9 182.6L299.1 183.8L305.2 185L311.4 186.3L317.6 187.6L323.7 189L329.9 190.4L336.1 191.8L342.2 193.2L348.4 194.7L354.6 196.2L360.7 197.7L366.9 199.3L373.1 200.9L379.2 202.5L385.4 204.2L391.6 205.9L397.7 207.7L403.9 209.5L410.1 211.3L416.3 213.2L422.4 215.1L428.6 216.9L434.8 218.8L440.9 220.7L447.1 222.5L453.3 224.4L459.4 226.2L465.6 228.1L471.8 229.9L477.9 231.7L484.1 233.5L490.3 235.3L496.4 237L502.6 238.7L508.8 240.4L514.9 242.1L521.1 243.8L527.3 245.4L533.4 247.1L539.6 248.7L545.8 250.4L551.9 252L558.1 253.6L564.3 255.3L570.5 256.8L576.6 258.4L582.8 259.8L589 261.3L595.1 262.6L601.3 263.9L607.5 265.1L613.6 266.3L619.8 267.3L626 268.2L632.1 269L638.3 269.7L644.5 270.3L650.6 270.8L656.8 271.3L663 271.6L669.1 271.9L675.3 272L681.5 272.1L687.6 272L693.8 271.9L700 271.6L706.1 271.2L712.3 270.8L718.5 270.2L724.7 269.4L730.8 268.6L737 267.6L743.2 266.6L749.3 265.4L755.5 264.1L761.7 262.7L767.8 261.2L774 259.6L780.2 258L786.3 256.2L792.5 254.4L798.7 252.6L804.8 250.7L811 248.7L817.2 246.6L823.3 244.5L829.5 242.4L835.7 240.2L841.8 238L848 235.7L854.2 233.4L860.3 231.1L866.5 228.7L872.7 226.4L878.9 224L885 221.6L891.2 219.2L897.4 216.8L903.5 214.4L909.7 212.1L915.9 209.7L922 207.4L928.2 205.1L934.4 202.9L940.5 200.7L946.7 198.6L952.9 196.5L959 194.5L965.2 192.6L971.4 190.7L977.5 188.9L983.7 187.2L989.9 185.6L996 184.1L1002.2 182.7L1008.4 181.3L1014.5 180L1020.7 178.9L1026.9 177.8L1033.1 176.7L1039.2 175.8L1045.4 175L1051.6 174.2L1057.7 173.6L1063.9 173L1070.1 172.5L1076.2 172.2L1082.4 171.9L1088.6 171.6L1094.7 171.5L1100.9 171.5" stroke="#440154" stroke-width="2.7" fill="none"/>
<path clip-path="url(#c0)" d="M175.7 173.4L181.9 173.4L188 173.4L194.2 173.5L200.4 173.7L206.5 174L212.7 174.3L218.9 174.7L225 175.2L231.2 175.8L237.4 176.5L243.5 177.2L249.7 178.1L255.9 178.9L262.1 179.9L268.2 180.9L274.4 182L280.6 183.1L286.7 184.3L292.9 185.6L299.1 186.9L305.2 188.2L311.4 189.6L317.6 191L323.7 192.4L329.9 193.9L336.1 195.3L342.2 196.9L348.4 198.4L354.6 200L360.7 201.6L366.9 203.3L373.1 204.9L379.2 206.7L385.4 208.4L391.6 210.2L397.7 212.1L403.9 213.9L410.1 215.9L416.3 217.8L422.4 219.7L428.6 221.7L434.8 223.6L440.9 225.6L447.1 227.5L453.3 229.4L459.4 231.3L465.6 233.2L471.8 235.1L477.9 237L484.1 238.8L490.3 240.6L496.4 242.4L502.6 244.2L508.8 245.9L514.9 247.7L521.1 249.4L527.3 251L533.4 252.7L539.6 254.4L545.8 256.1L551.9 257.8L558.1 259.4L564.3 261L570.5 262.6L576.6 264.2L582.8 265.6L589 267.1L595.1 268.4L601.3 269.7L607.5 270.9L613.6 272L619.8 273L626 273.9L632.1 274.7L638.3 275.3L644.5 275.9L650.6 276.3L656.8 276.7L663 277L669.1 277.2L675.3 277.3L681.5 277.2L687.6 277.1L693.8 276.9L700 276.5L706.1 276.1L712.3 275.5L718.5 274.8L724.7 274L730.8 273L737 272L743.2 270.8L749.3 269.5L755.5 268L761.7 266.5L767.8 264.9L774 263.2L780.2 261.5L786.3 259.6L792.5 257.7L798.7 255.8L804.8 253.7L811 251.6L817.2 249.5L823.3 247.3L829.5 245.1L835.7 242.8L841.8 240.5L848 238.2L854.2 235.8L860.3 233.5L866.5 231.1L872.7 228.7L878.9 226.2L885 223.8L891.2 221.4L897.4 218.9L903.5 216.5L909.7 214.1L915.9 211.7L922 209.4L928.2 207L934.4 204.8L940.5 202.6L946.7 200.4L952.9 198.3L959 196.3L965.2 194.3L971.4 192.4L977.5 190.7L983.7 188.9L989.9 187.3L996 185.8L1002.2 184.3L1008.4 183L1014.5 181.7L1020.7 180.5L1026.9 179.4L1033.1 178.4L1039.2 177.5L1045.4 176.7L1051.6 175.9L1057.7 175.3L1063.9 174.8L1070.1 174.3L1076.2 173.9L1082.4 173.7L1088.6 173.5L1094.7 173.4L1100.9 173.4" stroke="#440154" stroke-width="2.7" fill="none"/>
<path clip-path="url(#c0)" d="M175.7 175.1L181.9 175.1L188 175.1L194.2 175.3L200.4 175.5L206.5 175.8L212.7 176.2L218.9 176.7L225 177.2L231.2 177.9L237.4 178.6L243.5 179.4L249.7 180.2L255.9 181.2L262.1 182.2L268.2 183.2L274.4 184.4L280.6 185.6L286.7 186.9L292.9 188.2L299.1 189.6L305.2 191L311.4 192.4L317.6 193.9L323.7 195.4L329.9 197L336.1 198.6L342.2 200.2L348.4 201.8L354.6 203.5L360.7 205.2L366.9 207L373.1 208.8L379.2 210.6L385.4 212.4L391.6 214.3L397.7 216.2L403.9 218.2L410.1 220.2L416.3 222.2L422.4 224.2L428.6 226.2L434.8 228.2L440.9 230.2L447.1 232.2L453.3 234.2L459.4 236.1L465.6 238.1L471.8 240L477.9 241.9L484.1 243.8L490.3 245.7L496.4 247.5L502.6 249.3L508.8 251.1L514.9 252.8L521.1 254.6L527.3 256.2L533.4 257.9L539.6 259.6L545.8 261.3L551.9 263L558.1 264.6L564.3 266.2L570.5 267.8L576.6 269.3L582.8 270.7L589 272.1L595.1 273.5L601.3 274.7L607.5 275.8L613.6 276.9L619.8 277.9L626 278.7L632.1 279.4L638.3 280L644.5 280.5L650.6 280.9L656.8 281.3L663 281.5L669.1 281.6L675.3 281.7L681.5 281.6L687.6 281.4L693.8 281.1L700 280.7L706.1 280.2L712.3 279.6L718.5 278.8L724.7 277.9L730.8 276.9L737 275.7L743.2 274.5L749.3 273.1L755.5 271.5L761.7 269.9L767.8 268.2L774 266.4L780.2 264.5L786.3 262.6L792.5 260.6L798.7 258.5L804.8 256.4L811 254.2L817.2 252L823.3 249.7L829.5 247.4L835.7 245L841.8 242.7L848 240.3L854.2 237.9L860.3 235.4L866.5 233L872.7 230.5L878.9 228.1L885 225.6L891.2 223.1L897.4 220.7L903.5 218.2L909.7 215.8L915.9 213.4L922 211L928.2 208.7L934.4 206.4L940.5 204.2L946.7 202L952.9 199.9L959 197.8L965.2 195.9L971.4 194L977.5 192.2L983.7 190.4L989.9 188.8L996 187.3L1002.2 185.8L1008.4 184.5L1014.5 183.2L1020.7 182L1026.9 180.9L1033.1 179.9L1039.2 179L1045.4 178.2L1051.6 177.5L1057.7 176.9L1063.9 176.3L1070.1 175.9L1076.2 175.5L1082.4 175.3L1088.6 175.1L1094.7 175.1L1100.9 175.1" stroke="#440154" stroke-width="2.7" fill="none"/>
<path clip-path="url(#c0)" d="M175.7 176.6L181.9 176.6L188 176.7L194.2 176.9L200.4 177.1L206.5 177.5L212.7 177.9L218.9 178.4L225 179L231.2 179.6L237.4 180.4L243.5 181.2L249.7 182.1L255.9 183.1L262.1 184.2L268.2 185.3L274.4 186.5L280.6 187.8L286.7 189.1L292.9 190.5L299.1 191.9L305.2 193.4L311.4 195L317.6 196.5L323.7 198.1L329.9 199.7L336.1 201.4L342.2 203.1L348.4 204.9L354.6 206.7L360.7 208.5L366.9 210.3L373.1 212.2L379.2 214.1L385.4 216L391.6 218L397.7 220L403.9 222.1L410.1 224.1L416.3 226.2L422.4 228.3L428.6 230.4L434.8 232.5L440.9 234.5L447.1 236.6L453.3 238.6L459.4 240.7L465.6 242.7L471.8 244.7L477.9 246.6L484.1 248.6L490.3 250.5L496.4 252.4L502.6 254.2L508.8 256L514.9 257.8L521.1 259.6L527.3 261.3L533.4 263L539.6 264.7L545.8 266.4L551.9 268L558.1 269.7L564.3 271.2L570.5 272.8L576.6 274.3L582.8 275.7L589 277.1L595.1 278.3L601.3 279.5L607.5 280.6L613.6 281.6L619.8 282.5L626 283.3L632.1 284L638.3 284.5L644.5 285L650.6 285.3L656.8 285.5L663 285.7L669.1 285.7L675.3 285.7L681.5 285.5L687.6 285.2L693.8 284.9L700 284.3L706.1 283.7L712.3 283L718.5 282.1L724.7 281.1L730.8 280L737 278.8L743.2 277.5L749.3 276L755.5 274.4L761.7 272.7L767.8 270.9L774 269.1L780.2 267.1L786.3 265.1L792.5 263L798.7 260.9L804.8 258.7L811 256.4L817.2 254.1L823.3 251.8L829.5 249.4L835.7 247L841.8 244.6L848 242.1L854.2 239.6L860.3 237.1L866.5 234.6L872.7 232.1L878.9 229.6L885 227.1L891.2 224.6L897.4 222.1L903.5 219.6L909.7 217.1L915.9 214.7L922 212.3L928.2 210L934.4 207.7L940.5 205.5L946.7 203.3L952.9 201.2L959 199.1L965.2 197.2L971.4 195.3L977.5 193.5L983.7 191.7L989.9 190.1L996 188.6L1002.2 187.1L1008.4 185.8L1014.5 184.5L1020.7 183.3L1026.9 182.2L1033.1 181.2L1039.2 180.3L1045.4 179.5L1051.6 178.8L1057.7 178.2L1063.9 177.7L1070.1 177.3L1076.2 177L1082.4 176.7L1088.6 176.6L1094.7 176.6L1100.9 176.6" stroke="#440154" stroke-width="2.7" fill="none"/>
<path clip-path="url(#c0)" d="M175.7 177.9L181.9 177.9L188 178L194.2 178.2L200.4 178.5L206.5 178.9L212.7 179.3L218.9 179.9L225 180.5L231.2 181.2L237.4 182L243.5 182.8L249.7 183.8L255.9 184.8L262.1 185.9L268.2 187.1L274.4 188.4L280.6 189.7L286.7 191.1L292.9 192.5L299.1 194L305.2 195.6L311.4 197.2L317.6 198.8L323.7 200.5L329.9 202.2L336.1 204L342.2 205.8L348.4 207.6L354.6 209.5L360.7 211.4L366.9 213.4L373.1 215.3L379.2 217.3L385.4 219.4L391.6 221.4L397.7 223.5L403.9 225.6L410.1 227.8L416.3 229.9L422.4 232.1L428.6 234.2L434.8 236.3L440.9 238.5L447.1 240.6L453.3 242.7L459.4 244.7L465.6 246.8L471.8 248.8L477.9 250.8L484.1 252.8L490.3 254.7L496.4 256.7L502.6 258.5L508.8 260.4L514.9 262.2L521.1 263.9L527.3 265.7L533.4 267.4L539.6 269.1L545.8 270.8L551.9 272.5L558.1 274.1L564.3 275.7L570.5 277.3L576.6 278.7L582.8 280.2L589 281.5L595.1 282.7L601.3 283.9L607.5 285L613.6 285.9L619.8 286.8L626 287.5L632.1 288.1L638.3 288.6L644.5 289L650.6 289.2L656.8 289.4L663 289.5L669.1 289.4L675.3 289.2L681.5 289L687.6 288.6L693.8 288.1L700 287.5L706.1 286.8L712.3 285.9L718.5 285L724.7 283.9L730.8 282.7L737 281.4L743.2 280L749.3 278.4L755.5 276.8L761.7 275L767.8 273.2L774 271.3L780.2 269.3L786.3 267.2L792.5 265.1L798.7 262.9L804.8 260.6L811 258.3L817.2 256L823.3 253.6L829.5 251.1L835.7 248.6L841.8 246.2L848 243.6L854.2 241.1L860.3 238.6L866.5 236L872.7 233.5L878.9 230.9L885 228.4L891.2 225.9L897.4 223.3L903.5 220.8L909.7 218.4L915.9 215.9L922 213.5L928.2 211.2L934.4 208.9L940.5 206.6L946.7 204.4L952.9 202.3L959 200.3L965.2 198.3L971.4 196.4L977.5 194.6L983.7 192.9L989.9 191.2L996 189.7L1002.2 188.2L1008.4 186.9L1014.5 185.6L1020.7 184.4L1026.9 183.3L1033.1 182.4L1039.2 181.5L1045.4 180.7L1051.6 180L1057.7 179.4L1063.9 178.9L1070.1 178.5L1076.2 178.2L1082.4 178L1088.6 177.9L1094.7 177.8L1100.9 177.9" stroke="#440154" stroke-width="2.7" fill="none"/>
<path clip-path="url(#c0)" d="M175.7 179L181.9 179L188 179.2L194.2 179.4L200.4 179.7L206.5 180.1L212.7 180.6L218.9 181.1L225 181.8L231.2 182.5L237.4 183.3L243.5 184.3L249.7 185.2L255.9 186.3L262.1 187.5L268.2 188.7L274.4 190L280.6 191.4L286.7 192.8L292.9 194.3L299.1 195.9L305.2 197.5L311.4 199.2L317.6 200.9L323.7 202.7L329.9 204.5L336.1 206.3L342.2 208.2L348.4 210.2L354.6 212.1L360.7 214.1L366.9 216.2L373.1 218.2L379.2 220.3L385.4 222.4L391.6 224.6L397.7 226.7L403.9 228.9L410.1 231.1L416.3 233.3L422.4 235.5L428.6 237.7L434.8 239.9L440.9 242L447.1 244.2L453.3 246.3L459.4 248.4L465.6 250.5L471.8 252.6L477.9 254.6L484.1 256.6L490.3 258.6L496.4 260.5L502.6 262.4L508.8 264.3L514.9 266.1L521.1 267.8L527.3 269.6L533.4 271.3L539.6 273L545.8 274.7L551.9 276.4L558.1 278L564.3 279.5L570.5 281.1L576.6 282.5L582.8 283.9L589 285.2L595.1 286.4L601.3 287.5L607.5 288.5L613.6 289.4L619.8 290.2L626 290.9L632.1 291.4L638.3 291.8L644.5 292.1L650.6 292.3L656.8 292.4L663 292.4L669.1 292.2L675.3 292L681.5 291.7L687.6 291.2L693.8 290.6L700 289.9L706.1 289.1L712.3 288.2L718.5 287.2L724.7 286L730.8 284.8L737 283.4L743.2 281.9L749.3 280.4L755.5 278.7L761.7 276.9L767.8 275L774 273.1L780.2 271L786.3 268.9L792.5 266.7L798.7 264.5L804.8 262.2L811 259.8L817.2 257.4L823.3 255L829.5 252.5L835.7 250L841.8 247.5L848 244.9L854.2 242.4L860.3 239.8L866.5 237.2L872.7 234.7L878.9 232.1L885 229.5L891.2 227L897.4 224.4L903.5 221.9L909.7 219.5L915.9 217L922 214.6L928.2 212.2L934.4 209.9L940.5 207.7L946.7 205.5L952.9 203.4L959 201.3L965.2 199.3L971.4 197.4L977.5 195.6L983.7 193.9L989.9 192.2L996 190.7L1002.2 189.2L1008.4 187.8L1014.5 186.6L1020.7 185.4L1026.9 184.3L1033.1 183.4L1039.2 182.5L1045.4 181.7L1051.6 181L1057.7 180.4L1063.9 179.9L1070.1 179.5L1076.2 179.2L1082.4 179L1088.6 178.9L1094.7 178.9L1100.9 179" stroke="#440154" stroke-width="2.7" fill="none"/>
<path clip-path="url(#c0)" d="M175.7 179.9L181.9 180L188 180.1L194.2 180.4L200.4 180.7L206.5 181.1L212.7 181.6L218.9 182.2L225 182.9L231.2 183.7L237.4 184.5L243.5 185.5L249.7 186.5L255.9 187.6L262.1 188.8L268.2 190.1L274.4 191.4L280.6 192.9L286.7 194.4L292.9 195.9L299.1 197.6L305.2 199.2L311.4 201L317.6 202.8L323.7 204.6L329.9 206.5L336.1 208.4L342.2 210.4L348.4 212.4L354.6 214.5L360.7 216.6L366.9 218.7L373.1 220.8L379.2 223L385.4 225.2L391.6 227.4L397.7 229.6L403.9 231.9L410.1 234.1L416.3 236.4L422.4 238.7L428.6 240.9L434.8 243.1L440.9 245.4L447.1 247.6L453.3 249.8L459.4 251.9L465.6 254.1L471.8 256.2L477.9 258.2L484.1 260.3L490.3 262.3L496.4 264.2L502.6 266.2L508.8 268L514.9 269.9L521.1 271.6L527.3 273.4L533.4 275.1L539.6 276.8L545.8 278.4L551.9 280L558.1 281.6L564.3 283.1L570.5 284.5L576.6 285.9L582.8 287.1L589 288.3L595.1 289.4L601.3 290.5L607.5 291.4L613.6 292.2L619.8 292.9L626 293.5L632.1 294L638.3 294.3L644.5 294.5L650.6 294.7L656.8 294.7L663 294.6L669.1 294.4L675.3 294.1L681.5 293.7L687.6 293.2L693.8 292.6L700 291.8L706.1 291L712.3 290L718.5 289L724.7 287.8L730.8 286.5L737 285.1L743.2 283.6L749.3 282L755.5 280.3L761.7 278.5L767.8 276.6L774 274.6L780.2 272.5L786.3 270.4L792.5 268.2L798.7 265.9L804.8 263.5L811 261.1L817.2 258.7L823.3 256.2L829.5 253.7L835.7 251.2L841.8 248.6L848 246L854.2 243.4L860.3 240.8L866.5 238.2L872.7 235.7L878.9 233.1L885 230.5L891.2 227.9L897.4 225.4L903.5 222.9L909.7 220.4L915.9 217.9L922 215.5L928.2 213.1L934.4 210.8L940.5 208.6L946.7 206.4L952.9 204.2L959 202.2L965.2 200.2L971.4 198.3L977.5 196.4L983.7 194.7L989.9 193.1L996 191.5L1002.2 190L1008.4 188.7L1014.5 187.4L1020.7 186.2L1026.9 185.2L1033.1 184.2L1039.2 183.3L1045.4 182.5L1051.6 181.9L1057.7 181.3L1063.9 180.8L1070.1 180.4L1076.2 180.1L1082.4 179.9L1088.6 179.8L1094.7 179.9L1100.9 179.9" stroke="#440154" stroke-width="2.7" fill="none"/>
<path clip-path="url(#c0)" d="M175.7 180.7L181.9 180.8L188 181L194.2 181.2L200.4 181.6L206.5 182L212.7 182.5L218.9 183.1L225 183.8L231.2 184.6L237.4 185.5L243.5 186.5L249.7 187.6L255.9 188.7L262.1 189.9L268.2 191.2L274.4 192.6L280.6 194.1L286.7 195.6L292.9 197.2L299.1 198.9L305.2 200.6L311.4 202.4L317.6 204.3L323.7 206.2L329.9 208.1L336.1 210.1L342.2 212.2L348.4 214.3L354.6 216.4L360.7 218.5L366.9 220.7L373.1 222.9L379.2 225.2L385.4 227.4L391.6 229.7L397.7 232L403.9 234.3L410.1 236.7L416.3 239L422.4 241.3L428.6 243.6L434.8 245.9L440.9 248.2L447.1 250.4L453.3 252.7L459.4 254.9L465.6 257L471.8 259.2L477.9 261.3L484.1 263.4L490.3 265.4L496.4 267.4L502.6 269.3L508.8 271.2L514.9 273.1L521.1 274.8L527.3 276.6L533.4 278.3L539.6 279.9L545.8 281.5L551.9 283.1L558.1 284.6L564.3 286L570.5 287.4L576.6 288.6L582.8 289.8L589 290.9L595.1 292L601.3 292.9L607.5 293.7L613.6 294.5L619.8 295.1L626 295.6L632.1 296L638.3 296.3L644.5 296.5L650.6 296.6L656.8 296.5L663 296.4L669.1 296.2L675.3 295.9L681.5 295.4L687.6 294.9L693.8 294.2L700 293.4L706.1 292.6L712.3 291.6L718.5 290.5L724.7 289.3L730.8 288L737 286.5L743.2 285L749.3 283.4L755.5 281.7L761.7 279.8L767.8 277.9L774 275.9L780.2 273.8L786.3 271.6L792.5 269.4L798.7 267L804.8 264.7L811 262.2L817.2 259.8L823.3 257.3L829.5 254.7L835.7 252.1L841.8 249.5L848 246.9L854.2 244.3L860.3 241.7L866.5 239.1L872.7 236.5L878.9 233.9L885 231.3L891.2 228.7L897.4 226.2L903.5 223.6L909.7 221.1L915.9 218.7L922 216.3L928.2 213.9L934.4 211.6L940.5 209.3L946.7 207.1L952.9 205L959 202.9L965.2 200.9L971.4 199L977.5 197.2L983.7 195.4L989.9 193.8L996 192.2L1002.2 190.8L1008.4 189.4L1014.5 188.1L1020.7 187L1026.9 185.9L1033.1 184.9L1039.2 184L1045.4 183.3L1051.6 182.6L1057.7 182L1063.9 181.5L1070.1 181.2L1076.2 180.9L1082.4 180.7L1088.6 180.6L1094.7 180.6L1100.9 180.7" stroke="#440154" stroke-width="2.7" fill="none"/>
<path clip-path="url(#c0)" d="M175.7 181.4L181.9 181.5L188 181.7L194.2 181.9L200.4 182.3L206.5 182.7L212.7 183.3L218.9 183.9L225 184.6L231.2 185.5L237.4 186.4L243.5 187.4L249.7 188.4L255.9 189.6L262.1 190.9L268.2 192.2L274.4 193.6L280.6 195.1L286.7 196.7L292.9 198.3L299.1 200.1L305.2 201.8L311.4 203.7L317.6 205.6L323.7 207.6L329.9 209.6L336.1 211.6L342.2 213.7L348.4 215.9L354.6 218.1L360.7 220.3L366.9 222.6L373.1 224.8L379.2 227.1L385.4 229.5L391.6 231.8L397.7 234.2L403.9 236.5L410.1 238.9L416.3 241.2L422.4 243.6L428.6 245.9L434.8 248.3L440.9 250.6L447.1 252.8L453.3 255.1L459.4 257.3L465.6 259.5L471.8 261.7L477.9 263.8L484.1 265.9L490.3 268L496.4 270L502.6 271.9L508.8 273.8L514.9 275.7L521.1 277.4L527.3 279.2L533.4 280.9L539.6 282.5L545.8 284.1L551.9 285.6L558.1 287.1L564.3 288.5L570.5 289.8L576.6 291L582.8 292.2L589 293.2L595.1 294.2L601.3 295.1L607.5 295.8L613.6 296.5L619.8 297L626 297.5L632.1 297.8L638.3 298L644.5 298.1L650.6 298.1L656.8 298L663 297.7L669.1 297.4L675.3 297L681.5 296.4L687.6 295.8L693.8 295L700 294.1L706.1 293.2L712.3 292.1L718.5 290.9L724.7 289.6L730.8 288.3L737 286.8L743.2 285.3L749.3 283.6L755.5 281.9L761.7 280L767.8 278.1L774 276.1L780.2 274L786.3 271.9L792.5 269.7L798.7 267.4L804.8 265L811 262.7L817.2 260.2L823.3 257.8L829.5 255.3L835.7 252.7L841.8 250.2L848 247.6L854.2 245L860.3 242.4L866.5 239.8L872.7 237.2L878.9 234.6L885 232L891.2 229.5L897.4 226.9L903.5 224.4L909.7 221.9L915.9 219.4L922 217L928.2 214.6L934.4 212.3L940.5 210L946.7 207.8L952.9 205.6L959 203.6L965.2 201.6L971.4 199.6L977.5 197.8L983.7 196L989.9 194.4L996 192.8L1002.2 191.4L1008.4 190L1014.5 188.7L1020.7 187.6L1026.9 186.5L1033.1 185.5L1039.2 184.6L1045.4 183.9L1051.6 183.2L1057.7 182.6L1063.9 182.2L1070.1 181.8L1076.2 181.5L1082.4 181.3L1088.6 181.3L1094.7 181.3L1100.9 181.4" stroke="#440154" stroke-width="2.7" fill="none"/>
<path clip-path="url(#c1)" d="M175.7 379.3L181.5 379.3L187.3 379.3L193 379.3L198.8 379.3L204.6 379.3L210.4 379.3L216.2 379.3L222 379.3L227.7 379.3L233.5 379.3L239.3 379.3L245.1 379.4L250.9 379.4L256.7 379.4L262.4 379.4L268.2 379.4L274 379.4L279.8 379.5L285.6 379.5L291.4 379.5L297.1 379.5L302.9 379.5L308.7 379.5L314.5 379.5L320.3 379.5L326 379.5L331.8 379.5L337.6 379.5L343.4 379.5L349.2 379.6L355 379.6L360.7 379.6L366.5 379.7L372.3 379.8L378.1 379.8L383.9 379.9L389.7 380L395.4 380.2L401.2 380.3L407 380.5L412.8 380.6L418.6 380.8L424.3 381L430.1 381.2L435.9 381.4L441.7 381.6L447.5 381.8L453.3 382L459 382.3L464.8 382.6L470.6 382.9L476.4 383.2L482.2 383.5L488 383.8L493.7 384.1L499.5 384.5L505.3 384.8L511.1 385.2L516.9 385.6L522.7 385.9L528.4 386.3L534.2 386.7L540 387L545.8 387.4L551.6 387.8L557.3 388.1L563.1 388.5L568.9 388.8L574.7 389.2L580.5 389.5L586.3 389.8L592 390.1L597.8 390.4L603.6 390.7L609.4 391L615.2 391.2L621 391.4L626.7 391.6L632.5 391.8L638.3 392L644.1 392.2L649.9 392.3L655.6 392.4L661.4 392.6L667.2 392.7L673 392.8L678.8 392.8L684.6 392.9L690.3 393L696.1 393L701.9 393L707.7 393L713.5 393L719.3 393L725 392.9L730.8 392.8L736.6 392.7L742.4 392.6L748.2 392.5L753.9 392.4L759.7 392.2L765.5 392L771.3 391.8L777.1 391.6L782.9 391.4L788.6 391.1L794.4 390.9L800.2 390.6L806 390.3L811.8 389.9L817.6 389.6L823.3 389.2L829.1 388.8L834.9 388.4L840.7 387.9L846.5 387.4L852.3 386.9L858 386.3L863.8 385.8L869.6 385.4L875.4 385.1L881.2 385L886.9 385L892.7 385L898.5 385.1L904.3 385.1L910.1 385.1L915.9 385L921.6 384.9L927.4 384.7L933.2 384.5L939 384.3L944.8 384.1L950.6 383.8L956.3 383.5L962.1 383.3L967.9 383L973.7 382.7L979.5 382.4L985.2 382.1L991 381.9L996.8 381.6L1002.6 381.4L1008.4 381.2L1014.2 381L1019.9 380.8L1025.7 380.6L1031.5 380.5L1037.3 380.3L1043.1 380.2L1048.9 380.1L1054.6 379.9L1060.4 379.8L1066.2 379.7L1072 379.6L1077.8 379.6L1083.6 379.5L1089.3 379.4L1095.1 379.4L1100.9 379.3" stroke="#9bd93c" stroke-width="2.3" fill="none"/>
<path clip-path="url(#c1)" d="M175.7 390.5L181.5 390.4L187.3 390.4L193 390.3L198.8 390.3L204.6 390.2L210.4 390.2L216.2 390.2L222 390.1L227.7 390.1L233.5 390.1L239.3 390.1L245.1 390.1L250.9 390.1L256.7 390.2L262.4 390.2L268.2 390.3L274 390.3L279.8 390.4L285.6 390.5L291.4 390.5L297.1 390.6L302.9 390.8L308.7 390.9L314.5 391L320.3 391.2L326 391.3L331.8 391.5L337.6 391.7L343.4 391.9L349.2 392L355 392.2L360.7 392.4L366.5 392.5L372.3 392.7L378.1 392.8L383.9 392.9L389.7 393L395.4 393L401.2 393.1L407 393.1L412.8 393.1L418.6 393L424.3 392.9L430.1 392.8L435.9 392.6L441.7 392.4L447.5 392L453.3 391.5L459 391.3L464.8 391.1L470.6 391L476.4 390.9L482.2 390.8L488 390.8L493.7 390.8L499.5 390.9L505.3 390.9L511.1 391.1L516.9 391.2L522.7 391.3L528.4 391.5L534.2 391.7L540 391.9L545.8 392.1L551.6 392.3L557.3 392.6L563.1 392.8L568.9 393L574.7 393.3L580.5 393.5L586.3 393.8L592 394L597.8 394.3L603.6 394.5L609.4 394.7L615.2 394.9L621 395.1L626.7 395.2L632.5 395.4L638.3 395.5L644.1 395.6L649.9 395.7L655.6 395.8L661.4 395.8L667.2 395.8L673 395.9L678.8 395.9L684.6 395.9L690.3 396L696.1 396L701.9 396L707.7 396L713.5 396.1L719.3 396.1L725 396.2L730.8 396.2L736.6 396.3L742.4 396.3L748.2 396.4L753.9 396.4L759.7 396.5L765.5 396.5L771.3 396.5L777.1 396.6L782.9 396.6L788.6 396.6L794.4 396.6L800.2 396.6L806 396.6L811.8 396.6L817.6 396.6L823.3 396.7L829.1 396.7L834.9 396.7L840.7 396.7L846.5 396.7L852.3 396.8L858 396.8L863.8 396.8L869.6 396.9L875.4 396.9L881.2 396.9L886.9 396.9L892.7 396.9L898.5 396.9L904.3 396.9L910.1 396.8L915.9 396.7L921.6 396.5L927.4 396.4L933.2 396.2L939 396L944.8 395.8L950.6 395.6L956.3 395.3L962.1 395.1L967.9 394.8L973.7 394.6L979.5 394.3L985.2 394.1L991 393.8L996.8 393.6L1002.6 393.4L1008.4 393.2L1014.2 393L1019.9 392.8L1025.7 392.6L1031.5 392.4L1037.3 392.2L1043.1 392L1048.9 391.9L1054.6 391.7L1060.4 391.5L1066.2 391.4L1072 391.2L1077.8 391.1L1083.6 390.9L1089.3 390.8L1095.1 390.6L1100.9 390.5" stroke="#44bf70" stroke-width="2.3" fill="none"/>
<path clip-path="url(#c1)" d="M175.7 401.1L181.5 401.1L187.3 401L193 401L198.8 401L204.6 401L210.4 401L216.2 401L222 401L227.7 401L233.5 401L239.3 401.1L245.1 401.1L250.9 401.1L256.7 401.1L262.4 401.2L268.2 401.2L274 401.3L279.8 401.3L285.6 401.3L291.4 401.4L297.1 401.4L302.9 401.4L308.7 401.4L314.5 401.5L320.3 401.5L326 401.5L331.8 401.6L337.6 401.6L343.4 401.6L349.2 401.7L355 401.7L360.7 401.7L366.5 401.8L372.3 401.8L378.1 401.9L383.9 401.9L389.7 402L395.4 402.1L401.2 402.2L407 402.3L412.8 402.3L418.6 402.4L424.3 402.6L430.1 402.7L435.9 402.8L441.7 402.9L447.5 403.1L453.3 403.3L459 403.4L464.8 403.6L470.6 403.8L476.4 403.9L482.2 404.1L488 404.3L493.7 404.5L499.5 404.6L505.3 404.8L511.1 404.9L516.9 405.1L522.7 405.2L528.4 405.3L534.2 405.4L540 405.5L545.8 405.5L551.6 405.5L557.3 405.5L563.1 405.5L568.9 405.4L574.7 405.3L580.5 405.1L586.3 405L592 404.8L597.8 404.5L603.6 404.2L609.4 403.8L615.2 403.5L621 403.5L626.7 404.1L632.5 405.1L638.3 405.6L644.1 405.5L649.9 405.4L655.6 405.4L661.4 405.5L667.2 405.6L673 405.8L678.8 406L684.6 406.2L690.3 406.4L696.1 406.6L701.9 406.8L707.7 406.9L713.5 407.1L719.3 407.2L725 407.3L730.8 407.4L736.6 407.5L742.4 407.6L748.2 407.6L753.9 407.7L759.7 407.7L765.5 407.8L771.3 407.8L777.1 407.8L782.9 407.9L788.6 407.9L794.4 407.9L800.2 407.9L806 407.9L811.8 407.9L817.6 407.9L823.3 408L829.1 408L834.9 408L840.7 408L846.5 408L852.3 408.1L858 408.1L863.8 408.1L869.6 408.1L875.4 408.1L881.2 408.2L886.9 408.2L892.7 408.1L898.5 408.1L904.3 408.1L910.1 408L915.9 407.9L921.6 407.7L927.4 407.5L933.2 407.3L939 407.1L944.8 406.9L950.6 406.7L956.3 406.4L962.1 406.1L967.9 405.9L973.7 405.6L979.5 405.3L985.2 405L991 404.8L996.8 404.5L1002.6 404.3L1008.4 404.1L1014.2 403.8L1019.9 403.6L1025.7 403.4L1031.5 403.2L1037.3 402.9L1043.1 402.7L1048.9 402.5L1054.6 402.3L1060.4 402.2L1066.2 402L1072 401.8L1077.8 401.7L1083.6 401.5L1089.3 401.4L1095.1 401.2L1100.9 401.1" stroke="#20a386" stroke-width="2.3" fill="none"/>
<path clip-path="url(#c1)" d="M175.7 410.5L181.5 410.5L187.3 410.5L193 410.4L198.8 410.5L204.6 410.5L210.4 410.5L216.2 410.5L222 410.6L227.7 410.6L233.5 410.7L239.3 410.7L245.1 410.8L250.9 410.8L256.7 410.9L262.4 411L268.2 411L274 411.1L279.8 411.2L285.6 411.2L291.4 411.3L297.1 411.4L302.9 411.4L308.7 411.5L314.5 411.5L320.3 411.6L326 411.6L331.8 411.7L337.6 411.7L343.4 411.8L349.2 411.8L355 411.8L360.7 411.9L366.5 411.9L372.3 411.9L378.1 412L383.9 412L389.7 412L395.4 412.1L401.2 412.1L407 412.2L412.8 412.2L418.6 412.2L424.3 412.3L430.1 412.3L435.9 412.4L441.7 412.4L447.5 412.5L453.3 412.5L459 412.6L464.8 412.7L470.6 412.7L476.4 412.8L482.2 412.9L488 412.9L493.7 413L499.5 413.1L505.3 413.2L511.1 413.3L516.9 413.3L522.7 413.4L528.4 413.5L534.2 413.6L540 413.7L545.8 413.8L551.6 413.9L557.3 414L563.1 414.1L568.9 414.2L574.7 414.2L580.5 414.3L586.3 414.4L592 414.5L597.8 414.6L603.6 414.7L609.4 414.8L615.2 414.9L621 415L626.7 415L632.5 415.1L638.3 415.2L644.1 415.3L649.9 415.4L655.6 415.4L661.4 415.5L667.2 415.6L673 415.7L678.8 415.7L684.6 415.8L690.3 415.9L696.1 415.9L701.9 416L707.7 416.1L713.5 416.2L719.3 416.3L725 416.3L730.8 416.4L736.6 416.5L742.4 416.6L748.2 416.7L753.9 416.8L759.7 416.8L765.5 416.9L771.3 417L777.1 417.1L782.9 417.2L788.6 417.3L794.4 417.4L800.2 417.5L806 417.5L811.8 417.6L817.6 417.7L823.3 417.8L829.1 417.9L834.9 417.9L840.7 418L846.5 418.1L852.3 418.2L858 418.2L863.8 418.3L869.6 418.3L875.4 418.4L881.2 418.4L886.9 418.4L892.7 418.4L898.5 418.4L904.3 418.4L910.1 418.3L915.9 418.1L921.6 418L927.4 417.8L933.2 417.6L939 417.4L944.8 417.1L950.6 416.8L956.3 416.5L962.1 416.2L967.9 415.9L973.7 415.6L979.5 415.3L985.2 415L991 414.7L996.8 414.5L1002.6 414.2L1008.4 413.9L1014.2 413.6L1019.9 413.4L1025.7 413.1L1031.5 412.9L1037.3 412.6L1043.1 412.4L1048.9 412.2L1054.6 411.9L1060.4 411.7L1066.2 411.5L1072 411.3L1077.8 411.1L1083.6 411L1089.3 410.8L1095.1 410.6L1100.9 410.5" stroke="#23898e" stroke-width="2.3" fill="none"/>
<path clip-path="url(#c1)" d="M175.7 419.2L181.5 419.2L187.3 419.1L193 419.1L198.8 419.1L204.6 419.1L210.4 419.2L216.2 419.2L222 419.2L227.7 419.3L233.5 419.3L239.3 419.4L245.1 419.5L250.9 419.5L256.7 419.6L262.4 419.7L268.2 419.8L274 419.8L279.8 419.9L285.6 420L291.4 420.1L297.1 420.2L302.9 420.2L308.7 420.3L314.5 420.4L320.3 420.5L326 420.5L331.8 420.6L337.6 420.6L343.4 420.7L349.2 420.8L355 420.8L360.7 420.9L366.5 420.9L372.3 421L378.1 421.1L383.9 421.1L389.7 421.2L395.4 421.2L401.2 421.3L407 421.3L412.8 421.4L418.6 421.5L424.3 421.5L430.1 421.6L435.9 421.7L441.7 421.7L447.5 421.8L453.3 421.9L459 421.9L464.8 422L470.6 422.1L476.4 422.2L482.2 422.3L488 422.3L493.7 422.4L499.5 422.5L505.3 422.6L511.1 422.7L516.9 422.8L522.7 422.9L528.4 423L534.2 423.1L540 423.1L545.8 423.2L551.6 423.3L557.3 423.4L563.1 423.5L568.9 423.6L574.7 423.7L580.5 423.8L586.3 423.9L592 424L597.8 424.1L603.6 424.1L609.4 424.2L615.2 424.3L621 424.4L626.7 424.5L632.5 424.5L638.3 424.6L644.1 424.7L649.9 424.7L655.6 424.8L661.4 424.9L667.2 424.9L673 425L678.8 425.1L684.6 425.1L690.3 425.2L696.1 425.3L701.9 425.3L707.7 425.4L713.5 425.5L719.3 425.6L725 425.6L730.8 425.7L736.6 425.8L742.4 425.9L748.2 426L753.9 426.1L759.7 426.2L765.5 426.3L771.3 426.4L777.1 426.4L782.9 426.5L788.6 426.6L794.4 426.7L800.2 426.8L806 426.9L811.8 427L817.6 427.1L823.3 427.2L829.1 427.3L834.9 427.3L840.7 427.4L846.5 427.5L852.3 427.6L858 427.6L863.8 427.7L869.6 427.8L875.4 427.8L881.2 427.8L886.9 427.8L892.7 427.8L898.5 427.8L904.3 427.8L910.1 427.7L915.9 427.5L921.6 427.4L927.4 427.2L933.2 427L939 426.7L944.8 426.5L950.6 426.2L956.3 425.9L962.1 425.6L967.9 425.2L973.7 424.9L979.5 424.6L985.2 424.3L991 424L996.8 423.7L1002.6 423.4L1008.4 423.1L1014.2 422.8L1019.9 422.5L1025.7 422.2L1031.5 421.9L1037.3 421.7L1043.1 421.4L1048.9 421.1L1054.6 420.9L1060.4 420.6L1066.2 420.4L1072 420.2L1077.8 419.9L1083.6 419.7L1089.3 419.5L1095.1 419.4L1100.9 419.2" stroke="#2c738e" stroke-width="2.3" fill="none"/>
<path clip-path="url(#c1)" d="M175.7 427.2L181.5 427.2L187.3 427.1L193 427.1L198.8 427.1L204.6 427.1L210.4 427.2L216.2 427.2L222 427.2L227.7 427.3L233.5 427.4L239.3 427.4L245.1 427.5L250.9 427.6L256.7 427.7L262.4 427.8L268.2 427.9L274 428L279.8 428.1L285.6 428.2L291.4 428.3L297.1 428.4L302.9 428.4L308.7 428.5L314.5 428.6L320.3 428.7L326 428.7L331.8 428.8L337.6 428.9L343.4 428.9L349.2 429L355 429.1L360.7 429.1L366.5 429.2L372.3 429.2L378.1 429.3L383.9 429.3L389.7 429.4L395.4 429.4L401.2 429.5L407 429.5L412.8 429.6L418.6 429.7L424.3 429.7L430.1 429.8L435.9 429.9L441.7 429.9L447.5 430L453.3 430.1L459 430.2L464.8 430.2L470.6 430.3L476.4 430.4L482.2 430.5L488 430.6L493.7 430.7L499.5 430.8L505.3 430.9L511.1 431L516.9 431.1L522.7 431.2L528.4 431.3L534.2 431.4L540 431.5L545.8 431.6L551.6 431.7L557.3 431.8L563.1 431.9L568.9 432L574.7 432.1L580.5 432.2L586.3 432.3L592 432.4L597.8 432.5L603.6 432.6L609.4 432.7L615.2 432.8L621 432.9L626.7 433L632.5 433L638.3 433.1L644.1 433.2L649.9 433.2L655.6 433.3L661.4 433.4L667.2 433.4L673 433.5L678.8 433.5L684.6 433.6L690.3 433.7L696.1 433.7L701.9 433.8L707.7 433.9L713.5 434L719.3 434.1L725 434.2L730.8 434.3L736.6 434.4L742.4 434.5L748.2 434.7L753.9 434.8L759.7 434.9L765.5 435L771.3 435.1L777.1 435.3L782.9 435.4L788.6 435.5L794.4 435.6L800.2 435.7L806 435.8L811.8 435.9L817.6 436L823.3 436L829.1 436.1L834.9 436.2L840.7 436.2L846.5 436.2L852.3 436.3L858 436.3L863.8 436.3L869.6 436.3L875.4 436.3L881.2 436.3L886.9 436.3L892.7 436.3L898.5 436.2L904.3 436.2L910.1 436.1L915.9 435.9L921.6 435.8L927.4 435.6L933.2 435.4L939 435.2L944.8 434.9L950.6 434.7L956.3 434.4L962.1 434.1L967.9 433.8L973.7 433.5L979.5 433.2L985.2 432.9L991 432.6L996.8 432.3L1002.6 432L1008.4 431.7L1014.2 431.3L1019.9 431L1025.7 430.7L1031.5 430.4L1037.3 430.1L1043.1 429.8L1048.9 429.5L1054.6 429.2L1060.4 428.9L1066.2 428.6L1072 428.4L1077.8 428.1L1083.6 427.9L1089.3 427.6L1095.1 427.4L1100.9 427.2" stroke="#33628d" stroke-width="2.3" fill="none"/>
<path clip-path="url(#c1)" d="M175.7 434.6L181.5 434.6L187.3 434.6L193 434.6L198.8 434.6L204.6 434.6L210.4 434.7L216.2 434.7L222 434.8L227.7 434.9L233.5 435L239.3 435.1L245.1 435.2L250.9 435.3L256.7 435.4L262.4 435.5L268.2 435.6L274 435.7L279.8 435.8L285.6 436L291.4 436.1L297.1 436.2L302.9 436.2L308.7 436.3L314.5 436.4L320.3 436.5L326 436.5L331.8 436.6L337.6 436.6L343.4 436.7L349.2 436.7L355 436.8L360.7 436.8L366.5 436.9L372.3 436.9L378.1 436.9L383.9 437L389.7 437L395.4 437L401.2 437.1L407 437.1L412.8 437.2L418.6 437.2L424.3 437.2L430.1 437.3L435.9 437.4L441.7 437.4L447.5 437.5L453.3 437.6L459 437.7L464.8 437.7L470.6 437.8L476.4 437.9L482.2 438L488 438.1L493.7 438.3L499.5 438.4L505.3 438.5L511.1 438.6L516.9 438.7L522.7 438.9L528.4 439L534.2 439.1L540 439.3L545.8 439.4L551.6 439.5L557.3 439.7L563.1 439.8L568.9 439.9L574.7 440L580.5 440.2L586.3 440.3L592 440.4L597.8 440.5L603.6 440.6L609.4 440.7L615.2 440.8L621 440.9L626.7 441L632.5 441.1L638.3 441.2L644.1 441.3L649.9 441.3L655.6 441.4L661.4 441.5L667.2 441.5L673 441.6L678.8 441.7L684.6 441.7L690.3 441.8L696.1 441.9L701.9 441.9L707.7 442L713.5 442.1L719.3 442.2L725 442.3L730.8 442.4L736.6 442.5L742.4 442.6L748.2 442.7L753.9 442.9L759.7 443L765.5 443.1L771.3 443.2L777.1 443.3L782.9 443.5L788.6 443.6L794.4 443.7L800.2 443.8L806 443.9L811.8 444L817.6 444.1L823.3 444.2L829.1 444.3L834.9 444.3L840.7 444.4L846.5 444.5L852.3 444.5L858 444.6L863.8 444.6L869.6 444.6L875.4 444.7L881.2 444.7L886.9 444.7L892.7 444.7L898.5 444.6L904.3 444.5L910.1 444.4L915.9 444.3L921.6 444.1L927.4 443.9L933.2 443.7L939 443.5L944.8 443.2L950.6 442.9L956.3 442.6L962.1 442.3L967.9 441.9L973.7 441.6L979.5 441.2L985.2 440.9L991 440.5L996.8 440.2L1002.6 439.8L1008.4 439.5L1014.2 439.2L1019.9 438.8L1025.7 438.5L1031.5 438.1L1037.3 437.8L1043.1 437.4L1048.9 437.1L1054.6 436.8L1060.4 436.5L1066.2 436.1L1072 435.9L1077.8 435.6L1083.6 435.3L1089.3 435L1095.1 434.8L1100.9 434.6" stroke="#3b528b" stroke-width="2.3" fill="none"/>
<path clip-path="url(#c1)" d="M175.7 441.2L181.5 441.2L187.3 441.1L193 441.1L198.8 441.2L204.6 441.2L210.4 441.3L216.2 441.3L222 441.4L227.7 441.5L233.5 441.6L239.3 441.8L245.1 441.9L250.9 442L256.7 442.2L262.4 442.3L268.2 442.4L274 442.6L279.8 442.7L285.6 442.9L291.4 443L297.1 443.1L302.9 443.3L308.7 443.4L314.5 443.5L320.3 443.6L326 443.7L331.8 443.7L337.6 443.8L343.4 443.9L349.2 444L355 444L360.7 444.1L366.5 444.2L372.3 444.2L378.1 444.3L383.9 444.3L389.7 444.4L395.4 444.4L401.2 444.5L407 444.5L412.8 444.6L418.6 444.6L424.3 444.7L430.1 444.8L435.9 444.8L441.7 444.9L447.5 445L453.3 445.1L459 445.2L464.8 445.3L470.6 445.4L476.4 445.5L482.2 445.6L488 445.7L493.7 445.8L499.5 445.9L505.3 446.1L511.1 446.2L516.9 446.3L522.7 446.4L528.4 446.6L534.2 446.7L540 446.8L545.8 447L551.6 447.1L557.3 447.2L563.1 447.3L568.9 447.5L574.7 447.6L580.5 447.7L586.3 447.8L592 447.9L597.8 448L603.6 448.2L609.4 448.3L615.2 448.4L621 448.5L626.7 448.5L632.5 448.6L638.3 448.7L644.1 448.8L649.9 448.8L655.6 448.9L661.4 449L667.2 449L673 449.1L678.8 449.1L684.6 449.2L690.3 449.3L696.1 449.3L701.9 449.4L707.7 449.5L713.5 449.6L719.3 449.7L725 449.8L730.8 450L736.6 450.1L742.4 450.2L748.2 450.4L753.9 450.5L759.7 450.7L765.5 450.8L771.3 450.9L777.1 451.1L782.9 451.2L788.6 451.4L794.4 451.5L800.2 451.6L806 451.8L811.8 451.9L817.6 452L823.3 452.1L829.1 452.2L834.9 452.3L840.7 452.4L846.5 452.5L852.3 452.6L858 452.6L863.8 452.7L869.6 452.7L875.4 452.7L881.2 452.8L886.9 452.8L892.7 452.7L898.5 452.7L904.3 452.6L910.1 452.5L915.9 452.4L921.6 452.2L927.4 452L933.2 451.8L939 451.5L944.8 451.2L950.6 450.9L956.3 450.6L962.1 450.2L967.9 449.9L973.7 449.5L979.5 449.1L985.2 448.7L991 448.3L996.8 447.9L1002.6 447.5L1008.4 447.1L1014.2 446.7L1019.9 446.3L1025.7 445.9L1031.5 445.5L1037.3 445.1L1043.1 444.7L1048.9 444.3L1054.6 443.9L1060.4 443.5L1066.2 443.1L1072 442.8L1077.8 442.4L1083.6 442.1L1089.3 441.8L1095.1 441.5L1100.9 441.2" stroke="#424086" stroke-width="2.3" fill="none"/>
<path clip-path="url(#c1)" d="M175.7 447.3L181.5 447.2L187.3 447.2L193 447.2L198.8 447.2L204.6 447.2L210.4 447.3L216.2 447.4L222 447.5L227.7 447.6L233.5 447.7L239.3 447.8L245.1 447.9L250.9 448.1L256.7 448.2L262.4 448.4L268.2 448.6L274 448.7L279.8 448.9L285.6 449L291.4 449.2L297.1 449.3L302.9 449.5L308.7 449.6L314.5 449.7L320.3 449.8L326 450L331.8 450.1L337.6 450.2L343.4 450.3L349.2 450.4L355 450.4L360.7 450.5L366.5 450.6L372.3 450.7L378.1 450.8L383.9 450.8L389.7 450.9L395.4 451L401.2 451.1L407 451.1L412.8 451.2L418.6 451.3L424.3 451.4L430.1 451.5L435.9 451.5L441.7 451.6L447.5 451.7L453.3 451.8L459 451.9L464.8 452L470.6 452.1L476.4 452.2L482.2 452.4L488 452.5L493.7 452.6L499.5 452.7L505.3 452.8L511.1 453L516.9 453.1L522.7 453.2L528.4 453.3L534.2 453.5L540 453.6L545.8 453.7L551.6 453.8L557.3 454L563.1 454.1L568.9 454.2L574.7 454.3L580.5 454.4L586.3 454.6L592 454.7L597.8 454.8L603.6 454.9L609.4 455L615.2 455.1L621 455.2L626.7 455.2L632.5 455.3L638.3 455.4L644.1 455.5L649.9 455.5L655.6 455.6L661.4 455.7L667.2 455.7L673 455.8L678.8 455.8L684.6 455.9L690.3 456L696.1 456L701.9 456.1L707.7 456.2L713.5 456.3L719.3 456.5L725 456.6L730.8 456.7L736.6 456.9L742.4 457.1L748.2 457.2L753.9 457.4L759.7 457.6L765.5 457.7L771.3 457.9L777.1 458.1L782.9 458.3L788.6 458.5L794.4 458.6L800.2 458.8L806 459L811.8 459.2L817.6 459.3L823.3 459.5L829.1 459.6L834.9 459.8L840.7 459.9L846.5 460L852.3 460.2L858 460.3L863.8 460.4L869.6 460.5L875.4 460.5L881.2 460.6L886.9 460.6L892.7 460.6L898.5 460.6L904.3 460.6L910.1 460.4L915.9 460.3L921.6 460.1L927.4 459.8L933.2 459.6L939 459.3L944.8 458.9L950.6 458.5L956.3 458.2L962.1 457.7L967.9 457.3L973.7 456.9L979.5 456.4L985.2 456L991 455.5L996.8 455.1L1002.6 454.6L1008.4 454.1L1014.2 453.7L1019.9 453.2L1025.7 452.7L1031.5 452.2L1037.3 451.8L1043.1 451.3L1048.9 450.8L1054.6 450.4L1060.4 449.9L1066.2 449.5L1072 449.1L1077.8 448.7L1083.6 448.3L1089.3 447.9L1095.1 447.6L1100.9 447.3" stroke="#46307e" stroke-width="2.3" fill="none"/>
<path clip-path="url(#c1)" d="M175.7 452.9L181.5 452.8L187.3 452.8L193 452.8L198.8 452.8L204.6 452.8L210.4 452.8L216.2 452.9L222 453L227.7 453.1L233.5 453.2L239.3 453.3L245.1 453.5L250.9 453.6L256.7 453.8L262.4 454L268.2 454.2L274 454.3L279.8 454.5L285.6 454.7L291.4 454.9L297.1 455L302.9 455.2L308.7 455.3L314.5 455.5L320.3 455.6L326 455.8L331.8 455.9L337.6 456L343.4 456.1L349.2 456.3L355 456.4L360.7 456.5L366.5 456.6L372.3 456.7L378.1 456.8L383.9 456.9L389.7 457L395.4 457.1L401.2 457.2L407 457.3L412.8 457.4L418.6 457.5L424.3 457.6L430.1 457.7L435.9 457.8L441.7 457.9L447.5 458L453.3 458.2L459 458.3L464.8 458.4L470.6 458.5L476.4 458.6L482.2 458.7L488 458.9L493.7 459L499.5 459.1L505.3 459.3L511.1 459.4L516.9 459.5L522.7 459.6L528.4 459.8L534.2 459.9L540 460L545.8 460.1L551.6 460.3L557.3 460.4L563.1 460.5L568.9 460.6L574.7 460.8L580.5 460.9L586.3 461L592 461.1L597.8 461.2L603.6 461.3L609.4 461.4L615.2 461.5L621 461.6L626.7 461.7L632.5 461.7L638.3 461.8L644.1 461.9L649.9 461.9L655.6 462L661.4 462L667.2 462.1L673 462.2L678.8 462.2L684.6 462.3L690.3 462.4L696.1 462.4L701.9 462.5L707.7 462.6L713.5 462.8L719.3 462.9L725 463L730.8 463.2L736.6 463.4L742.4 463.5L748.2 463.7L753.9 463.9L759.7 464.1L765.5 464.3L771.3 464.5L777.1 464.7L782.9 464.9L788.6 465.1L794.4 465.3L800.2 465.6L806 465.8L811.8 466L817.6 466.2L823.3 466.4L829.1 466.6L834.9 466.7L840.7 466.9L846.5 467.1L852.3 467.3L858 467.4L863.8 467.6L869.6 467.7L875.4 467.8L881.2 467.9L886.9 468L892.7 468L898.5 468L904.3 468L910.1 467.8L915.9 467.7L921.6 467.4L927.4 467.2L933.2 466.9L939 466.5L944.8 466.1L950.6 465.7L956.3 465.2L962.1 464.8L967.9 464.3L973.7 463.8L979.5 463.3L985.2 462.7L991 462.2L996.8 461.7L1002.6 461.2L1008.4 460.6L1014.2 460.1L1019.9 459.6L1025.7 459L1031.5 458.5L1037.3 458L1043.1 457.4L1048.9 456.9L1054.6 456.4L1060.4 455.9L1066.2 455.4L1072 454.9L1077.8 454.5L1083.6 454L1089.3 453.6L1095.1 453.2L1100.9 452.9" stroke="#482475" stroke-width="2.3" fill="none"/>
<path clip-path="url(#c1)" d="M175.7 458.1L181.5 458L187.3 457.9L193 457.9L198.8 457.8L204.6 457.9L210.4 457.9L216.2 458L222 458.1L227.7 458.2L233.5 458.3L239.3 458.5L245.1 458.7L250.9 458.8L256.7 459L262.4 459.2L268.2 459.4L274 459.7L279.8 459.9L285.6 460.1L291.4 460.3L297.1 460.5L302.9 460.7L308.7 460.9L314.5 461.1L320.3 461.3L326 461.4L331.8 461.6L337.6 461.8L343.4 461.9L349.2 462.1L355 462.2L360.7 462.4L366.5 462.5L372.3 462.6L378.1 462.8L383.9 462.9L389.7 463L395.4 463.2L401.2 463.3L407 463.4L412.8 463.5L418.6 463.7L424.3 463.8L430.1 463.9L435.9 464L441.7 464.1L447.5 464.3L453.3 464.4L459 464.5L464.8 464.6L470.6 464.8L476.4 464.9L482.2 465L488 465.2L493.7 465.3L499.5 465.4L505.3 465.6L511.1 465.7L516.9 465.8L522.7 466L528.4 466.1L534.2 466.2L540 466.4L545.8 466.5L551.6 466.6L557.3 466.8L563.1 466.9L568.9 467L574.7 467.1L580.5 467.3L586.3 467.4L592 467.5L597.8 467.6L603.6 467.7L609.4 467.8L615.2 467.9L621 468L626.7 468.1L632.5 468.2L638.3 468.3L644.1 468.4L649.9 468.5L655.6 468.5L661.4 468.6L667.2 468.7L673 468.8L678.8 468.8L684.6 468.9L690.3 469L696.1 469L701.9 469.1L707.7 469.2L713.5 469.3L719.3 469.4L725 469.5L730.8 469.7L736.6 469.8L742.4 469.9L748.2 470.1L753.9 470.2L759.7 470.4L765.5 470.5L771.3 470.7L777.1 470.9L782.9 471.1L788.6 471.3L794.4 471.5L800.2 471.8L806 472L811.8 472.2L817.6 472.5L823.3 472.8L829.1 473L834.9 473.3L840.7 473.6L846.5 474L852.3 474.3L858 474.6L863.8 475L869.6 475.3L875.4 475.6L881.2 475.8L886.9 475.9L892.7 476L898.5 475.9L904.3 475.8L910.1 475.4L915.9 475L921.6 474.5L927.4 473.9L933.2 473.2L939 472.6L944.8 472L950.6 471.5L956.3 471L962.1 470.5L967.9 470.1L973.7 469.7L979.5 469.3L985.2 468.8L991 468.4L996.8 468L1002.6 467.5L1008.4 467L1014.2 466.4L1019.9 465.9L1025.7 465.3L1031.5 464.7L1037.3 464.1L1043.1 463.5L1048.9 462.9L1054.6 462.3L1060.4 461.7L1066.2 461.2L1072 460.6L1077.8 460L1083.6 459.5L1089.3 459L1095.1 458.5L1100.9 458.1" stroke="#481769" stroke-width="2.3" fill="none"/>
<path clip-path="url(#c1)" d="M175.7 462.5L181.5 462.4L187.3 462.3L193 462.3L198.8 462.3L204.6 462.4L210.4 462.5L216.2 462.6L222 462.7L227.7 462.9L233.5 463.1L239.3 463.3L245.1 463.5L250.9 463.7L256.7 464L262.4 464.3L268.2 464.6L274 464.8L279.8 465.1L285.6 465.4L291.4 465.7L297.1 466L302.9 466.2L308.7 466.5L314.5 466.8L320.3 467L326 467.3L331.8 467.5L337.6 467.8L343.4 468L349.2 468.2L355 468.5L360.7 468.7L366.5 468.9L372.3 469.1L378.1 469.3L383.9 469.5L389.7 469.7L395.4 469.9L401.2 470.1L407 470.2L412.8 470.4L418.6 470.6L424.3 470.7L430.1 470.9L435.9 471L441.7 471.1L447.5 471.3L453.3 471.4L459 471.5L464.8 471.6L470.6 471.8L476.4 471.9L482.2 472L488 472.1L493.7 472.2L499.5 472.3L505.3 472.4L511.1 472.5L516.9 472.6L522.7 472.7L528.4 472.8L534.2 472.9L540 473L545.8 473.1L551.6 473.2L557.3 473.3L563.1 473.3L568.9 473.4L574.7 473.5L580.5 473.6L586.3 473.7L592 473.7L597.8 473.8L603.6 473.9L609.4 474L615.2 474L621 474.1L626.7 474.2L632.5 474.2L638.3 474.3L644.1 474.4L649.9 474.4L655.6 474.5L661.4 474.5L667.2 474.6L673 474.7L678.8 474.7L684.6 474.8L690.3 474.9L696.1 474.9L701.9 475L707.7 475.1L713.5 475.3L719.3 475.4L725 475.5L730.8 475.7L736.6 475.9L742.4 476L748.2 476.2L753.9 476.4L759.7 476.7L765.5 476.9L771.3 477.2L777.1 477.4L782.9 477.7L788.6 478L794.4 478.3L800.2 478.6L806 478.9L811.8 479.2L817.6 479.6L823.3 479.9L829.1 480.3L834.9 480.7L840.7 481L846.5 481.5L852.3 481.9L858 482.3L863.8 482.7L869.6 483.1L875.4 483.5L881.2 483.8L886.9 483.9L892.7 484L898.5 484L904.3 483.9L910.1 483.5L915.9 483L921.6 482.5L927.4 481.8L933.2 481.1L939 480.3L944.8 479.6L950.6 478.9L956.3 478.3L962.1 477.7L967.9 477.1L973.7 476.5L979.5 475.9L985.2 475.3L991 474.7L996.8 474.1L1002.6 473.4L1008.4 472.7L1014.2 472.1L1019.9 471.4L1025.7 470.7L1031.5 470L1037.3 469.3L1043.1 468.6L1048.9 467.9L1054.6 467.2L1060.4 466.5L1066.2 465.8L1072 465.2L1077.8 464.6L1083.6 464L1089.3 463.5L1095.1 463L1100.9 462.5" stroke="#460b5e" stroke-width="2.3" fill="none"/>
<path clip-path="url(#c1)" d="M175.7 467.3L181.5 467.3L187.3 467.3L193 467.4L198.8 467.5L204.6 467.6L210.4 467.8L216.2 468L222 468.2L227.7 468.4L233.5 468.6L239.3 468.9L245.1 469.2L250.9 469.5L256.7 469.8L262.4 470.1L268.2 470.5L274 470.8L279.8 471.2L285.6 471.5L291.4 471.9L297.1 472.2L302.9 472.6L308.7 472.9L314.5 473.3L320.3 473.7L326 474L331.8 474.4L337.6 474.7L343.4 475.1L349.2 475.5L355 475.8L360.7 476.1L366.5 476.5L372.3 476.8L378.1 477.1L383.9 477.4L389.7 477.7L395.4 478L401.2 478.2L407 478.5L412.8 478.7L418.6 478.9L424.3 479.1L430.1 479.2L435.9 479.3L441.7 479.4L447.5 479.5L453.3 479.6L459 479.7L464.8 479.7L470.6 479.8L476.4 479.8L482.2 479.9L488 479.9L493.7 479.9L499.5 479.9L505.3 479.9L511.1 480L516.9 480L522.7 480L528.4 480L534.2 480L540 479.9L545.8 479.9L551.6 479.9L557.3 479.9L563.1 479.9L568.9 479.9L574.7 479.9L580.5 479.8L586.3 479.8L592 479.8L597.8 479.8L603.6 479.8L609.4 479.8L615.2 479.8L621 479.8L626.7 479.8L632.5 479.8L638.3 479.8L644.1 479.8L649.9 479.8L655.6 479.9L661.4 479.9L667.2 480L673 480L678.8 480.1L684.6 480.2L690.3 480.3L696.1 480.4L701.9 480.5L707.7 480.7L713.5 480.9L719.3 481.1L725 481.3L730.8 481.5L736.6 481.8L742.4 482L748.2 482.3L753.9 482.6L759.7 482.9L765.5 483.3L771.3 483.6L777.1 484L782.9 484.3L788.6 484.7L794.4 485.1L800.2 485.5L806 485.9L811.8 486.3L817.6 486.7L823.3 487.2L829.1 487.6L834.9 488L840.7 488.5L846.5 488.9L852.3 489.4L858 489.9L863.8 490.4L869.6 490.8L875.4 491.3L881.2 491.7L886.9 492.1L892.7 492.5L898.5 492.7L904.3 493L910.1 493.1L915.9 493.1L921.6 492.9L927.4 492.4L933.2 491.5L939 490.4L944.8 489.2L950.6 487.9L956.3 486.7L962.1 485.6L967.9 484.6L973.7 483.7L979.5 482.8L985.2 481.9L991 481.1L996.8 480.2L1002.6 479.3L1008.4 478.3L1014.2 477.3L1019.9 476.3L1025.7 475.3L1031.5 474.3L1037.3 473.3L1043.1 472.5L1048.9 471.6L1054.6 470.9L1060.4 470.3L1066.2 469.7L1072 469.1L1077.8 468.6L1083.6 468.2L1089.3 467.8L1095.1 467.5L1100.9 467.3" stroke="#450457" stroke-width="2.3" fill="none"/>
<path d="M340 493.7C341.7 492 344.2 491.7 355 491C365.8 490.2 384.2 489.7 405 489.2C425.8 488.6 455 488.3 480 487.8C505 487.4 533.3 486.9 555 486.6C576.7 486.2 596.2 486 610 485.9C623.8 485.8 623 485.9 638 486C653 486.1 683 486.2 700 486.5C717 486.7 725.3 487 740 487.5C754.7 488.1 774.7 488.7 788 489.6C801.3 490.5 809.3 491.7 820 493C830.7 494.2 842.6 495.6 852 496.9C861.4 498.3 870 499.7 876.5 501.3C883 502.8 887.6 504.4 891 506.1C894.4 507.8 896.1 509.7 896.6 511.4C897.1 513.1 896 514.7 894 516.6C892 518.4 888.8 520.3 884.5 522.5C880.2 524.7 875.2 527.2 868.5 529.9C861.8 532.6 852.4 535.6 844.4 538.5C836.4 541.3 828.3 544.3 820.3 547.1C812.3 550 804.2 552.6 796.2 555.4C788.2 558.1 781.4 560.9 772 563.6C762.6 566.4 752 569.5 740 572C728 574.5 714.7 577 700 578.7C685.3 580.3 667 581.4 652 581.9C637 582.4 619.7 582.2 609.7 581.7C599.7 581.2 601.4 580.3 592.2 578.8C583.1 577.3 567.3 575.4 554.8 572.9C542.3 570.3 529.8 567.2 517.3 563.6C504.8 560.1 492.4 556 479.9 551.8C467.4 547.6 454.9 543 442.4 538.4C429.9 533.9 417.5 529 405 524.5C392.5 520 377.5 515.3 367.5 511.4C357.5 507.5 349.6 504 345 501C340.4 498.1 338.3 495.4 340 493.7Z" stroke="#440154" stroke-width="2.3" stroke-linejoin="round" fill="none"/>
<path d="M488.6 508.2C489 506 491.3 505.2 496.1 503.7C500.9 502.3 509.6 500.9 517.3 499.6C525 498.3 533.1 497.1 542.3 496.1C551.5 495.1 561.1 494.2 572.3 493.6C583.5 492.9 598.8 492.4 609.7 492.1C620.7 491.9 623 491.9 638 492C653 492 683 492.2 700 492.4C717 492.6 728 492.8 740 493.1C752 493.5 761.3 493.8 772 494.5C782.7 495.2 794.8 496.1 804.2 497.2C813.6 498.4 821.6 499.8 828.3 501.3C835 502.8 840.5 504.5 844.4 506.4C848.3 508.2 851.1 510 851.6 512.2C852.1 514.4 850.2 517.1 847.6 519.7C845 522.2 840.8 524.8 836.3 527.5C831.8 530.2 827 533.1 820.3 535.9C813.6 538.7 804.2 541.7 796.2 544.3C788.2 546.9 781.5 549.5 772.1 551.5C762.7 553.6 753.7 555.4 740 556.6C726.3 557.9 706.7 558.7 690 558.9C673.3 559.2 653.4 558.9 640 558.3C626.6 557.6 618.9 556.5 609.7 555.2C600.5 553.9 593 552.3 584.7 550.4C576.4 548.5 568.1 546.4 559.8 543.9C551.5 541.4 543.1 538.4 534.8 535.4C526.5 532.4 516.7 529 509.8 525.9C502.9 522.8 497.1 519.6 493.6 516.7C490.1 513.7 488.2 510.4 488.6 508.2Z" stroke="#440154" stroke-width="2.3" stroke-linejoin="round" fill="none"/>
<path d="M556 514.4C555.8 512.2 558.3 510.8 562.3 509.1C566.2 507.5 571.8 505.8 579.7 504.4C587.6 503 600 501.7 609.7 500.7C619.4 499.8 623 499.1 638 498.7C653 498.4 683 498.4 700 498.6C717 498.7 728 499.1 740 499.6C752 500.1 762.7 500.7 772.1 501.6C781.5 502.5 789.2 503.5 796.2 504.9C803.2 506.3 809.4 508 813.9 509.9C818.4 511.8 822.7 513.9 823.5 516.2C824.3 518.5 821.9 521 818.7 523.5C815.5 525.9 810.6 528.4 804.2 530.8C797.8 533.2 788.1 535.6 780.1 537.6C772.1 539.7 763.5 541.5 756 542.9C748.5 544.4 742.3 545.5 735 546.3C727.7 547.1 719.5 547.6 712 547.8C704.5 548 702 548 690 547.5C678 547 653.4 546.1 640 544.9C626.6 543.8 617.2 542.2 609.7 540.6C602.2 539.1 600.1 537.4 594.7 535.5C589.3 533.6 582.5 531.6 577.3 529.4C572.1 527.1 567 524.7 563.5 522.2C560 519.7 556.2 516.6 556 514.4Z" stroke="#440154" stroke-width="2.3" stroke-linejoin="round" fill="none"/>
<path d="M600 517.9C600.2 516 602.7 514.3 606 512.7C609.3 511.1 612.7 509.7 620 508.4C627.3 507.2 636.7 506 650 505.3C663.3 504.5 685 504 700 503.8C715 503.7 729.3 504 740 504.5C750.7 504.9 756.5 505.7 764 506.8C771.5 507.9 779 509.3 785 511C791 512.7 798.6 515 800.2 517C801.8 519 798 521.2 794.6 523.1C791.2 525.1 786.5 527.1 780.1 528.8C773.7 530.6 762.7 532.3 756 533.7C749.3 535 751 536.4 740 537.2C729 538 705 538.7 690 538.5C675 538.4 661.7 537.4 650 536.1C638.3 534.7 627.5 532.5 620 530.4C612.5 528.4 608.3 526.2 605 524.1C601.7 522 599.8 519.8 600 517.9Z" stroke="#440154" stroke-width="2.3" stroke-linejoin="round" fill="none"/>
<path d="M632.5 518C632.3 516.2 631.6 514.8 637 513.3C642.4 511.9 654.5 510.3 665 509.4C675.5 508.5 687.5 507.9 700 507.8C712.5 507.8 730.1 508.3 740 509C749.9 509.7 752.8 510.8 759.3 512.2C765.8 513.5 777.2 515.3 779.3 517C781.4 518.7 776 520.9 772.1 522.5C768.2 524.2 761.4 525.6 756 526.9C750.6 528.2 747.7 529.3 740 530.2C732.3 531.1 718.3 532 710 532.3C701.7 532.7 699.2 532.8 690 532.2C680.8 531.7 663.7 530.5 655 529.1C646.3 527.7 641.8 525.8 638 523.9C634.2 522.1 632.7 519.8 632.5 518Z" stroke="#440154" stroke-width="2.3" stroke-linejoin="round" fill="none"/>
<path d="M657.5 520.2L669.8 512.1L698.2 509.5L724.9 511.1L752.8 512.2L760.3 520.2L756 523L735.6 527.1L709.9 529.3L685.3 527.6L671.4 525L659.6 521.2Z" stroke="#440154" stroke-width="2.3" stroke-linejoin="round" fill="none"/>
<path d="M675.7 519.6L686.4 515.3L709.9 512.7L731.4 514.3L744.2 517.5L741 520.7L724.9 523.9L709.9 525.5L692.8 523.9L681 521.2Z" stroke="#440154" stroke-width="2.3" stroke-linejoin="round" fill="none"/>
<path d="M689.6 517.5L701.4 515.3L718.5 514.3L734.6 519.1L724.9 522.3L705.7 523.9L696 520.2Z" stroke="#440154" stroke-width="2.9" stroke-linejoin="round" fill="none"/>
<path d="M697.1 519.1L713.2 516.9L723.9 519.1L709.9 522.3Z" stroke="#440154" stroke-width="2.9" stroke-linejoin="round" fill="none"/>
<path clip-path="url(#c2)" d="M175.7 673.6L181.5 673.5L187.3 673.5L193 673.4L198.8 673.4L204.6 673.3L210.4 673.3L216.2 673.2L222 673.2L227.7 673.2L233.5 673.2L239.3 673.1L245.1 673.1L250.9 673.1L256.7 673.1L262.4 673.1L268.2 673.1L274 673L279.8 673L285.6 673L291.4 673L297.1 673L302.9 673L308.7 673L314.5 673L320.3 673L326 673L331.8 673L337.6 673.1L343.4 673.1L349.2 673.2L355 673.3L360.7 673.4L366.5 673.6L372.3 673.8L378.1 673.9L383.9 674.1L389.7 674.3L395.4 674.5L401.2 674.7L407 674.9L412.8 675L418.6 675.2L424.3 675.4L430.1 675.6L435.9 675.9L441.7 676.1L447.5 676.3L453.3 676.5L459 676.7L464.8 677L470.6 677.2L476.4 677.5L482.2 677.7L488 678L493.7 678.2L499.5 678.5L505.3 678.7L511.1 679L516.9 679.2L522.7 679.4L528.4 679.6L534.2 679.8L540 680L545.8 680.2L551.6 680.4L557.3 680.5L563.1 680.7L568.9 680.8L574.7 681L580.5 681.1L586.3 681.3L592 681.4L597.8 681.5L603.6 681.6L609.4 681.7L615.2 681.8L621 681.9L626.7 681.9L632.5 682L638.3 682L644.1 682L649.9 682L655.6 682L661.4 682L667.2 682L673 682L678.8 682L684.6 682L690.3 682L696.1 682L701.9 682L707.7 682L713.5 682L719.3 682L725 681.9L730.8 681.9L736.6 681.9L742.4 681.8L748.2 681.8L753.9 681.8L759.7 681.7L765.5 681.6L771.3 681.6L777.1 681.5L782.9 681.4L788.6 681.3L794.4 681.2L800.2 681.1L806 681L811.8 680.8L817.6 680.7L823.3 680.5L829.1 680.4L834.9 680.2L840.7 680L846.5 679.7L852.3 679.4L858 679.1L863.8 678.8L869.6 678.4L875.4 678.1L881.2 677.9L886.9 677.8L892.7 677.9L898.5 678.2L904.3 678.3L910.1 678.4L915.9 678.4L921.6 678.4L927.4 678.4L933.2 678.3L939 678.2L944.8 678.1L950.6 677.9L956.3 677.8L962.1 677.6L967.9 677.4L973.7 677.2L979.5 677L985.2 676.7L991 676.5L996.8 676.3L1002.6 676.1L1008.4 675.9L1014.2 675.7L1019.9 675.6L1025.7 675.4L1031.5 675.2L1037.3 675.1L1043.1 674.9L1048.9 674.7L1054.6 674.6L1060.4 674.5L1066.2 674.3L1072 674.2L1077.8 674.1L1083.6 673.9L1089.3 673.8L1095.1 673.7L1100.9 673.6" stroke="#9bd93c" stroke-width="2.3" fill="none"/>
<path clip-path="url(#c2)" d="M175.7 684.4L181.5 684.4L187.3 684.4L193 684.3L198.8 684.3L204.6 684.4L210.4 684.4L216.2 684.4L222 684.5L227.7 684.5L233.5 684.5L239.3 684.6L245.1 684.6L250.9 684.7L256.7 684.7L262.4 684.8L268.2 684.8L274 684.9L279.8 684.9L285.6 684.9L291.4 685L297.1 685L302.9 685L308.7 685L314.5 685L320.3 685L326 685L331.8 684.9L337.6 684.9L343.4 684.9L349.2 684.9L355 684.8L360.7 684.8L366.5 684.8L372.3 684.8L378.1 684.8L383.9 684.8L389.7 684.8L395.4 684.8L401.2 684.9L407 685L412.8 685L418.6 685.1L424.3 685.3L430.1 685.4L435.9 685.6L441.7 685.8L447.5 686.1L453.3 686.3L459 686.5L464.8 686.7L470.6 686.8L476.4 687L482.2 687.1L488 687.2L493.7 687.4L499.5 687.4L505.3 687.5L511.1 687.6L516.9 687.7L522.7 687.8L528.4 687.8L534.2 687.9L540 688L545.8 688.1L551.6 688.2L557.3 688.3L563.1 688.4L568.9 688.4L574.7 688.5L580.5 688.6L586.3 688.7L592 688.8L597.8 688.9L603.6 689L609.4 689.1L615.2 689.2L621 689.3L626.7 689.4L632.5 689.4L638.3 689.5L644.1 689.6L649.9 689.6L655.6 689.7L661.4 689.7L667.2 689.8L673 689.8L678.8 689.9L684.6 689.9L690.3 689.9L696.1 690L701.9 690L707.7 690L713.5 690.1L719.3 690.1L725 690.1L730.8 690.1L736.6 690.1L742.4 690.2L748.2 690.2L753.9 690.2L759.7 690.2L765.5 690.2L771.3 690.2L777.1 690.2L782.9 690.2L788.6 690.2L794.4 690.2L800.2 690.2L806 690.2L811.8 690.1L817.6 690.1L823.3 690.1L829.1 690.1L834.9 690L840.7 690L846.5 690L852.3 689.9L858 689.9L863.8 689.9L869.6 689.8L875.4 689.8L881.2 689.8L886.9 689.7L892.7 689.7L898.5 689.6L904.3 689.6L910.1 689.5L915.9 689.4L921.6 689.3L927.4 689.3L933.2 689.2L939 689.1L944.8 689L950.6 688.8L956.3 688.7L962.1 688.6L967.9 688.5L973.7 688.3L979.5 688.2L985.2 688L991 687.9L996.8 687.7L1002.6 687.5L1008.4 687.3L1014.2 687.2L1019.9 687L1025.7 686.8L1031.5 686.6L1037.3 686.4L1043.1 686.2L1048.9 686L1054.6 685.8L1060.4 685.6L1066.2 685.4L1072 685.2L1077.8 685L1083.6 684.9L1089.3 684.7L1095.1 684.5L1100.9 684.4" stroke="#44bf70" stroke-width="2.3" fill="none"/>
<path clip-path="url(#c2)" d="M175.7 695.2L181.5 695.1L187.3 695.1L193 695.1L198.8 695.1L204.6 695L210.4 695L216.2 695L222 695.1L227.7 695.1L233.5 695.1L239.3 695.1L245.1 695.2L250.9 695.2L256.7 695.3L262.4 695.3L268.2 695.4L274 695.4L279.8 695.5L285.6 695.6L291.4 695.6L297.1 695.7L302.9 695.7L308.7 695.8L314.5 695.8L320.3 695.9L326 695.9L331.8 696L337.6 696L343.4 696.1L349.2 696.1L355 696.2L360.7 696.2L366.5 696.3L372.3 696.3L378.1 696.4L383.9 696.4L389.7 696.4L395.4 696.5L401.2 696.5L407 696.5L412.8 696.6L418.6 696.6L424.3 696.6L430.1 696.7L435.9 696.7L441.7 696.7L447.5 696.7L453.3 696.7L459 696.8L464.8 696.8L470.6 696.8L476.4 696.8L482.2 696.9L488 696.9L493.7 697L499.5 697L505.3 697.1L511.1 697.1L516.9 697.2L522.7 697.3L528.4 697.4L534.2 697.5L540 697.6L545.8 697.7L551.6 697.9L557.3 698L563.1 698.1L568.9 698.1L574.7 698.1L580.5 698.1L586.3 697.9L592 697.6L597.8 697.3L603.6 697L609.4 697L615.2 697.2L621 697.7L626.7 698.5L632.5 699.2L638.3 699.8L644.1 700.1L649.9 700.3L655.6 700.5L661.4 700.7L667.2 700.8L673 700.9L678.8 701L684.6 701.1L690.3 701.2L696.1 701.2L701.9 701.2L707.7 701.2L713.5 701.2L719.3 701.2L725 701.2L730.8 701.2L736.6 701.2L742.4 701.2L748.2 701.2L753.9 701.2L759.7 701.1L765.5 701.1L771.3 701.1L777.1 701.1L782.9 701L788.6 701L794.4 701L800.2 700.9L806 700.9L811.8 700.9L817.6 700.8L823.3 700.8L829.1 700.8L834.9 700.7L840.7 700.7L846.5 700.7L852.3 700.6L858 700.6L863.8 700.6L869.6 700.5L875.4 700.5L881.2 700.4L886.9 700.4L892.7 700.4L898.5 700.3L904.3 700.3L910.1 700.2L915.9 700.1L921.6 700.1L927.4 700L933.2 699.9L939 699.8L944.8 699.7L950.6 699.6L956.3 699.5L962.1 699.4L967.9 699.3L973.7 699.2L979.5 699L985.2 698.9L991 698.7L996.8 698.6L1002.6 698.4L1008.4 698.3L1014.2 698.1L1019.9 697.9L1025.7 697.7L1031.5 697.5L1037.3 697.3L1043.1 697.1L1048.9 696.9L1054.6 696.7L1060.4 696.5L1066.2 696.3L1072 696.1L1077.8 695.9L1083.6 695.7L1089.3 695.5L1095.1 695.4L1100.9 695.2" stroke="#20a386" stroke-width="2.3" fill="none"/>
<path clip-path="url(#c2)" d="M175.7 704.8L181.5 704.8L187.3 704.7L193 704.7L198.8 704.7L204.6 704.7L210.4 704.7L216.2 704.7L222 704.7L227.7 704.7L233.5 704.8L239.3 704.8L245.1 704.9L250.9 704.9L256.7 705L262.4 705L268.2 705.1L274 705.1L279.8 705.2L285.6 705.3L291.4 705.3L297.1 705.4L302.9 705.4L308.7 705.5L314.5 705.5L320.3 705.6L326 705.6L331.8 705.7L337.6 705.7L343.4 705.8L349.2 705.8L355 705.9L360.7 705.9L366.5 706L372.3 706L378.1 706.1L383.9 706.1L389.7 706.2L395.4 706.2L401.2 706.3L407 706.3L412.8 706.4L418.6 706.5L424.3 706.5L430.1 706.6L435.9 706.7L441.7 706.7L447.5 706.8L453.3 706.9L459 706.9L464.8 707L470.6 707.1L476.4 707.2L482.2 707.3L488 707.4L493.7 707.5L499.5 707.6L505.3 707.7L511.1 707.8L516.9 707.9L522.7 708L528.4 708.1L534.2 708.2L540 708.3L545.8 708.4L551.6 708.5L557.3 708.6L563.1 708.7L568.9 708.8L574.7 708.9L580.5 709L586.3 709.1L592 709.2L597.8 709.3L603.6 709.4L609.4 709.5L615.2 709.6L621 709.7L626.7 709.8L632.5 709.9L638.3 710L644.1 710.1L649.9 710.2L655.6 710.2L661.4 710.3L667.2 710.4L673 710.5L678.8 710.5L684.6 710.6L690.3 710.6L696.1 710.7L701.9 710.7L707.7 710.7L713.5 710.7L719.3 710.8L725 710.8L730.8 710.8L736.6 710.8L742.4 710.8L748.2 710.8L753.9 710.8L759.7 710.8L765.5 710.8L771.3 710.8L777.1 710.8L782.9 710.8L788.6 710.7L794.4 710.7L800.2 710.7L806 710.7L811.8 710.7L817.6 710.7L823.3 710.7L829.1 710.7L834.9 710.7L840.7 710.7L846.5 710.7L852.3 710.7L858 710.7L863.8 710.7L869.6 710.7L875.4 710.7L881.2 710.7L886.9 710.7L892.7 710.6L898.5 710.6L904.3 710.6L910.1 710.5L915.9 710.4L921.6 710.4L927.4 710.3L933.2 710.1L939 710L944.8 709.9L950.6 709.7L956.3 709.6L962.1 709.4L967.9 709.2L973.7 709.1L979.5 708.9L985.2 708.7L991 708.5L996.8 708.3L1002.6 708.1L1008.4 707.9L1014.2 707.7L1019.9 707.5L1025.7 707.3L1031.5 707.1L1037.3 706.9L1043.1 706.7L1048.9 706.5L1054.6 706.3L1060.4 706L1066.2 705.8L1072 705.7L1077.8 705.5L1083.6 705.3L1089.3 705.1L1095.1 704.9L1100.9 704.8" stroke="#23898e" stroke-width="2.3" fill="none"/>
<path clip-path="url(#c2)" d="M175.7 713.3L181.5 713.3L187.3 713.2L193 713.2L198.8 713.2L204.6 713.2L210.4 713.3L216.2 713.3L222 713.4L227.7 713.4L233.5 713.5L239.3 713.5L245.1 713.6L250.9 713.7L256.7 713.8L262.4 713.9L268.2 713.9L274 714L279.8 714.1L285.6 714.2L291.4 714.3L297.1 714.4L302.9 714.4L308.7 714.5L314.5 714.6L320.3 714.6L326 714.7L331.8 714.8L337.6 714.8L343.4 714.9L349.2 714.9L355 715L360.7 715L366.5 715L372.3 715.1L378.1 715.1L383.9 715.2L389.7 715.2L395.4 715.3L401.2 715.3L407 715.4L412.8 715.4L418.6 715.5L424.3 715.5L430.1 715.6L435.9 715.7L441.7 715.7L447.5 715.8L453.3 715.9L459 716L464.8 716L470.6 716.1L476.4 716.2L482.2 716.3L488 716.4L493.7 716.6L499.5 716.7L505.3 716.8L511.1 716.9L516.9 717L522.7 717.1L528.4 717.3L534.2 717.4L540 717.5L545.8 717.6L551.6 717.8L557.3 717.9L563.1 718L568.9 718.2L574.7 718.3L580.5 718.5L586.3 718.6L592 718.7L597.8 718.8L603.6 719L609.4 719.1L615.2 719.2L621 719.2L626.7 719.3L632.5 719.4L638.3 719.4L644.1 719.4L649.9 719.4L655.6 719.4L661.4 719.4L667.2 719.4L673 719.4L678.8 719.4L684.6 719.4L690.3 719.4L696.1 719.4L701.9 719.4L707.7 719.4L713.5 719.4L719.3 719.4L725 719.4L730.8 719.5L736.6 719.5L742.4 719.5L748.2 719.5L753.9 719.6L759.7 719.6L765.5 719.6L771.3 719.7L777.1 719.7L782.9 719.7L788.6 719.8L794.4 719.8L800.2 719.8L806 719.9L811.8 719.9L817.6 719.9L823.3 719.9L829.1 720L834.9 720L840.7 720L846.5 720L852.3 720L858 720L863.8 720L869.6 720L875.4 720L881.2 720L886.9 720L892.7 719.9L898.5 719.9L904.3 719.9L910.1 719.8L915.9 719.7L921.6 719.6L927.4 719.5L933.2 719.4L939 719.3L944.8 719.1L950.6 719L956.3 718.8L962.1 718.6L967.9 718.4L973.7 718.3L979.5 718.1L985.2 717.8L991 717.6L996.8 717.4L1002.6 717.2L1008.4 717L1014.2 716.7L1019.9 716.5L1025.7 716.3L1031.5 716L1037.3 715.8L1043.1 715.5L1048.9 715.3L1054.6 715L1060.4 714.8L1066.2 714.5L1072 714.3L1077.8 714.1L1083.6 713.9L1089.3 713.7L1095.1 713.5L1100.9 713.3" stroke="#2c738e" stroke-width="2.3" fill="none"/>
<path clip-path="url(#c2)" d="M175.7 721.2L181.5 721.2L187.3 721.1L193 721.1L198.8 721.1L204.6 721.1L210.4 721.2L216.2 721.2L222 721.3L227.7 721.3L233.5 721.4L239.3 721.5L245.1 721.5L250.9 721.6L256.7 721.7L262.4 721.8L268.2 721.9L274 722L279.8 722.1L285.6 722.2L291.4 722.3L297.1 722.4L302.9 722.4L308.7 722.5L314.5 722.6L320.3 722.6L326 722.7L331.8 722.8L337.6 722.8L343.4 722.9L349.2 722.9L355 723L360.7 723L366.5 723L372.3 723.1L378.1 723.1L383.9 723.2L389.7 723.2L395.4 723.3L401.2 723.3L407 723.3L412.8 723.4L418.6 723.5L424.3 723.5L430.1 723.6L435.9 723.6L441.7 723.7L447.5 723.8L453.3 723.9L459 724L464.8 724.1L470.6 724.2L476.4 724.3L482.2 724.4L488 724.6L493.7 724.7L499.5 724.8L505.3 725L511.1 725.1L516.9 725.2L522.7 725.4L528.4 725.5L534.2 725.7L540 725.8L545.8 725.9L551.6 726.1L557.3 726.2L563.1 726.4L568.9 726.6L574.7 726.7L580.5 726.9L586.3 727L592 727.2L597.8 727.3L603.6 727.4L609.4 727.5L615.2 727.6L621 727.7L626.7 727.8L632.5 727.9L638.3 727.9L644.1 727.9L649.9 727.9L655.6 727.9L661.4 727.9L667.2 727.9L673 727.9L678.8 727.9L684.6 727.9L690.3 727.9L696.1 727.9L701.9 727.9L707.7 727.9L713.5 727.9L719.3 727.9L725 727.9L730.8 728L736.6 728L742.4 728L748.2 728L753.9 728.1L759.7 728.1L765.5 728.2L771.3 728.2L777.1 728.2L782.9 728.3L788.6 728.3L794.4 728.4L800.2 728.4L806 728.5L811.8 728.5L817.6 728.6L823.3 728.6L829.1 728.6L834.9 728.7L840.7 728.7L846.5 728.7L852.3 728.8L858 728.8L863.8 728.8L869.6 728.8L875.4 728.8L881.2 728.8L886.9 728.8L892.7 728.8L898.5 728.8L904.3 728.8L910.1 728.7L915.9 728.6L921.6 728.5L927.4 728.4L933.2 728.3L939 728.1L944.8 728L950.6 727.8L956.3 727.6L962.1 727.4L967.9 727.1L973.7 726.9L979.5 726.7L985.2 726.4L991 726.2L996.8 725.9L1002.6 725.7L1008.4 725.4L1014.2 725.2L1019.9 724.9L1025.7 724.6L1031.5 724.3L1037.3 724L1043.1 723.7L1048.9 723.5L1054.6 723.2L1060.4 722.9L1066.2 722.6L1072 722.4L1077.8 722.1L1083.6 721.9L1089.3 721.6L1095.1 721.4L1100.9 721.2" stroke="#33628d" stroke-width="2.3" fill="none"/>
<path clip-path="url(#c2)" d="M175.7 728.3L181.5 728.3L187.3 728.3L193 728.3L198.8 728.3L204.6 728.3L210.4 728.4L216.2 728.4L222 728.5L227.7 728.6L233.5 728.7L239.3 728.8L245.1 728.9L250.9 729L256.7 729.1L262.4 729.2L268.2 729.3L274 729.4L279.8 729.5L285.6 729.7L291.4 729.8L297.1 729.9L302.9 729.9L308.7 730L314.5 730.1L320.3 730.2L326 730.2L331.8 730.3L337.6 730.3L343.4 730.4L349.2 730.4L355 730.5L360.7 730.5L366.5 730.6L372.3 730.6L378.1 730.6L383.9 730.7L389.7 730.7L395.4 730.7L401.2 730.8L407 730.8L412.8 730.9L418.6 730.9L424.3 731L430.1 731.1L435.9 731.1L441.7 731.2L447.5 731.3L453.3 731.4L459 731.5L464.8 731.7L470.6 731.8L476.4 731.9L482.2 732.1L488 732.2L493.7 732.4L499.5 732.5L505.3 732.7L511.1 732.9L516.9 733L522.7 733.2L528.4 733.4L534.2 733.5L540 733.7L545.8 733.9L551.6 734.1L557.3 734.2L563.1 734.4L568.9 734.6L574.7 734.8L580.5 735L586.3 735.1L592 735.3L597.8 735.5L603.6 735.6L609.4 735.8L615.2 735.9L621 736L626.7 736.1L632.5 736.2L638.3 736.2L644.1 736.2L649.9 736.2L655.6 736.3L661.4 736.3L667.2 736.3L673 736.3L678.8 736.2L684.6 736.2L690.3 736.2L696.1 736.2L701.9 736.2L707.7 736.2L713.5 736.2L719.3 736.2L725 736.2L730.8 736.2L736.6 736.2L742.4 736.2L748.2 736.2L753.9 736.3L759.7 736.3L765.5 736.3L771.3 736.3L777.1 736.4L782.9 736.4L788.6 736.4L794.4 736.4L800.2 736.5L806 736.5L811.8 736.5L817.6 736.6L823.3 736.6L829.1 736.6L834.9 736.7L840.7 736.7L846.5 736.7L852.3 736.8L858 736.8L863.8 736.8L869.6 736.8L875.4 736.8L881.2 736.9L886.9 736.9L892.7 736.8L898.5 736.8L904.3 736.8L910.1 736.7L915.9 736.6L921.6 736.5L927.4 736.3L933.2 736.1L939 736L944.8 735.7L950.6 735.5L956.3 735.3L962.1 735L967.9 734.8L973.7 734.5L979.5 734.2L985.2 733.9L991 733.6L996.8 733.4L1002.6 733.1L1008.4 732.8L1014.2 732.5L1019.9 732.2L1025.7 731.9L1031.5 731.6L1037.3 731.2L1043.1 730.9L1048.9 730.6L1054.6 730.3L1060.4 730L1066.2 729.8L1072 729.5L1077.8 729.2L1083.6 729L1089.3 728.7L1095.1 728.5L1100.9 728.3" stroke="#3b528b" stroke-width="2.3" fill="none"/>
<path clip-path="url(#c2)" d="M175.7 734.9L181.5 734.9L187.3 734.8L193 734.8L198.8 734.9L204.6 734.9L210.4 735L216.2 735L222 735.1L227.7 735.2L233.5 735.3L239.3 735.4L245.1 735.5L250.9 735.7L256.7 735.8L262.4 735.9L268.2 736L274 736.2L279.8 736.3L285.6 736.4L291.4 736.5L297.1 736.6L302.9 736.8L308.7 736.8L314.5 736.9L320.3 737L326 737.1L331.8 737.2L337.6 737.2L343.4 737.3L349.2 737.3L355 737.4L360.7 737.4L366.5 737.5L372.3 737.5L378.1 737.5L383.9 737.6L389.7 737.6L395.4 737.7L401.2 737.7L407 737.8L412.8 737.8L418.6 737.9L424.3 738L430.1 738.1L435.9 738.1L441.7 738.2L447.5 738.3L453.3 738.4L459 738.6L464.8 738.7L470.6 738.9L476.4 739L482.2 739.2L488 739.3L493.7 739.5L499.5 739.7L505.3 739.9L511.1 740.1L516.9 740.2L522.7 740.4L528.4 740.6L534.2 740.8L540 741L545.8 741.2L551.6 741.4L557.3 741.6L563.1 741.8L568.9 742L574.7 742.2L580.5 742.4L586.3 742.6L592 742.8L597.8 742.9L603.6 743.1L609.4 743.2L615.2 743.4L621 743.5L626.7 743.6L632.5 743.6L638.3 743.7L644.1 743.7L649.9 743.7L655.6 743.8L661.4 743.8L667.2 743.8L673 743.7L678.8 743.7L684.6 743.7L690.3 743.7L696.1 743.7L701.9 743.7L707.7 743.7L713.5 743.7L719.3 743.7L725 743.7L730.8 743.7L736.6 743.8L742.4 743.8L748.2 743.8L753.9 743.9L759.7 743.9L765.5 743.9L771.3 744L777.1 744L782.9 744.1L788.6 744.1L794.4 744.2L800.2 744.2L806 744.2L811.8 744.3L817.6 744.3L823.3 744.3L829.1 744.4L834.9 744.4L840.7 744.4L846.5 744.4L852.3 744.4L858 744.4L863.8 744.4L869.6 744.4L875.4 744.4L881.2 744.4L886.9 744.4L892.7 744.4L898.5 744.3L904.3 744.3L910.1 744.2L915.9 744.1L921.6 743.9L927.4 743.8L933.2 743.6L939 743.4L944.8 743.2L950.6 743L956.3 742.8L962.1 742.5L967.9 742.2L973.7 742L979.5 741.7L985.2 741.4L991 741.1L996.8 740.8L1002.6 740.5L1008.4 740.1L1014.2 739.8L1019.9 739.5L1025.7 739.1L1031.5 738.8L1037.3 738.4L1043.1 738L1048.9 737.7L1054.6 737.3L1060.4 737L1066.2 736.6L1072 736.3L1077.8 736L1083.6 735.7L1089.3 735.4L1095.1 735.1L1100.9 734.9" stroke="#424086" stroke-width="2.3" fill="none"/>
<path clip-path="url(#c2)" d="M175.7 741L181.5 741L187.3 741L193 741L198.8 741L204.6 741.1L210.4 741.1L216.2 741.2L222 741.3L227.7 741.4L233.5 741.5L239.3 741.7L245.1 741.8L250.9 742L256.7 742.1L262.4 742.3L268.2 742.4L274 742.6L279.8 742.7L285.6 742.9L291.4 743L297.1 743.1L302.9 743.3L308.7 743.4L314.5 743.5L320.3 743.6L326 743.7L331.8 743.7L337.6 743.8L343.4 743.9L349.2 743.9L355 744L360.7 744L366.5 744.1L372.3 744.1L378.1 744.2L383.9 744.2L389.7 744.3L395.4 744.3L401.2 744.4L407 744.4L412.8 744.5L418.6 744.6L424.3 744.7L430.1 744.7L435.9 744.8L441.7 744.9L447.5 745L453.3 745.2L459 745.3L464.8 745.5L470.6 745.6L476.4 745.8L482.2 746L488 746.1L493.7 746.3L499.5 746.5L505.3 746.7L511.1 746.9L516.9 747.1L522.7 747.4L528.4 747.6L534.2 747.8L540 748L545.8 748.2L551.6 748.4L557.3 748.7L563.1 748.9L568.9 749.2L574.7 749.4L580.5 749.6L586.3 749.8L592 750.1L597.8 750.3L603.6 750.5L609.4 750.6L615.2 750.8L621 750.9L626.7 751.1L632.5 751.1L638.3 751.2L644.1 751.2L649.9 751.3L655.6 751.3L661.4 751.3L667.2 751.3L673 751.3L678.8 751.2L684.6 751.2L690.3 751.2L696.1 751.2L701.9 751.2L707.7 751.2L713.5 751.2L719.3 751.2L725 751.2L730.8 751.2L736.6 751.3L742.4 751.3L748.2 751.3L753.9 751.4L759.7 751.4L765.5 751.4L771.3 751.5L777.1 751.5L782.9 751.5L788.6 751.6L794.4 751.6L800.2 751.7L806 751.7L811.8 751.8L817.6 751.8L823.3 751.8L829.1 751.9L834.9 751.9L840.7 751.9L846.5 751.9L852.3 751.9L858 752L863.8 752L869.6 752L875.4 751.9L881.2 751.9L886.9 751.9L892.7 751.9L898.5 751.8L904.3 751.7L910.1 751.6L915.9 751.5L921.6 751.4L927.4 751.2L933.2 751L939 750.7L944.8 750.5L950.6 750.2L956.3 749.9L962.1 749.6L967.9 749.3L973.7 749L979.5 748.7L985.2 748.3L991 748L996.8 747.6L1002.6 747.2L1008.4 746.9L1014.2 746.5L1019.9 746.1L1025.7 745.7L1031.5 745.3L1037.3 744.9L1043.1 744.5L1048.9 744.1L1054.6 743.7L1060.4 743.3L1066.2 742.9L1072 742.6L1077.8 742.2L1083.6 741.9L1089.3 741.6L1095.1 741.3L1100.9 741" stroke="#46307e" stroke-width="2.3" fill="none"/>
<path clip-path="url(#c2)" d="M175.7 746.4L181.5 746.4L187.3 746.3L193 746.4L198.8 746.4L204.6 746.5L210.4 746.5L216.2 746.6L222 746.8L227.7 746.9L233.5 747L239.3 747.2L245.1 747.4L250.9 747.6L256.7 747.7L262.4 747.9L268.2 748.1L274 748.3L279.8 748.5L285.6 748.7L291.4 748.9L297.1 749L302.9 749.2L308.7 749.3L314.5 749.5L320.3 749.6L326 749.7L331.8 749.8L337.6 749.9L343.4 750L349.2 750.1L355 750.2L360.7 750.3L366.5 750.3L372.3 750.4L378.1 750.5L383.9 750.6L389.7 750.6L395.4 750.7L401.2 750.8L407 750.9L412.8 751L418.6 751.1L424.3 751.2L430.1 751.3L435.9 751.4L441.7 751.5L447.5 751.7L453.3 751.8L459 752L464.8 752.2L470.6 752.4L476.4 752.6L482.2 752.8L488 753L493.7 753.2L499.5 753.4L505.3 753.7L511.1 753.9L516.9 754.1L522.7 754.3L528.4 754.6L534.2 754.8L540 755L545.8 755.2L551.6 755.4L557.3 755.7L563.1 755.9L568.9 756.1L574.7 756.3L580.5 756.5L586.3 756.7L592 756.9L597.8 757.1L603.6 757.3L609.4 757.4L615.2 757.6L621 757.7L626.7 757.8L632.5 757.8L638.3 757.9L644.1 757.9L649.9 757.9L655.6 758L661.4 758L667.2 758L673 757.9L678.8 757.9L684.6 757.9L690.3 757.9L696.1 757.9L701.9 757.9L707.7 757.9L713.5 757.9L719.3 757.9L725 757.9L730.8 758L736.6 758L742.4 758L748.2 758L753.9 758.1L759.7 758.1L765.5 758.2L771.3 758.2L777.1 758.3L782.9 758.3L788.6 758.3L794.4 758.4L800.2 758.4L806 758.5L811.8 758.5L817.6 758.6L823.3 758.6L829.1 758.6L834.9 758.7L840.7 758.7L846.5 758.7L852.3 758.8L858 758.8L863.8 758.8L869.6 758.8L875.4 758.8L881.2 758.8L886.9 758.8L892.7 758.8L898.5 758.7L904.3 758.7L910.1 758.6L915.9 758.4L921.6 758.3L927.4 758.1L933.2 757.9L939 757.7L944.8 757.4L950.6 757.1L956.3 756.8L962.1 756.5L967.9 756.1L973.7 755.8L979.5 755.4L985.2 755L991 754.6L996.8 754.2L1002.6 753.8L1008.4 753.4L1014.2 752.9L1019.9 752.5L1025.7 752L1031.5 751.6L1037.3 751.1L1043.1 750.6L1048.9 750.1L1054.6 749.7L1060.4 749.2L1066.2 748.7L1072 748.3L1077.8 747.9L1083.6 747.5L1089.3 747.1L1095.1 746.7L1100.9 746.4" stroke="#482475" stroke-width="2.3" fill="none"/>
<path clip-path="url(#c2)" d="M175.7 751.4L181.5 751.4L187.3 751.4L193 751.4L198.8 751.5L204.6 751.6L210.4 751.7L216.2 751.8L222 752L227.7 752.1L233.5 752.3L239.3 752.5L245.1 752.8L250.9 753L256.7 753.2L262.4 753.4L268.2 753.7L274 753.9L279.8 754.1L285.6 754.4L291.4 754.6L297.1 754.8L302.9 755L308.7 755.2L314.5 755.4L320.3 755.5L326 755.7L331.8 755.8L337.6 755.9L343.4 756.1L349.2 756.2L355 756.3L360.7 756.4L366.5 756.5L372.3 756.6L378.1 756.7L383.9 756.8L389.7 756.9L395.4 757L401.2 757.1L407 757.2L412.8 757.3L418.6 757.4L424.3 757.5L430.1 757.6L435.9 757.7L441.7 757.8L447.5 758L453.3 758.1L459 758.3L464.8 758.4L470.6 758.6L476.4 758.8L482.2 759L488 759.2L493.7 759.3L499.5 759.5L505.3 759.7L511.1 759.9L516.9 760.1L522.7 760.3L528.4 760.4L534.2 760.6L540 760.8L545.8 761L551.6 761.1L557.3 761.3L563.1 761.5L568.9 761.6L574.7 761.8L580.5 762L586.3 762.1L592 762.2L597.8 762.4L603.6 762.5L609.4 762.6L615.2 762.7L621 762.8L626.7 762.9L632.5 762.9L638.3 763L644.1 763L649.9 763.1L655.6 763.1L661.4 763.1L667.2 763.1L673 763.1L678.8 763.1L684.6 763.1L690.3 763.2L696.1 763.2L701.9 763.2L707.7 763.3L713.5 763.3L719.3 763.4L725 763.5L730.8 763.5L736.6 763.6L742.4 763.7L748.2 763.8L753.9 764L759.7 764.1L765.5 764.2L771.3 764.3L777.1 764.4L782.9 764.6L788.6 764.7L794.4 764.8L800.2 764.9L806 765L811.8 765.2L817.6 765.3L823.3 765.4L829.1 765.5L834.9 765.5L840.7 765.6L846.5 765.7L852.3 765.7L858 765.8L863.8 765.8L869.6 765.9L875.4 765.9L881.2 765.9L886.9 765.9L892.7 765.9L898.5 765.8L904.3 765.7L910.1 765.6L915.9 765.5L921.6 765.3L927.4 765L933.2 764.8L939 764.5L944.8 764.1L950.6 763.8L956.3 763.4L962.1 763L967.9 762.6L973.7 762.1L979.5 761.7L985.2 761.2L991 760.8L996.8 760.3L1002.6 759.8L1008.4 759.3L1014.2 758.8L1019.9 758.2L1025.7 757.7L1031.5 757.2L1037.3 756.6L1043.1 756.1L1048.9 755.5L1054.6 755L1060.4 754.5L1066.2 754L1072 753.5L1077.8 753L1083.6 752.6L1089.3 752.2L1095.1 751.8L1100.9 751.4" stroke="#481769" stroke-width="2.3" fill="none"/>
<path clip-path="url(#c2)" d="M175.7 756.2L181.5 756.2L187.3 756.2L193 756.3L198.8 756.4L204.6 756.5L210.4 756.7L216.2 756.8L222 757L227.7 757.3L233.5 757.5L239.3 757.8L245.1 758L250.9 758.3L256.7 758.6L262.4 758.8L268.2 759.1L274 759.4L279.8 759.7L285.6 760L291.4 760.2L297.1 760.5L302.9 760.7L308.7 760.9L314.5 761.2L320.3 761.3L326 761.5L331.8 761.7L337.6 761.9L343.4 762L349.2 762.2L355 762.3L360.7 762.4L366.5 762.5L372.3 762.7L378.1 762.8L383.9 762.9L389.7 763L395.4 763.1L401.2 763.2L407 763.3L412.8 763.4L418.6 763.5L424.3 763.6L430.1 763.7L435.9 763.8L441.7 763.9L447.5 764.1L453.3 764.2L459 764.3L464.8 764.5L470.6 764.6L476.4 764.7L482.2 764.9L488 765L493.7 765.2L499.5 765.4L505.3 765.5L511.1 765.7L516.9 765.8L522.7 766L528.4 766.2L534.2 766.3L540 766.5L545.8 766.7L551.6 766.8L557.3 767L563.1 767.2L568.9 767.4L574.7 767.5L580.5 767.7L586.3 767.9L592 768L597.8 768.1L603.6 768.3L609.4 768.4L615.2 768.5L621 768.5L626.7 768.6L632.5 768.6L638.3 768.6L644.1 768.6L649.9 768.5L655.6 768.5L661.4 768.5L667.2 768.4L673 768.4L678.8 768.4L684.6 768.4L690.3 768.4L696.1 768.5L701.9 768.6L707.7 768.9L713.5 769.2L719.3 769.5L725 770L730.8 770.4L736.6 770.8L742.4 771.3L748.2 771.6L753.9 771.9L759.7 772.1L765.5 772.2L771.3 772.3L777.1 772.3L782.9 772.3L788.6 772.3L794.4 772.2L800.2 772.2L806 772.1L811.8 772.1L817.6 772L823.3 772L829.1 771.9L834.9 771.9L840.7 771.9L846.5 771.9L852.3 772L858 772.1L863.8 772.3L869.6 772.4L875.4 772.5L881.2 772.6L886.9 772.7L892.7 772.8L898.5 772.8L904.3 772.8L910.1 772.7L915.9 772.5L921.6 772.3L927.4 772L933.2 771.7L939 771.3L944.8 770.9L950.6 770.5L956.3 770L962.1 769.5L967.9 769L973.7 768.4L979.5 767.9L985.2 767.3L991 766.7L996.8 766.1L1002.6 765.5L1008.4 764.9L1014.2 764.3L1019.9 763.7L1025.7 763.1L1031.5 762.5L1037.3 761.9L1043.1 761.3L1048.9 760.7L1054.6 760.1L1060.4 759.5L1066.2 759L1072 758.4L1077.8 757.9L1083.6 757.5L1089.3 757L1095.1 756.6L1100.9 756.2" stroke="#460b5e" stroke-width="2.3" fill="none"/>
<path clip-path="url(#c2)" d="M175.7 760.6L181.5 760.6L187.3 760.7L193 760.8L198.8 760.9L204.6 761.1L210.4 761.3L216.2 761.6L222 761.9L227.7 762.2L233.5 762.5L239.3 762.9L245.1 763.2L250.9 763.6L256.7 764L262.4 764.4L268.2 764.7L274 765.1L279.8 765.5L285.6 765.8L291.4 766.1L297.1 766.5L302.9 766.7L308.7 767L314.5 767.2L320.3 767.5L326 767.7L331.8 767.9L337.6 768L343.4 768.2L349.2 768.3L355 768.4L360.7 768.5L366.5 768.6L372.3 768.7L378.1 768.8L383.9 768.9L389.7 769L395.4 769L401.2 769.1L407 769.2L412.8 769.2L418.6 769.3L424.3 769.4L430.1 769.5L435.9 769.5L441.7 769.6L447.5 769.7L453.3 769.8L459 769.9L464.8 770L470.6 770.2L476.4 770.3L482.2 770.4L488 770.5L493.7 770.7L499.5 770.8L505.3 771L511.1 771.1L516.9 771.3L522.7 771.4L528.4 771.6L534.2 771.7L540 771.9L545.8 772.1L551.6 772.2L557.3 772.4L563.1 772.6L568.9 772.8L574.7 772.9L580.5 773.1L586.3 773.2L592 773.4L597.8 773.5L603.6 773.6L609.4 773.7L615.2 773.8L621 773.9L626.7 773.9L632.5 773.9L638.3 773.9L644.1 773.9L649.9 773.8L655.6 773.7L661.4 773.7L667.2 773.6L673 773.6L678.8 773.5L684.6 773.6L690.3 773.6L696.1 773.7L701.9 773.9L707.7 774.1L713.5 774.5L719.3 775L725 775.5L730.8 776.1L736.6 776.6L742.4 777.1L748.2 777.6L753.9 777.9L759.7 778.2L765.5 778.3L771.3 778.4L777.1 778.5L782.9 778.5L788.6 778.5L794.4 778.5L800.2 778.4L806 778.4L811.8 778.3L817.6 778.3L823.3 778.3L829.1 778.4L834.9 778.5L840.7 778.6L846.5 778.9L852.3 779.2L858 779.6L863.8 779.9L869.6 780.1L875.4 780.1L881.2 780.1L886.9 780L892.7 779.9L898.5 779.9L904.3 780L910.1 780.2L915.9 780.4L921.6 780.7L927.4 780.8L933.2 780.9L939 780.8L944.8 780.5L950.6 779.9L956.3 779.1L962.1 778.3L967.9 777.4L973.7 776.4L979.5 775.3L985.2 774.2L991 773.1L996.8 772L1002.6 771.1L1008.4 770.2L1014.2 769.4L1019.9 768.6L1025.7 767.9L1031.5 767.2L1037.3 766.5L1043.1 765.8L1048.9 765.2L1054.6 764.6L1060.4 764L1066.2 763.4L1072 762.8L1077.8 762.3L1083.6 761.8L1089.3 761.3L1095.1 760.9L1100.9 760.6" stroke="#450457" stroke-width="2.3" fill="none"/>
<path clip-path="url(#c2)" d="M175.7 764.7L181.5 764.9L187.3 765.2L193 765.6L198.8 766L204.6 766.5L210.4 766.9L216.2 767.4L222 767.9L227.7 768.3L233.5 768.8L239.3 769.2L245.1 769.6L250.9 770L256.7 770.3L262.4 770.7L268.2 771L274 771.3L279.8 771.6L285.6 771.8L291.4 772.1L297.1 772.3L302.9 772.5L308.7 772.7L314.5 772.9L320.3 773L326 773.2L331.8 773.3L337.6 773.5L343.4 773.6L349.2 773.7L355 773.8L360.7 774L366.5 774.1L372.3 774.2L378.1 774.3L383.9 774.4L389.7 774.5L395.4 774.6L401.2 774.6L407 774.7L412.8 774.8L418.6 774.9L424.3 775L430.1 775.1L435.9 775.1L441.7 775.2L447.5 775.3L453.3 775.4L459 775.5L464.8 775.5L470.6 775.6L476.4 775.7L482.2 775.8L488 775.9L493.7 776L499.5 776.1L505.3 776.2L511.1 776.3L516.9 776.4L522.7 776.5L528.4 776.6L534.2 776.8L540 776.9L545.8 777.1L551.6 777.2L557.3 777.4L563.1 777.6L568.9 777.8L574.7 777.9L580.5 778.1L586.3 778.3L592 778.5L597.8 778.6L603.6 778.8L609.4 778.9L615.2 779L621 779L626.7 779.1L632.5 779.1L638.3 779.1L644.1 779.1L649.9 779L655.6 778.9L661.4 778.9L667.2 778.8L673 778.7L678.8 778.7L684.6 778.7L690.3 778.8L696.1 778.9L701.9 779.1L707.7 779.4L713.5 779.8L719.3 780.3L725 780.9L730.8 781.6L736.6 782.2L742.4 782.8L748.2 783.4L753.9 783.8L759.7 784.2L765.5 784.4L771.3 784.6L777.1 784.8L782.9 784.9L788.6 785L794.4 785L800.2 785L806 785L811.8 785L817.6 785L823.3 785L829.1 785L834.9 785L840.7 785L846.5 785.1L852.3 785.2L858 785.4L863.8 785.6L869.6 785.9L875.4 786.2L881.2 786.7L886.9 787.3L892.7 787.9L898.5 788.5L904.3 789L910.1 789.6L915.9 790.1L921.6 790.4L927.4 790.3L933.2 790L939 789.4L944.8 788.6L950.6 787.6L956.3 786.5L962.1 785.3L967.9 784.1L973.7 782.9L979.5 781.6L985.2 780.3L991 779L996.8 777.7L1002.6 776.4L1008.4 775.1L1014.2 773.8L1019.9 772.5L1025.7 771.3L1031.5 770.2L1037.3 769.2L1043.1 768.4L1048.9 767.7L1054.6 767.1L1060.4 766.6L1066.2 766.2L1072 765.8L1077.8 765.4L1083.6 765.1L1089.3 764.9L1095.1 764.8L1100.9 764.7" stroke="#440154" stroke-width="2.3" fill="none"/>
<path d="M407.4 795.3C407.6 793.2 408.7 791.6 412.5 790C416.3 788.4 421.2 786.9 430 785.7C438.8 784.4 450.8 783.4 465 782.7C479.2 781.9 498.3 781.4 515 781.3C531.7 781.1 544.2 781.3 565 781.7C585.8 782.1 617.5 782.9 640 783.7C662.5 784.5 680 785.6 700 786.5C720 787.4 743.3 788.4 760 789.1C776.7 789.8 786.7 790.2 800 790.7C813.3 791.3 829.2 791.6 840 792.2C850.8 792.9 858.6 793.7 864.8 794.6C871 795.6 874 796.8 877.3 798C880.5 799.2 883.9 800.2 884.3 801.9C884.7 803.6 883 805.6 879.8 808C876.5 810.5 871.4 813.2 864.8 816.5C858.2 819.8 850.4 823.8 840 827.7C829.6 831.7 815.6 836.3 802.3 840.2C789 844.1 774.5 848 760 851.2C745.5 854.3 730.8 857 715 858.9C699.2 860.9 677.5 862.1 665 862.8C652.5 863.6 650.2 863.8 639.7 863.6C629.2 863.4 614.8 862.9 602.3 861.8C589.8 860.7 577.3 859.1 564.8 856.9C552.3 854.6 539.9 851.7 527.4 848.3C514.9 844.9 502.4 840.7 489.9 836.5C477.4 832.4 462.8 827.7 452.4 823.6C442 819.5 434.4 815.5 427.5 812C420.6 808.5 414.6 805.4 411.2 802.7C407.8 799.9 407.2 797.4 407.4 795.3Z" stroke="#440154" stroke-width="2.3" stroke-linejoin="round" fill="none"/>
<path d="M465.1 799.1C465.3 796.8 465.8 795.5 469.9 793.9C474 792.3 480.3 790.7 489.9 789.5C499.5 788.3 512.8 787.3 527.4 786.8C542 786.3 558.5 786.3 577.3 786.5C596.1 786.8 619.5 787.6 640 788.4C660.5 789.3 680 790.5 700 791.5C720 792.5 743.3 793.5 760 794.3C776.7 795 789.2 795.4 800 795.9C810.8 796.4 818.3 796.6 825 797.1C831.7 797.5 836 798 840 798.8C844 799.5 846.7 800.5 849 801.7C851.3 802.8 853.8 804.1 853.7 805.6C853.6 807.1 850.8 808.9 848.5 810.6C846.2 812.4 843.5 813.9 840 816C836.5 818.1 835.6 820.5 827.3 823.2C818.9 825.9 801.1 829.4 789.9 832.3C778.7 835.1 774.6 838.1 760 840.3C745.4 842.5 722.4 844.3 702.4 845.4C682.4 846.5 658.8 847 640 846.8C621.2 846.6 604.4 845.8 589.8 844.4C575.2 842.9 564.8 840.7 552.3 838.1C539.8 835.5 525.3 832.1 514.9 828.8C504.5 825.4 497.6 821.6 489.9 818.2C482.2 814.7 472.8 811.1 468.7 807.9C464.6 804.8 464.9 801.4 465.1 799.1Z" stroke="#440154" stroke-width="2.3" stroke-linejoin="round" fill="none"/>
<path d="M503 800.6C503 798.3 503.3 797.5 507.4 796.2C511.5 794.8 517.8 793.5 527.4 792.6C537 791.7 550.2 791.1 564.8 790.9C579.4 790.7 602.3 790.9 614.8 791.3C627.3 791.7 625.8 792.5 640 793.4C654.2 794.2 680 795.4 700 796.4C720 797.4 744.2 798.5 760 799.4C775.8 800.2 785.8 800.9 795 801.6C804.2 802.3 810 802.9 815 803.6C820 804.3 822.6 805.1 825 805.9C827.4 806.8 829.5 807.2 829.3 808.7C829 810.2 828 812.6 823.5 814.9C819 817.3 812.9 820.1 802.3 822.7C791.7 825.3 774.5 828.4 760 830.6C745.5 832.7 730.8 834.4 715 835.5C699.2 836.6 677.5 837 665 837.3C652.5 837.5 650.5 837.4 640 837C629.5 836.5 614.8 836 602.3 834.6C589.8 833.3 577.3 831.4 564.8 828.9C552.3 826.5 537 823.2 527.4 820C517.8 816.9 511.5 813.3 507.4 810.1C503.3 806.8 503 802.9 503 800.6Z" stroke="#440154" stroke-width="2.3" stroke-linejoin="round" fill="none"/>
<path d="M531 804.4C531.2 802.5 532.6 800.8 537.4 799.5C542.2 798.2 549 797 559.8 796.5C570.6 796 588.9 796 602.3 796.4C615.7 796.7 625.4 797.8 640 798.7C654.6 799.6 675 800.9 690 801.7C705 802.6 718.3 803.3 730 803.9C741.7 804.4 750.8 804.6 760 805.1C769.2 805.5 778.4 805.8 785 806.3C791.6 806.8 796.3 807.5 799.8 808.2C803.3 808.9 806.1 809.3 806.2 810.6C806.3 811.9 804.9 814 800.5 815.8C796.1 817.5 786.8 819.6 780 821.2C773.2 822.9 766.7 824.5 760 825.7C753.3 826.9 751.6 827.8 739.9 828.4C728.2 829 706.6 829.5 690 829.5C673.4 829.5 656.7 829.2 640 828.4C623.3 827.5 604.4 826.1 589.8 824.3C575.2 822.6 561.2 820.1 552.3 817.9C543.3 815.6 539.6 813.1 536.1 810.9C532.6 808.6 530.8 806.3 531 804.4Z" stroke="#440154" stroke-width="2.3" stroke-linejoin="round" fill="none"/>
<path d="M555.3 806.7L558 801.7L590.1 799.1L619.6 799.7L640 802.5L665 805.5L697 808.5L720 810.8L740 811.4L760 809.9L779.4 810.6L780.6 815.6L770 818.8L760 820.7L740 822.8L715 823.8L690 824L665 823.6L640 822.8L614.8 821.8L592 819.5L575 815.2L560.7 810.4Z" stroke="#440154" stroke-width="2.3" stroke-linejoin="round" fill="none"/>
<path d="M576.8 803.7L610.2 803.7L633 807.1L655 810L680.5 813.1L674.4 816.4L654.4 819.1L630.3 820.5L603.5 818.5L585 814.8L577.4 811.1Z" stroke="#440154" stroke-width="2.3" stroke-linejoin="round" fill="none"/>
<path d="M592.8 805.1L625 806.4L641 811.5L651.7 812.9L649.7 815.8L630.3 817.1L603.5 816.4L596.2 813.8Z" stroke="#440154" stroke-width="2.9" stroke-linejoin="round" fill="none"/>
<path d="M598 808L622 808.5L640 813.5L627.6 813.4L618.2 810.8L609 814L600 813.5Z" fill="#440154" stroke="#440154" stroke-width="1.5"/>
<path clip-path="url(#c3)" d="M175.7 968.7L181.5 968.5L187.3 968.3L193 968.1L198.8 967.9L204.6 967.7L210.4 967.5L216.2 967.2L222 967L227.7 966.8L233.5 966.6L239.3 966.4L245.1 966.2L250.9 966L256.7 965.8L262.4 965.5L268.2 965.3L274 965.1L279.8 964.9L285.6 964.7L291.4 964.5L297.1 964.3L302.9 964.1L308.7 963.9L314.5 963.7L320.3 963.4L326 963.1L331.8 962.8L337.6 962.6L343.4 962.4L349.2 962.3L355 962.1L360.7 962L366.5 961.9L372.3 961.9L378.1 961.8L383.9 961.8L389.7 961.8L395.4 961.8L401.2 961.8L407 961.8L412.8 961.8L418.6 961.8L424.3 961.9L430.1 961.9L435.9 962L441.7 962L447.5 962.1L453.3 962.1L459 962.2L464.8 962.3L470.6 962.4L476.4 962.5L482.2 962.6L488 962.7L493.7 962.9L499.5 963L505.3 963.2L511.1 963.3L516.9 963.5L522.7 963.7L528.4 963.9L534.2 964.2L540 964.4L545.8 964.7L551.6 965L557.3 965.3L563.1 965.6L568.9 966L574.7 966.3L580.5 966.7L586.3 967.1L592 967.4L597.8 967.8L603.6 968.2L609.4 968.6L615.2 969L621 969.3L626.7 969.6L632.5 969.8L638.3 970L644.1 970.1L649.9 970.2L655.6 970.2L661.4 970.3L667.2 970.3L673 970.3L678.8 970.3L684.6 970.2L690.3 970.2L696.1 970.2L701.9 970.1L707.7 970L713.5 970L719.3 969.9L725 969.7L730.8 969.6L736.6 969.5L742.4 969.3L748.2 969.2L753.9 969L759.7 968.9L765.5 968.8L771.3 968.6L777.1 968.5L782.9 968.4L788.6 968.2L794.4 968.1L800.2 968L806 967.9L811.8 967.8L817.6 967.6L823.3 967.5L829.1 967.4L834.9 967.3L840.7 967.2L846.5 967.1L852.3 967L858 967L863.8 966.9L869.6 966.9L875.4 966.9L881.2 966.9L886.9 966.9L892.7 966.9L898.5 967L904.3 967.1L910.1 967.3L915.9 967.5L921.6 967.7L927.4 967.9L933.2 968.1L939 968.3L944.8 968.5L950.6 968.7L956.3 968.9L962.1 969L967.9 969.2L973.7 969.4L979.5 969.5L985.2 969.7L991 969.8L996.8 969.9L1002.6 970.1L1008.4 970.2L1014.2 970.2L1019.9 970.2L1025.7 970.2L1031.5 970.2L1037.3 970.2L1043.1 970.1L1048.9 970.1L1054.6 970L1060.4 969.9L1066.2 969.8L1072 969.6L1077.8 969.5L1083.6 969.3L1089.3 969.1L1095.1 968.9L1100.9 968.7" stroke="#9bd93c" stroke-width="2.3" fill="none"/>
<path clip-path="url(#c3)" d="M175.7 980L181.5 979.8L187.3 979.6L193 979.3L198.8 979.1L204.6 978.9L210.4 978.7L216.2 978.5L222 978.3L227.7 978.1L233.5 978L239.3 977.8L245.1 977.6L250.9 977.4L256.7 977.3L262.4 977.1L268.2 976.9L274 976.8L279.8 976.7L285.6 976.5L291.4 976.4L297.1 976.3L302.9 976.1L308.7 976L314.5 975.9L320.3 975.8L326 975.7L331.8 975.6L337.6 975.5L343.4 975.4L349.2 975.4L355 975.3L360.7 975.2L366.5 975.1L372.3 975L378.1 974.9L383.9 974.9L389.7 974.8L395.4 974.7L401.2 974.6L407 974.5L412.8 974.4L418.6 974.3L424.3 974.2L430.1 974.1L435.9 974L441.7 974L447.5 974L453.3 974L459 974.1L464.8 974.2L470.6 974.3L476.4 974.4L482.2 974.5L488 974.7L493.7 974.8L499.5 975L505.3 975.2L511.1 975.4L516.9 975.6L522.7 975.8L528.4 975.9L534.2 976.1L540 976.3L545.8 976.5L551.6 976.7L557.3 976.9L563.1 977.2L568.9 977.4L574.7 977.6L580.5 977.8L586.3 978L592 978.3L597.8 978.5L603.6 978.8L609.4 979L615.2 979.3L621 979.5L626.7 979.7L632.5 979.9L638.3 980L644.1 980.1L649.9 980.2L655.6 980.3L661.4 980.4L667.2 980.4L673 980.5L678.8 980.5L684.6 980.5L690.3 980.5L696.1 980.5L701.9 980.5L707.7 980.5L713.5 980.5L719.3 980.4L725 980.4L730.8 980.3L736.6 980.2L742.4 980.2L748.2 980.1L753.9 980L759.7 979.9L765.5 979.9L771.3 979.8L777.1 979.7L782.9 979.7L788.6 979.6L794.4 979.5L800.2 979.5L806 979.5L811.8 979.4L817.6 979.4L823.3 979.4L829.1 979.4L834.9 979.4L840.7 979.3L846.5 979.2L852.3 979.2L858 979.1L863.8 979L869.6 978.9L875.4 978.8L881.2 978.8L886.9 978.7L892.7 978.7L898.5 978.7L904.3 978.7L910.1 978.8L915.9 979L921.6 979.2L927.4 979.4L933.2 979.6L939 979.9L944.8 980.1L950.6 980.4L956.3 980.7L962.1 981L967.9 981.2L973.7 981.5L979.5 981.7L985.2 981.9L991 982L996.8 982.2L1002.6 982.2L1008.4 982.3L1014.2 982.3L1019.9 982.2L1025.7 982.2L1031.5 982.1L1037.3 982L1043.1 981.9L1048.9 981.8L1054.6 981.7L1060.4 981.5L1066.2 981.3L1072 981.1L1077.8 980.9L1083.6 980.7L1089.3 980.5L1095.1 980.2L1100.9 980" stroke="#44bf70" stroke-width="2.3" fill="none"/>
<path clip-path="url(#c3)" d="M175.7 991.7L181.5 991.5L187.3 991.2L193 991L198.8 990.8L204.6 990.6L210.4 990.4L216.2 990.1L222 989.9L227.7 989.7L233.5 989.5L239.3 989.3L245.1 989.1L250.9 988.9L256.7 988.7L262.4 988.5L268.2 988.4L274 988.2L279.8 988L285.6 987.9L291.4 987.7L297.1 987.6L302.9 987.4L308.7 987.3L314.5 987.2L320.3 987.1L326 986.9L331.8 986.8L337.6 986.7L343.4 986.6L349.2 986.5L355 986.4L360.7 986.3L366.5 986.3L372.3 986.2L378.1 986.1L383.9 986.1L389.7 986.1L395.4 986L401.2 986L407 986L412.8 986L418.6 986L424.3 986.1L430.1 986.1L435.9 986.2L441.7 986.2L447.5 986.3L453.3 986.5L459 986.6L464.8 986.8L470.6 987L476.4 987.3L482.2 987.5L488 987.8L493.7 988.1L499.5 988.4L505.3 988.8L511.1 989.1L516.9 989.4L522.7 989.8L528.4 990.2L534.2 990.6L540 991L545.8 991.4L551.6 991.8L557.3 992.3L563.1 992.7L568.9 993.1L574.7 993.5L580.5 993.9L586.3 994.3L592 994.6L597.8 994.9L603.6 995.1L609.4 995.4L615.2 995.6L621 995.8L626.7 996L632.5 996.1L638.3 996.2L644.1 996.3L649.9 996.3L655.6 996.4L661.4 996.4L667.2 996.4L673 996.4L678.8 996.3L684.6 996.3L690.3 996.2L696.1 996.1L701.9 996L707.7 995.9L713.5 995.7L719.3 995.4L725 995.1L730.8 994.8L736.6 994.4L742.4 994L748.2 993.6L753.9 993.3L759.7 992.9L765.5 992.6L771.3 992.3L777.1 991.9L782.9 991.6L788.6 991.3L794.4 991.1L800.2 990.9L806 990.7L811.8 990.6L817.6 990.4L823.3 990.3L829.1 990.2L834.9 990.1L840.7 990L846.5 990L852.3 989.9L858 989.9L863.8 989.9L869.6 989.9L875.4 989.9L881.2 989.9L886.9 989.9L892.7 990L898.5 990.1L904.3 990.2L910.1 990.3L915.9 990.5L921.6 990.7L927.4 990.9L933.2 991.1L939 991.4L944.8 991.6L950.6 991.9L956.3 992.2L962.1 992.4L967.9 992.7L973.7 992.9L979.5 993.1L985.2 993.2L991 993.4L996.8 993.5L1002.6 993.5L1008.4 993.6L1014.2 993.6L1019.9 993.5L1025.7 993.5L1031.5 993.5L1037.3 993.4L1043.1 993.3L1048.9 993.2L1054.6 993.1L1060.4 993L1066.2 992.8L1072 992.7L1077.8 992.5L1083.6 992.3L1089.3 992.1L1095.1 991.9L1100.9 991.7" stroke="#20a386" stroke-width="2.3" fill="none"/>
<path clip-path="url(#c3)" d="M175.7 1001.2L181.5 1001L187.3 1000.8L193 1000.6L198.8 1000.3L204.6 1000.1L210.4 999.9L216.2 999.8L222 999.6L227.7 999.4L233.5 999.2L239.3 999L245.1 998.9L250.9 998.7L256.7 998.5L262.4 998.4L268.2 998.2L274 998.1L279.8 998L285.6 997.8L291.4 997.7L297.1 997.6L302.9 997.4L308.7 997.3L314.5 997.2L320.3 997.1L326 997L331.8 996.9L337.6 996.7L343.4 996.6L349.2 996.5L355 996.5L360.7 996.4L366.5 996.3L372.3 996.2L378.1 996.2L383.9 996.1L389.7 996.1L395.4 996L401.2 996L407 996L412.8 996L418.6 996L424.3 996L430.1 996.1L435.9 996.1L441.7 996.2L447.5 996.3L453.3 996.5L459 996.7L464.8 996.9L470.6 997.1L476.4 997.3L482.2 997.6L488 997.9L493.7 998.2L499.5 998.6L505.3 998.9L511.1 999.3L516.9 999.6L522.7 1000L528.4 1000.4L534.2 1000.8L540 1001.1L545.8 1001.6L551.6 1002L557.3 1002.4L563.1 1002.8L568.9 1003.3L574.7 1003.7L580.5 1004.1L586.3 1004.5L592 1004.8L597.8 1005.2L603.6 1005.6L609.4 1006L615.2 1006.3L621 1006.6L626.7 1006.9L632.5 1007.1L638.3 1007.2L644.1 1007.3L649.9 1007.3L655.6 1007.4L661.4 1007.4L667.2 1007.4L673 1007.3L678.8 1007.2L684.6 1007.1L690.3 1007L696.1 1006.9L701.9 1006.7L707.7 1006.5L713.5 1006.3L719.3 1006L725 1005.6L730.8 1005.3L736.6 1004.9L742.4 1004.5L748.2 1004.1L753.9 1003.7L759.7 1003.3L765.5 1002.9L771.3 1002.6L777.1 1002.2L782.9 1001.9L788.6 1001.6L794.4 1001.3L800.2 1001.1L806 1000.9L811.8 1000.8L817.6 1000.6L823.3 1000.5L829.1 1000.4L834.9 1000.3L840.7 1000.2L846.5 1000.2L852.3 1000.1L858 1000.1L863.8 1000.1L869.6 1000.1L875.4 1000.1L881.2 1000.2L886.9 1000.2L892.7 1000.3L898.5 1000.4L904.3 1000.5L910.1 1000.6L915.9 1000.8L921.6 1001L927.4 1001.2L933.2 1001.5L939 1001.8L944.8 1002L950.6 1002.3L956.3 1002.5L962.1 1002.8L967.9 1003L973.7 1003.2L979.5 1003.4L985.2 1003.6L991 1003.7L996.8 1003.8L1002.6 1003.8L1008.4 1003.8L1014.2 1003.8L1019.9 1003.7L1025.7 1003.7L1031.5 1003.6L1037.3 1003.5L1043.1 1003.3L1048.9 1003.2L1054.6 1003L1060.4 1002.8L1066.2 1002.6L1072 1002.4L1077.8 1002.2L1083.6 1001.9L1089.3 1001.7L1095.1 1001.4L1100.9 1001.2" stroke="#23898e" stroke-width="2.3" fill="none"/>
<path clip-path="url(#c3)" d="M175.7 1010.7L181.5 1010.5L187.3 1010.2L193 1010L198.8 1009.8L204.6 1009.6L210.4 1009.4L216.2 1009.2L222 1009L227.7 1008.8L233.5 1008.6L239.3 1008.4L245.1 1008.2L250.9 1008L256.7 1007.9L262.4 1007.7L268.2 1007.6L274 1007.4L279.8 1007.3L285.6 1007.1L291.4 1007L297.1 1006.9L302.9 1006.7L308.7 1006.6L314.5 1006.5L320.3 1006.4L326 1006.3L331.8 1006.2L337.6 1006.1L343.4 1006L349.2 1005.9L355 1005.8L360.7 1005.7L366.5 1005.6L372.3 1005.6L378.1 1005.5L383.9 1005.5L389.7 1005.4L395.4 1005.4L401.2 1005.4L407 1005.4L412.8 1005.4L418.6 1005.4L424.3 1005.4L430.1 1005.5L435.9 1005.6L441.7 1005.6L447.5 1005.7L453.3 1005.9L459 1006L464.8 1006.2L470.6 1006.5L476.4 1006.7L482.2 1007L488 1007.3L493.7 1007.6L499.5 1007.9L505.3 1008.2L511.1 1008.6L516.9 1008.9L522.7 1009.3L528.4 1009.7L534.2 1010.1L540 1010.5L545.8 1010.9L551.6 1011.3L557.3 1011.8L563.1 1012.2L568.9 1012.7L574.7 1013.2L580.5 1013.6L586.3 1014.1L592 1014.5L597.8 1015L603.6 1015.5L609.4 1016L615.2 1016.4L621 1016.8L626.7 1017.2L632.5 1017.4L638.3 1017.6L644.1 1017.7L649.9 1017.8L655.6 1017.8L661.4 1017.8L667.2 1017.7L673 1017.6L678.8 1017.5L684.6 1017.3L690.3 1017.2L696.1 1017L701.9 1016.7L707.7 1016.5L713.5 1016.2L719.3 1015.9L725 1015.6L730.8 1015.2L736.6 1014.8L742.4 1014.4L748.2 1014L753.9 1013.6L759.7 1013.2L765.5 1012.7L771.3 1012.3L777.1 1011.8L782.9 1011.4L788.6 1011.1L794.4 1010.7L800.2 1010.5L806 1010.3L811.8 1010.1L817.6 1010L823.3 1009.9L829.1 1009.8L834.9 1009.7L840.7 1009.7L846.5 1009.6L852.3 1009.6L858 1009.6L863.8 1009.6L869.6 1009.7L875.4 1009.7L881.2 1009.8L886.9 1009.9L892.7 1010L898.5 1010.1L904.3 1010.2L910.1 1010.4L915.9 1010.5L921.6 1010.7L927.4 1011L933.2 1011.2L939 1011.5L944.8 1011.7L950.6 1012L956.3 1012.2L962.1 1012.5L967.9 1012.7L973.7 1012.9L979.5 1013.1L985.2 1013.2L991 1013.3L996.8 1013.4L1002.6 1013.4L1008.4 1013.4L1014.2 1013.4L1019.9 1013.3L1025.7 1013.2L1031.5 1013.1L1037.3 1013L1043.1 1012.9L1048.9 1012.7L1054.6 1012.5L1060.4 1012.4L1066.2 1012.2L1072 1011.9L1077.8 1011.7L1083.6 1011.5L1089.3 1011.2L1095.1 1011L1100.9 1010.7" stroke="#2c738e" stroke-width="2.3" fill="none"/>
<path clip-path="url(#c3)" d="M175.7 1019.2L181.5 1019L187.3 1018.8L193 1018.6L198.8 1018.4L204.6 1018.2L210.4 1018L216.2 1017.8L222 1017.6L227.7 1017.4L233.5 1017.3L239.3 1017.1L245.1 1017L250.9 1016.8L256.7 1016.6L262.4 1016.5L268.2 1016.3L274 1016.2L279.8 1016.1L285.6 1015.9L291.4 1015.8L297.1 1015.7L302.9 1015.5L308.7 1015.4L314.5 1015.3L320.3 1015.1L326 1015L331.8 1014.9L337.6 1014.8L343.4 1014.7L349.2 1014.5L355 1014.4L360.7 1014.3L366.5 1014.2L372.3 1014.2L378.1 1014.1L383.9 1014L389.7 1014L395.4 1013.9L401.2 1013.9L407 1013.8L412.8 1013.8L418.6 1013.8L424.3 1013.9L430.1 1013.9L435.9 1014L441.7 1014L447.5 1014.1L453.3 1014.3L459 1014.4L464.8 1014.7L470.6 1014.9L476.4 1015.2L482.2 1015.4L488 1015.8L493.7 1016.1L499.5 1016.4L505.3 1016.8L511.1 1017.2L516.9 1017.6L522.7 1018L528.4 1018.4L534.2 1018.8L540 1019.2L545.8 1019.7L551.6 1020.2L557.3 1020.6L563.1 1021.1L568.9 1021.7L574.7 1022.2L580.5 1022.7L586.3 1023.2L592 1023.7L597.8 1024.2L603.6 1024.8L609.4 1025.3L615.2 1025.8L621 1026.3L626.7 1026.7L632.5 1027L638.3 1027.2L644.1 1027.3L649.9 1027.4L655.6 1027.5L661.4 1027.5L667.2 1027.5L673 1027.4L678.8 1027.4L684.6 1027.2L690.3 1027.1L696.1 1026.9L701.9 1026.7L707.7 1026.4L713.5 1026.1L719.3 1025.7L725 1025.3L730.8 1024.8L736.6 1024.3L742.4 1023.8L748.2 1023.2L753.9 1022.7L759.7 1022.2L765.5 1021.7L771.3 1021.2L777.1 1020.7L782.9 1020.3L788.6 1019.9L794.4 1019.5L800.2 1019.3L806 1019.1L811.8 1018.9L817.6 1018.8L823.3 1018.7L829.1 1018.6L834.9 1018.5L840.7 1018.5L846.5 1018.5L852.3 1018.5L858 1018.5L863.8 1018.5L869.6 1018.5L875.4 1018.6L881.2 1018.7L886.9 1018.8L892.7 1018.9L898.5 1019L904.3 1019.1L910.1 1019.3L915.9 1019.4L921.6 1019.6L927.4 1019.9L933.2 1020.1L939 1020.3L944.8 1020.6L950.6 1020.8L956.3 1021L962.1 1021.3L967.9 1021.5L973.7 1021.6L979.5 1021.8L985.2 1021.9L991 1022L996.8 1022.1L1002.6 1022.1L1008.4 1022.1L1014.2 1022L1019.9 1022L1025.7 1021.9L1031.5 1021.8L1037.3 1021.6L1043.1 1021.5L1048.9 1021.3L1054.6 1021.1L1060.4 1020.9L1066.2 1020.7L1072 1020.5L1077.8 1020.2L1083.6 1020L1089.3 1019.7L1095.1 1019.5L1100.9 1019.2" stroke="#33628d" stroke-width="2.3" fill="none"/>
<path clip-path="url(#c3)" d="M175.7 1026.7L181.5 1026.5L187.3 1026.2L193 1026L198.8 1025.8L204.6 1025.6L210.4 1025.4L216.2 1025.3L222 1025.1L227.7 1024.9L233.5 1024.8L239.3 1024.7L245.1 1024.5L250.9 1024.4L256.7 1024.3L262.4 1024.1L268.2 1024L274 1023.9L279.8 1023.8L285.6 1023.7L291.4 1023.6L297.1 1023.5L302.9 1023.3L308.7 1023.2L314.5 1023.1L320.3 1023L326 1022.9L331.8 1022.8L337.6 1022.7L343.4 1022.6L349.2 1022.5L355 1022.4L360.7 1022.3L366.5 1022.2L372.3 1022.1L378.1 1022L383.9 1021.9L389.7 1021.9L395.4 1021.8L401.2 1021.8L407 1021.8L412.8 1021.8L418.6 1021.8L424.3 1021.8L430.1 1021.8L435.9 1021.9L441.7 1021.9L447.5 1022L453.3 1022.2L459 1022.3L464.8 1022.5L470.6 1022.8L476.4 1023.1L482.2 1023.3L488 1023.7L493.7 1024L499.5 1024.4L505.3 1024.8L511.1 1025.2L516.9 1025.6L522.7 1026L528.4 1026.5L534.2 1026.9L540 1027.4L545.8 1027.9L551.6 1028.5L557.3 1029L563.1 1029.6L568.9 1030.2L574.7 1030.8L580.5 1031.3L586.3 1031.9L592 1032.5L597.8 1033L603.6 1033.6L609.4 1034.2L615.2 1034.8L621 1035.2L626.7 1035.7L632.5 1036L638.3 1036.3L644.1 1036.5L649.9 1036.7L655.6 1036.8L661.4 1036.9L667.2 1036.9L673 1037L678.8 1037L684.6 1036.9L690.3 1036.8L696.1 1036.6L701.9 1036.5L707.7 1036.2L713.5 1035.9L719.3 1035.4L725 1034.8L730.8 1034.2L736.6 1033.5L742.4 1032.7L748.2 1032.1L753.9 1031.4L759.7 1030.9L765.5 1030.4L771.3 1029.9L777.1 1029.4L782.9 1029L788.6 1028.6L794.4 1028.3L800.2 1028.1L806 1027.9L811.8 1027.7L817.6 1027.6L823.3 1027.5L829.1 1027.3L834.9 1027.2L840.7 1027.2L846.5 1027.1L852.3 1027.1L858 1027L863.8 1027L869.6 1027L875.4 1027.1L881.2 1027.1L886.9 1027.2L892.7 1027.3L898.5 1027.4L904.3 1027.5L910.1 1027.7L915.9 1027.9L921.6 1028.1L927.4 1028.3L933.2 1028.6L939 1028.9L944.8 1029.2L950.6 1029.4L956.3 1029.7L962.1 1030L967.9 1030.2L973.7 1030.4L979.5 1030.6L985.2 1030.7L991 1030.8L996.8 1030.9L1002.6 1030.9L1008.4 1030.9L1014.2 1030.8L1019.9 1030.7L1025.7 1030.5L1031.5 1030.3L1037.3 1030.1L1043.1 1029.9L1048.9 1029.6L1054.6 1029.3L1060.4 1029L1066.2 1028.7L1072 1028.4L1077.8 1028.1L1083.6 1027.7L1089.3 1027.4L1095.1 1027L1100.9 1026.7" stroke="#3b528b" stroke-width="2.3" fill="none"/>
<path clip-path="url(#c3)" d="M175.7 1033.7L181.5 1033.5L187.3 1033.3L193 1033L198.8 1032.9L204.6 1032.7L210.4 1032.5L216.2 1032.4L222 1032.2L227.7 1032.1L233.5 1031.9L239.3 1031.8L245.1 1031.7L250.9 1031.6L256.7 1031.5L262.4 1031.4L268.2 1031.3L274 1031.2L279.8 1031.1L285.6 1031L291.4 1030.9L297.1 1030.8L302.9 1030.6L308.7 1030.5L314.5 1030.4L320.3 1030.3L326 1030.2L331.8 1030L337.6 1029.9L343.4 1029.8L349.2 1029.6L355 1029.5L360.7 1029.4L366.5 1029.3L372.3 1029.2L378.1 1029.1L383.9 1029L389.7 1029L395.4 1028.9L401.2 1028.9L407 1028.8L412.8 1028.8L418.6 1028.8L424.3 1028.8L430.1 1028.9L435.9 1028.9L441.7 1029L447.5 1029.2L453.3 1029.3L459 1029.6L464.8 1029.8L470.6 1030.1L476.4 1030.4L482.2 1030.8L488 1031.2L493.7 1031.6L499.5 1032L505.3 1032.5L511.1 1032.9L516.9 1033.4L522.7 1033.9L528.4 1034.3L534.2 1034.8L540 1035.3L545.8 1035.9L551.6 1036.4L557.3 1037L563.1 1037.6L568.9 1038.2L574.7 1038.8L580.5 1039.4L586.3 1040L592 1040.7L597.8 1041.4L603.6 1042.1L609.4 1042.8L615.2 1043.5L621 1044.1L626.7 1044.7L632.5 1045.1L638.3 1045.5L644.1 1045.8L649.9 1046L655.6 1046.2L661.4 1046.4L667.2 1046.5L673 1046.5L678.8 1046.6L684.6 1046.5L690.3 1046.4L696.1 1046.3L701.9 1046.1L707.7 1045.8L713.5 1045.5L719.3 1044.9L725 1044.2L730.8 1043.4L736.6 1042.6L742.4 1041.7L748.2 1040.8L753.9 1040.1L759.7 1039.4L765.5 1038.7L771.3 1038L777.1 1037.4L782.9 1036.9L788.6 1036.4L794.4 1036L800.2 1035.7L806 1035.5L811.8 1035.2L817.6 1035.1L823.3 1034.9L829.1 1034.8L834.9 1034.7L840.7 1034.6L846.5 1034.5L852.3 1034.5L858 1034.5L863.8 1034.5L869.6 1034.5L875.4 1034.6L881.2 1034.7L886.9 1034.7L892.7 1034.8L898.5 1035L904.3 1035.1L910.1 1035.3L915.9 1035.5L921.6 1035.7L927.4 1036L933.2 1036.3L939 1036.6L944.8 1036.8L950.6 1037.1L956.3 1037.4L962.1 1037.6L967.9 1037.9L973.7 1038.1L979.5 1038.2L985.2 1038.4L991 1038.5L996.8 1038.5L1002.6 1038.5L1008.4 1038.4L1014.2 1038.3L1019.9 1038.2L1025.7 1038L1031.5 1037.8L1037.3 1037.5L1043.1 1037.2L1048.9 1037L1054.6 1036.6L1060.4 1036.3L1066.2 1035.9L1072 1035.6L1077.8 1035.2L1083.6 1034.8L1089.3 1034.4L1095.1 1034.1L1100.9 1033.7" stroke="#424086" stroke-width="2.3" fill="none"/>
<path clip-path="url(#c3)" d="M175.7 1039.9L181.5 1039.7L187.3 1039.4L193 1039.2L198.8 1039.1L204.6 1038.9L210.4 1038.7L216.2 1038.6L222 1038.5L227.7 1038.4L233.5 1038.3L239.3 1038.2L245.1 1038.1L250.9 1038L256.7 1037.9L262.4 1037.9L268.2 1037.8L274 1037.7L279.8 1037.7L285.6 1037.6L291.4 1037.5L297.1 1037.4L302.9 1037.4L308.7 1037.3L314.5 1037.2L320.3 1037.1L326 1037L331.8 1036.8L337.6 1036.7L343.4 1036.6L349.2 1036.5L355 1036.4L360.7 1036.3L366.5 1036.2L372.3 1036.1L378.1 1036L383.9 1035.9L389.7 1035.9L395.4 1035.8L401.2 1035.8L407 1035.7L412.8 1035.7L418.6 1035.7L424.3 1035.7L430.1 1035.8L435.9 1035.8L441.7 1035.9L447.5 1036.1L453.3 1036.2L459 1036.4L464.8 1036.7L470.6 1037L476.4 1037.3L482.2 1037.7L488 1038.1L493.7 1038.5L499.5 1039L505.3 1039.4L511.1 1039.9L516.9 1040.4L522.7 1040.9L528.4 1041.4L534.2 1042L540 1042.5L545.8 1043.1L551.6 1043.7L557.3 1044.4L563.1 1045.1L568.9 1045.8L574.7 1046.5L580.5 1047.2L586.3 1047.9L592 1048.7L597.8 1049.5L603.6 1050.4L609.4 1051.3L615.2 1052.1L621 1052.9L626.7 1053.6L632.5 1054.1L638.3 1054.6L644.1 1055L649.9 1055.3L655.6 1055.6L661.4 1055.8L667.2 1055.9L673 1056L678.8 1056.1L684.6 1056.1L690.3 1056L696.1 1055.8L701.9 1055.6L707.7 1055.3L713.5 1054.8L719.3 1054.1L725 1053.3L730.8 1052.3L736.6 1051.2L742.4 1050.2L748.2 1049.1L753.9 1048.2L759.7 1047.4L765.5 1046.6L771.3 1045.9L777.1 1045.2L782.9 1044.6L788.6 1044.1L794.4 1043.6L800.2 1043.3L806 1043L811.8 1042.8L817.6 1042.6L823.3 1042.4L829.1 1042.2L834.9 1042.1L840.7 1042L846.5 1041.9L852.3 1041.9L858 1041.8L863.8 1041.8L869.6 1041.8L875.4 1041.9L881.2 1042L886.9 1042L892.7 1042.1L898.5 1042.3L904.3 1042.4L910.1 1042.6L915.9 1042.8L921.6 1043.1L927.4 1043.4L933.2 1043.7L939 1044L944.8 1044.3L950.6 1044.6L956.3 1044.9L962.1 1045.1L967.9 1045.4L973.7 1045.6L979.5 1045.8L985.2 1045.9L991 1046L996.8 1046L1002.6 1046L1008.4 1045.9L1014.2 1045.7L1019.9 1045.5L1025.7 1045.3L1031.5 1045L1037.3 1044.7L1043.1 1044.3L1048.9 1043.9L1054.6 1043.5L1060.4 1043.1L1066.2 1042.7L1072 1042.2L1077.8 1041.7L1083.6 1041.3L1089.3 1040.8L1095.1 1040.3L1100.9 1039.9" stroke="#46307e" stroke-width="2.3" fill="none"/>
<path clip-path="url(#c3)" d="M175.7 1045.6L181.5 1045.4L187.3 1045.3L193 1045.1L198.8 1045L204.6 1044.9L210.4 1044.8L216.2 1044.7L222 1044.7L227.7 1044.6L233.5 1044.6L239.3 1044.5L245.1 1044.5L250.9 1044.4L256.7 1044.4L262.4 1044.3L268.2 1044.3L274 1044.3L279.8 1044.2L285.6 1044.2L291.4 1044.1L297.1 1044L302.9 1044L308.7 1043.9L314.5 1043.8L320.3 1043.7L326 1043.6L331.8 1043.5L337.6 1043.3L343.4 1043.2L349.2 1043.1L355 1043L360.7 1042.9L366.5 1042.8L372.3 1042.7L378.1 1042.6L383.9 1042.5L389.7 1042.4L395.4 1042.4L401.2 1042.3L407 1042.3L412.8 1042.3L418.6 1042.3L424.3 1042.3L430.1 1042.4L435.9 1042.4L441.7 1042.5L447.5 1042.7L453.3 1042.9L459 1043.1L464.8 1043.4L470.6 1043.7L476.4 1044.1L482.2 1044.5L488 1044.9L493.7 1045.4L499.5 1045.9L505.3 1046.4L511.1 1046.9L516.9 1047.4L522.7 1048L528.4 1048.5L534.2 1049.1L540 1049.7L545.8 1050.3L551.6 1051L557.3 1051.7L563.1 1052.4L568.9 1053.2L574.7 1054L580.5 1054.9L586.3 1055.8L592 1056.7L597.8 1057.8L603.6 1058.9L609.4 1060L615.2 1061L621 1062L626.7 1062.9L632.5 1063.7L638.3 1064.3L644.1 1064.8L649.9 1065.1L655.6 1065.4L661.4 1065.6L667.2 1065.8L673 1065.8L678.8 1065.8L684.6 1065.8L690.3 1065.7L696.1 1065.4L701.9 1065.1L707.7 1064.7L713.5 1064.1L719.3 1063.3L725 1062.3L730.8 1061.1L736.6 1059.9L742.4 1058.6L748.2 1057.4L753.9 1056.3L759.7 1055.4L765.5 1054.4L771.3 1053.5L777.1 1052.7L782.9 1052L788.6 1051.3L794.4 1050.8L800.2 1050.4L806 1050.1L811.8 1049.8L817.6 1049.5L823.3 1049.2L829.1 1049L834.9 1048.8L840.7 1048.7L846.5 1048.6L852.3 1048.5L858 1048.5L863.8 1048.5L869.6 1048.5L875.4 1048.6L881.2 1048.8L886.9 1048.9L892.7 1049.2L898.5 1049.4L904.3 1049.8L910.1 1050.3L915.9 1050.9L921.6 1051.5L927.4 1052.2L933.2 1052.8L939 1053.5L944.8 1054L950.6 1054.3L956.3 1054.5L962.1 1054.5L967.9 1054.4L973.7 1054.2L979.5 1054L985.2 1053.7L991 1053.3L996.8 1052.9L1002.6 1052.5L1008.4 1052.1L1014.2 1051.7L1019.9 1051.3L1025.7 1050.9L1031.5 1050.5L1037.3 1050.1L1043.1 1049.6L1048.9 1049.2L1054.6 1048.8L1060.4 1048.4L1066.2 1047.9L1072 1047.5L1077.8 1047.1L1083.6 1046.7L1089.3 1046.3L1095.1 1046L1100.9 1045.6" stroke="#482475" stroke-width="2.3" fill="none"/>
<path clip-path="url(#c3)" d="M175.7 1050.6L181.5 1050.4L187.3 1050.3L193 1050.2L198.8 1050.1L204.6 1050L210.4 1049.9L216.2 1049.9L222 1049.8L227.7 1049.8L233.5 1049.8L239.3 1049.8L245.1 1049.9L250.9 1049.9L256.7 1050L262.4 1050L268.2 1050.1L274 1050.2L279.8 1050.3L285.6 1050.4L291.4 1050.6L297.1 1050.7L302.9 1050.9L308.7 1051.1L314.5 1051.4L320.3 1051.6L326 1051.9L331.8 1052.1L337.6 1052.2L343.4 1052.2L349.2 1052.2L355 1052.1L360.7 1051.9L366.5 1051.7L372.3 1051.5L378.1 1051.2L383.9 1051L389.7 1050.7L395.4 1050.4L401.2 1050.1L407 1049.8L412.8 1049.6L418.6 1049.4L424.3 1049.2L430.1 1049.1L435.9 1049L441.7 1049L447.5 1049.1L453.3 1049.2L459 1049.4L464.8 1049.6L470.6 1049.9L476.4 1050.3L482.2 1050.7L488 1051.2L493.7 1051.6L499.5 1052.2L505.3 1052.7L511.1 1053.3L516.9 1053.9L522.7 1054.5L528.4 1055.1L534.2 1055.7L540 1056.4L545.8 1057.1L551.6 1057.9L557.3 1058.8L563.1 1059.7L568.9 1060.7L574.7 1061.7L580.5 1062.8L586.3 1064L592 1065.3L597.8 1066.8L603.6 1068.3L609.4 1069.8L615.2 1071.3L621 1072.8L626.7 1074L632.5 1075.1L638.3 1075.9L644.1 1076.5L649.9 1076.9L655.6 1077.3L661.4 1077.4L667.2 1077.5L673 1077.5L678.8 1077.3L684.6 1077L690.3 1076.6L696.1 1076.1L701.9 1075.4L707.7 1074.7L713.5 1073.9L719.3 1072.9L725 1071.7L730.8 1070.4L736.6 1069.1L742.4 1067.7L748.2 1066.4L753.9 1065.1L759.7 1063.8L765.5 1062.6L771.3 1061.3L777.1 1060.1L782.9 1059.1L788.6 1058.1L794.4 1057.3L800.2 1056.8L806 1056.4L811.8 1056L817.6 1055.8L823.3 1055.5L829.1 1055.4L834.9 1055.2L840.7 1055.2L846.5 1055.1L852.3 1055.2L858 1055.2L863.8 1055.3L869.6 1055.5L875.4 1055.7L881.2 1055.9L886.9 1056.2L892.7 1056.5L898.5 1056.9L904.3 1057.3L910.1 1057.8L915.9 1058.4L921.6 1059L927.4 1059.6L933.2 1060.3L939 1060.9L944.8 1061.4L950.6 1061.9L956.3 1062.3L962.1 1062.5L967.9 1062.6L973.7 1062.5L979.5 1062.2L985.2 1061.7L991 1061L996.8 1060.2L1002.6 1059.5L1008.4 1058.8L1014.2 1058.2L1019.9 1057.5L1025.7 1056.9L1031.5 1056.3L1037.3 1055.7L1043.1 1055.2L1048.9 1054.6L1054.6 1054.1L1060.4 1053.6L1066.2 1053.1L1072 1052.6L1077.8 1052.2L1083.6 1051.7L1089.3 1051.3L1095.1 1050.9L1100.9 1050.6" stroke="#481769" stroke-width="2.3" fill="none"/>
<path clip-path="url(#c3)" d="M175.7 1055.6L181.5 1055.7L187.3 1055.9L193 1056.1L198.8 1056.4L204.6 1056.7L210.4 1057L216.2 1057.4L222 1057.7L227.7 1057.9L233.5 1058.1L239.3 1058.3L245.1 1058.4L250.9 1058.5L256.7 1058.5L262.4 1058.6L268.2 1058.6L274 1058.7L279.8 1058.8L285.6 1058.9L291.4 1059L297.1 1059.2L302.9 1059.4L308.7 1059.8L314.5 1060.2L320.3 1060.5L326 1060.9L331.8 1061.1L337.6 1061.1L343.4 1060.9L349.2 1060.6L355 1060.2L360.7 1059.8L366.5 1059.2L372.3 1058.7L378.1 1058.2L383.9 1057.7L389.7 1057.2L395.4 1056.7L401.2 1056.3L407 1055.9L412.8 1055.5L418.6 1055.2L424.3 1055L430.1 1054.8L435.9 1054.7L441.7 1054.7L447.5 1054.8L453.3 1055L459 1055.2L464.8 1055.6L470.6 1055.9L476.4 1056.4L482.2 1056.8L488 1057.3L493.7 1057.9L499.5 1058.4L505.3 1059L511.1 1059.5L516.9 1060.1L522.7 1060.7L528.4 1061.2L534.2 1061.8L540 1062.3L545.8 1063L551.6 1063.7L557.3 1064.6L563.1 1065.7L568.9 1067L574.7 1068.6L580.5 1070.5L586.3 1072.8L592 1075.7L597.8 1079.1L603.6 1082.5L609.4 1085.3L615.2 1087.3L621 1089L626.7 1090.3L632.5 1091.4L638.3 1092.2L644.1 1093L649.9 1093.6L655.6 1094.2L661.4 1094.5L667.2 1094.5L673 1094.1L678.8 1093.3L684.6 1092.3L690.3 1091.1L696.1 1089.7L701.9 1088.3L707.7 1086.8L713.5 1085.3L719.3 1083.7L725 1082.1L730.8 1080.4L736.6 1078.7L742.4 1077.1L748.2 1075.4L753.9 1073.8L759.7 1072.2L765.5 1070.5L771.3 1068.8L777.1 1067.2L782.9 1065.8L788.6 1064.5L794.4 1063.4L800.2 1062.7L806 1062.2L811.8 1061.7L817.6 1061.4L823.3 1061.2L829.1 1061.1L834.9 1061L840.7 1061L846.5 1061.1L852.3 1061.3L858 1061.5L863.8 1061.9L869.6 1062.2L875.4 1062.6L881.2 1063.1L886.9 1063.7L892.7 1064.2L898.5 1064.8L904.3 1065.5L910.1 1066.3L915.9 1067.2L921.6 1068.2L927.4 1069.1L933.2 1069.9L939 1070.7L944.8 1071.3L950.6 1071.7L956.3 1071.8L962.1 1071.7L967.9 1071.4L973.7 1070.9L979.5 1070.2L985.2 1069.5L991 1068.7L996.8 1067.9L1002.6 1067.2L1008.4 1066.4L1014.2 1065.5L1019.9 1064.7L1025.7 1063.9L1031.5 1063L1037.3 1062.2L1043.1 1061.4L1048.9 1060.6L1054.6 1059.9L1060.4 1059.2L1066.2 1058.5L1072 1057.9L1077.8 1057.3L1083.6 1056.7L1089.3 1056.3L1095.1 1055.9L1100.9 1055.6" stroke="#460b5e" stroke-width="2.3" fill="none"/>
<path d="M353.7 1085C353.7 1083 354.8 1080.8 357.5 1078.7C360.2 1076.5 362.5 1074.3 370 1072.2C377.5 1070.2 390.8 1068 402.4 1066.4C414 1064.8 427.4 1063.4 439.9 1062.9C452.4 1062.3 464.9 1062.2 477.4 1062.9C489.9 1063.6 502.3 1065 514.8 1067C527.3 1069.1 540.6 1072 552.3 1075.4C564 1078.9 575.6 1083.1 584.8 1087.8C593.9 1092.6 601.6 1098.1 607.2 1103.9C612.8 1109.6 617.2 1117.1 618.5 1122.4C619.8 1127.7 617.4 1131.2 614.7 1135.6C612 1140 606 1144.8 602.2 1148.8C598.5 1152.8 594.9 1156.8 592.2 1159.7C589.5 1162.6 588.9 1164.8 586 1166.1C583.1 1167.4 580.4 1167.9 574.8 1167.5C569.2 1167.1 562.3 1165.9 552.3 1164C542.3 1162 527.3 1159.1 514.8 1155.7C502.3 1152.3 489.9 1148 477.4 1143.4C464.9 1138.8 452.4 1133.4 439.9 1128.2C427.4 1123 414 1117.2 402.4 1112.4C390.8 1107.6 377.5 1103 370 1099.4C362.5 1095.8 360.2 1093.2 357.5 1090.8C354.8 1088.4 353.7 1087 353.7 1085Z" stroke="#440154" stroke-width="2.3" stroke-linejoin="round" fill="none"/>
<path d="M404.9 1083.7C405.3 1081.6 405.8 1079.5 408.7 1077.6C411.6 1075.6 415.1 1073.6 422.4 1072.1C429.7 1070.7 441.1 1069.4 452.4 1069C463.6 1068.6 477.4 1068.8 489.9 1069.9C502.4 1070.9 516.5 1072.9 527.3 1075.4C538.1 1077.9 547.3 1081.3 554.8 1084.7C562.3 1088.1 568.8 1092.1 572.3 1095.9C575.8 1099.7 576 1104 576 1107.4C576 1110.8 575 1113.3 572.3 1116C569.6 1118.7 565.2 1121.5 559.8 1123.6C554.4 1125.6 547.3 1127.5 539.8 1128.3C532.3 1129.1 525.2 1129.2 514.8 1128.2C504.4 1127.1 489.9 1124.9 477.4 1122C464.9 1119.1 450.3 1114.6 439.9 1110.8C429.5 1106.9 420.5 1102.3 414.9 1098.8C409.3 1095.4 407.9 1092.4 406.2 1089.9C404.5 1087.4 404.5 1085.8 404.9 1083.7Z" stroke="#440154" stroke-width="2.3" stroke-linejoin="round" fill="none"/>
<path d="M432.4 1085C432.8 1083.3 433.3 1081 436.2 1079.3C439.1 1077.6 443 1075.9 449.9 1074.9C456.8 1073.9 467.4 1073.1 477.4 1073.3C487.4 1073.4 500.2 1074.3 509.8 1075.8C519.4 1077.3 528.1 1079.7 534.8 1082.2C541.5 1084.6 546.8 1087.7 549.8 1090.5C552.8 1093.2 553 1096 552.8 1098.7C552.6 1101.4 551.5 1104.2 548.5 1106.4C545.5 1108.6 540.4 1110.8 534.8 1112C529.2 1113.3 522.3 1114.1 514.8 1114C507.3 1113.9 499 1112.8 489.9 1111.2C480.8 1109.5 468.2 1106.6 459.9 1104.1C451.6 1101.5 444.3 1098.2 439.9 1095.8C435.5 1093.3 434.9 1091.2 433.7 1089.4C432.4 1087.7 432 1086.7 432.4 1085Z" stroke="#440154" stroke-width="2.3" stroke-linejoin="round" fill="none"/>
<path d="M454.9 1086.2C454.7 1084.4 455.7 1083 458.6 1081.8C461.5 1080.6 466.4 1079.4 472.4 1078.9C478.4 1078.4 487.7 1078.3 494.8 1078.9C501.9 1079.5 509.2 1080.9 514.8 1082.4C520.4 1084 525.6 1086.1 528.6 1088C531.6 1089.9 532.8 1091.9 532.8 1093.7C532.8 1095.5 531.6 1097.6 528.6 1099.1C525.6 1100.6 520.4 1102 514.8 1102.6C509.2 1103.1 501.4 1103.1 494.8 1102.5C488.2 1101.9 480.7 1100.3 474.9 1098.7C469.1 1097.1 463.2 1094.8 459.9 1092.7C456.6 1090.6 455.1 1088 454.9 1086.2Z" stroke="#440154" stroke-width="2.3" stroke-linejoin="round" fill="none"/>
<path d="M477.4 1087L488.6 1083L504.8 1085.5L509.3 1089.5L506.1 1095L492.3 1094.4L482.4 1089.9Z" stroke="#440154" stroke-width="2.3" stroke-linejoin="round" fill="none"/>
<path d="M690.5 1122.4C690.7 1119.3 691.8 1115.3 695 1111.5C698.2 1107.7 703.3 1103.5 710 1099.5C716.7 1095.4 725.4 1091 735 1087.2C744.6 1083.4 755.8 1079.6 767.4 1076.9C779 1074.1 792.4 1071.8 804.9 1070.5C817.4 1069.2 829.8 1068.9 842.3 1069.2C854.8 1069.5 868.5 1070.8 879.8 1072.2C891 1073.6 901.5 1075.7 909.8 1077.5C918.1 1079.4 925.4 1081.4 929.8 1083.3C934.2 1085.1 936 1086.6 936 1088.7C936 1090.8 935 1093 929.8 1095.8C924.6 1098.5 913.1 1101.6 904.8 1105C896.5 1108.5 890.2 1112.4 879.8 1116.4C869.4 1120.4 854.8 1125.1 842.3 1129C829.8 1132.9 816.1 1137.1 804.9 1140.1C793.7 1143 784.1 1145.5 774.9 1146.9C765.7 1148.4 758.2 1148.9 749.9 1148.7C741.6 1148.4 732.5 1147.1 725 1145.4C717.5 1143.7 710.2 1141 705 1138.5C699.8 1136 696.1 1133 693.7 1130.3C691.3 1127.7 690.3 1125.5 690.5 1122.4Z" stroke="#440154" stroke-width="2.3" stroke-linejoin="round" fill="none"/>
<path d="M730 1112.4C730 1109.6 730.4 1106.1 733.7 1102.9C737 1099.6 743 1096.1 749.9 1092.9C756.8 1089.7 765.7 1086.3 774.9 1083.8C784.1 1081.3 794.9 1079 804.9 1077.7C814.9 1076.4 824.4 1075.9 834.8 1075.9C845.2 1076 858.5 1077.1 867.3 1078.2C876 1079.3 882.3 1081 887.3 1082.6C892.3 1084.1 896.5 1085.1 897.3 1087.5C898.1 1089.9 896 1093.5 892.3 1096.7C888.5 1099.9 881.9 1103.3 874.8 1106.6C867.7 1110 858.9 1113.7 849.8 1116.8C840.6 1119.9 829.5 1123.2 819.9 1125.4C810.3 1127.7 801.6 1129.5 792.4 1130.3C783.2 1131.2 772.8 1131.2 764.9 1130.5C757 1129.9 750.1 1128.2 744.9 1126.4C739.7 1124.6 736.2 1122.1 733.7 1119.8C731.2 1117.5 730 1115.2 730 1112.4Z" stroke="#440154" stroke-width="2.3" stroke-linejoin="round" fill="none"/>
<path d="M751.2 1106.9C751.4 1104.6 751.8 1101.7 754.9 1099C758 1096.3 763.6 1093.2 769.9 1090.6C776.1 1088.1 784.1 1085.4 792.4 1083.5C800.7 1081.7 810.3 1080.3 819.9 1079.8C829.5 1079.3 841.5 1079.6 849.8 1080.3C858.1 1081.1 865 1082.7 869.8 1084.3C874.6 1085.9 877.8 1087.6 878.6 1089.9C879.4 1092.2 877.9 1095.1 874.8 1097.9C871.7 1100.7 866.5 1103.7 859.8 1106.5C853.1 1109.2 843.1 1112.3 834.8 1114.6C826.5 1116.8 818.2 1118.8 809.9 1119.9C801.6 1121 792.4 1121.4 784.9 1121.1C777.4 1120.8 770.1 1119.5 764.9 1118.1C759.7 1116.7 756 1114.6 753.7 1112.8C751.4 1110.9 751 1109.2 751.2 1106.9Z" stroke="#440154" stroke-width="2.3" stroke-linejoin="round" fill="none"/>
<path d="M767.4 1102.4C767.8 1100.4 769.1 1097.5 772.4 1095.2C775.7 1092.9 781.1 1090.4 787.4 1088.5C793.6 1086.6 802 1084.8 809.9 1084C817.8 1083.2 827.3 1083 834.8 1083.5C842.3 1084 849.9 1085.4 854.8 1086.9C859.7 1088.4 863.5 1090.2 864.3 1092.4C865.1 1094.6 863 1097.4 859.8 1099.8C856.5 1102.2 851 1104.8 844.8 1106.8C838.6 1108.8 829.9 1110.7 822.4 1111.8C814.9 1113 807 1113.5 799.9 1113.5C792.8 1113.4 784.9 1112.5 779.9 1111.5C774.9 1110.5 772 1108.8 769.9 1107.3C767.8 1105.8 767 1104.4 767.4 1102.4Z" stroke="#440154" stroke-width="2.3" stroke-linejoin="round" fill="none"/>
<path d="M779.9 1099.9C779.9 1098.2 780.7 1095.7 783.6 1093.8C786.5 1091.9 791.8 1089.9 797.4 1088.6C803 1087.2 810.8 1086.1 817.4 1085.7C824 1085.4 831.9 1085.7 837.3 1086.4C842.7 1087.1 847.2 1088.6 849.8 1089.9C852.4 1091.2 853 1092.6 852.8 1094.4C852.6 1096.2 851.6 1098.7 848.6 1100.5C845.6 1102.4 840.4 1104.2 834.8 1105.4C829.2 1106.7 821.5 1107.7 814.9 1108C808.2 1108.3 800.1 1108 794.9 1107.4C789.7 1106.8 786.1 1105.4 783.6 1104.2C781.1 1102.9 779.9 1101.6 779.9 1099.9Z" stroke="#440154" stroke-width="2.3" stroke-linejoin="round" fill="none"/>
<path d="M789.9 1098.7C789.9 1097.3 790.7 1094.9 793.6 1093.3C796.5 1091.8 802.6 1090.2 807.4 1089.3C812.2 1088.4 817.8 1087.8 822.4 1087.9C827 1088 831.7 1088.8 834.8 1089.8C837.9 1090.7 840.7 1092.1 841.1 1093.7C841.5 1095.3 840.4 1097.6 837.3 1099.1C834.2 1100.7 827.8 1102.1 822.4 1102.9C817 1103.7 809.7 1104 804.9 1103.8C800.1 1103.7 796.1 1102.8 793.6 1102C791.1 1101.1 789.9 1100.1 789.9 1098.7Z" stroke="#440154" stroke-width="2.3" stroke-linejoin="round" fill="none"/>
<path d="M797.4 1097.4C797.4 1096.2 799.1 1094.1 802.4 1093C805.7 1091.9 812.8 1091 817.4 1090.8C822 1090.6 827.1 1091.2 829.8 1091.9C832.5 1092.6 833.6 1093.7 833.6 1094.9C833.6 1096.1 832.9 1097.9 829.8 1098.9C826.7 1099.9 819.5 1100.7 814.9 1100.9C810.3 1101.1 805.3 1100.7 802.4 1100.1C799.5 1099.5 797.4 1098.6 797.4 1097.4Z" stroke="#440154" stroke-width="2.3" stroke-linejoin="round" fill="none"/>
<path d="M803.6 1096.2L812.4 1091.2L824.9 1092.4L827.4 1096.2L817.4 1099.9L807.4 1099.4Z" stroke="#440154" stroke-width="2.3" stroke-linejoin="round" fill="#440154"/>
<path d="M175.7 180.8L179.6 180.9L183.4 180.9L187.3 181L191.1 181.2L195 181.3L198.8 181.6L202.7 181.8L206.5 182.1L210.4 182.5L214.3 182.8L218.1 183.3L222 183.7L225.8 184.2L229.7 184.7L233.5 185.3L237.4 185.9L241.2 186.6L245.1 187.3L248.9 188L252.8 188.7L256.7 189.5L260.5 190.3L264.4 191.2L268.2 192.1L272.1 193L275.9 194L279.8 194.9L283.6 196L287.5 197L291.4 198.1L295.2 199.2L299.1 200.3L302.9 201.5L306.8 202.7L310.6 203.9L314.5 205.1L318.3 206.4L322.2 207.6L326 208.9L329.9 210.3L333.8 211.6L337.6 213L341.5 214.4L345.3 215.8L349.2 217.2L353 218.6L356.9 220L360.7 221.5L364.6 223L368.5 224.5L372.3 225.9L376.2 227.5L380 229L383.9 230.5L387.7 232L391.6 233.5L395.4 235.1L399.3 236.6L403.1 238.1L407 239.7L410.9 241.2L414.7 242.8L418.6 244.3L422.4 245.8L426.3 247.4L430.1 248.9L434 250.4L437.8 251.9L441.7 253.4L445.6 254.9L449.4 256.4L453.3 257.9L457.1 259.3L461 260.8L464.8 262.2L468.7 263.6L472.5 265L476.4 266.4L480.2 267.8L484.1 269.1L488 270.4L491.8 271.7L495.7 273L499.5 274.3L503.4 275.5L507.2 276.7L511.1 277.9L514.9 279.1L518.8 280.2L522.7 281.3L526.5 282.4L530.4 283.4L534.2 284.4L538.1 285.4L541.9 286.4L545.8 287.3L549.6 288.2L553.5 289L557.3 289.9L561.2 290.7L565.1 291.4L568.9 292.1L572.8 292.8L576.6 293.4L580.5 294.1L584.3 294.6L588.2 295.2L592 295.7L595.9 296.1L599.8 296.5L603.6 296.9L607.5 297.3L611.3 297.6L615.2 297.8L619 298L622.9 298.2L626.7 298.4L630.6 298.5L634.4 298.5L638.3 298.5L642.2 298.5L646 298.5L649.9 298.4L653.7 298.2L657.6 298L661.4 297.8L665.3 297.6L669.1 297.3L673 296.9L676.8 296.5L680.7 296.1L684.6 295.7L688.4 295.2L692.3 294.6L696.1 294.1L700 293.4L703.8 292.8L707.7 292.1L711.5 291.4L715.4 290.7L719.3 289.9L723.1 289L727 288.2L730.8 287.3L734.7 286.4L738.5 285.4L742.4 284.4L746.2 283.4L750.1 282.4L753.9 281.3L757.8 280.2L761.7 279.1L765.5 277.9L769.4 276.7L773.2 275.5L777.1 274.3L780.9 273L784.8 271.7L788.6 270.4L792.5 269.1L796.4 267.8L800.2 266.4L804.1 265L807.9 263.6L811.8 262.2L815.6 260.8L819.5 259.3L823.3 257.9L827.2 256.4L831 254.9L834.9 253.4L838.8 251.9L842.6 250.4L846.5 248.9L850.3 247.4L854.2 245.8L858 244.3L861.9 242.8L865.7 241.2L869.6 239.7L873.5 238.1L877.3 236.6L881.2 235.1L885 233.5L888.9 232L892.7 230.5L896.6 229L900.4 227.5L904.3 225.9L908.1 224.5L912 223L915.9 221.5L919.7 220L923.6 218.6L927.4 217.2L931.3 215.8L935.1 214.4L939 213L942.8 211.6L946.7 210.3L950.6 208.9L954.4 207.6L958.3 206.4L962.1 205.1L966 203.9L969.8 202.7L973.7 201.5L977.5 200.3L981.4 199.2L985.2 198.1L989.1 197L993 196L996.8 194.9L1000.7 194L1004.5 193L1008.4 192.1L1012.2 191.2L1016.1 190.3L1019.9 189.5L1023.8 188.7L1027.7 188L1031.5 187.3L1035.4 186.6L1039.2 185.9L1043.1 185.3L1046.9 184.7L1050.8 184.2L1054.6 183.7L1058.5 183.3L1062.3 182.8L1066.2 182.5L1070.1 182.1L1073.9 181.8L1077.8 181.6L1081.6 181.3L1085.5 181.2L1089.3 181L1093.2 180.9L1097 180.9L1100.9 180.8" stroke="#000" stroke-width="5" stroke-linecap="square" fill="none"/>
<path d="M175.7 475.1L179.6 475.1L183.4 475.2L187.3 475.3L191.1 475.4L195 475.6L198.8 475.8L202.7 476.1L206.5 476.4L210.4 476.7L214.3 477.1L218.1 477.5L222 478L225.8 478.5L229.7 479L233.5 479.6L237.4 480.2L241.2 480.8L245.1 481.5L248.9 482.2L252.8 483L256.7 483.8L260.5 484.6L264.4 485.4L268.2 486.3L272.1 487.2L275.9 488.2L279.8 489.2L283.6 490.2L287.5 491.2L291.4 492.3L295.2 493.4L299.1 494.6L302.9 495.7L306.8 496.9L310.6 498.1L314.5 499.3L318.3 500.6L322.2 501.9L326 503.2L329.9 504.5L333.8 505.9L337.6 507.2L341.5 508.6L345.3 510L349.2 511.4L353 512.8L356.9 514.3L360.7 515.8L364.6 517.2L368.5 518.7L372.3 520.2L376.2 521.7L380 523.2L383.9 524.7L387.7 526.3L391.6 527.8L395.4 529.3L399.3 530.9L403.1 532.4L407 533.9L410.9 535.5L414.7 537L418.6 538.6L422.4 540.1L426.3 541.6L430.1 543.1L434 544.7L437.8 546.2L441.7 547.7L445.6 549.2L449.4 550.7L453.3 552.1L457.1 553.6L461 555L464.8 556.5L468.7 557.9L472.5 559.3L476.4 560.7L480.2 562L484.1 563.4L488 564.7L491.8 566L495.7 567.3L499.5 568.5L503.4 569.8L507.2 571L511.1 572.2L514.9 573.3L518.8 574.4L522.7 575.6L526.5 576.6L530.4 577.7L534.2 578.7L538.1 579.7L541.9 580.6L545.8 581.5L549.6 582.4L553.5 583.3L557.3 584.1L561.2 584.9L565.1 585.7L568.9 586.4L572.8 587.1L576.6 587.7L580.5 588.3L584.3 588.9L588.2 589.4L592 589.9L595.9 590.4L599.8 590.8L603.6 591.2L607.5 591.5L611.3 591.8L615.2 592.1L619 592.3L622.9 592.5L626.7 592.6L630.6 592.7L634.4 592.8L638.3 592.8L642.2 592.8L646 592.7L649.9 592.6L653.7 592.5L657.6 592.3L661.4 592.1L665.3 591.8L669.1 591.5L673 591.2L676.8 590.8L680.7 590.4L684.6 589.9L688.4 589.4L692.3 588.9L696.1 588.3L700 587.7L703.8 587.1L707.7 586.4L711.5 585.7L715.4 584.9L719.3 584.1L723.1 583.3L727 582.4L730.8 581.5L734.7 580.6L738.5 579.7L742.4 578.7L746.2 577.7L750.1 576.6L753.9 575.6L757.8 574.4L761.7 573.3L765.5 572.2L769.4 571L773.2 569.8L777.1 568.5L780.9 567.3L784.8 566L788.6 564.7L792.5 563.4L796.4 562L800.2 560.7L804.1 559.3L807.9 557.9L811.8 556.5L815.6 555L819.5 553.6L823.3 552.1L827.2 550.7L831 549.2L834.9 547.7L838.8 546.2L842.6 544.7L846.5 543.1L850.3 541.6L854.2 540.1L858 538.6L861.9 537L865.7 535.5L869.6 533.9L873.5 532.4L877.3 530.9L881.2 529.3L885 527.8L888.9 526.3L892.7 524.7L896.6 523.2L900.4 521.7L904.3 520.2L908.1 518.7L912 517.2L915.9 515.8L919.7 514.3L923.6 512.8L927.4 511.4L931.3 510L935.1 508.6L939 507.2L942.8 505.9L946.7 504.5L950.6 503.2L954.4 501.9L958.3 500.6L962.1 499.3L966 498.1L969.8 496.9L973.7 495.7L977.5 494.6L981.4 493.4L985.2 492.3L989.1 491.2L993 490.2L996.8 489.2L1000.7 488.2L1004.5 487.2L1008.4 486.3L1012.2 485.4L1016.1 484.6L1019.9 483.8L1023.8 483L1027.7 482.2L1031.5 481.5L1035.4 480.8L1039.2 480.2L1043.1 479.6L1046.9 479L1050.8 478.5L1054.6 478L1058.5 477.5L1062.3 477.1L1066.2 476.7L1070.1 476.4L1073.9 476.1L1077.8 475.8L1081.6 475.6L1085.5 475.4L1089.3 475.3L1093.2 475.2L1097 475.1L1100.9 475.1" stroke="#000" stroke-width="5" stroke-linecap="square" fill="none"/>
<path d="M175.7 769.3L179.6 769.4L183.4 769.4L187.3 769.5L191.1 769.7L195 769.8L198.8 770.1L202.7 770.3L206.5 770.6L210.4 771L214.3 771.3L218.1 771.8L222 772.2L225.8 772.7L229.7 773.2L233.5 773.8L237.4 774.4L241.2 775.1L245.1 775.8L248.9 776.5L252.8 777.2L256.7 778L260.5 778.8L264.4 779.7L268.2 780.6L272.1 781.5L275.9 782.5L279.8 783.4L283.6 784.5L287.5 785.5L291.4 786.6L295.2 787.7L299.1 788.8L302.9 790L306.8 791.2L310.6 792.4L314.5 793.6L318.3 794.9L322.2 796.1L326 797.4L329.9 798.8L333.8 800.1L337.6 801.5L341.5 802.9L345.3 804.3L349.2 805.7L353 807.1L356.9 808.5L360.7 810L364.6 811.5L368.5 813L372.3 814.4L376.2 816L380 817.5L383.9 819L387.7 820.5L391.6 822L395.4 823.6L399.3 825.1L403.1 826.6L407 828.2L410.9 829.7L414.7 831.3L418.6 832.8L422.4 834.3L426.3 835.9L430.1 837.4L434 838.9L437.8 840.4L441.7 841.9L445.6 843.4L449.4 844.9L453.3 846.4L457.1 847.8L461 849.3L464.8 850.7L468.7 852.1L472.5 853.5L476.4 854.9L480.2 856.3L484.1 857.6L488 858.9L491.8 860.2L495.7 861.5L499.5 862.8L503.4 864L507.2 865.2L511.1 866.4L514.9 867.6L518.8 868.7L522.7 869.8L526.5 870.9L530.4 871.9L534.2 872.9L538.1 873.9L541.9 874.9L545.8 875.8L549.6 876.7L553.5 877.5L557.3 878.4L561.2 879.2L565.1 879.9L568.9 880.6L572.8 881.3L576.6 881.9L580.5 882.6L584.3 883.1L588.2 883.7L592 884.2L595.9 884.6L599.8 885L603.6 885.4L607.5 885.8L611.3 886.1L615.2 886.3L619 886.5L622.9 886.7L626.7 886.9L630.6 887L634.4 887L638.3 887L642.2 887L646 887L649.9 886.9L653.7 886.7L657.6 886.5L661.4 886.3L665.3 886.1L669.1 885.8L673 885.4L676.8 885L680.7 884.6L684.6 884.2L688.4 883.7L692.3 883.1L696.1 882.6L700 881.9L703.8 881.3L707.7 880.6L711.5 879.9L715.4 879.2L719.3 878.4L723.1 877.5L727 876.7L730.8 875.8L734.7 874.9L738.5 873.9L742.4 872.9L746.2 871.9L750.1 870.9L753.9 869.8L757.8 868.7L761.7 867.6L765.5 866.4L769.4 865.2L773.2 864L777.1 862.8L780.9 861.5L784.8 860.2L788.6 858.9L792.5 857.6L796.4 856.3L800.2 854.9L804.1 853.5L807.9 852.1L811.8 850.7L815.6 849.3L819.5 847.8L823.3 846.4L827.2 844.9L831 843.4L834.9 841.9L838.8 840.4L842.6 838.9L846.5 837.4L850.3 835.9L854.2 834.3L858 832.8L861.9 831.3L865.7 829.7L869.6 828.2L873.5 826.6L877.3 825.1L881.2 823.6L885 822L888.9 820.5L892.7 819L896.6 817.5L900.4 816L904.3 814.4L908.1 813L912 811.5L915.9 810L919.7 808.5L923.6 807.1L927.4 805.7L931.3 804.3L935.1 802.9L939 801.5L942.8 800.1L946.7 798.8L950.6 797.4L954.4 796.1L958.3 794.9L962.1 793.6L966 792.4L969.8 791.2L973.7 790L977.5 788.8L981.4 787.7L985.2 786.6L989.1 785.5L993 784.5L996.8 783.4L1000.7 782.5L1004.5 781.5L1008.4 780.6L1012.2 779.7L1016.1 778.8L1019.9 778L1023.8 777.2L1027.7 776.5L1031.5 775.8L1035.4 775.1L1039.2 774.4L1043.1 773.8L1046.9 773.2L1050.8 772.7L1054.6 772.2L1058.5 771.8L1062.3 771.3L1066.2 771L1070.1 770.6L1073.9 770.3L1077.8 770.1L1081.6 769.8L1085.5 769.7L1089.3 769.5L1093.2 769.4L1097 769.4L1100.9 769.3" stroke="#000" stroke-width="5" stroke-linecap="square" fill="none"/>
<path d="M175.7 1063.6L179.6 1063.6L183.4 1063.7L187.3 1063.8L191.1 1063.9L195 1064.1L198.8 1064.3L202.7 1064.6L206.5 1064.9L210.4 1065.2L214.3 1065.6L218.1 1066L222 1066.5L225.8 1067L229.7 1067.5L233.5 1068.1L237.4 1068.7L241.2 1069.3L245.1 1070L248.9 1070.7L252.8 1071.5L256.7 1072.3L260.5 1073.1L264.4 1073.9L268.2 1074.8L272.1 1075.7L275.9 1076.7L279.8 1077.7L283.6 1078.7L287.5 1079.7L291.4 1080.8L295.2 1081.9L299.1 1083.1L302.9 1084.2L306.8 1085.4L310.6 1086.6L314.5 1087.8L318.3 1089.1L322.2 1090.4L326 1091.7L329.9 1093L333.8 1094.4L337.6 1095.7L341.5 1097.1L345.3 1098.5L349.2 1099.9L353 1101.3L356.9 1102.8L360.7 1104.3L364.6 1105.7L368.5 1107.2L372.3 1108.7L376.2 1110.2L380 1111.7L383.9 1113.2L387.7 1114.8L391.6 1116.3L395.4 1117.8L399.3 1119.4L403.1 1120.9L407 1122.4L410.9 1124L414.7 1125.5L418.6 1127.1L422.4 1128.6L426.3 1130.1L430.1 1131.6L434 1133.2L437.8 1134.7L441.7 1136.2L445.6 1137.7L449.4 1139.2L453.3 1140.6L457.1 1142.1L461 1143.5L464.8 1145L468.7 1146.4L472.5 1147.8L476.4 1149.2L480.2 1150.5L484.1 1151.9L488 1153.2L491.8 1154.5L495.7 1155.8L499.5 1157L503.4 1158.3L507.2 1159.5L511.1 1160.7L514.9 1161.8L518.8 1162.9L522.7 1164.1L526.5 1165.1L530.4 1166.2L534.2 1167.2L538.1 1168.2L541.9 1169.1L545.8 1170L549.6 1170.9L553.5 1171.8L557.3 1172.6L561.2 1173.4L565.1 1174.2L568.9 1174.9L572.8 1175.6L576.6 1176.2L580.5 1176.8L584.3 1177.4L588.2 1177.9L592 1178.4L595.9 1178.9L599.8 1179.3L603.6 1179.7L607.5 1180L611.3 1180.3L615.2 1180.6L619 1180.8L622.9 1181L626.7 1181.1L630.6 1181.2L634.4 1181.3L638.3 1181.3L642.2 1181.3L646 1181.2L649.9 1181.1L653.7 1181L657.6 1180.8L661.4 1180.6L665.3 1180.3L669.1 1180L673 1179.7L676.8 1179.3L680.7 1178.9L684.6 1178.4L688.4 1177.9L692.3 1177.4L696.1 1176.8L700 1176.2L703.8 1175.6L707.7 1174.9L711.5 1174.2L715.4 1173.4L719.3 1172.6L723.1 1171.8L727 1170.9L730.8 1170L734.7 1169.1L738.5 1168.2L742.4 1167.2L746.2 1166.2L750.1 1165.1L753.9 1164.1L757.8 1162.9L761.7 1161.8L765.5 1160.7L769.4 1159.5L773.2 1158.3L777.1 1157L780.9 1155.8L784.8 1154.5L788.6 1153.2L792.5 1151.9L796.4 1150.5L800.2 1149.2L804.1 1147.8L807.9 1146.4L811.8 1145L815.6 1143.5L819.5 1142.1L823.3 1140.6L827.2 1139.2L831 1137.7L834.9 1136.2L838.8 1134.7L842.6 1133.2L846.5 1131.6L850.3 1130.1L854.2 1128.6L858 1127.1L861.9 1125.5L865.7 1124L869.6 1122.4L873.5 1120.9L877.3 1119.4L881.2 1117.8L885 1116.3L888.9 1114.8L892.7 1113.2L896.6 1111.7L900.4 1110.2L904.3 1108.7L908.1 1107.2L912 1105.7L915.9 1104.3L919.7 1102.8L923.6 1101.3L927.4 1099.9L931.3 1098.5L935.1 1097.1L939 1095.7L942.8 1094.4L946.7 1093L950.6 1091.7L954.4 1090.4L958.3 1089.1L962.1 1087.8L966 1086.6L969.8 1085.4L973.7 1084.2L977.5 1083.1L981.4 1081.9L985.2 1080.8L989.1 1079.7L993 1078.7L996.8 1077.7L1000.7 1076.7L1004.5 1075.7L1008.4 1074.8L1012.2 1073.9L1016.1 1073.1L1019.9 1072.3L1023.8 1071.5L1027.7 1070.7L1031.5 1070L1035.4 1069.3L1039.2 1068.7L1043.1 1068.1L1046.9 1067.5L1050.8 1067L1054.6 1066.5L1058.5 1066L1062.3 1065.6L1066.2 1065.2L1070.1 1064.9L1073.9 1064.6L1077.8 1064.3L1081.6 1064.1L1085.5 1063.9L1089.3 1063.8L1093.2 1063.7L1097 1063.6L1100.9 1063.6" stroke="#000" stroke-width="5" stroke-linecap="square" fill="none"/>
<path d="M155.4 19H1121.5M155.4 313.2H1121.5M155.4 607.5H1121.5M155.4 901.8H1121.5M155.4 1196H1121.5M157.1 19V1196M1119.8 19V1196M139.3 19H157.1M139.3 92.6H157.1M139.3 239.7H157.1M139.3 313.2H157.1M139.3 386.8H157.1M139.3 533.9H157.1M139.3 607.5H157.1M139.3 681.1H157.1M139.3 828.2H157.1M139.3 901.8H157.1M139.3 975.3H157.1M139.3 1122.4H157.1M175.7 1196V1213.6M638.3 1196V1213.6M1100.9 1196V1213.6" stroke="#000" stroke-width="3.6" fill="none"/>
</svg>
<div class="t" style="left:42.0px;top:-6.2px;font-size:52.1px;transform:scaleX(1.083)">0.5</div>
<div class="t" style="left:42.2px;top:86.7px;font-size:52.1px;transform:scaleX(1.091)">0.0</div>
<div class="t" style="left:43.2px;top:185.1px;font-size:52.3px;transform:scaleX(1.086)">1.0</div>
<div class="t" style="left:2.1px;top:186.8px;font-size:52.1px;transform:scaleX(1.241);-webkit-text-stroke-width:0.8px">&minus;</div>
<div class="t" style="left:42.0px;top:288.1px;font-size:52.1px;transform:scaleX(1.083)">0.5</div>
<div class="t" style="left:90.8px;top:381.0px;font-size:52.1px;transform:scaleX(1.055)">0</div>
<div class="t" style="left:43.2px;top:479.4px;font-size:52.3px;transform:scaleX(1.086)">1.0</div>
<div class="t" style="left:2.1px;top:481.1px;font-size:52.1px;transform:scaleX(1.241);-webkit-text-stroke-width:0.8px">&minus;</div>
<div class="t" style="left:42.0px;top:582.4px;font-size:52.1px;transform:scaleX(1.083)">0.5</div>
<div class="t" style="left:90.8px;top:675.3px;font-size:52.1px;transform:scaleX(1.055)">0</div>
<div class="t" style="left:43.2px;top:773.7px;font-size:52.3px;transform:scaleX(1.086)">1.0</div>
<div class="t" style="left:2.1px;top:775.4px;font-size:52.1px;transform:scaleX(1.241);-webkit-text-stroke-width:0.8px">&minus;</div>
<div class="t" style="left:42.0px;top:876.7px;font-size:52.1px;transform:scaleX(1.083)">0.5</div>
<div class="t" style="left:90.8px;top:969.6px;font-size:52.1px;transform:scaleX(1.055)">0</div>
<div class="t" style="left:43.2px;top:1068.0px;font-size:52.3px;transform:scaleX(1.086)">1.0</div>
<div class="t" style="left:2.1px;top:1069.7px;font-size:52.1px;transform:scaleX(1.241);-webkit-text-stroke-width:0.8px">&minus;</div>
<div class="t" style="left:623.0px;top:1224.7px;font-size:52.8px;transform:scaleX(1.033)">0</div>
<div class="t" style="left:140.7px;top:1223.5px;font-size:52.8px;transform:scaleX(1.209);-webkit-text-stroke-width:0.8px">&minus;</div>
<div class="t i" style="left:180.5px;top:1223.4px;font-size:51.3px;transform:scaleX(0.888);-webkit-text-stroke-width:1.1px">&pi;</div>
<div class="t i" style="left:1084.6px;top:1223.9px;font-size:50.7px;transform:scaleX(0.838);-webkit-text-stroke-width:1.1px">&pi;</div>
<div class="t" style="left:1001.7px;top:239.7px;font-size:42.4px;transform:scaleX(1.095)">80</div>
<div class="t" style="left:956.4px;top:241.9px;font-size:42.4px;transform:scaleX(1.288);-webkit-text-stroke-width:0.7px">=</div>
<div class="t i" style="left:923.7px;top:239.7px;font-size:43.0px;transform:scaleX(1.269);-webkit-text-stroke-width:0.8px">t</div>
<div class="t" style="left:977.0px;top:534.0px;font-size:42.4px;transform:scaleX(1.076)">700</div>
<div class="t" style="left:931.1px;top:536.2px;font-size:42.4px;transform:scaleX(1.288);-webkit-text-stroke-width:0.7px">=</div>
<div class="t i" style="left:898.4px;top:534.0px;font-size:43.0px;transform:scaleX(1.269);-webkit-text-stroke-width:0.8px">t</div>
<div class="t" style="left:977.0px;top:828.3px;font-size:42.4px;transform:scaleX(1.076)">720</div>
<div class="t" style="left:931.1px;top:830.5px;font-size:42.4px;transform:scaleX(1.288);-webkit-text-stroke-width:0.7px">=</div>
<div class="t i" style="left:898.4px;top:828.3px;font-size:43.0px;transform:scaleX(1.269);-webkit-text-stroke-width:0.8px">t</div>
<div class="t" style="left:975.9px;top:1122.6px;font-size:42.4px;transform:scaleX(1.092)">800</div>
<div class="t" style="left:931.1px;top:1124.8px;font-size:42.4px;transform:scaleX(1.288);-webkit-text-stroke-width:0.7px">=</div>
<div class="t i" style="left:898.4px;top:1122.6px;font-size:43.0px;transform:scaleX(1.269);-webkit-text-stroke-width:0.8px">t</div>
</div></body></html>
